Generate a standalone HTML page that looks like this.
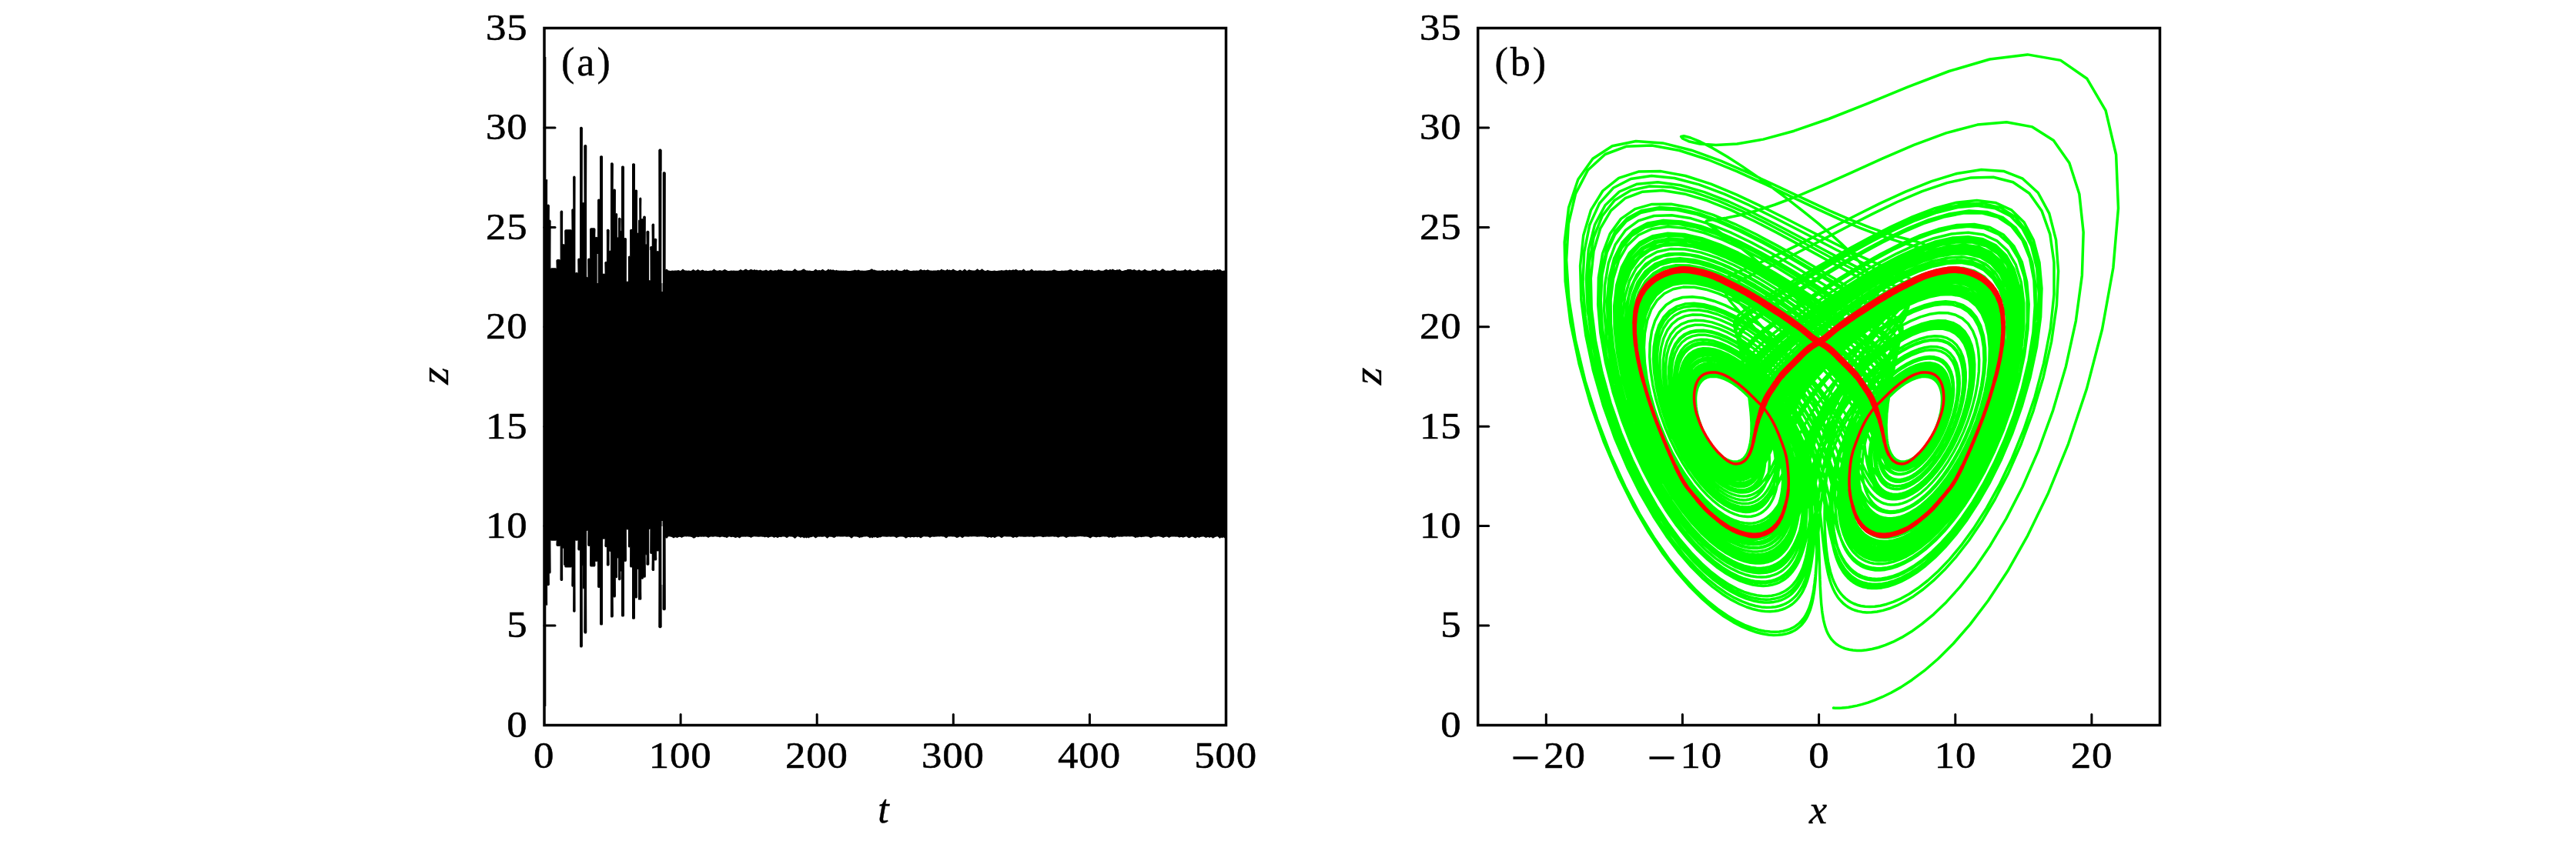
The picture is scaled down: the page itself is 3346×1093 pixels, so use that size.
<!DOCTYPE html>
<html><head><meta charset="utf-8"><title>Figure</title>
<style>html,body{margin:0;padding:0;background:#fff}svg{display:block}</style></head>
<body>
<svg width="3346" height="1093" viewBox="0 0 3346 1093">
<rect width="3346" height="1093" fill="#fff"/>
<g fill="#000">
<polygon points="706.5,372.0 706.5,330.0 709.2,234.1 711.1,234.1 710.6,266.9 713.7,266.9 713.2,286.9 715.4,286.9 714.9,349.7 723.1,349.7 722.6,338.3 727.9,338.3 727.7,274.9 731.1,274.9 730.6,318.3 732.5,318.3 732.0,318.3 733.9,318.3 733.4,299.7 743.0,299.7 742.5,272.6 744.8,272.6 744.3,229.8 747.3,229.8 746.8,355.4 751.0,355.4 750.5,336.8 753.6,336.8 753.1,166.2 756.7,166.2 756.2,264.1 757.6,264.1 757.1,264.1 759.0,264.1 758.5,189.3 762.2,189.3 761.7,361.1 763.9,361.1 763.4,336.8 766.7,336.8 766.2,297.7 773.3,297.7 772.8,309.2 776.1,309.2 776.2,259.8 779.6,259.8 779.1,203.6 783.0,203.6 782.5,356.8 786.1,356.8 785.6,341.1 788.4,341.1 787.9,299.2 791.5,299.2 791.0,326.8 793.5,326.8 793.0,212.7 796.7,212.7 796.2,247.0 799.8,247.0 799.3,278.3 802.1,278.3 801.6,309.7 803.5,309.7 803.0,284.1 806.4,284.1 805.9,301.2 807.5,301.2 807.0,217.0 810.9,217.0 810.4,310.3 813.8,310.3 813.3,366.8 816.4,366.8 815.9,334.0 818.7,334.0 818.2,299.2 821.5,299.2 821.0,213.6 824.9,213.6 824.4,247.8 828.1,247.8 827.6,304.0 829.5,304.0 829.0,286.9 830.9,286.9 830.4,257.8 833.2,257.8 832.7,285.5 835.8,285.5 835.3,281.8 838.6,281.8 838.1,318.3 840.1,318.3 839.6,301.2 843.2,301.2 842.7,365.4 844.9,365.4 844.4,321.1 847.2,321.1 846.7,292.0 850.0,292.0 849.5,311.2 853.2,311.2 852.7,327.4 856.0,327.4 855.5,195.0 859.5,195.0 859.1,373.4 861.0,373.4 860.7,224.7 864.6,224.7 864.1,351.1 867.4,351.1 866.0,372.0 866.0,680.0 867.4,698.0 864.1,698.0 864.6,791.8 860.7,791.8 861.0,678.6 859.1,678.6 859.5,814.9 855.5,814.9 856.0,715.1 852.7,715.1 853.2,727.1 849.5,727.1 850.0,740.8 846.7,740.8 847.2,718.5 844.4,718.5 844.9,686.6 842.7,686.6 843.2,733.4 839.6,733.4 840.1,719.9 838.1,719.9 838.6,749.3 835.3,749.3 835.8,751.3 832.7,751.3 833.2,778.4 830.4,778.4 830.9,778.4 829.0,778.4 829.5,738.5 827.6,738.5 828.1,776.1 824.4,776.1 824.9,803.3 821.0,803.3 821.5,736.2 818.2,736.2 818.7,710.0 815.9,710.0 816.4,687.1 813.3,687.1 813.8,728.5 810.4,728.5 810.9,800.1 807.0,800.1 807.5,741.3 805.9,741.3 806.4,752.8 803.0,752.8 803.5,724.2 801.6,724.2 802.1,749.9 799.3,749.9 799.8,775.0 796.2,775.0 796.7,801.3 793.0,801.3 793.5,715.7 791.0,715.7 791.5,734.2 787.9,734.2 788.4,710.0 785.6,710.0 786.1,699.4 782.5,699.4 783.0,811.2 779.1,811.2 779.6,762.7 776.2,762.7 776.1,728.5 772.8,728.5 773.3,735.1 766.2,735.1 766.7,708.5 763.4,708.5 763.9,688.6 761.7,688.6 762.2,822.1 758.5,822.1 759.0,764.2 757.1,764.2 757.6,734.2 756.2,734.2 756.7,840.1 753.1,840.1 753.6,714.2 750.5,714.2 751.0,701.4 746.8,701.4 747.3,794.4 744.3,794.4 744.8,761.3 742.5,761.3 743.0,736.2 733.4,736.2 733.9,733.4 732.0,733.4 732.5,711.4 730.6,711.4 731.1,753.6 727.7,753.6 727.9,708.5 722.6,708.5 723.1,701.4 714.9,701.4 715.4,744.2 713.2,744.2 713.7,759.9 710.6,759.9 711.1,785.6 709.2,785.6 706.5,700.0 706.5,680.0"/>
<rect x="706.5" y="368" width="160" height="316"/>
<rect x="709.2" y="232.7" width="1.9" height="554.2" rx="1.5"/>
<rect x="710.6" y="265.5" width="3.1" height="495.7" rx="1.5"/>
<rect x="713.2" y="285.5" width="2.2" height="460.1" rx="1.5"/>
<rect x="714.9" y="348.3" width="8.2" height="354.5" rx="1.5"/>
<rect x="722.6" y="336.9" width="5.4" height="373.1" rx="1.5"/>
<rect x="727.7" y="273.5" width="3.4" height="481.5" rx="1.5"/>
<rect x="730.6" y="316.9" width="1.9" height="395.9" rx="1.5"/>
<rect x="732.0" y="316.9" width="1.9" height="417.9" rx="1.5"/>
<rect x="733.4" y="298.3" width="9.6" height="439.3" rx="1.5"/>
<rect x="742.5" y="271.2" width="2.2" height="491.5" rx="1.5"/>
<rect x="744.3" y="228.4" width="3.1" height="567.4" rx="1.5"/>
<rect x="746.8" y="354.0" width="4.2" height="348.8" rx="1.5"/>
<rect x="750.5" y="335.4" width="3.1" height="380.2" rx="1.5"/>
<rect x="753.1" y="164.8" width="3.6" height="676.6" rx="1.5"/>
<rect x="756.2" y="262.7" width="1.4" height="472.9" rx="1.5"/>
<rect x="757.1" y="262.7" width="1.9" height="502.9" rx="1.5"/>
<rect x="758.5" y="187.9" width="3.6" height="635.5" rx="1.5"/>
<rect x="761.7" y="359.7" width="2.2" height="330.3" rx="1.5"/>
<rect x="763.4" y="335.4" width="3.4" height="374.5" rx="1.5"/>
<rect x="766.2" y="296.3" width="7.1" height="440.1" rx="1.5"/>
<rect x="772.8" y="307.8" width="3.4" height="422.1" rx="1.5"/>
<rect x="776.2" y="258.4" width="3.4" height="505.7" rx="1.5"/>
<rect x="779.1" y="202.2" width="3.9" height="610.4" rx="1.5"/>
<rect x="782.5" y="355.4" width="3.6" height="345.4" rx="1.5"/>
<rect x="785.6" y="339.7" width="2.8" height="371.6" rx="1.5"/>
<rect x="787.9" y="297.8" width="3.6" height="437.8" rx="1.5"/>
<rect x="791.0" y="325.4" width="2.5" height="391.6" rx="1.5"/>
<rect x="793.0" y="211.3" width="3.6" height="591.3" rx="1.5"/>
<rect x="796.2" y="245.6" width="3.6" height="530.8" rx="1.5"/>
<rect x="799.3" y="276.9" width="2.8" height="474.4" rx="1.5"/>
<rect x="801.6" y="308.3" width="1.9" height="417.3" rx="1.5"/>
<rect x="803.0" y="282.7" width="3.4" height="471.5" rx="1.5"/>
<rect x="805.9" y="299.8" width="1.6" height="443.0" rx="1.5"/>
<rect x="807.0" y="215.6" width="3.9" height="585.9" rx="1.5"/>
<rect x="810.4" y="308.9" width="3.4" height="421.0" rx="1.5"/>
<rect x="813.3" y="365.4" width="3.1" height="323.1" rx="1.5"/>
<rect x="815.9" y="332.6" width="2.8" height="378.8" rx="1.5"/>
<rect x="818.2" y="297.8" width="3.4" height="439.8" rx="1.5"/>
<rect x="821.0" y="212.2" width="3.9" height="592.5" rx="1.5"/>
<rect x="824.4" y="246.4" width="3.6" height="531.1" rx="1.5"/>
<rect x="827.6" y="302.6" width="1.9" height="437.3" rx="1.5"/>
<rect x="829.0" y="285.5" width="1.9" height="494.3" rx="1.5"/>
<rect x="830.4" y="256.4" width="2.8" height="523.4" rx="1.5"/>
<rect x="832.7" y="284.1" width="3.1" height="468.6" rx="1.5"/>
<rect x="835.3" y="280.4" width="3.4" height="470.4" rx="1.5"/>
<rect x="838.1" y="316.9" width="1.9" height="404.5" rx="1.5"/>
<rect x="839.6" y="299.8" width="3.6" height="435.0" rx="1.5"/>
<rect x="842.7" y="364.0" width="2.2" height="324.0" rx="1.5"/>
<rect x="844.4" y="319.7" width="2.8" height="400.2" rx="1.5"/>
<rect x="846.7" y="290.6" width="3.4" height="451.5" rx="1.5"/>
<rect x="849.5" y="309.8" width="3.6" height="418.7" rx="1.5"/>
<rect x="852.7" y="326.0" width="3.4" height="390.5" rx="1.5"/>
<rect x="855.5" y="193.6" width="3.9" height="622.7" rx="1.5"/>
<rect x="859.1" y="372.0" width="1.9" height="308.0" rx="1.5"/>
<rect x="860.7" y="223.3" width="3.9" height="569.9" rx="1.5"/>
<rect x="864.1" y="349.7" width="3.4" height="349.7" rx="1.5"/>
<polygon points="864.4,360.0 864.8,354.5 865.6,352.5 866.0,351.7 867.5,351.5 869.0,351.6 870.5,351.9 872.0,351.8 873.5,351.5 875.0,351.8 876.5,351.5 878.0,351.6 879.5,351.5 881.0,350.9 882.5,351.5 884.0,352.0 885.5,350.8 887.0,349.6 888.5,350.8 890.0,351.4 891.5,351.6 893.0,351.7 894.5,351.4 896.0,351.8 897.5,351.9 899.0,350.9 900.5,349.9 902.0,350.9 903.5,351.8 905.0,350.9 906.5,349.9 908.0,350.9 909.5,351.8 911.0,351.3 912.5,350.5 914.0,351.3 915.5,351.9 917.0,351.6 918.5,351.9 920.0,351.9 921.5,351.8 923.0,351.5 924.5,351.8 926.0,350.7 927.5,349.4 929.0,350.7 930.5,351.5 932.0,351.7 933.5,351.5 935.0,350.9 936.5,351.5 938.0,351.8 939.5,350.9 941.0,349.9 942.5,350.5 944.0,351.3 945.5,351.9 947.0,351.9 948.5,351.8 950.0,351.5 951.5,351.8 953.0,351.4 954.5,351.7 956.0,351.7 957.5,351.7 959.0,351.7 960.5,351.0 962.0,350.0 963.5,351.0 965.0,351.4 966.5,350.8 968.0,349.7 969.5,349.8 971.0,350.9 972.5,351.3 974.0,350.6 975.5,349.7 977.0,350.5 978.5,351.0 980.0,350.1 981.5,351.0 983.0,350.4 984.5,351.2 986.0,351.3 987.5,350.6 989.0,351.3 990.5,351.8 992.0,351.5 993.5,351.3 995.0,350.6 996.5,351.3 998.0,351.9 999.5,351.2 1001.0,350.4 1002.5,351.2 1004.0,351.8 1005.5,351.5 1007.0,351.0 1008.5,351.5 1010.0,351.0 1011.5,350.1 1013.0,350.9 1014.5,349.9 1016.0,350.9 1017.5,351.7 1019.0,351.9 1020.5,351.8 1022.0,351.5 1023.5,351.8 1025.0,351.7 1026.5,351.7 1028.0,351.9 1029.5,351.8 1031.0,350.6 1032.5,349.2 1034.0,350.6 1035.5,351.5 1037.0,351.8 1038.5,351.6 1040.0,351.6 1041.5,350.8 1043.0,349.7 1044.5,349.5 1046.0,350.7 1047.5,351.6 1049.0,351.6 1050.5,351.8 1052.0,351.6 1053.5,351.9 1055.0,352.0 1056.5,351.9 1058.0,350.8 1059.5,349.7 1061.0,350.8 1062.5,351.4 1064.0,350.8 1065.5,351.4 1067.0,350.8 1068.5,349.7 1070.0,350.8 1071.5,351.8 1073.0,351.8 1074.5,350.7 1076.0,349.5 1077.5,350.7 1079.0,350.1 1080.5,351.1 1082.0,350.3 1083.5,351.1 1085.0,351.4 1086.5,350.8 1088.0,351.4 1089.5,351.4 1091.0,351.8 1092.5,351.6 1094.0,351.7 1095.5,351.6 1097.0,351.7 1098.5,351.4 1100.0,351.8 1101.5,351.9 1103.0,352.0 1104.5,352.1 1106.0,351.8 1107.5,351.5 1109.0,351.3 1110.5,350.5 1112.0,351.3 1113.5,351.3 1115.0,350.5 1116.5,351.3 1118.0,351.8 1119.5,351.4 1121.0,351.8 1122.5,351.7 1124.0,351.7 1125.5,351.6 1127.0,351.2 1128.5,350.9 1130.0,350.7 1131.5,349.5 1133.0,349.4 1134.5,350.7 1136.0,350.5 1137.5,351.2 1139.0,351.5 1140.5,351.8 1142.0,351.5 1143.5,351.7 1145.0,351.4 1146.5,351.0 1148.0,351.5 1149.5,352.0 1151.0,351.4 1152.5,350.7 1154.0,351.4 1155.5,351.7 1157.0,351.3 1158.5,350.6 1160.0,351.3 1161.5,351.8 1163.0,351.0 1164.5,350.1 1166.0,351.0 1167.5,351.7 1169.0,351.7 1170.5,351.9 1172.0,351.7 1173.5,351.1 1175.0,350.1 1176.5,351.0 1178.0,350.1 1179.5,351.0 1181.0,351.6 1182.5,351.9 1184.0,351.9 1185.5,351.7 1187.0,351.6 1188.5,351.8 1190.0,351.5 1191.5,351.6 1193.0,351.8 1194.5,350.8 1196.0,349.7 1197.5,350.8 1199.0,351.2 1200.5,350.5 1202.0,351.2 1203.5,351.1 1205.0,350.3 1206.5,351.1 1208.0,351.5 1209.5,351.6 1211.0,351.8 1212.5,351.6 1214.0,351.5 1215.5,351.5 1217.0,351.4 1218.5,350.7 1220.0,351.4 1221.5,350.8 1223.0,349.6 1224.5,350.8 1226.0,350.7 1227.5,351.4 1229.0,350.9 1230.5,349.8 1232.0,350.9 1233.5,350.6 1235.0,351.3 1236.5,350.7 1238.0,349.4 1239.5,350.5 1241.0,351.3 1242.5,351.8 1244.0,352.0 1245.5,351.2 1247.0,350.4 1248.5,351.2 1250.0,351.9 1251.5,350.8 1253.0,349.6 1254.5,350.8 1256.0,351.9 1257.5,351.1 1259.0,350.3 1260.5,351.1 1262.0,351.2 1263.5,351.6 1265.0,351.5 1266.5,351.5 1268.0,350.6 1269.5,349.2 1271.0,350.6 1272.5,351.2 1274.0,350.6 1275.5,349.3 1277.0,350.6 1278.5,351.6 1280.0,351.9 1281.5,351.4 1283.0,350.8 1284.5,351.4 1286.0,351.7 1287.5,351.9 1289.0,352.0 1290.5,351.8 1292.0,351.6 1293.5,351.9 1295.0,352.0 1296.5,351.8 1298.0,351.6 1299.5,351.5 1301.0,351.1 1302.5,351.6 1304.0,351.6 1305.5,351.3 1307.0,350.5 1308.5,351.3 1310.0,351.3 1311.5,350.6 1313.0,351.3 1314.5,351.1 1316.0,350.2 1317.5,350.9 1319.0,349.9 1320.5,350.3 1322.0,351.2 1323.5,351.5 1325.0,350.9 1326.5,351.5 1328.0,350.7 1329.5,349.5 1331.0,350.7 1332.5,351.9 1334.0,351.8 1335.5,351.6 1337.0,351.8 1338.5,350.7 1340.0,349.5 1341.5,350.7 1343.0,351.9 1344.5,351.6 1346.0,351.4 1347.5,351.8 1349.0,351.6 1350.5,351.5 1352.0,351.5 1353.5,351.8 1355.0,351.8 1356.5,351.4 1358.0,351.8 1359.5,351.9 1361.0,351.7 1362.5,351.8 1364.0,351.6 1365.5,351.8 1367.0,351.2 1368.5,350.4 1370.0,350.6 1371.5,351.3 1373.0,351.8 1374.5,352.0 1376.0,351.9 1377.5,351.9 1379.0,351.6 1380.5,351.8 1382.0,351.8 1383.5,351.4 1385.0,351.5 1386.5,351.5 1388.0,351.1 1389.5,350.3 1391.0,350.3 1392.5,351.1 1394.0,352.0 1395.5,351.8 1397.0,351.3 1398.5,350.6 1400.0,351.3 1401.5,351.8 1403.0,351.9 1404.5,351.7 1406.0,351.9 1407.5,350.9 1409.0,349.9 1410.5,350.9 1412.0,350.3 1413.5,351.2 1415.0,350.3 1416.5,351.2 1418.0,350.5 1419.5,351.3 1421.0,352.1 1422.5,351.8 1424.0,351.4 1425.5,351.2 1427.0,350.4 1428.5,351.2 1430.0,351.8 1431.5,351.8 1433.0,351.8 1434.5,351.1 1436.0,350.2 1437.5,350.1 1439.0,351.0 1440.5,350.8 1442.0,349.7 1443.5,350.8 1445.0,349.6 1446.5,350.2 1448.0,351.1 1449.5,351.1 1451.0,350.2 1452.5,350.8 1454.0,349.7 1455.5,350.8 1457.0,351.9 1458.5,351.9 1460.0,351.5 1461.5,351.0 1463.0,351.0 1464.5,350.0 1466.0,350.1 1467.5,349.9 1469.0,350.0 1470.5,351.0 1472.0,350.6 1473.5,349.9 1475.0,351.0 1476.5,351.6 1478.0,351.2 1479.5,350.3 1481.0,351.2 1482.5,351.7 1484.0,351.4 1485.5,350.8 1487.0,349.7 1488.5,350.8 1490.0,351.5 1491.5,351.8 1493.0,351.7 1494.5,351.9 1496.0,351.2 1497.5,350.3 1499.0,350.9 1500.5,349.8 1502.0,350.8 1503.5,351.4 1505.0,351.8 1506.5,351.9 1508.0,350.8 1509.5,349.6 1511.0,349.4 1512.5,350.7 1514.0,351.7 1515.5,351.8 1517.0,351.5 1518.5,351.8 1520.0,351.8 1521.5,351.5 1523.0,350.9 1524.5,350.7 1526.0,349.4 1527.5,350.7 1529.0,351.8 1530.5,351.5 1532.0,351.8 1533.5,351.8 1535.0,351.6 1536.5,351.6 1538.0,350.9 1539.5,349.8 1541.0,350.9 1542.5,351.5 1544.0,351.1 1545.5,350.1 1547.0,351.1 1548.5,351.9 1550.0,351.8 1551.5,351.9 1553.0,351.6 1554.5,351.0 1556.0,350.2 1557.5,351.1 1559.0,351.8 1560.5,351.8 1562.0,351.5 1563.5,351.2 1565.0,350.4 1566.5,351.2 1568.0,350.5 1569.5,351.3 1571.0,350.9 1572.5,351.5 1574.0,351.5 1575.5,351.0 1577.0,350.1 1578.5,351.0 1580.0,350.8 1581.5,349.7 1583.0,350.8 1584.5,349.8 1586.0,350.9 1587.5,352.0 1589.0,351.8 1590.5,351.4 1592.0,351.8 1592.5,351.0 1592.5,698.0 1592.0,699.8 1590.5,699.2 1589.0,698.3 1587.5,699.3 1586.0,698.6 1584.5,699.9 1583.0,698.6 1581.5,697.3 1580.0,697.4 1578.5,698.0 1577.0,698.7 1575.5,699.7 1574.0,698.5 1572.5,698.1 1571.0,698.9 1569.5,698.1 1568.0,698.2 1566.5,699.1 1565.0,698.2 1563.5,697.4 1562.0,697.4 1560.5,697.7 1559.0,698.1 1557.5,699.1 1556.0,698.1 1554.5,698.4 1553.0,699.5 1551.5,698.9 1550.0,698.1 1548.5,697.4 1547.0,698.1 1545.5,699.0 1544.0,699.2 1542.5,698.2 1541.0,697.3 1539.5,697.7 1538.0,698.3 1536.5,698.7 1535.0,697.9 1533.5,697.9 1532.0,698.7 1530.5,697.9 1529.0,697.4 1527.5,697.8 1526.0,697.4 1524.5,697.4 1523.0,697.6 1521.5,697.5 1520.0,698.0 1518.5,698.9 1517.0,698.0 1515.5,697.6 1514.0,697.7 1512.5,698.2 1511.0,699.1 1509.5,698.2 1508.0,697.7 1506.5,697.4 1505.0,697.1 1503.5,697.2 1502.0,697.4 1500.5,697.7 1499.0,697.5 1497.5,698.0 1496.0,698.8 1494.5,699.2 1493.0,698.2 1491.5,697.6 1490.0,697.4 1488.5,697.3 1487.0,697.5 1485.5,697.8 1484.0,697.7 1482.5,698.3 1481.0,697.7 1479.5,697.8 1478.0,698.4 1476.5,698.2 1475.0,699.3 1473.5,698.2 1472.0,697.4 1470.5,697.2 1469.0,697.3 1467.5,697.6 1466.0,697.3 1464.5,697.2 1463.0,697.4 1461.5,697.3 1460.0,697.3 1458.5,697.6 1457.0,697.7 1455.5,697.6 1454.0,697.8 1452.5,697.4 1451.0,697.2 1449.5,698.0 1448.0,698.8 1446.5,698.2 1445.0,699.1 1443.5,698.2 1442.0,698.1 1440.5,699.0 1439.0,698.1 1437.5,697.4 1436.0,697.4 1434.5,697.6 1433.0,697.3 1431.5,697.6 1430.0,697.7 1428.5,698.3 1427.0,697.7 1425.5,697.9 1424.0,698.6 1422.5,697.9 1421.0,697.8 1419.5,697.4 1418.0,698.3 1416.5,699.4 1415.0,699.0 1413.5,698.1 1412.0,697.8 1410.5,697.4 1409.0,697.7 1407.5,697.4 1406.0,697.3 1404.5,697.2 1403.0,697.1 1401.5,697.2 1400.0,697.3 1398.5,697.5 1397.0,697.7 1395.5,697.8 1394.0,697.4 1392.5,697.8 1391.0,697.4 1389.5,697.4 1388.0,697.8 1386.5,698.3 1385.0,699.3 1383.5,698.3 1382.0,697.4 1380.5,697.3 1379.0,697.4 1377.5,697.6 1376.0,698.0 1374.5,698.8 1373.0,698.0 1371.5,697.4 1370.0,697.8 1368.5,697.4 1367.0,697.2 1365.5,697.4 1364.0,697.4 1362.5,697.8 1361.0,697.5 1359.5,697.5 1358.0,697.7 1356.5,697.7 1355.0,698.2 1353.5,697.7 1352.0,697.2 1350.5,697.3 1349.0,697.3 1347.5,697.4 1346.0,697.5 1344.5,697.8 1343.0,698.5 1341.5,697.8 1340.0,697.6 1338.5,697.6 1337.0,697.7 1335.5,697.4 1334.0,697.5 1332.5,697.7 1331.0,697.8 1329.5,697.7 1328.0,697.6 1326.5,697.4 1325.0,697.4 1323.5,697.2 1322.0,697.9 1320.5,698.7 1319.0,697.9 1317.5,698.2 1316.0,699.2 1314.5,698.2 1313.0,697.5 1311.5,697.4 1310.0,697.6 1308.5,697.4 1307.0,697.6 1305.5,697.3 1304.0,697.3 1302.5,698.2 1301.0,699.2 1299.5,698.2 1298.0,697.3 1296.5,697.3 1295.0,697.5 1293.5,698.3 1292.0,699.3 1290.5,698.3 1289.0,698.1 1287.5,699.1 1286.0,698.1 1284.5,698.1 1283.0,699.0 1281.5,698.1 1280.0,697.7 1278.5,697.4 1277.0,697.3 1275.5,697.5 1274.0,697.3 1272.5,697.6 1271.0,697.4 1269.5,697.8 1268.0,697.6 1266.5,697.3 1265.0,697.3 1263.5,697.2 1262.0,697.4 1260.5,697.3 1259.0,697.4 1257.5,697.7 1256.0,697.4 1254.5,697.5 1253.0,697.3 1251.5,698.3 1250.0,699.3 1248.5,698.3 1247.0,697.3 1245.5,698.0 1244.0,698.8 1242.5,699.1 1241.0,698.1 1239.5,697.5 1238.0,697.4 1236.5,697.5 1235.0,697.3 1233.5,697.5 1232.0,697.3 1230.5,698.4 1229.0,699.6 1227.5,698.4 1226.0,697.4 1224.5,697.4 1223.0,697.3 1221.5,697.3 1220.0,697.6 1218.5,697.3 1217.0,697.6 1215.5,697.4 1214.0,697.7 1212.5,697.7 1211.0,697.5 1209.5,698.1 1208.0,699.0 1206.5,698.1 1205.0,697.6 1203.5,697.4 1202.0,697.6 1200.5,697.3 1199.0,697.4 1197.5,698.4 1196.0,699.5 1194.5,698.4 1193.0,697.8 1191.5,698.5 1190.0,697.8 1188.5,697.9 1187.0,698.5 1185.5,697.9 1184.0,697.9 1182.5,698.7 1181.0,697.9 1179.5,698.1 1178.0,699.0 1176.5,699.8 1175.0,698.6 1173.5,697.7 1172.0,697.5 1170.5,697.6 1169.0,697.5 1167.5,697.8 1166.0,698.3 1164.5,699.3 1163.0,698.3 1161.5,697.4 1160.0,697.4 1158.5,697.4 1157.0,697.7 1155.5,697.5 1154.0,697.4 1152.5,697.7 1151.0,697.7 1149.5,697.4 1148.0,697.4 1146.5,697.2 1145.0,697.8 1143.5,698.5 1142.0,698.2 1140.5,699.1 1139.0,698.9 1137.5,698.1 1136.0,698.6 1134.5,698.3 1133.0,699.4 1131.5,698.3 1130.0,699.4 1128.5,698.3 1127.0,697.4 1125.5,697.3 1124.0,697.6 1122.5,697.4 1121.0,697.8 1119.5,698.4 1118.0,698.2 1116.5,699.2 1115.0,698.2 1113.5,697.7 1112.0,697.6 1110.5,697.4 1109.0,697.3 1107.5,698.6 1106.0,699.8 1104.5,698.6 1103.0,697.5 1101.5,697.4 1100.0,697.7 1098.5,697.4 1097.0,697.3 1095.5,697.5 1094.0,697.5 1092.5,697.6 1091.0,697.4 1089.5,697.2 1088.0,697.4 1086.5,697.2 1085.0,698.2 1083.5,699.1 1082.0,698.5 1080.5,697.8 1079.0,697.7 1077.5,697.4 1076.0,698.6 1074.5,699.8 1073.0,698.6 1071.5,697.3 1070.0,697.4 1068.5,697.7 1067.0,697.8 1065.5,697.4 1064.0,697.8 1062.5,697.4 1061.0,698.4 1059.5,699.5 1058.0,698.4 1056.5,697.3 1055.0,697.7 1053.5,698.3 1052.0,698.3 1050.5,699.5 1049.0,698.4 1047.5,699.6 1046.0,698.4 1044.5,699.6 1043.0,698.4 1041.5,698.1 1040.0,698.9 1038.5,698.1 1037.0,697.4 1035.5,697.2 1034.0,698.7 1032.5,700.0 1031.0,698.7 1029.5,697.7 1028.0,697.4 1026.5,697.6 1025.0,697.3 1023.5,698.2 1022.0,699.2 1020.5,698.2 1019.0,697.4 1017.5,697.4 1016.0,697.6 1014.5,698.2 1013.0,697.7 1011.5,698.2 1010.0,699.3 1008.5,698.2 1007.0,698.1 1005.5,699.1 1004.0,698.1 1002.5,697.6 1001.0,697.7 999.5,698.0 998.0,698.9 996.5,698.3 995.0,697.8 993.5,698.5 992.0,697.8 990.5,697.7 989.0,697.4 987.5,697.4 986.0,697.7 984.5,697.8 983.0,697.4 981.5,697.6 980.0,697.3 978.5,697.4 977.0,698.1 975.5,699.0 974.0,698.1 972.5,697.7 971.0,697.4 969.5,697.4 968.0,697.8 966.5,697.4 965.0,697.7 963.5,697.4 962.0,698.4 960.5,699.6 959.0,698.4 957.5,698.1 956.0,699.0 954.5,698.7 953.0,697.9 951.5,697.7 950.0,698.3 948.5,697.7 947.0,697.3 945.5,698.2 944.0,699.2 942.5,698.2 941.0,698.3 939.5,697.7 938.0,697.5 936.5,697.8 935.0,698.4 933.5,697.8 932.0,697.7 930.5,697.4 929.0,697.2 927.5,697.4 926.0,697.7 924.5,697.5 923.0,697.5 921.5,698.1 920.0,699.1 918.5,698.1 917.0,697.6 915.5,697.4 914.0,697.7 912.5,697.6 911.0,697.7 909.5,697.5 908.0,697.7 906.5,698.2 905.0,697.6 903.5,698.4 902.0,699.5 900.5,699.4 899.0,698.3 897.5,697.7 896.0,697.6 894.5,697.4 893.0,697.2 891.5,697.4 890.0,697.2 888.5,697.4 887.0,698.0 885.5,698.9 884.0,698.0 882.5,697.7 881.0,698.2 879.5,699.2 878.0,698.2 876.5,698.5 875.0,699.6 873.5,698.5 872.0,697.8 870.5,697.4 869.0,697.3 867.5,697.5 866.0,698.5 865.6,696.5 864.8,694.5 864.4,690.0"/>
<rect x="706.6" y="74.0" width="2.7" height="843.9"/>
</g>
<g stroke="#fff" stroke-width="0.9"><line x1="776.2" y1="330" x2="776.2" y2="368"/><line x1="860.1" y1="222" x2="860.1" y2="379"/><line x1="860.1" y1="677" x2="860.1" y2="760"/><line x1="843.8" y1="325" x2="843.8" y2="364"/><line x1="828.5" y1="290" x2="828.5" y2="302"/></g>
<path d="M2381.5 920.0l2.1 0.2 2.5 0 2.9 0 3.4 -0.1 4 -0.4 4.5 -0.5 5.2 -0.9 5.9 -1.2 6.7 -1.7 7.7 -2.3 8.8 -3.2 9.9 -4.2 11.3 -5.5 12.7 -7.1 14.3 -9.4 16.1 -12 17.9 -15.5 19.8 -19.7 21.7 -24.9 23.6 -31.1 25.2 -38.2 26.2 -46.5 26.7 -55.1 26 -63.9 23.9 -71.7 20.1 -77.4 14.3 -79.7 6.6 -77.3 -2.9 -69.7 -13.5 -57.3 -24.2 -41.4 -34.4 -23.9 -42.9 -7.5 -49.1 6.1 -52.8 15.5 -53.9 20.6 -52.7 21.7 -49.7 19.7 -45.2 15.7 -40 10.9 -33.9 5.9 -27.5 1.6 -20.9 -1.6 -14.4 -3.3 -8 -3.7 -1.9 -2.6 3.6 -0.6 8.6 2.2 12.7 5.2 16 8.2 18.4 10.9 20 12.8 20.8 14.3 20.7 15.1 20.3 15.3 19.1 15 17.7 14.4 16 13.7 14.2 12.7 12.2 11.7 10.3 11 8.5 10.1 6.6 9.5 4.9 9.1 3.4 8.6 2 8.5 0.7 8.3 -0.3 8.3 -1.3 8.3 -2 8.3 -2.7 8.5 -3.1 8.6 -3.5 8.7 -3.7 8.7 -3.9 8.9 -3.9 8.8 -3.9 8.9 -3.9 8.9 -3.7 8.9 -3.6 8.8 -3.3 8.8 -3.2 8.6 -2.9 8.6 -2.8 8.4 -2.4 8.3 -2.3 8.2 -2 8 -1.9 7.9 -1.6 7.8 -1.5 7.6 -1.2 7.4 -1.2 7.3 -0.9 7.2 -0.8 7 -0.7 6.9 -0.6 6.7 -0.5 6.6 -0.3 6.5 -0.3 6.3 -0.2 6.2 -0.1 6 -0.1 5.9 0 5.8 0.1 5.7 0.2 5.6 0.2 5.4 0.3 5.3 0.3 5.2 0.4 5.1 0.5 4.9 0.6 4.9 0.6 4.7 0.7 4.7 0.7 4.5 0.9 4.4 1 4.3 1 4.2 1.2 4 1.3 4 1.5 3.8 1.6 3.7 1.8 3.6 1.9 3.5 2.2 3.3 2.4 3.1 2.7 3 2.9 2.7 3.3 2.6 3.6 2.3 4 2 4.4 1.7 4.9 1.3 5.4 0.8 6 0.3 6.6 -0.3 7.3 -1.1 8.1 -2 8.9 -3 9.7 -4.4 10.6 -5.8 11.6 -7.7 12.6 -9.8 13.6 -12.3 14.5 -15.1 15.4 -18.4 16.1 -22.1 16.6 -26 16.7 -30.2 16.4 -34.4 15.6 -38.3 14.1 -41.7 11.7 -44.1 8.7 -45 4.6 -44.3 0 -41.5 -5.2 -36.8 -10.8 -30.4 -16.1 -22.7 -21.2 -14.5 -25.5 -6.5 -28.9 0.7 -31.2 6.7 -32.4 11 -32.5 13.9 -31.7 15.3 -30.2 15.4 -28.1 14.7 -25.6 13.4 -22.9 11.7 -20 10 -17.1 8.1 -14.3 6.7 -11.4 5.3 -8.9 4.4 -6.3 3.7 -4 3.5 -2 3.4 0 3.6 1.7 4.1 3.1 4.5 4.4 5.3 5.3 5.9 6.2 6.6 6.7 7.2 7.2 7.7 7.3 8.3 7.5 8.7 7.4 9 7.2 9.2 6.9 9.3 6.7 9.4 6.3 9.5 5.9 9.4 5.4 9.3 5.1 9.2 4.6 9.1 4.2 8.9 3.9 8.7 3.4 8.6 3.2 8.3 2.8 8.2 2.6 8 2.3 7.8 2.1 7.6 1.9 7.4 1.8 7.2 1.6 7.1 1.6 6.9 1.5 6.7 1.4 6.5 1.4 6.4 1.3 6.2 1.4 6 1.4 5.8 1.5 5.7 1.5 5.5 1.6 5.4 1.8 5.1 1.8 5 2 4.8 2.1 4.6 2.3 4.3 2.5 4.2 2.8 3.9 2.9 3.7 3.3 3.3 3.5 3.1 3.9 2.7 4.2 2.3 4.6 1.9 5 1.4 5.4 0.8 5.9 0.2 6.5 -0.6 7 -1.4 7.5 -2.4 8.1 -3.4 8.8 -4.8 9.3 -6.1 10 -7.8 10.5 -9.6 11.1 -11.7 11.5 -13.8 11.8 -16.1 11.9 -18.7 11.9 -21.1 11.5 -23.6 10.8 -25.9 9.7 -27.8 8.3 -29.1 6.3 -29.8 3.9 -29.5 1.1 -28.4 -2 -26.1 -5.3 -23 -8.6 -19 -11.9 -14.4 -15 -9.6 -17.6 -4.9 -19.6 -0.3 -21.3 3.6 -22.1 6.9 -22.6 9.4 -22.3 11.1 -21.7 12.2 -20.8 12.7 -19.4 12.7 -18 12.3 -16.4 11.7 -14.7 10.9 -13.1 10.1 -11.5 9.3 -10 8.5 -8.5 7.6 -7.2 7 -5.9 6.4 -4.9 6 -3.8 5.5 -2.9 5.1 -2.2 5 -1.4 4.7 -0.9 4.7 -0.3 4.6 0.1 4.5 0.4 4.5 0.8 4.5 0.9 4.6 1.2 4.6 1.2 4.7 1.3 4.6 1.4 4.8 1.3 4.7 1.3 4.8 1.2 4.7 1.2 4.8 1 4.7 0.9 4.7 0.7 4.6 0.6 4.6 0.4 4.5 0.2 4.4 0 4.3 -0.2 4.1 -0.4 4.1 -0.6 3.8 -0.8 3.7 -1 3.5 -1.3 3.3 -1.5 3 -1.7 2.8 -1.9 2.5 -2.2 2.2 -2.5 1.9 -2.7 1.6 -2.9 1.1 -3.2 0.7 -3.4 0.3 -3.7 -0.3 -3.9 -0.7 -4.1 -1.3 -4.4 -2 -4.6 -2.5 -4.7 -3.3 -5 -4 -5 -4.7 -5.1 -5.5 -5.2 -6.2 -5.1 -7.1 -5 -7.8 -4.9 -8.5 -4.7 -9.2 -4.2 -9.8 -3.9 -10.3 -3.3 -10.7 -2.7 -10.8 -1.9 -10.8 -1.1 -10.6 -0.2 -10.3 0.8 -9.6 1.8 -8.8 2.8 -7.8 3.9 -6.6 4.8 -5.4 5.7 -3.9 6.6 -2.5 7.4 -1.1 7.9 0.3 8.4 1.7 8.8 2.9 9 4 9 5 9 5.8 8.8 6.6 8.6 7.1 8.3 7.6 7.8 7.9 7.4 8.2 7 8.3 6.4 8.4 6 8.5 5.5 8.4 5 8.3 4.5 8.3 4.1 8.1 3.7 8.1 3.3 7.8 3 7.8 2.7 7.6 2.4 7.4 2.1 7.3 1.9 7.1 1.8 6.9 1.5 6.8 1.5 6.7 1.3 6.5 1.2 6.3 1.2 6.2 1.1 6.1 1.1 5.9 1.1 5.8 1 5.6 1.1 5.5 1.1 5.4 1.2 5.2 1.2 5.1 1.3 4.9 1.3 4.8 1.5 4.7 1.6 4.5 1.7 4.4 1.9 4.2 2 4.1 2.3 3.9 2.4 3.7 2.7 3.5 3 3.2 3.2 3.1 3.5 2.7 3.9 2.5 4.3 2.1 4.7 1.7 5.2 1.2 5.7 0.7 6.3 0.1 6.8 -0.6 7.5 -1.6 8.2 -2.5 8.9 -3.6 9.7 -5.1 10.5 -6.6 11.3 -8.5 12.1 -10.7 12.8 -13 13.6 -15.8 14 -18.8 14.5 -22 14.6 -25.3 14.3 -28.8 13.6 -31.9 12.4 -34.7 10.7 -36.8 8.2 -37.9 5.1 -37.7 1.5 -36.1 -2.7 -33 -7 -28.5 -11.6 -22.7 -15.8 -16.5 -19.8 -9.8 -23 -3.5 -25.5 2.2 -27.1 6.7 -27.9 10.3 -27.9 12.6 -27.2 13.8 -25.9 14.3 -24.2 13.9 -22.2 13.1 -20 11.9 -17.8 10.7 -15.4 9.3 -13.2 8.1 -11.1 7 -9 6 -7 5.3 -5.3 4.8 -3.7 4.4 -2.2 4.3 -0.8 4.2 0.3 4.3 1.3 4.6 2.2 4.8 2.9 5.2 3.5 5.5 3.9 5.9 4.3 6.2 4.5 6.5 4.7 6.8 4.6 7.1 4.7 7.2 4.5 7.4 4.4 7.6 4.2 7.6 4 7.7 3.8 7.7 3.4 7.8 3.2 7.6 3 7.7 2.6 7.5 2.4 7.5 2.1 7.4 1.9 7.2 1.6 7.2 1.3 7 1.2 7 0.9 6.7 0.7 6.7 0.6 6.5 0.3 6.4 0.2 6.3 0 6.1 -0.2 6 -0.4 5.8 -0.5 5.7 -0.6 5.5 -0.9 5.4 -1 5.2 -1.2 5.1 -1.3 4.9 -1.5 4.8 -1.8 4.6 -1.9 4.4 -2.2 4.1 -2.4 4 -2.6 3.8 -3 3.4 -3.2 3.2 -3.5 2.9 -4 2.6 -4.2 2.2 -4.7 1.7 -5.2 1.2 -5.6 0.6 -6.1 0 -6.6 -0.8 -7.3 -1.6 -7.8 -2.7 -8.5 -3.8 -9.2 -5.2 -9.8 -6.7 -10.4 -8.4 -11.1 -10.4 -11.6 -12.5 -12.1 -15 -12.5 -17.4 -12.5 -20.2 -12.5 -22.8 -12 -25.5 -11.2 -27.8 -10 -29.8 -8.4 -31.2 -6.1 -31.7 -3.5 -31.2 -0.4 -29.7 3 -26.9 6.6 -23.3 10.2 -18.7 13.6 -13.7 16.8 -8.4 19.4 -3.4 21.5 1.3 22.9 5.2 23.7 8.4 23.7 10.6 23.4 12.1 22.5 12.9 21.3 13.1 19.7 12.8 18.1 12.2 16.4 11.4 14.5 10.4 12.8 9.6 11.1 8.5 9.5 7.8 7.9 6.9 6.5 6.4 5.3 5.7 4 5.4 3.1 5 2 4.8 1.3 4.7 0.6 4.6 -0.1 4.5 -0.6 4.6 -1 4.7 -1.4 4.8 -1.7 4.8 -1.8 5 -2 5.1 -2.1 5.1 -2.1 5.3 -2.2 5.4 -2 5.4 -2 5.4 -1.9 5.5 -1.8 5.6 -1.6 5.5 -1.4 5.5 -1.3 5.4 -1.1 5.4 -0.8 5.3 -0.7 5.3 -0.4 5.1 -0.2 5.1 0 4.9 0.2 4.8 0.5 4.6 0.7 4.4 0.9 4.3 1.2 4.1 1.4 3.8 1.7 3.6 1.9 3.3 2.2 3 2.5 2.8 2.7 2.3 3.1 2 3.3 1.6 3.6 1.1 3.9 0.7 4.2 0.1 4.5 -0.5 4.9 -1.1 5.1 -1.9 5.4 -2.6 5.7 -3.4 5.9 -4.2 6.2 -5.3 6.3 -6.2 6.5 -7.2 6.5 -8.3 6.5 -9.3 6.4 -10.4 6.2 -11.4 5.8 -12.3 5.4 -13.2 4.7 -13.7 4 -14.2 3 -14.3 2 -14.2 0.8 -13.8 -0.5 -13.1 -1.9 -12 -3.3 -10.7 -4.7 -9 -6.1 -7.2 -7.4 -5.4 -8.6 -3.3 -9.5 -1.3 -10.4 0.5 -11 2.3 -11.4 4 -11.6 5.2 -11.7 6.5 -11.5 7.4 -11.2 8.1 -10.7 8.7 -10.3 9.1 -9.7 9.3 -9 9.5 -8.4 9.4 -7.8 9.4 -7 9.2 -6.5 9.1 -5.8 8.9 -5.3 8.7 -4.8 8.4 -4.3 8.2 -3.9 8 -3.5 7.7 -3.3 7.5 -2.9 7.2 -2.7 7.1 -2.6 6.7 -2.4 6.6 -2.3 6.3 -2.2 6.1 -2.2 5.9 -2.2 5.6 -2.2 5.5 -2.3 5.1 -2.4 5 -2.5 4.7 -2.6 4.4 -2.8 4.1 -3 3.8 -3.2 3.5 -3.4 3.2 -3.7 2.8 -4 2.3 -4.3 1.9 -4.6 1.4 -4.9 0.8 -5.4 0.2 -5.7 -0.5 -6.2 -1.3 -6.5 -2.1 -7 -3.2 -7.4 -4.2 -7.8 -5.4 -8.2 -6.7 -8.5 -8.1 -8.9 -9.6 -9 -11.3 -9.1 -12.9 -9.1 -14.6 -8.9 -16.2 -8.4 -17.8 -7.9 -19.2 -7 -20.4 -5.8 -21.1 -4.4 -21.4 -2.7 -21.2 -0.8 -20.4 1.2 -19.1 3.6 -17 5.8 -14.6 8 -11.8 10.2 -8.6 12.1 -5.4 13.7 -2.2 15 0.8 15.9 3.4 16.6 5.6 16.7 7.6 16.6 8.9 16.3 10 15.6 10.7 14.9 10.9 13.9 11.1 12.8 11 11.8 10.7 10.8 10.4 9.7 9.9 8.7 9.4 7.7 9 6.9 8.6 6 8 5.3 7.6 4.7 7.3 4.1 6.8 3.6 6.4 3.2 6.2 2.9 5.8 2.5 5.5 2.3 5.2 2.1 4.9 2 4.7 1.9 4.5 1.8 4.2 1.8 3.9 1.9 3.7 1.8 3.4 1.9 3.1 2 2.9 2.1 2.6 2.2 2.3 2.3 2 2.4 1.7 2.6 1.3 2.8 0.9 2.9 0.6 3.1 0.1 3.2 -0.3 3.4 -0.7 3.5 -1.2 3.6 -1.8 3.8 -2.2 3.9 -2.9 3.9 -3.3 4 -4 4.1 -4.5 4 -5.1 3.9 -5.6 3.8 -6.2 3.6 -6.6 3.4 -7.1 3.1 -7.4 2.7 -7.8 2.3 -7.9 1.7 -8 1.3 -7.9 0.6 -7.8 -0.1 -7.4 -0.7 -7 -1.5 -6.4 -2.2 -5.7 -2.9 -4.9 -3.6 -4 -4.2 -3 -4.9 -2 -5.4 -1 -5.9 0.1 -6.2 1 -6.5 1.9 -6.8 2.9 -6.8 3.6 -6.8 4.4 -6.8 5 -6.7 5.6 -6.4 6 -6.2 6.4 -6 6.7 -5.6 6.9 -5.2 7.1 -4.9 7.3 -4.5 7.3 -4.1 7.3 -3.7 7.4 -3.4 7.3 -3 7.3 -2.7 7.2 -2.4 7.2 -2 7 -1.8 6.9 -1.5 6.9 -1.2 6.7 -0.9 6.5 -0.8 6.5 -0.5 6.3 -0.3 6.2 -0.2 6.1 0.1 5.9 0.3 5.8 0.4 5.6 0.6 5.5 0.8 5.4 0.9 5.2 1.2 5 1.3 4.9 1.5 4.7 1.8 4.6 1.9 4.3 2.2 4.2 2.4 3.9 2.6 3.7 3 3.5 3.3 3.1 3.5 2.9 4 2.5 4.3 2.1 4.7 1.7 5.2 1.1 5.7 0.6 6.2 -0.1 6.7 -0.9 7.3 -1.8 8 -2.8 8.5 -3.9 9.3 -5.4 9.9 -6.9 10.5 -8.6 11.2 -10.7 11.7 -12.8 12.2 -15.2 12.5 -17.8 12.6 -20.6 12.5 -23.2 12 -25.8 11.2 -28.3 9.9 -30.1 8.1 -31.4 5.9 -31.9 3.2 -31.2 0 -29.6 -3.4 -26.7 -7 -22.9 -10.7 -18.3 -14.1 -13.1 -17.2 -7.8 -19.7 -2.8 -21.8 1.8 -23.2 5.7 -23.8 8.7 -23.8 10.9 -23.4 12.3 -22.5 13 -21.1 13.1 -19.7 12.7 -17.9 12.2 -16.2 11.2 -14.4 10.3 -12.6 9.4 -10.9 8.5 -9.2 7.5 -7.8 6.9 -6.3 6.2 -5.1 5.7 -3.9 5.3 -2.8 4.9 -2 4.8 -1.1 4.6 -0.4 4.6 0.2 4.6 0.7 4.6 1.2 4.7 1.4 4.8 1.8 4.9 1.9 5 2.1 5.1 2.2 5.3 2.2 5.3 2.2 5.4 2.1 5.5 2.1 5.5 1.9 5.6 1.8 5.6 1.6 5.5 1.5 5.6 1.3 5.5 1.1 5.5 0.8 5.4 0.7 5.3 0.5 5.2 0.2 5.1 0 5 -0.2 4.8 -0.5 4.7 -0.7 4.5 -0.9 4.3 -1.2 4.1 -1.4 3.9 -1.7 3.6 -1.9 3.4 -2.2 3.1 -2.5 2.8 -2.8 2.4 -3 2.1 -3.3 1.6 -3.6 1.2 -4 0.8 -4.2 0.1 -4.5 -0.4 -4.9 -1.1 -5.2 -1.7 -5.4 -2.5 -5.7 -3.4 -6 -4.2 -6.3 -5.2 -6.4 -6.2 -6.6 -7.2 -6.6 -8.3 -6.6 -9.4 -6.6 -10.5 -6.3 -11.5 -6 -12.5 -5.6 -13.3 -4.9 -13.9 -4.2 -14.5 -3.2 -14.6 -2.2 -14.6 -0.9 -14.2 0.4 -13.4 1.8 -12.4 3.2 -11.1 4.7 -9.4 6.1 -7.5 7.4 -5.6 8.7 -3.5 9.7 -1.6 10.5 0.5 11.2 2.2 11.6 3.9 11.9 5.3 11.9 6.5 11.7 7.5 11.4 8.3 11.1 8.7 10.4 9.2 9.9 9.4 9.3 9.5 8.5 9.6 7.9 9.4 7.2 9.3 6.6 9.2 5.9 8.9 5.4 8.7 4.9 8.4 4.4 8.3 3.9 7.9 3.6 7.7 3.3 7.5 3 7.2 2.8 7 2.5 6.7 2.5 6.5 2.3 6.3 2.3 6 2.3 5.8 2.2 5.6 2.3 5.3 2.3 5.1 2.5 4.8 2.5 4.6 2.7 4.3 2.9 4 3 3.7 3.3 3.3 3.5 3 3.8 2.6 4.1 2.1 4.3 1.7 4.7 1.1 5.1 0.6 5.4 -0.2 5.8 -0.8 6.2 -1.7 6.6 -2.5 7 -3.6 7.4 -4.6 7.8 -5.8 8.1 -7.2 8.4 -8.5 8.6 -10.1 8.8 -11.6 8.8 -13.2 8.6 -14.8 8.4 -16.3 7.9 -17.8 7.1 -18.9 6.2 -19.9 5 -20.4 3.5 -20.4 1.8 -20 -0.1 -19.1 -2.1 -17.4 -4.3 -15.4 -6.5 -12.9 -8.5 -10.1 -10.5 -7.1 -12.2 -4 -13.7 -1.1 -14.7 1.7 -15.6 4.1 -16 6.1 -16.1 7.8 -15.9 9 -15.4 10 -14.9 10.5 -14 10.8 -13.1 10.9 -12.1 10.8 -11.2 10.5 -10.1 10.2 -9.1 9.8 -8.2 9.4 -7.3 8.9 -6.5 8.5 -5.8 8 -5.1 7.7 -4.5 7.3 -4 6.9 -3.5 6.5 -3.2 6.2 -2.8 5.9 -2.6 5.6 -2.4 5.3 -2.2 5.1 -2.1 4.7 -2.1 4.5 -2 4.3 -2.1 3.9 -2 3.7 -2.1 3.4 -2.2 3.2 -2.3 2.8 -2.4 2.5 -2.5 2.2 -2.7 1.8 -2.9 1.4 -3 1.1 -3.1 0.6 -3.4 0.2 -3.5 -0.3 -3.7 -0.8 -3.9 -1.3 -4 -1.8 -4.2 -2.5 -4.3 -3 -4.3 -3.7 -4.5 -4.4 -4.5 -5 -4.4 -5.6 -4.4 -6.3 -4.3 -6.9 -4.1 -7.4 -3.8 -8 -3.5 -8.4 -3.1 -8.8 -2.6 -9 -2.1 -9 -1.4 -9.1 -0.7 -8.8 0.1 -8.4 0.9 -7.9 1.7 -7.3 2.5 -6.4 3.4 -5.4 4.2 -4.3 4.9 -3.3 5.6 -2 6.2 -0.9 6.8 0.3 7.1 1.4 7.4 2.4 7.6 3.4 7.7 4.3 7.7 5.1 7.6 5.7 7.4 6.2 7.1 6.7 6.8 7.1 6.5 7.3 6.1 7.6 5.7 7.7 5.2 7.7 4.9 7.8 4.4 7.8 4 7.8 3.6 7.7 3.3 7.7 2.9 7.5 2.6 7.4 2.2 7.4 2 7.2 1.7 7 1.5 7 1.3 6.8 1 6.6 0.9 6.6 0.7 6.4 0.5 6.3 0.4 6.1 0.3 6 0.1 5.9 0 5.8 0 5.6 -0.2 5.5 -0.3 5.4 -0.4 5.3 -0.5 5.2 -0.6 5 -0.7 4.9 -0.8 4.8 -0.9 4.7 -1 4.5 -1.1 4.4 -1.3 4.3 -1.4 4.2 -1.6 4 -1.8 3.9 -2 3.7 -2.1 3.6 -2.4 3.4 -2.6 3.3 -3 3 -3.2 2.8 -3.5 2.5 -4 2.2 -4.3 1.9 -4.8 1.5 -5.3 1.1 -5.8 0.5 -6.4 -0.1 -7.1 -0.8 -7.8 -1.8 -8.5 -2.7 -9.3 -4 -10.2 -5.4 -11 -7.1 -12 -9.1 -12.8 -11.4 -13.7 -14.1 -14.5 -17 -15.1 -20.3 -15.5 -24 -15.7 -27.7 -15.5 -31.5 -14.7 -35.1 -13.4 -38.3 -11.3 -40.5 -8.6 -41.6 -5.1 -41.2 -0.9 -39.1 3.7 -35.3 8.7 -29.8 13.8 -23.2 18.4 -15.9 22.6 -8.5 25.9 -1.6 28.5 4.3 29.8 8.9 30.4 12.1 30 14.1 28.9 14.9 27.3 14.7 25.1 13.8 22.8 12.6 20.2 11.1 17.7 9.6 15 8 12.5 6.7 10.1 5.7 7.9 4.8 5.7 4.2 3.7 3.9 1.9 3.9 0.4 3.9 -1.1 4.2 -2.3 4.6 -3.4 5.1 -4.2 5.5 -4.9 6.1 -5.4 6.6 -5.8 7 -6 7.5 -6.1 7.8 -6.1 8.1 -6.1 8.3 -5.8 8.5 -5.6 8.6 -5.3 8.6 -5.1 8.7 -4.6 8.7 -4.4 8.6 -4 8.5 -3.7 8.4 -3.3 8.3 -3 8.2 -2.8 8 -2.4 7.9 -2.2 7.8 -2 7.5 -1.7 7.5 -1.5 7.3 -1.4 7.1 -1.2 7 -1.1 6.8 -1 6.7 -0.9 6.6 -0.8 6.4 -0.7 6.3 -0.6 6.1 -0.6 6 -0.6 5.9 -0.5 5.7 -0.5 5.7 -0.5 5.5 -0.6 5.3 -0.5 5.3 -0.5 5.1 -0.5 5.1 -0.6 4.9 -0.6 4.8 -0.7 4.7 -0.7 4.6 -0.7 4.5 -0.8 4.4 -0.9 4.3 -1 4.1 -1.1 4.1 -1.1 3.9 -1.3 3.9 -1.4 3.7 -1.6 3.6 -1.7 3.5 -1.9 3.3 -2.2 3.3 -2.3 3 -2.6 2.9 -2.8 2.7 -3.2 2.6 -3.5 2.2 -3.9 2 -4.3 1.7 -4.8 1.4 -5.3 0.9 -5.8 0.4 -6.5 -0.2 -7.2 -0.9 -7.9 -1.8 -8.7 -2.8 -9.6 -4 -10.6 -5.6 -11.5 -7.2 -12.5 -9.3 -13.6 -11.8 -14.5 -14.6 -15.5 -17.9 -16.3 -21.5 -16.9 -25.6 -17.2 -29.8 -17 -34.3 -16.4 -38.4 -14.9 -42.2 -12.9 -45 -9.8 -46.5 -5.9 -46.1 -1.2 -43.8 4.1 -39.3 9.7 -32.9 15.5 -25.2 20.8 -16.7 25.5 -8.2 29.2 -0.5 31.8 5.9 33.2 10.7 33.5 13.9 32.8 15.5 31.4 15.7 29.2 15 26.7 13.6 23.8 11.9 20.9 10 17.8 8.1 14.8 6.4 11.8 5.1 9.1 4.2 6.4 3.4 4 3.2 1.8 3.3 -0.3 3.5 -2.1 4 -3.6 4.6 -4.9 5.4 -5.9 6.1 -6.8 6.9 -7.4 7.5 -7.8 8.2 -7.9 8.6 -8.1 9.1 -7.9 9.4 -7.7 9.6 -7.4 9.7 -7.1 9.8 -6.6 9.7 -6.2 9.7 -5.7 9.5 -5.3 9.4 -4.8 9.2 -4.4 9.1 -4 8.8 -3.6 8.7 -3.2 8.4 -2.9 8.2 -2.7 8 -2.4 7.8 -2.2 7.6 -2 7.4 -1.8 7.2 -1.8 7 -1.6 6.8 -1.6 6.6 -1.6 6.4 -1.5 6.3 -1.6 6 -1.6 5.9 -1.6 5.7 -1.8 5.5 -1.8 5.3 -1.9 5.1 -2.1 4.9 -2.2 4.6 -2.4 4.5 -2.6 4.2 -2.8 3.9 -3 3.6 -3.3 3.3 -3.6 3 -3.9 2.6 -4.3 2.2 -4.6 1.7 -5 1.2 -5.4 0.6 -5.9 -0.1 -6.4 -0.9 -6.8 -1.7 -7.4 -2.7 -7.9 -3.8 -8.4 -5 -8.9 -6.5 -9.5 -8 -9.8 -9.7 -10.3 -11.6 -10.6 -13.5 -10.7 -15.7 -10.6 -17.8 -10.5 -19.9 -9.9 -21.9 -9.2 -23.6 -8 -25 -6.5 -25.9 -4.7 -26.1 -2.4 -25.5 0 -24.2 2.8 -22.1 5.6 -19.1 8.5 -15.7 11.3 -11.8 13.8 -7.6 15.9 -3.6 17.7 0.2 18.9 3.6 19.7 6.3 20 8.6 19.9 10.2 19.3 11.3 18.5 11.8 17.5 12 16.2 11.9 14.9 11.5 13.5 11 12.2 10.4 10.7 9.7 9.6 9 8.3 8.4 7.1 7.7 6.2 7.2 5.2 6.7 4.4 6.3 3.6 5.9 3 5.5 2.5 5.2 1.9 5 1.5 4.8 1.2 4.6 0.9 4.5 0.7 4.3 0.5 4.2 0.4 4.1 0.3 3.9 0.2 3.9 0.2 3.8 0.2 3.7 0.2 3.5 0.3 3.5 0.3 3.3 0.5 3.3 0.5 3 0.7 3 0.8 2.7 0.9 2.6 1.1 2.4 1.2 2.3 1.4 1.9 1.5 1.8 1.7 1.5 1.9 1.2 2 1 2.2 0.6 2.4 0.3 2.5 0 2.7 -0.4 2.8 -0.8 2.9 -1.2 3 -1.6 3.2 -2 3.2 -2.5 3.3 -3 3.3 -3.4 3.3 -3.9 3.3 -4.3 3.2 -4.7 3.1 -5.2 2.9 -5.5 2.7 -5.9 2.5 -6.1 2.1 -6.3 1.8 -6.4 1.4 -6.5 1 -6.4 0.4 -6.3 0 -6 -0.6 -5.7 -1.2 -5.2 -1.8 -4.7 -2.3 -4 -2.9 -3.4 -3.4 -2.6 -3.9 -1.8 -4.3 -0.9 -4.7 -0.2 -5.1 0.6 -5.2 1.4 -5.5 2.2 -5.6 2.8 -5.7 3.5 -5.6 4.1 -5.5 4.5 -5.5 5 -5.2 5.4 -5.1 5.7 -4.8 6 -4.5 6.1 -4.2 6.4 -3.9 6.4 -3.6 6.6 -3.3 6.5 -2.9 6.6 -2.7 6.6 -2.3 6.6 -2 6.5 -1.7 6.4 -1.4 6.4 -1.1 6.2 -0.9 6.2 -0.5 6 -0.4 5.9 -0.1 5.8 0.2 5.6 0.4 5.5 0.7 5.3 0.9 5.1 1.1 4.9 1.4 4.8 1.6 4.5 1.9 4.4 2.1 4.1 2.5 3.8 2.7 3.5 3 3.2 3.3 2.9 3.7 2.5 4 2.1 4.3 1.6 4.8 1 5.2 0.5 5.6 -0.2 6.1 -0.9 6.5 -1.8 7 -2.7 7.4 -3.8 8 -5 8.3 -6.2 8.8 -7.8 9.2 -9.3 9.5 -10.9 9.7 -12.8 9.7 -14.6 9.7 -16.5 9.4 -18.2 8.8 -20 8.1 -21.4 7.1 -22.5 5.6 -23.1 3.9 -23.3 2 -22.7 -0.2 -21.5 -2.6 -19.6 -5.2 -17.2 -7.6 -14.1 -10 -10.7 -12.3 -7.2 -14.2 -3.6 -15.7 -0.3 -16.9 2.8 -17.7 5.4 -18 7.5 -18 9.1 -17.7 10.3 -17 11 -16.1 11.4 -15.1 11.4 -14 11.3 -12.8 11 -11.7 10.5 -10.4 10 -9.3 9.5 -8.3 8.9 -7.3 8.4 -6.3 7.9 -5.6 7.4 -4.8 7 -4.1 6.5 -3.6 6.2 -3.1 5.8 -2.6 5.5 -2.3 5.3 -2 4.9 -1.8 4.8 -1.6 4.5 -1.4 4.3 -1.4 4 -1.3 3.9 -1.2 3.7 -1.3 3.5 -1.3 3.2 -1.3 3.1 -1.4 2.9 -1.5 2.6 -1.5 2.4 -1.7 2.1 -1.8 1.9 -2 1.6 -2 1.3 -2.3 1 -2.3 0.7 -2.5 0.3 -2.6 0 -2.8 -0.4 -2.9 -0.8 -3 -1.2 -3.1 -1.7 -3.2 -2.1 -3.3 -2.5 -3.3 -3 -3.3 -3.5 -3.4 -3.9 -3.3 -4.3 -3.2 -4.8 -3.1 -5.2 -2.9 -5.6 -2.7 -5.9 -2.4 -6.2 -2.1 -6.3 -1.8 -6.5 -1.3 -6.5 -0.9 -6.4 -0.4 -6.2 0.1 -6 0.7 -5.7 1.3 -5.1 1.8 -4.6 2.4 -4 3 -3.2 3.4 -2.5 4 -1.7 4.4 -0.9 4.8 0 5 0.7 5.4 1.6 5.5 2.2 5.6 2.9 5.7 3.6 5.6 4.1 5.5 4.7 5.5 5 5.2 5.5 5 5.7 4.8 6 4.5 6.2 4.2 6.4 3.8 6.5 3.6 6.5 3.2 6.6 2.9 6.6 2.6 6.6 2.3 6.6 2 6.5 1.6 6.4 1.4 6.3 1.1 6.3 0.8 6.1 0.6 6.1 0.3 5.8 0 5.8 -0.2 5.6 -0.4 5.5 -0.7 5.3 -0.9 5.1 -1.2 4.9 -1.4 4.7 -1.6 4.6 -2 4.3 -2.1 4 -2.5 3.8 -2.7 3.5 -3.1 3.2 -3.3 2.9 -3.7 2.4 -4.1 2.1 -4.4 1.5 -4.8 1 -5.2 0.5 -5.7 -0.3 -6.1 -1 -6.5 -1.9 -7.1 -2.8 -7.5 -3.9 -8 -5.1 -8.4 -6.4 -8.9 -7.8 -9.2 -9.5 -9.5 -11.2 -9.7 -12.9 -9.8 -14.8 -9.7 -16.7 -9.4 -18.5 -8.8 -20.1 -8 -21.6 -6.9 -22.6 -5.6 -23.3 -3.8 -23.3 -1.8 -22.7 0.5 -21.4 2.8 -19.5 5.4 -16.9 7.9 -13.8 10.3 -10.5 12.5 -6.8 14.4 -3.3 15.9 0 17.1 3.1 17.7 5.6 18.1 7.7 18 9.2 17.7 10.4 16.9 11.1 16.1 11.4 15.1 11.5 13.9 11.3 12.7 10.9 11.5 10.5 10.4 10 9.2 9.4 8.2 8.8 7.2 8.4 6.2 7.8 5.5 7.3 4.7 6.9 4.1 6.5 3.5 6.1 3 5.8 2.6 5.5 2.3 5.2 2 4.9 1.7 4.7 1.5 4.5 1.5 4.3 1.3 4 1.2 3.9 1.3 3.7 1.2 3.4 1.3 3.3 1.3 3 1.4 2.8 1.4 2.7 1.6 2.3 1.6 2.2 1.8 1.8 2 1.6 2 1.3 2.2 1.1 2.3 0.6 2.5 0.4 2.6 0 2.8 -0.4 2.8 -0.8 3 -1.2 3.1 -1.6 3.2 -2.1 3.3 -2.5 3.3 -3 3.3 -3.4 3.3 -3.9 3.3 -4.3 3.2 -4.8 3.1 -5.2 2.9 -5.5 2.7 -5.9 2.4 -6.1 2.1 -6.3 1.8 -6.4 1.3 -6.5 0.9 -6.3 0.4 -6.3 -0.1 -5.9 -0.7 -5.6 -1.2 -5.2 -1.8 -4.6 -2.4 -3.9 -2.9 -3.3 -3.5 -2.5 -3.9 -1.7 -4.3 -0.9 -4.8 -0.1 -5 0.7 -5.3 1.5 -5.5 2.2 -5.6 2.9 -5.6 3.6 -5.6 4.1 -5.5 4.5 -5.4 5.1 -5.2 5.4 -5 5.7 -4.8 6 -4.5 6.1 -4.2 6.4 -3.8 6.4 -3.6 6.6 -3.2 6.5 -2.9 6.6 -2.6 6.6 -2.3 6.5 -1.9 6.5 -1.7 6.4 -1.4 6.3 -1.1 6.3 -0.8 6.1 -0.6 6 -0.2 5.9 -0.1 5.7 0.2 5.6 0.5 5.5 0.6 5.2 1 5.2 1.1 4.9 1.4 4.7 1.7 4.5 1.9 4.3 2.2 4 2.5 3.8 2.7 3.5 3.1 3.1 3.4 2.9 3.7 2.4 4 2 4.5 1.5 4.8 1 5.2 0.3 5.7 -0.3 6.1 -1.1 6.6 -1.9 7.1 -2.9 7.5 -4 8 -5.1 8.4 -6.5 8.9 -8 9.2 -9.5 9.4 -11.3 9.7 -13 9.7 -14.9 9.6 -16.7 9.3 -18.5 8.7 -20.1 7.9 -21.6 6.8 -22.5 5.3 -23.1 3.6 -23.1 1.7 -22.5 -0.7 -21.1 -3 -19.2 -5.5 -16.5 -8 -13.5 -10.4 -10.1 -12.6 -6.6 -14.4 -3 -15.9 0.2 -17 3.2 -17.6 5.7 -18 7.8 -17.9 9.3 -17.5 10.4 -16.8 11 -15.9 11.4 -14.9 11.4 -13.8 11.3 -12.6 10.9 -11.4 10.4 -10.2 10 -9.2 9.4 -8 8.8 -7.2 8.3 -6.2 7.9 -5.4 7.3 -4.7 6.9 -4 6.5 -3.5 6.2 -3.1 5.8 -2.6 5.5 -2.2 5.2 -2 4.9 -1.8 4.7 -1.6 4.5 -1.5 4.3 -1.3 4 -1.3 3.9 -1.3 3.6 -1.3 3.5 -1.3 3.2 -1.4 3 -1.5 2.8 -1.5 2.6 -1.6 2.3 -1.8 2.1 -1.9 1.8 -2 1.5 -2.1 1.2 -2.3 0.9 -2.4 0.6 -2.6 0.2 -2.7 -0.2 -2.8 -0.5 -2.9 -0.9 -3.1 -1.4 -3.2 -1.8 -3.2 -2.3 -3.4 -2.7 -3.3 -3.2 -3.4 -3.6 -3.3 -4.1 -3.3 -4.6 -3.2 -4.9 -3.1 -5.4 -2.9 -5.8 -2.6 -6 -2.4 -6.3 -2 -6.4 -1.6 -6.6 -1.2 -6.5 -0.8 -6.5 -0.2 -6.2 0.4 -5.9 0.9 -5.5 1.4 -5 2.1 -4.5 2.6 -3.7 3.2 -3 3.7 -2.2 4.1 -1.4 4.6 -0.6 4.9 0.2 5.3 1 5.4 1.8 5.6 2.6 5.7 3.2 5.7 3.8 5.7 4.3 5.5 4.9 5.4 5.2 5.2 5.6 5 5.9 4.7 6.1 4.4 6.3 4.1 6.5 3.8 6.5 3.5 6.6 3.1 6.7 2.8 6.6 2.5 6.6 2.2 6.6 1.9 6.5 1.5 6.4 1.3 6.3 1 6.3 0.8 6.1 0.5 6 0.2 5.9 0 5.7 -0.3 5.6 -0.5 5.4 -0.8 5.3 -0.9 5.1 -1.3 4.9 -1.4 4.7 -1.7 4.5 -2 4.2 -2.2 4.1 -2.6 3.7 -2.8 3.5 -3.1 3.1 -3.4 2.8 -3.8 2.4 -4.1 1.9 -4.5 1.5 -4.9 0.9 -5.3 0.3 -5.8 -0.3 -6.2 -1.2 -6.7 -2 -7.2 -3 -7.6 -4.1 -8.1 -5.4 -8.6 -6.6 -9 -8.2 -9.4 -9.8 -9.6 -11.6 -9.8 -13.4 -9.9 -15.2 -9.8 -17.2 -9.4 -19 -8.8 -20.6 -7.9 -22 -6.8 -23.1 -5.3 -23.6 -3.6 -23.5 -1.4 -22.8 0.9 -21.4 3.3 -19.3 5.9 -16.6 8.4 -13.4 10.9 -9.8 13 -6.3 14.9 -2.6 16.3 0.6 17.5 3.7 18 6.1 18.3 8.1 18.2 9.6 17.7 10.7 17 11.2 16 11.6 14.9 11.4 13.8 11.3 12.6 10.9 11.4 10.3 10.2 9.9 9 9.3 8 8.7 7 8.1 6.1 7.7 5.3 7.2 4.6 6.7 3.9 6.4 3.4 6 2.9 5.6 2.4 5.4 2.2 5.1 1.8 4.8 1.6 4.7 1.5 4.4 1.3 4.2 1.2 4 1.1 3.8 1.2 3.6 1.1 3.5 1.2 3.2 1.2 3.1 1.3 2.8 1.3 2.6 1.5 2.4 1.6 2.2 1.7 1.9 1.8 1.7 2 1.3 2.1 1.1 2.2 0.8 2.4 0.4 2.5 0.1 2.6 -0.2 2.8 -0.7 2.9 -1 3 -1.5 3.1 -1.9 3.2 -2.3 3.2 -2.8 3.3 -3.2 3.2 -3.7 3.3 -4.1 3.1 -4.5 3.1 -5 2.9 -5.3 2.7 -5.6 2.5 -5.9 2.2 -6.2 1.8 -6.2 1.5 -6.4 1 -6.2 0.6 -6.2 0.1 -6 -0.5 -5.6 -1 -5.2 -1.6 -4.7 -2.1 -4.1 -2.7 -3.4 -3.2 -2.7 -3.7 -2 -4.1 -1.2 -4.5 -0.4 -4.9 0.4 -5.1 1.2 -5.3 1.9 -5.4 2.6 -5.5 3.3 -5.5 3.8 -5.5 4.3 -5.3 4.8 -5.2 5.2 -5 5.5 -4.8 5.8 -4.5 6 -4.2 6.2 -4 6.4 -3.6 6.4 -3.3 6.5 -3 6.5 -2.6 6.5 -2.4 6.5 -2 6.4 -1.7 6.4 -1.5 6.3 -1.1 6.2 -0.9 6.1 -0.6 5.9 -0.4 5.9 -0.1 5.7 0.2 5.6 0.4 5.4 0.6 5.3 0.9 5.1 1.1 4.9 1.4 4.7 1.7 4.5 1.9 4.3 2.1 4 2.5 3.8 2.7 3.4 3 3.2 3.4 2.8 3.6 2.4 4.1 1.9 4.4 1.5 4.8 0.9 5.2 0.4 5.6 -0.4 6.1 -1.1 6.5 -1.9 6.9 -2.9 7.5 -4 7.8 -5.2 8.4 -6.5 8.7 -7.9 9 -9.4 9.3 -11.1 9.5 -12.9 9.5 -14.6 9.3 -16.4 9 -18.2 8.5 -19.7 7.6 -21 6.6 -21.9 5.1 -22.5 3.4 -22.5 1.5 -21.8 -0.7 -20.5 -3 -18.6 -5.4 -16.1 -7.9 -13.1 -10.1 -9.8 -12.2 -6.4 -14 -3 -15.5 0.1 -16.6 3.1 -17.2 5.5 -17.5 7.5 -17.5 9.1 -17.1 10.2 -16.4 10.9 -15.6 11.2 -14.6 11.3 -13.6 11.2 -12.4 10.8 -11.2 10.5 -10.2 10 -9 9.5 -8.1 8.9 -7.1 8.5 -6.2 7.9 -5.5 7.5 -4.7 7 -4.1 6.7 -3.6 6.3 -3.2 5.9 -2.7 5.6 -2.4 5.4 -2.1 5 -2 4.9 -1.7 4.5 -1.6 4.4 -1.6 4.1 -1.5 3.8 -1.5 3.7 -1.5 3.4 -1.5 3.2 -1.6 3 -1.7 2.7 -1.8 2.5 -1.9 2.2 -2 1.9 -2.1 1.6 -2.3 1.3 -2.4 1 -2.5 0.7 -2.7 0.2 -2.9 -0.1 -2.9 -0.5 -3.2 -1 -3.2 -1.4 -3.3 -1.8 -3.5 -2.4 -3.5 -2.8 -3.5 -3.3 -3.6 -3.8 -3.5 -4.3 -3.5 -4.8 -3.4 -5.3 -3.3 -5.7 -3 -6 -2.8 -6.4 -2.6 -6.7 -2.1 -6.9 -1.8 -6.9 -1.3 -7 -0.8 -6.8 -0.2 -6.7 0.3 -6.3 1 -5.9 1.5 -5.3 2.2 -4.7 2.8 -3.9 3.4 -3.2 4 -2.3 4.4 -1.5 4.9 -0.6 5.3 0.4 5.5 1.1 5.8 2 6 2.7 6 3.5 6 4 6 4.6 5.9 5.2 5.7 5.5 5.4 5.9 5.2 6.2 5 6.4 4.6 6.6 4.3 6.7 3.9 6.8 3.6 6.8 3.3 6.9 3 6.8 2.6 6.8 2.2 6.8 2 6.7 1.7 6.6 1.4 6.6 1.1 6.4 0.8 6.3 0.6 6.2 0.4 6 0.1 5.9 -0.2 5.8 -0.3 5.6 -0.6 5.5 -0.8 5.3 -1 5.2 -1.3 4.9 -1.5 4.8 -1.7 4.5 -2 4.4 -2.2 4.1 -2.5 3.9 -2.8 3.5 -3.1 3.3 -3.4 3 -3.7 2.5 -4.1 2.2 -4.5 1.7 -4.9 1.2 -5.3 0.5 -5.8 0 -6.2 -0.9 -6.8 -1.7 -7.2 -2.6 -7.8 -3.8 -8.4 -4.9 -8.8 -6.4 -9.3 -7.9 -9.8 -9.6 -10.1 -11.4 -10.5 -13.3 -10.6 -15.4 -10.5 -17.6 -10.4 -19.6 -9.9 -21.6 -9 -23.3 -8 -24.6 -6.6 -25.6 -4.7 -25.8 -2.5 -25.3 -0.1 -24 2.6 -21.9 5.4 -19.2 8.3 -15.7 10.9 -11.8 13.5 -7.9 15.7 -3.8 17.3 -0.1 18.7 3.3 19.4 6.1 19.8 8.3 19.7 10 19.2 11.2 18.4 11.7 17.4 11.9 16.1 11.9 14.9 11.5 13.6 11.1 12.1 10.4 10.9 9.8 9.5 9.1 8.4 8.5 7.3 7.8 6.2 7.4 5.3 6.8 4.5 6.3 3.8 6 3.1 5.6 2.5 5.3 2.1 5.1 1.6 4.8 1.3 4.7 1.1 4.4 0.8 4.3 0.6 4.2 0.5 4.1 0.4 4 0.3 3.8 0.3 3.7 0.4 3.6 0.3 3.5 0.4 3.4 0.5 3.3 0.6 3.1 0.6 3 0.8 2.8 0.9 2.6 1.1 2.5 1.1 2.2 1.4 2.1 1.4 1.8 1.7 1.6 1.8 1.3 1.9 1 2.1 0.8 2.3 0.4 2.4 0.1 2.6 -0.3 2.7 -0.7 2.9 -1 2.9 -1.4 3.1 -1.9 3.1 -2.3 3.2 -2.8 3.3 -3.2 3.2 -3.6 3.2 -4.1 3.2 -4.5 3 -4.9 3 -5.3 2.7 -5.6 2.5 -5.9 2.2 -6.1 1.9 -6.3 1.5 -6.3 1.1 -6.3 0.6 -6.2 0.1 -5.9 -0.4 -5.7 -1 -5.3 -1.5 -4.7 -2.1 -4.2 -2.6 -3.5 -3.1 -2.8 -3.7 -2.1 -4 -1.2 -4.5 -0.5 -4.8 0.4 -5.1 1.1 -5.3 1.8 -5.4 2.5 -5.5 3.2 -5.6 3.8 -5.4 4.2 -5.4 4.8 -5.2 5.1 -5 5.5 -4.8 5.8 -4.6 6 -4.2 6.2 -4 6.3 -3.6 6.4 -3.4 6.5 -3 6.5 -2.7 6.5 -2.3 6.5 -2.1 6.4 -1.8 6.4 -1.5 6.3 -1.2 6.2 -0.9 6.1 -0.6 6 -0.4 5.9 -0.1 5.8 0.1 5.6 0.4 5.4 0.6 5.3 0.9 5.1 1.1 4.9 1.3 4.8 1.6 4.5 1.9 4.3 2.1 4 2.5 3.8 2.7 3.5 3 3.2 3.3 2.8 3.6 2.5 4 2 4.4 1.5 4.7 1 5.2 0.4 5.6 -0.2 6 -1.1 6.4 -1.8 6.9 -2.8 7.4 -3.9 7.9 -5 8.2 -6.3 8.7 -7.8 9 -9.3 9.3 -10.9 9.4 -12.6 9.5 -14.5 9.4 -16.2 9.1 -18 8.5 -19.5 7.8 -20.9 6.6 -21.9 5.3 -22.5 3.7 -22.5 1.7 -21.9 -0.4 -20.7 -2.8 -18.8 -5.2 -16.4 -7.6 -13.5 -9.9 -10.2 -12 -6.7 -13.8 -3.4 -15.4 -0.2 -16.4 2.8 -17.2 5.3 -17.5 7.3 -17.5 8.9 -17.1 10.1 -16.6 10.8 -15.7 11.2 -14.7 11.3 -13.7 11.2 -12.5 10.9 -11.4 10.5 -10.3 10.1 -9.1 9.5 -8.2 9 -7.2 8.5 -6.3 8 -5.5 7.6 -4.9 7 -4.2 6.7 -3.6 6.4 -3.2 5.9 -2.7 5.7 -2.5 5.4 -2.1 5.1 -2 4.8 -1.8 4.6 -1.6 4.3 -1.6 4.2 -1.5 3.9 -1.5 3.7 -1.5 3.4 -1.5 3.2 -1.6 3 -1.6 2.8 -1.8 2.5 -1.9 2.2 -2 2 -2.1 1.6 -2.2 1.4 -2.4 1 -2.5 0.7 -2.7 0.3 -2.8 -0.1 -3 -0.5 -3.1 -0.9 -3.2 -1.3 -3.3 -1.8 -3.4 -2.3 -3.5 -2.8 -3.6 -3.2 -3.5 -3.8 -3.6 -4.2 -3.5 -4.7 -3.4 -5.2 -3.3 -5.7 -3 -6 -2.9 -6.3 -2.6 -6.7 -2.2 -6.8 -1.8 -7 -1.3 -6.9 -0.9 -6.9 -0.3 -6.7 0.3 -6.3 0.9 -5.9 1.5 -5.4 2.1 -4.8 2.7 -4 3.3 -3.3 3.9 -2.4 4.4 -1.6 4.8 -0.7 5.2 0.2 5.5 1.1 5.8 1.9 5.9 2.6 6.1 3.4 6 3.9 6 4.6 5.9 5.1 5.7 5.4 5.4 5.9 5.3 6.1 4.9 6.4 4.7 6.6 4.3 6.6 4 6.8 3.7 6.9 3.3 6.8 3 6.9 2.6 6.8 2.3 6.8 2 6.7 1.7 6.6 1.5 6.6 1.1 6.4 0.9 6.3 0.6 6.2 0.4 6.1 0.1 5.9 -0.1 5.8 -0.4 5.6 -0.5 5.5 -0.8 5.3 -1 5.2 -1.2 5 -1.5 4.8 -1.7 4.5 -1.9 4.4 -2.2 4.1 -2.5 3.9 -2.8 3.6 -3 3.3 -3.4 3 -3.7 2.6 -4 2.2 -4.5 1.8 -4.8 1.2 -5.3 0.6 -5.7 0 -6.2 -0.7 -6.7 -1.6 -7.2 -2.6 -7.8 -3.6 -8.2 -4.9 -8.8 -6.2 -9.3 -7.7 -9.7 -9.4 -10.1 -11.2 -10.4 -13.2 -10.6 -15.2 -10.6 -17.3 -10.3 -19.4 -9.9 -21.3 -9.2 -23.1 -8.1 -24.5 -6.7 -25.5 -4.9 -25.8 -2.7 -25.3 -0.4 -24.2 2.4 -22.1 5.1 -19.4 7.9 -16.1 10.7 -12.2 13.3 -8.3 15.4 -4.2 17.2 -0.4 18.5 2.9 19.4 5.9 19.7 8.1 19.7 9.9 19.2 11 18.5 11.7 17.5 11.9 16.3 11.9 15 11.5 13.6 11.1 12.3 10.5 11 9.9 9.7 9.2 8.5 8.5 7.3 8 6.4 7.3 5.4 6.9 4.6 6.4 3.8 6 3.2 5.7 2.6 5.3 2.1 5.1 1.7 4.9 1.3 4.6 1.1 4.5 0.8 4.4 0.7 4.2 0.5 4 0.4 4 0.4 3.9 0.3 3.7 0.3 3.6 0.4 3.5 0.4 3.4 0.5 3.2 0.6 3.2 0.6 2.9 0.8 2.8 0.9 2.7 1.1 2.4 1.1 2.3 1.4 2.1 1.5 1.8 1.6 1.6 1.8 1.3 1.9 1 2.1 0.8 2.3 0.4 2.4 0.1 2.6 -0.3 2.7 -0.6 2.8 -1.1 3 -1.4 3 -1.9 3.2 -2.3 3.2 -2.7 3.2 -3.2 3.2 -3.6 3.2 -4.1 3.2 -4.5 3.1 -4.9 2.9 -5.2 2.7 -5.6 2.5 -5.9 2.2 -6.1 1.9 -6.2 1.5 -6.3 1.1 -6.3 0.6 -6.2 0.1 -6 -0.4 -5.6 -0.9 -5.3 -1.5 -4.7 -2.1 -4.2 -2.6 -3.5 -3.1 -2.8 -3.7 -2.1 -4 -1.2 -4.5 -0.5 -4.8 0.3 -5 1.1 -5.3 1.8 -5.4 2.5 -5.5 3.2 -5.5 3.7 -5.5 4.3 -5.4 4.7 -5.2 5.1 -5 5.5 -4.8 5.8 -4.5 5.9 -4.3 6.2 -3.9 6.3 -3.7 6.4 -3.3 6.5 -3 6.5 -2.7 6.5 -2.4 6.5 -2 6.4 -1.8 6.4 -1.5 6.3 -1.2 6.2 -0.9 6.1 -0.6 6 -0.4 5.8 -0.1 5.8 0.1 5.6 0.4 5.4 0.6 5.3 0.9 5.1 1.1 4.9 1.3 4.7 1.6 4.6 1.9 4.3 2.1 4 2.4 3.8 2.8 3.5 3 3.1 3.3 2.8 3.6 2.5 4 2 4.4 1.5 4.7 1 5.2 0.4 5.6 -0.3 6 -1 6.5 -1.9 6.9 -2.9 7.4 -3.8 7.8 -5.1 8.3 -6.4 8.6 -7.7 9 -9.3 9.3 -11 9.4 -12.7 9.5 -14.4 9.3 -16.3 9.1 -17.9 8.5 -19.5 7.7 -20.9 6.6 -21.9 5.2 -22.4 3.6 -22.4 1.6 -21.8 -0.4 -20.6 -2.9 -18.7 -5.2 -16.3 -7.6 -13.3 -9.9 -10.1 -12 -6.7 -13.9 -3.3 -15.3 -0.1 -16.5 2.8 -17.1 5.3 -17.5 7.4 -17.4 8.9 -17.1 10.1 -16.4 10.8 -15.7 11.2 -14.7 11.3 -13.6 11.2 -12.5 10.9 -11.3 10.5 -10.2 10 -9.2 9.5 -8.1 9 -7.2 8.5 -6.3 8 -5.5 7.6 -4.8 7.1 -4.2 6.7 -3.6 6.3 -3.2 6 -2.8 5.7 -2.4 5.3 -2.2 5.1 -2 4.9 -1.7 4.6 -1.7 4.3 -1.6 4.2 -1.5 3.9 -1.5 3.6 -1.5 3.5 -1.6 3.2 -1.6 3 -1.7 2.7 -1.8 2.5 -1.9 2.2 -2 2 -2.2 1.6 -2.2 1.3 -2.5 1 -2.5 0.6 -2.7 0.3 -2.9 -0.1 -3 -0.5 -3.1 -1 -3.3 -1.4 -3.3 -1.9 -3.5 -2.3 -3.5 -2.8 -3.6 -3.4 -3.5 -3.8 -3.6 -4.3 -3.5 -4.9 -3.4 -5.2 -3.3 -5.8 -3.1 -6.1 -2.9 -6.4 -2.5 -6.7 -2.2 -6.9 -1.7 -7.1 -1.4 -7 -0.8 -6.9 -0.2 -6.7 0.4 -6.3 0.9 -5.9 1.6 -5.4 2.2 -4.7 2.8 -4 3.5 -3.2 3.9 -2.3 4.5 -1.5 4.9 -0.5 5.3 0.3 5.6 1.2 5.9 2 6 2.7 6 3.5 6.1 4.1 6 4.7 5.9 5.1 5.7 5.6 5.5 5.9 5.3 6.2 4.9 6.4 4.7 6.7 4.3 6.7 3.9 6.8 3.7 6.9 3.2 6.9 3 6.9 2.6 6.8 2.3 6.8 2 6.7 1.7 6.7 1.4 6.5 1.1 6.4 0.9 6.4 0.6 6.2 0.3 6 0.1 6 -0.1 5.8 -0.3 5.6 -0.6 5.5 -0.8 5.4 -1 5.1 -1.2 5 -1.5 4.8 -1.7 4.6 -1.9 4.4 -2.2 4.1 -2.5 3.9 -2.7 3.6 -3.1 3.4 -3.3 3 -3.7 2.6 -4.1 2.2 -4.4 1.8 -4.8 1.3 -5.3 0.7 -5.7 0 -6.2 -0.7 -6.7 -1.5 -7.2 -2.5 -7.7 -3.6 -8.3 -4.7 -8.8 -6.2 -9.3 -7.6 -9.7 -9.3 -10.2 -11.2 -10.5 -13.1 -10.6 -15.1 -10.7 -17.3 -10.5 -19.4 -10.1 -21.5 -9.3 -23.2 -8.3 -24.7 -6.9 -25.7 -5.1 -26 -2.9 -25.7 -0.6 -24.6 2.2 -22.5 5 -19.9 7.8 -16.4 10.7 -12.7 13.2 -8.5 15.4 -4.5 17.3 -0.6 18.7 2.8 19.5 5.8 20 8.1 19.9 9.8 19.4 11.1 18.7 11.7 17.7 12 16.5 12 15.2 11.6 13.8 11.1 12.4 10.5 11.1 9.8 9.8 9.2 8.6 8.6 7.4 7.9 6.4 7.3 5.4 6.8 4.6 6.4 3.8 6 3.1 5.6 2.6 5.3 2 5 1.7 4.9 1.3 4.6 0.9 4.5 0.8 4.4 0.5 4.2 0.4 4.1 0.4 4 0.2 3.9 0.2 3.7 0.2 3.7 0.3 3.6 0.3 3.5 0.3 3.3 0.5 3.3 0.5 3.1 0.7 2.9 0.8 2.8 0.9 2.6 1 2.4 1.2 2.3 1.4 2 1.5 1.8 1.7 1.5 1.9 1.3 2 0.9 2.1 0.7 2.4 0.3 2.5 0.1 2.6 -0.4 2.8 -0.8 2.9 -1.1 3 -1.6 3.1 -2 3.2 -2.4 3.3 -2.9 3.3 -3.3 3.3 -3.8 3.3 -4.3 3.2 -4.7 3 -5.1 3 -5.4 2.7 -5.8 2.5 -6.1 2.2 -6.3 1.8 -6.4 1.5 -6.4 1 -6.4 0.5 -6.3 0 -6 -0.6 -5.7 -1.1 -5.3 -1.7 -4.7 -2.2 -4.1 -2.9 -3.4 -3.3 -2.6 -3.8 -1.9 -4.3 -1.1 -4.6 -0.3 -5 0.6 -5.2 1.3 -5.5 2 -5.5 2.8 -5.7 3.4 -5.6 4 -5.5 4.4 -5.4 5 -5.3 5.3 -5.1 5.7 -4.8 5.9 -4.5 6.1 -4.2 6.3 -4 6.4 -3.6 6.5 -3.3 6.6 -3 6.6 -2.6 6.6 -2.4 6.5 -2 6.5 -1.7 6.4 -1.5 6.4 -1.1 6.2 -0.9 6.2 -0.6 6 -0.3 5.9 -0.1 5.8 0.1 5.6 0.4 5.5 0.6 5.3 0.9 5.1 1.1 5 1.4 4.7 1.6 4.6 1.9 4.3 2.1 4.1 2.4 3.8 2.7 3.6 3 3.2 3.3 2.9 3.6 2.5 4 2.1 4.4 1.6 4.7 1.1 5.2 0.5 5.6 -0.2 6 -0.9 6.5 -1.7 6.9 -2.7 7.4 -3.8 7.9 -4.9 8.4 -6.2 8.7 -7.7 9.2 -9.2 9.4 -10.9 9.6 -12.6 9.7 -14.5 9.7 -16.3 9.3 -18.2 8.9 -19.8 8 -21.2 7 -22.4 5.7 -23 4 -23.1 2 -22.6 -0.1 -21.5 -2.6 -19.6 -5 -17.1 -7.5 -14.1 -9.9 -10.8 -12.1 -7.3 -14.1 -3.7 -15.6 -0.5 -16.8 2.7 -17.5 5.2 -17.9 7.4 -18 9 -17.5 10.2 -17 11 -16.1 11.3 -15.1 11.4 -14 11.3 -12.8 11 -11.6 10.5 -10.5 10.1 -9.4 9.5 -8.3 9 -7.3 8.4 -6.4 7.9 -5.5 7.5 -4.9 7 -4.1 6.6 -3.7 6.2 -3.1 5.9 -2.7 5.5 -2.3 5.3 -2.1 5 -1.8 4.8 -1.6 4.5 -1.5 4.3 -1.4 4.1 -1.3 3.9 -1.3 3.7 -1.3 3.5 -1.3 3.2 -1.4 3.1 -1.5 2.8 -1.5 2.6 -1.6 2.4 -1.7 2.1 -1.9 1.9 -2 1.5 -2.1 1.3 -2.3 1 -2.4 0.6 -2.5 0.3 -2.7 -0.1 -2.8 -0.5 -2.9 -0.9 -3.1 -1.3 -3.2 -1.7 -3.2 -2.2 -3.3 -2.6 -3.4 -3.1 -3.4 -3.6 -3.3 -4.1 -3.3 -4.5 -3.3 -4.9 -3.1 -5.3 -2.9 -5.7 -2.7 -6 -2.4 -6.3 -2.1 -6.4 -1.7 -6.6 -1.2 -6.5 -0.9 -6.5 -0.3 -6.3 0.3 -6 0.8 -5.6 1.4 -5.1 2 -4.5 2.5 -3.9 3.1 -3.1 3.6 -2.4 4.1 -1.5 4.5 -0.7 4.9 0.1 5.2 0.9 5.4 1.7 5.6 2.4 5.7 3.1 5.7 3.7 5.7 4.3 5.6 4.8 5.4 5.2 5.3 5.5 5 5.9 4.7 6.1 4.5 6.3 4.2 6.4 3.8 6.5 3.5 6.6 3.2 6.7 2.9 6.6 2.6 6.7 2.2 6.5 1.9 6.6 1.6 6.4 1.4 6.4 1 6.2 0.8 6.2 0.5 6 0.3 5.9 0 5.8 -0.2 5.6 -0.4 5.4 -0.7 5.3 -1 5.2 -1.2 4.9 -1.4 4.8 -1.6 4.5 -2 4.3 -2.1 4.1 -2.5 3.8 -2.8 3.5 -3 3.2 -3.4 2.9 -3.7 2.4 -4 2.1 -4.5 1.6 -4.8 1 -5.2 0.5 -5.7 -0.3 -6.1 -0.9 -6.6 -1.9 -7.1 -2.8 -7.6 -3.9 -8 -5 -8.5 -6.5 -8.9 -7.8 -9.3 -9.5 -9.7 -11.2 -9.8 -13 -9.9 -14.9 -9.8 -16.9 -9.5 -18.6 -9 -20.4 -8.2 -21.8 -7.1 -23 -5.6 -23.6 -3.9 -23.6 -1.9 -23.1 0.3 -21.8 2.9 -19.8 5.4 -17.3 7.9 -14.1 10.4 -10.6 12.7 -7 14.5 -3.3 16.2 0 17.3 3.1 18 5.7 18.3 7.8 18.3 9.4 17.8 10.5 17.2 11.1 16.3 11.5 15.2 11.6 14 11.3 12.9 10.9 11.6 10.5 10.5 10 9.2 9.3 8.2 8.9 7.2 8.2 6.3 7.8 5.5 7.2 4.7 6.9 4 6.4 3.4 6 3 5.7 2.5 5.4 2.2 5.2 1.9 4.8 1.6 4.7 1.5 4.4 1.3 4.3 1.2 4 1.2 3.9 1.1 3.6 1.1 3.5 1.1 3.3 1.2 3.1 1.2 2.9 1.3 2.7 1.5 2.4 1.5 2.3 1.6 2 1.8 1.7 1.9 1.5 2 1.1 2.2 0.9 2.3 0.6 2.5 0.2 2.6 -0.2 2.7 -0.5 2.9 -0.9 2.9 -1.3 3.1 -1.8 3.1 -2.1 3.2 -2.7 3.3 -3 3.2 -3.5 3.3 -4 3.1 -4.4 3.1 -4.8 3 -5.1 2.7 -5.6 2.6 -5.8 2.3 -6 1.9 -6.2 1.6 -6.3 1.2 -6.3 0.7 -6.2 0.2 -6 -0.2 -5.7 -0.9 -5.3 -1.4 -4.9 -1.9 -4.2 -2.5 -3.7 -3 -3 -3.5 -2.2 -4 -1.4 -4.3 -0.7 -4.7 0.2 -5 0.9 -5.3 1.7 -5.3 2.3 -5.5 3 -5.5 3.7 -5.5 4.1 -5.4 4.6 -5.2 5.1 -5 5.4 -4.9 5.7 -4.6 5.9 -4.3 6.1 -4 6.3 -3.7 6.4 -3.4 6.4 -3.1 6.5 -2.7 6.5 -2.5 6.5 -2.1 6.4 -1.8 6.4 -1.6 6.3 -1.2 6.2 -1 6.1 -0.7 6 -0.4 5.9 -0.2 5.8 0.1 5.6 0.3 5.5 0.6 5.3 0.8 5.1 1.1 5 1.3 4.7 1.6 4.6 1.8 4.3 2.1 4.1 2.3 3.8 2.7 3.6 2.9 3.2 3.3 2.9 3.6 2.5 3.9 2 4.3 1.6 4.7 1.1 5.1 0.5 5.5 -0.1 5.9 -0.9 6.4 -1.8 6.8 -2.6 7.3 -3.7 7.7 -4.8 8.2 -6.2 8.6 -7.5 8.9 -9 9.2 -10.6 9.4 -12.4 9.4 -14.1 9.4 -15.9 9.1 -17.6 8.6 -19.2 7.8 -20.6 6.8 -21.7 5.5 -22.2 3.9 -22.4 2 -21.9 -0.1 -20.8 -2.4 -19.1 -4.8 -16.6 -7.2 -13.9 -9.5 -10.6 -11.6 -7.3 -13.5 -3.9 -15.1 -0.6 -16.2 2.3 -17 4.8 -17.4 7 -17.4 8.7 -17.1 9.9 -16.6 10.7 -15.8 11.1 -14.8 11.3 -13.8 11.2 -12.6 10.9 -11.6 10.6 -10.4 10.1 -9.3 9.6 -8.3 9.2 -7.3 8.6 -6.5 8.1 -5.6 7.6 -5 7.2 -4.3 6.8 -3.7 6.4 -3.3 6 -2.8 5.8 -2.5 5.4 -2.3 5.2 -2 4.9 -1.8 4.6 -1.7 4.4 -1.6 4.2 -1.6 4 -1.5 3.7 -1.5 3.5 -1.6 3.2 -1.6 3.1 -1.7 2.7 -1.8 2.6 -1.9 2.2 -2 2 -2.2 1.7 -2.3 1.3 -2.4 1 -2.6 0.7 -2.7 0.3 -2.8 -0.1 -3 -0.4 -3.2 -1 -3.2 -1.3 -3.4 -1.9 -3.5 -2.3 -3.5 -2.8 -3.6 -3.3 -3.6 -3.8 -3.6 -4.3 -3.5 -4.8 -3.5 -5.3 -3.3 -5.7 -3.1 -6.2 -2.9 -6.4 -2.6 -6.8 -2.3 -6.9 -1.8 -7.1 -1.3 -7 -0.9 -7 -0.3 -6.8 0.3 -6.4 0.9 -6 1.6 -5.5 2.1 -4.8 2.8 -4 3.4 -3.3 4 -2.4 4.5 -1.6 4.9 -0.6 5.3 0.3 5.6 1.1 5.9 1.9 6 2.7 6.1 3.5 6.1 4.1 6.1 4.6 6 5.2 5.7 5.5 5.6 6 5.3 6.2 5 6.4 4.7 6.7 4.3 6.7 4 6.9 3.7 6.9 3.3 6.9 3 6.9 2.7 6.9 2.3 6.8 2.1 6.7 1.7 6.7 1.4 6.6 1.2 6.5 0.9 6.3 0.6 6.2 0.4 6.2 0.1 5.9 0 5.9 -0.4 5.6 -0.5 5.6 -0.7 5.3 -1 5.2 -1.2 5.1 -1.4 4.8 -1.6 4.7 -1.9 4.4 -2.1 4.2 -2.4 4 -2.7 3.7 -3 3.4 -3.3 3.1 -3.6 2.7 -3.9 2.4 -4.4 1.9 -4.7 1.4 -5.1 0.9 -5.7 0.2 -6 -0.5 -6.6 -1.3 -7.1 -2.2 -7.6 -3.2 -8.2 -4.5 -8.7 -5.7 -9.2 -7.3 -9.7 -8.9 -10.2 -10.6 -10.4 -12.7 -10.7 -14.7 -10.8 -16.8 -10.7 -19 -10.3 -21 -9.7 -23 -8.7 -24.6 -7.4 -25.7 -5.7 -26.3 -3.6 -26.2 -1.3 -25.2 1.4 -23.4 4.3 -20.9 7.1 -17.6 10 -13.9 12.7 -9.7 15.1 -5.6 17 -1.6 18.5 2 19.6 5.1 20.1 7.7 20.1 9.5 19.8 10.9 19.1 11.7 18.1 12 16.9 12 15.6 11.8 14.3 11.2 12.9 10.7 11.5 10 10.1 9.3 8.9 8.7 7.7 8 6.6 7.4 5.7 6.9 4.7 6.4 4 6 3.2 5.6 2.7 5.4 2.1 5 1.7 4.9 1.2 4.7 1 4.5 0.7 4.3 0.5 4.3 0.3 4.1 0.2 4.1 0.2 3.9 0.1 3.9 0.1 3.8 0.1 3.7 0.2 3.5 0.2 3.5 0.3 3.4 0.4 3.2 0.5 3.1 0.7 3 0.7 2.8 0.9 2.6 1.1 2.4 1.2 2.3 1.4 2 1.5 1.8 1.8 1.5 1.8 1.3 2.1 1 2.2 0.6 2.4 0.3 2.5 0 2.7 -0.4 2.8 -0.8 3 -1.2 3.1 -1.6 3.2 -2 3.3 -2.6 3.3 -2.9 3.4 -3.5 3.4 -3.9 3.3 -4.4 3.3 -4.8 3.1 -5.3 3 -5.6 2.8 -5.9 2.5 -6.3 2.3 -6.4 1.8 -6.6 1.5 -6.6 0.9 -6.6 0.5 -6.4 0 -6.2 -0.6 -5.8 -1.2 -5.3 -1.8 -4.8 -2.4 -4.1 -2.9 -3.5 -3.5 -2.6 -3.9 -1.9 -4.4 -1 -4.9 -0.2 -5.1 0.7 -5.4 1.4 -5.6 2.2 -5.7 2.9 -5.7 3.6 -5.8 4.1 -5.7 4.6 -5.5 5.1 -5.3 5.5 -5.2 5.8 -4.9 6 -4.6 6.3 -4.2 6.4 -4 6.5 -3.7 6.7 -3.3 6.6 -3 6.7 -2.7 6.7 -2.4 6.6 -2 6.6 -1.7 6.5 -1.5 6.4 -1.2 6.3 -0.9 6.2 -0.6 6.1 -0.4 6 -0.1 5.8 0.1 5.7 0.4 5.6 0.6 5.3 0.8 5.3 1.1 5 1.3 4.8 1.6 4.7 1.8 4.4 2 4.2 2.3 4 2.7 3.6 2.9 3.4 3.2 3.1 3.5 2.7 3.9 2.2 4.2 1.9 4.7 1.3 5 0.8 5.5 0.1 5.9 -0.6 6.4 -1.3 6.9 -2.3 7.3 -3.3 7.8 -4.5 8.4 -5.7 8.7 -7.2 9.2 -8.6 9.6 -10.4 9.8 -12.1 9.9 -14.1 10 -15.9 9.8 -17.9 9.4 -19.7 8.7 -21.3 7.8 -22.7 6.5 -23.5 5 -24 3 -23.7 0.8 -22.9 -1.5 -21.1 -4.1 -18.9 -6.7 -15.9 -9.3 -12.5 -11.7 -9 -13.8 -5.2 -15.5 -1.7 -17 1.7 -17.9 4.5 -18.4 6.8 -18.5 8.8 -18.3 10.1 -17.7 10.9 -16.9 11.5 -15.9 11.6 -14.7 11.5 -13.6 11.2 -12.3 10.7 -11.1 10.2 -9.8 9.6 -8.8 9.1 -7.7 8.5 -6.7 7.9 -5.9 7.5 -5 7 -4.3 6.5 -3.7 6.2 -3.2 5.8 -2.7 5.5 -2.3 5.2 -1.9 5 -1.7 4.7 -1.5 4.5 -1.3 4.3 -1.1 4.2 -1.1 3.9 -1.1 3.8 -1 3.6 -1 3.4 -1.1 3.2 -1.1 3 -1.1 2.9 -1.3 2.6 -1.4 2.4 -1.4 2.2 -1.6 2 -1.7 1.7 -1.9 1.5 -2 1.1 -2.1 0.9 -2.3 0.5 -2.4 0.2 -2.6 -0.1 -2.7 -0.5 -2.8 -0.9 -2.9 -1.3 -3 -1.7 -3.1 -2.1 -3.1 -2.6 -3.2 -3 -3.3 -3.5 -3.1 -3.9 -3.2 -4.3 -3 -4.7 -2.9 -5.1 -2.8 -5.4 -2.5 -5.7 -2.3 -6 -1.9 -6.1 -1.6 -6.2 -1.2 -6.2 -0.7 -6.1 -0.2 -5.9 0.2 -5.7 0.8 -5.2 1.4 -4.9 1.9 -4.2 2.4 -3.6 2.9 -3 3.5 -2.2 3.8 -1.5 4.3 -0.7 4.6 0.1 5 0.9 5.1 1.6 5.3 2.3 5.4 2.9 5.4 3.5 5.4 4.1 5.3 4.6 5.2 4.9 5 5.3 4.8 5.6 4.5 5.9 4.3 6.1 4 6.2 3.7 6.3 3.4 6.4 3 6.4 2.8 6.4 2.4 6.5 2.1 6.3 1.8 6.4 1.6 6.2 1.2 6.2 1 6.1 0.6 6 0.5 5.8 0.1 5.8 -0.1 5.5 -0.3 5.5 -0.6 5.2 -0.8 5.1 -1.1 4.9 -1.3 4.7 -1.6 4.5 -1.9 4.3 -2.1 4 -2.4 3.8 -2.7 3.5 -3 3.1 -3.3 2.8 -3.6 2.4 -4 2 -4.3 1.5 -4.7 0.9 -5.2 0.4 -5.5 -0.3 -6 -1.1 -6.4 -1.9 -6.9 -2.8 -7.3 -3.9 -7.7 -5.1 -8.2 -6.3 -8.5 -7.7 -8.9 -9.3 -9.1 -10.9 -9.3 -12.5 -9.3 -14.3 -9.1 -16 -8.9 -17.7 -8.3 -19.2 -7.4 -20.4 -6.5 -21.5 -5 -21.9 -3.5 -21.9 -1.5 -21.3 0.5 -20.1 2.9 -18.3 5.1 -15.8 7.5 -13.1 9.8 -9.8 11.7 -6.6 13.6 -3.2 15 -0.1 16.1 2.7 16.8 5.2 17.1 7.2 17.1 8.7 16.8 9.9 16.2 10.7 15.4 11.1 14.4 11.2 13.4 11.1 12.4 10.8 11.2 10.5 10.1 10.1 9.1 9.5 8.1 9.1 7.1 8.6 6.3 8.1 5.5 7.6 4.9 7.2 4.2 6.8 3.7 6.5 3.3 6.1 2.8 5.7 2.5 5.5 2.3 5.2 2.1 4.9 1.9 4.7 1.8 4.4 1.7 4.2 1.6 4 1.7 3.7 1.7 3.5 1.7 3.2 1.8 2.9 1.8 2.7 2 2.5 2.1 2.1 2.2 1.9 2.3 1.5 2.5 1.2 2.6 0.8 2.8 0.4 2.9 0.1 3.1 -0.4 3.2 -0.8 3.4 -1.2 3.4 -1.7 3.6 -2.3 3.7 -2.7 3.7 -3.3 3.8 -3.8 3.8 -4.4 3.7 -4.8 3.7 -5.4 3.5 -5.8 3.3 -6.3 3.1 -6.7 2.9 -7 2.4 -7.2 2.1 -7.4 1.6 -7.4 1.1 -7.4 0.4 -7.2 -0.1 -6.9 -0.8 -6.4 -1.4 -6 -2.1 -5.2 -2.8 -4.5 -3.4 -3.6 -4 -2.8 -4.5 -1.8 -5.1 -0.9 -5.5 0 -5.8 1 -6.1 1.9 -6.3 2.6 -6.4 3.5 -6.4 4.1 -6.4 4.7 -6.2 5.3 -6.1 5.7 -5.8 6.1 -5.6 6.3 -5.3 6.7 -4.9 6.8 -4.6 6.9 -4.3 7 -3.9 7.1 -3.5 7.1 -3.2 7.1 -2.9 7.1 -2.5 7 -2.2 6.9 -1.9 6.8 -1.6 6.8 -1.3 6.6 -1.1 6.5 -0.8 6.4 -0.5 6.3 -0.3 6.1 -0.2 6 0.2 5.9 0.3 5.7 0.5 5.6 0.7 5.4 1 5.3 1.1 5.1 1.4 4.9 1.5 4.7 1.8 4.6 2 4.3 2.3 4.1 2.6 3.8 2.8 3.6 3.1 3.3 3.4 3 3.8 2.7 4.2 2.2 4.5 1.8 4.9 1.3 5.4 0.7 5.9 0 6.4 -0.7 6.9 -1.5 7.5 -2.6 8 -3.6 8.7 -4.9 9.2 -6.3 9.7 -7.9 10.3 -9.7 10.8 -11.7 11.2 -13.8 11.4 -16 11.4 -18.4 11.3 -20.8 10.9 -23 10.2 -25.1 9 -26.7 7.6 -27.9 5.6 -28.4 3.3 -28 0.6 -26.7 -2.4 -24.5 -5.5 -21.4 -8.7 -17.6 -11.7 -13.3 -14.6 -8.8 -17 -4.2 -18.9 -0.1 -20.4 3.7 -21.2 6.7 -21.6 9.1 -21.3 10.8 -20.8 11.9 -19.9 12.4 -18.6 12.4 -17.3 12.1 -15.8 11.7 -14.2 11 -12.8 10.2 -11.2 9.4 -9.8 8.7 -8.4 8 -7.2 7.3 -6 6.7 -5 6.2 -4.1 5.8 -3.2 5.4 -2.5 5.1 -1.9 4.9 -1.3 4.8 -0.8 4.6 -0.4 4.5 -0.1 4.4 0.1 4.4 0.4 4.4 0.6 4.4 0.6 4.3 0.7 4.3 0.7 4.3 0.8 4.3 0.7 4.2 0.6 4.3 0.6 4.1 0.5 4.2 0.3 4 0.2 4 0.1 3.9 -0.1 3.8 -0.2 3.6 -0.5 3.5 -0.6 3.4 -0.8 3.2 -1 3 -1.1 2.8 -1.4 2.6 -1.6 2.3 -1.8 2.1 -2.1 1.8 -2.2 1.4 -2.4 1.2 -2.7 0.7 -2.9 0.4 -3 0 -3.3 -0.5 -3.5 -1 -3.6 -1.4 -3.8 -2 -4 -2.6 -4.1 -3.1 -4.1 -3.7 -4.3 -4.4 -4.2 -4.9 -4.3 -5.6 -4.2 -6.2 -4 -6.7 -3.9 -7.3 -3.5 -7.7 -3.3 -8.1 -2.9 -8.5 -2.4 -8.6 -1.8 -8.7 -1.2 -8.6 -0.5 -8.4 0.2 -8 0.9 -7.4 1.8 -6.8 2.6 -6 3.3 -5 4.1 -4.1 4.8 -2.9 5.4 -1.9 6.1 -0.7 6.4 0.4 6.9 1.4 7.1 2.5 7.3 3.3 7.4 4.2 7.4 4.9 7.2 5.6 7.1 6.1 6.8 6.5 6.6 6.9 6.2 7.1 5.8 7.4 5.5 7.5 5 7.6 4.7 7.6 4.2 7.7 3.9 7.6 3.4 7.5 3.1 7.5 2.8 7.5 2.4 7.3 2.2 7.2 1.8 7.1 1.6 6.9 1.3 6.9 1.1 6.7 0.9 6.6 0.7 6.5 0.6 6.3 0.3 6.2 0.2 6 0 6 -0.1 5.8 -0.2 5.6 -0.4 5.6 -0.5 5.4 -0.6 5.2 -0.8 5.2 -0.9 5 -1.1 4.9 -1.2 4.7 -1.3 4.6 -1.5 4.4 -1.7 4.3 -1.9 4.1 -2.1 4 -2.4 3.7 -2.5 3.6 -2.9 3.3 -3.1 3.1 -3.5 2.9 -3.8 2.5 -4.2 2.2 -4.6 1.8 -5 1.3 -5.6 0.8 -6.1 0.2 -6.7 -0.5 -7.3 -1.3 -8 -2.3 -8.7 -3.5 -9.5 -4.7 -10.3 -6.4 -11 -8.1 -11.8 -10.1 -12.6 -12.5 -13.3 -15.2 -13.8 -18 -14.2 -21.1 -14.3 -24.4 -14.1 -27.7 -13.5 -30.9 -12.5 -33.6 -10.7 -35.8 -8.5 -37.1 -5.6 -37.1 -2.1 -35.7 1.8 -33 6.2 -28.8 10.5 -23.5 14.8 -17.4 18.6 -10.9 22 -4.7 24.6 1 26.4 5.7 27.3 9.4 27.4 12 26.9 13.5 25.8 14.1 24.2 13.9 22.4 13.3 20.2 12.2 18.1 11 15.8 9.8 13.6 8.5 11.5 7.4 9.5 6.5 7.6 5.6 5.8 5 4.2 4.7 2.7 4.3 1.4 4.3 0.2 4.4 -0.8 4.4 -1.6 4.7 -2.4 5 -3.1 5.3 -3.5 5.6 -3.8 5.9 -4.1 6.3 -4.3 6.5 -4.4 6.7 -4.4 7 -4.3 7.1 -4.1 7.3 -4.1 7.4 -3.8 7.4 -3.6 7.5 -3.4 7.5 -3.1 7.5 -2.8 7.4 -2.6 7.4 -2.3 7.3 -2.1 7.2 -1.7 7.1 -1.6 7.1 -1.3 6.9 -1.1 6.8 -0.8 6.6 -0.7 6.6 -0.4 6.4 -0.2 6.2 -0.1 6.2 0.2 6 0.3 5.8 0.6 5.7 0.7 5.5 0.9 5.4 1.1 5.2 1.2 5.1 1.5 4.8 1.7 4.7 1.9 4.5 2.1 4.3 2.4 4 2.6 3.8 3 3.5 3.2 3.3 3.5 2.9 3.9 2.5 4.3 2.2 4.6 1.6 5.1 1.2 5.5 0.6 6.1 -0.2 6.5 -0.8 7.1 -1.8 7.6 -2.8 8.3 -3.9 8.8 -5.2 9.4 -6.7 10 -8.4 10.6 -10.2 10.9 -12.3 11.4 -14.4 11.6 -16.8 11.6 -19.1 11.4 -21.6 10.9 -23.8 10.1 -25.9 8.9 -27.5 7.3 -28.5 5.2 -28.9 2.7 -28.2 0 -26.7 -3.1 -24.3 -6.4 -20.9 -9.6 -16.8 -12.6 -12.4 -15.5 -7.7 -17.8 -3.2 -19.6 1 -21 4.6 -21.7 7.5 -21.9 9.8 -21.5 11.3 -20.9 12.1 -19.8 12.6 -18.5 12.4 -17.1 12.1 -15.5 11.5 -14 10.7 -12.4 10 -10.9 9.2 -9.4 8.3 -8.1 7.7 -6.9 7 -5.7 6.5 -4.7 6 -3.7 5.6 -2.9 5.2 -2.2 5 -1.6 4.9 -1 4.6 -0.5 4.6 -0.2 4.5 0.2 4.4 0.4 4.5 0.6 4.4 0.8 4.4 0.8 4.4 1 4.5 0.9 4.4 0.9 4.4 0.9 4.4 0.8 4.4 0.8 4.4 0.6 4.3 0.5 4.2 0.3 4.2 0.2 4.1 0 4 -0.1 3.8 -0.3 3.8 -0.6 3.6 -0.7 3.4 -0.9 3.2 -1.1 3.1 -1.3 2.8 -1.6 2.6 -1.8 2.3 -1.9 2 -2.2 1.8 -2.5 1.4 -2.6 1 -2.9 0.7 -3.1 0.2 -3.3 -0.2 -3.6 -0.7 -3.7 -1.2 -3.9 -1.7 -4.1 -2.4 -4.2 -2.9 -4.4 -3.5 -4.4 -4.2 -4.6 -4.9 -4.5 -5.5 -4.5 -6.2 -4.4 -6.8 -4.3 -7.5 -4 -8 -3.7 -8.4 -3.3 -8.9 -2.9 -9.2 -2.3 -9.3 -1.7 -9.3 -1 -9.2 -0.3 -8.8 0.6 -8.4 1.4 -7.7 2.3 -6.9 3.2 -5.9 3.9 -4.9 4.8 -3.7 5.5 -2.6 6.2 -1.3 6.7 -0.2 7.2 1.1 7.5 2.1 7.8 3.2 7.8 4.1 7.9 4.9 7.8 5.6 7.6 6.2 7.4 6.7 7.1 7 6.8 7.4 6.3 7.6 5.9 7.8 5.6 7.8 5 7.9 4.7 7.9 4.2 7.9 3.9 7.8 3.4 7.7 3.1 7.7 2.8 7.5 2.4 7.4 2.1 7.3 1.9 7.2 1.6 7 1.4 6.9 1.2 6.7 1 6.7 0.9 6.5 0.6 6.3 0.6 6.2 0.4 6.1 0.3 6 0.2 5.8 0.2 5.8 0 5.5 -0.1 5.5 -0.1 5.4 -0.2 5.2 -0.3 5.1 -0.4 5.1 -0.4 4.9 -0.6 4.7 -0.6 4.7 -0.6 4.6 -0.8 4.4 -0.9 4.4 -1 4.2 -1.1 4.1 -1.2 4.1 -1.3 3.9 -1.5 3.7 -1.7 3.7 -1.8 3.5 -2 3.4 -2.2 3.2 -2.5 3.1 -2.8 2.8 -3 2.7 -3.4 2.5 -3.7 2.2 -4.2 1.9 -4.5 1.5 -5.1 1.2 -5.6 0.6 -6.2 0.1 -6.8 -0.5 -7.6 -1.4 -8.3 -2.3 -9.2 -3.5 -10 -4.8 -11 -6.4 -11.9 -8.4 -13 -10.6 -13.9 -13.2 -14.9 -16.2 -15.7 -19.7 -16.3 -23.4 -16.7 -27.5 -16.8 -31.7 -16.3 -35.8 -15.2 -39.7 -13.5 -42.9 -10.8 -44.7 -7.5 -45.2 -3.2 -43.8 1.8 -40.3 7 -35 12.7 -28 18 -20.1 22.8 -11.8 26.9 -3.9 29.9 2.9 31.9 8.4 32.7 12.2 32.4 14.6 31.4 15.5 29.7 15.3 27.4 14.3 24.8 12.9 21.9 11 19.1 9.3 16.1 7.6 13.3 6.1 10.5 4.9 7.9 4.1 5.5 3.5 3.2 3.4 1.2 3.4 -0.7 3.8 -2.3 4.2 -3.7 4.8 -4.8 5.5 -5.7 6.2 -6.5 6.9 -7 7.4 -7.4 8.1 -7.5 8.4 -7.5 8.9 -7.4 9.1 -7.2 9.3 -6.9 9.5 -6.6 9.5 -6.2 9.4 -5.8 9.5 -5.3 9.3 -4.9 9.2 -4.5 9 -4.1 8.9 -3.7 8.6 -3.4 8.5 -3 8.3 -2.8 8.2 -2.5 7.9 -2.2 7.7 -2.1 7.5 -1.9 7.4 -1.7 7.1 -1.6 7 -1.6 6.8 -1.4 6.7 -1.5 6.4 -1.4 6.3 -1.4 6.1 -1.4 5.9 -1.5 5.8 -1.5 5.6 -1.6 5.4 -1.7 5.3 -1.8 5 -2 4.9 -2.1 4.6 -2.3 4.5 -2.4 4.2 -2.7 4 -2.9 3.7 -3.2 3.5 -3.5 3.1 -3.7 2.8 -4.1 2.5 -4.5 1.9 -4.9 1.6 -5.3 0.9 -5.8 0.3 -6.3 -0.3 -6.8 -1.2 -7.4 -2.2 -7.9 -3.2 -8.5 -4.4 -9.2 -5.8 -9.7 -7.3 -10.3 -9.1 -10.8 -11 -11.2 -13.2 -11.6 -15.4 -11.8 -17.9 -11.7 -20.3 -11.4 -22.7 -10.8 -24.9 -9.8 -26.9 -8.4 -28.3 -6.6 -29.1 -4.4 -29.1 -1.8 -28.2 1.3 -26.2 4.4 -23.3 7.7 -19.7 10.9 -15.3 14 -10.6 16.7 -6 18.8 -1.4 20.5 2.6 21.6 5.9 22.1 8.7 22 10.5 21.6 11.9 20.7 12.4 19.5 12.6 18.1 12.4 16.6 11.9 15 11.2 13.4 10.4 11.9 9.5 10.3 8.8 8.9 8 7.6 7.3 6.3 6.7 5.2 6.2 4.2 5.7 3.3 5.4 2.5 5.1 1.8 4.9 1.2 4.7 0.7 4.6 0.2 4.5 -0.1 4.5 -0.4 4.5 -0.7 4.4 -0.9 4.5 -0.9 4.5 -1.1 4.6 -1.1 4.5 -1.1 4.5 -1 4.6 -1.1 4.5 -0.9 4.6 -0.8 4.4 -0.7 4.5 -0.6 4.4 -0.4 4.3 -0.3 4.2 -0.1 4.2 0.1 4 0.3 3.9 0.5 3.7 0.7 3.6 0.9 3.4 1.1 3.2 1.4 3 1.5 2.7 1.8 2.5 2 2.2 2.2 1.9 2.5 1.5 2.7 1.2 2.9 0.8 3.2 0.4 3.4 -0.1 3.6 -0.6 3.8 -1.1 4.1 -1.7 4.2 -2.2 4.4 -2.9 4.5 -3.5 4.7 -4.2 4.7 -4.9 4.8 -5.7 4.8 -6.3 4.6 -7 4.6 -7.7 4.3 -8.3 4 -8.8 3.7 -9.3 3.2 -9.7 2.6 -9.8 2 -9.9 1.2 -9.8 0.5 -9.5 -0.4 -9 -1.3 -8.4 -2.2 -7.5 -3.2 -6.5 -4.1 -5.4 -4.9 -4.2 -5.7 -2.9 -6.4 -1.6 -7.1 -0.3 -7.5 0.9 -7.9 2.2 -8.2 3.2 -8.3 4.1 -8.3 5.1 -8.2 5.8 -8.1 6.4 -7.8 6.9 -7.5 7.3 -7.1 7.6 -6.7 7.9 -6.3 8 -5.8 8.1 -5.4 8.1 -4.9 8.1 -4.5 8.1 -4 7.9 -3.7 7.9 -3.3 7.8 -2.9 7.7 -2.6 7.5 -2.3 7.4 -2.1 7.3 -1.8 7.1 -1.6 7 -1.4 6.8 -1.2 6.7 -1 6.6 -1 6.4 -0.8 6.3 -0.7 6.2 -0.6 6 -0.6 5.9 -0.5 5.8 -0.4 5.6 -0.4 5.5 -0.4 5.4 -0.4 5.3 -0.3 5.2 -0.3 5.1 -0.3 4.9 -0.3 4.9 -0.3 4.8 -0.3 4.6 -0.3 4.6 -0.3 4.4 -0.4 4.4 -0.3 4.2 -0.4 4.2 -0.5 4.1 -0.4 3.9 -0.6 3.9 -0.5 3.9 -0.6 3.7 -0.7 3.6 -0.8 3.6 -0.8 3.4 -0.9 3.4 -1.1 3.3 -1.1 3.2 -1.3 3.1 -1.4 3 -1.5 2.9 -1.7 2.9 -2 2.7 -2.1 2.5 -2.4 2.5 -2.6 2.3 -3 2.1 -3.3 2 -3.6 1.7 -4.1 1.4 -4.6 1.2 -5.1 0.8 -5.6 0.3 -6.3 -0.2 -7.1 -0.9 -7.8 -1.6 -8.6 -2.6 -9.6 -3.7 -10.7 -5.1 -11.7 -6.9 -12.8 -8.9 -14.1 -11.4 -15.2 -14.3 -16.5 -17.8 -17.5 -21.6 -18.4 -26.2 -19 -31.1 -19.1 -36.2 -18.9 -41.4 -17.6 -46.3 -15.7 -50.2 -12.6 -52.7 -8.5 -53.2 -3.3 -51.2 2.7 -46.7 9.3 -39.5 16 -30.6 22.4 -20.5 28 -10.3 32.6 -1.2 35.7 6.5 37.4 12 37.8 15.3 36.9 16.9 35.1 16.7 32.5 15.5 29.4 13.4 26 11 22.3 8.5 18.7 6.4 14.9 4.6 11.5 3.2 8 2.4 4.9 2 1.9 2.3 -0.8 2.7 -3.1 3.6 -5.2 4.6 -6.9 5.8 -8.3 6.8 -9.3 7.9 -10 8.9 -10.5 9.6 -10.6 10.2 -10.6 10.6 -10.3 10.9 -9.9 11 -9.4 11.1 -8.8 10.9 -8.2 10.8 -7.5 10.5 -6.8 10.2 -6.1 10 -5.6 9.6 -4.9 9.4 -4.4 9 -3.8 8.7 -3.4 8.5 -3.1 8.1 -2.6 7.9 -2.4 7.6 -2.1 7.4 -1.9 7.1 -1.8 6.9 -1.6 6.7 -1.6 6.5 -1.5 6.2 -1.5 6 -1.5 5.9 -1.5 5.5 -1.6 5.4 -1.7 5.2 -1.7 4.9 -1.9 4.7 -2.1 4.4 -2.2 4.1 -2.4 3.9 -2.6 3.6 -2.8 3.2 -3.1 2.9 -3.3 2.5 -3.6 2.1 -3.8 1.6 -4.1 1.1 -4.5 0.6 -4.8 0 -5 -0.6 -5.4 -1.4 -5.8 -2.2 -6 -3 -6.4 -3.9 -6.7 -4.9 -6.9 -6 -7.1 -7.2 -7.3 -8.3 -7.3 -9.6 -7.3 -10.8 -7.2 -12.1 -6.9 -13.2 -6.5 -14.3 -6 -15.2 -5.2 -15.9 -4.2 -16.4 -3.1 -16.4 -1.9 -16.3 -0.4 -15.6 1.2 -14.5 2.8 -13.1 4.5 -11.4 6.2 -9.4 7.7 -7.1 9.1 -4.8 10.5 -2.5 11.4 -0.2 12.3 2 12.8 3.8 13.2 5.4 13.2 6.8 13.1 7.9 12.7 8.7 12.3 9.4 11.6 9.7 11 9.9 10.3 10 9.5 9.9 8.7 9.8 7.9 9.6 7.2 9.3 6.5 9 5.9 8.8 5.2 8.5 4.8 8.1 4.2 7.9 3.9 7.5 3.5 7.3 3.2 7 3 6.7 2.7 6.5 2.6 6.1 2.5 5.9 2.4 5.7 2.4 5.4 2.4 5.1 2.4 4.9 2.5 4.5 2.6 4.3 2.8 4 2.8 3.6 3.1 3.3 3.2 3 3.5 2.5 3.6 2.1 4 1.7 4.2 1.1 4.4 0.7 4.8 0 5.1 -0.6 5.4 -1.4 5.7 -2.1 5.9 -3 6.3 -3.9 6.6 -4.8 6.8 -5.9 6.9 -7.1 7.1 -8.2 7.2 -9.3 7.1 -10.6 7 -11.8 6.8 -12.9 6.3 -13.9 5.7 -14.8 5 -15.4 4.1 -15.9 3 -15.9 1.8 -15.7 0.3 -15.1 -1.2 -14.1 -2.7 -12.7 -4.4 -11.1 -5.9 -9.1 -7.5 -6.9 -8.9 -4.7 -10.1 -2.5 -11.1 -0.2 -11.9 1.7 -12.4 3.7 -12.8 5.2 -12.8 6.6 -12.7 7.7 -12.5 8.5 -12 9.1 -11.4 9.5 -10.7 9.8 -10.1 9.8 -9.3 9.9 -8.6 9.7 -7.8 9.5 -7.1 9.3 -6.4 9.1 -5.8 8.8 -5.3 8.5 -4.7 8.2 -4.2 7.9 -3.9 7.7 -3.5 7.3 -3.1 7.1 -3 6.9 -2.7 6.5 -2.6 6.3 -2.5 6.1 -2.4 5.8 -2.4 5.5 -2.3 5.3 -2.5 5 -2.4 4.7 -2.6 4.5 -2.7 4.1 -2.8 3.9 -3 3.5 -3.2 3.2 -3.4 2.8 -3.7 2.4 -3.9 1.9 -4.2 1.5 -4.4 0.9 -4.8 0.3 -5.1 -0.3 -5.4 -1 -5.8 -1.8 -6.1 -2.6 -6.4 -3.5 -6.7 -4.6 -7 -5.6 -7.2 -6.7 -7.5 -8 -7.5 -9.3 -7.6 -10.5 -7.5 -11.8 -7.3 -13.1 -7 -14.3 -6.5 -15.4 -5.8 -16.1 -4.9 -16.9 -3.8 -17 -2.6 -17.1 -1.1 -16.5 0.5 -15.7 2.1 -14.3 3.9 -12.7 5.7 -10.6 7.3 -8.4 8.9 -6 10.3 -3.5 11.5 -1.1 12.4 1.2 13.1 3.2 13.6 5 13.6 6.6 13.6 7.7 13.4 8.7 12.8 9.3 12.3 9.8 11.6 10.1 10.8 10.1 10.1 10.1 9.2 9.9 8.4 9.8 7.6 9.4 6.9 9.2 6.2 8.9 5.6 8.5 5 8.2 4.5 7.9 4 7.6 3.7 7.2 3.3 7 3.1 6.7 2.8 6.4 2.6 6.1 2.6 5.9 2.4 5.6 2.4 5.3 2.4 5 2.4 4.8 2.5 4.5 2.6 4.2 2.7 3.8 2.8 3.6 2.9 3.2 3.2 2.8 3.3 2.5 3.6 2 3.8 1.6 4.1 1.1 4.3 0.5 4.6 0 4.8 -0.7 5.2 -1.3 5.4 -2.1 5.7 -2.9 5.9 -3.8 6.2 -4.7 6.4 -5.7 6.5 -6.7 6.6 -7.7 6.7 -8.9 6.6 -9.9 6.4 -11 6.2 -12 5.8 -12.8 5.2 -13.7 4.5 -14.2 3.7 -14.5 2.6 -14.6 1.5 -14.3 0.3 -13.8 -1.1 -12.8 -2.6 -11.7 -4 -10.1 -5.4 -8.4 -6.9 -6.5 -8 -4.4 -9.2 -2.5 -10.2 -0.4 -10.8 1.4 -11.5 3.2 -11.7 4.6 -11.8 6 -11.8 7 -11.6 7.9 -11.2 8.5 -10.7 9 -10.1 9.3 -9.5 9.5 -8.9 9.5 -8.1 9.5 -7.5 9.4 -6.9 9.2 -6.2 9 -5.6 8.8 -5.1 8.6 -4.6 8.3 -4.2 8.1 -3.7 7.8 -3.4 7.6 -3.1 7.3 -2.9 7.1 -2.6 6.9 -2.5 6.6 -2.4 6.4 -2.3 6.1 -2.3 6 -2.2 5.7 -2.3 5.4 -2.3 5.2 -2.3 5 -2.5 4.7 -2.6 4.5 -2.8 4.1 -3 3.9 -3.1 3.5 -3.4 3.2 -3.6 2.8 -3.9 2.4 -4.2 2 -4.6 1.4 -4.8 0.9 -5.3 0.2 -5.6 -0.4 -6 -1.2 -6.4 -2.1 -6.8 -3 -7.2 -4 -7.6 -5.2 -8 -6.4 -8.3 -7.8 -8.5 -9.3 -8.8 -10.8 -8.8 -12.4 -8.9 -14 -8.6 -15.6 -8.2 -17.1 -7.6 -18.4 -6.9 -19.6 -5.7 -20.3 -4.4 -20.6 -2.8 -20.5 -1 -19.8 1 -18.5 3.2 -16.8 5.3 -14.4 7.5 -11.7 9.5 -8.8 11.4 -5.7 13 -2.7 14.3 0.2 15.3 2.9 15.9 5.1 16.2 7 16.2 8.5 15.8 9.6 15.3 10.3 14.5 10.7 13.7 10.9 12.8 10.9 11.7 10.7 10.7 10.4 9.7 10 8.7 9.6 7.8 9.1 7 8.7 6.1 8.3 5.5 7.8 4.8 7.5 4.2 7 3.8 6.7 3.3 6.4 3 6 2.7 5.7 2.5 5.5 2.3 5.1 2.1 4.9 2.1 4.6 2 4.4 2 4 2 3.9 2 3.5 2.1 3.3 2.2 2.9 2.3 2.7 2.4 2.3 2.6 2 2.7 1.7 2.8 1.3 3 0.9 3.2 0.4 3.4 0 3.5 -0.4 3.7 -1 3.9 -1.5 4 -2.1 4.2 -2.6 4.2 -3.2 4.3 -3.9 4.4 -4.5 4.4 -5.1 4.4 -5.8 4.2 -6.4 4.2 -7 3.9 -7.5 3.6 -7.9 3.3 -8.4 2.8 -8.7 2.4 -8.8 1.7 -8.9 1.2 -8.7 0.4 -8.5 -0.4 -8.1 -1.1 -7.5 -2 -6.8 -2.8 -5.9 -3.6 -5 -4.3 -3.9 -5.1 -2.7 -5.7 -1.6 -6.3 -0.5 -6.7 0.6 -7.1 1.8 -7.3 2.7 -7.5 3.6 -7.5 4.5 -7.5 5.1 -7.4 5.8 -7.2 6.3 -6.9 6.8 -6.5 7 -6.3 7.3 -5.8 7.5 -5.5 7.7 -5 7.7 -4.6 7.7 -4.3 7.7 -3.8 7.7 -3.4 7.6 -3.1 7.6 -2.8 7.4 -2.4 7.4 -2.1 7.2 -1.8 7.1 -1.6 7 -1.3 6.8 -1.1 6.8 -1 6.6 -0.7 6.4 -0.6 6.4 -0.4 6.2 -0.2 6 -0.1 6 0 5.8 0.1 5.7 0.3 5.5 0.4 5.5 0.5 5.3 0.6 5.1 0.7 5.1 0.9 4.9 1 4.8 1.1 4.7 1.3 4.5 1.4 4.4 1.5 4.2 1.8 4.1 1.9 4 2.2 3.7 2.3 3.6 2.7 3.4 2.9 3.2 3.2 2.9 3.5 2.7 3.9 2.4 4.3 2 4.7 1.7 5.2 1.1 5.7 0.7 6.3 0 6.9 -0.7 7.6 -1.6 8.3 -2.6 9.1 -3.7 9.8 -5.2 10.7 -6.8 11.5 -8.7 12.3 -10.9 13.2 -13.4 13.8 -16.1 14.5 -19.3 14.8 -22.7 15 -26.1 14.7 -29.7 14 -33 12.7 -35.9 10.9 -38 8.4 -39.2 5.1 -38.9 1.4 -37.2 -3 -33.8 -7.6 -29 -12.2 -23 -16.7 -16.3 -20.7 -9.4 -24 -3 -26.5 2.9 -28.1 7.4 -28.7 10.9 -28.7 13.2 -27.8 14.2 -26.4 14.4 -24.5 14 -22.5 12.9 -20.1 11.7 -17.8 10.4 -15.3 8.9 -13 7.6 -10.8 6.6 -8.6 5.6 -6.7 4.9 -4.8 4.4 -3.1 4.2 -1.6 4.1 -0.2 4.2 1 4.4 2 4.6 2.8 5.1 3.6 5.4 4.1 5.8 4.6 6.3 4.9 6.6 5.1 7 5.2 7.2 5.1 7.5 5.1 7.7 4.9 7.8 4.8 8 4.5 8 4.3 8.1 4 8.1 3.7 8 3.4 8 3.1 7.9 2.8 7.8 2.5 7.7 2.3 7.6 1.9 7.5 1.8 7.4 1.5 7.2 1.3 7.1 1.1 7 0.9 6.8 0.7 6.7 0.6 6.6 0.4 6.4 0.3 6.3 0.1 6.1 0 6.1 -0.1 5.8 -0.3 5.8 -0.3 5.6 -0.5 5.5 -0.6 5.4 -0.7 5.2 -0.9 5.1 -0.9 5 -1.1 4.8 -1.3 4.7 -1.4 4.5 -1.6 4.4 -1.7 4.3 -1.9 4.1 -2.2 3.9 -2.3 3.7 -2.6 3.5 -2.9 3.3 -3.2 3.1 -3.4 2.8 -3.9 2.5 -4.2 2.1 -4.7 1.7 -5.1 1.3 -5.6 0.8 -6.2 0.1 -6.8 -0.6 -7.4 -1.4 -8.1 -2.4 -8.8 -3.6 -9.6 -4.9 -10.4 -6.5 -11.1 -8.3 -12 -10.5 -12.7 -12.8 -13.4 -15.4 -14 -18.4 -14.3 -21.6 -14.4 -24.9 -14.2 -28.3 -13.6 -31.4 -12.4 -34.2 -10.7 -36.3 -8.3 -37.5 -5.4 -37.4 -1.7 -35.9 2.2 -32.9 6.7 -28.6 11 -23.1 15.4 -16.9 19.2 -10.3 22.5 -4 25.1 1.6 26.8 6.2 27.6 9.9 27.6 12.3 27 13.7 25.9 14.2 24.2 13.9 22.2 13.2 20.1 12 17.9 10.9 15.7 9.5 13.4 8.3 11.2 7.2 9.2 6.3 7.4 5.4 5.5 4.9 3.9 4.5 2.5 4.3 1.1 4.3 -0.1 4.3 -1 4.5 -2 4.8 -2.6 5.1 -3.3 5.4 -3.7 5.7 -4.1 6.1 -4.3 6.3 -4.4 6.7 -4.6 6.9 -4.5 7.1 -4.4 7.3 -4.3 7.4 -4.1 7.5 -3.9 7.6 -3.7 7.6 -3.4 7.6 -3.1 7.6 -2.9 7.5 -2.6 7.5 -2.4 7.3 -2.1 7.3 -1.8 7.2 -1.6 7.1 -1.3 7 -1.1 6.9 -0.9 6.7 -0.7 6.6 -0.4 6.5 -0.3 6.3 -0.1 6.2 0.1 6 0.2 6 0.5 5.7 0.6 5.6 0.8 5.5 0.9 5.3 1.2 5.1 1.3 5 1.5 4.8 1.8 4.6 1.9 4.5 2.2 4.2 2.4 4 2.7 3.7 2.9 3.5 3.3 3.2 3.6 2.9 3.9 2.5 4.3 2.1 4.7 1.7 5.2 1.1 5.6 0.6 6.1 -0.2 6.7 -0.9 7.2 -1.8 7.8 -2.8 8.4 -4 9 -5.3 9.7 -6.8 10.3 -8.6 10.8 -10.5 11.4 -12.6 11.7 -14.8 12 -17.4 12.1 -19.8 11.8 -22.4 11.4 -24.9 10.6 -27 9.3 -28.7 7.6 -29.9 5.4 -30.2 2.9 -29.5 -0.1 -28 -3.4 -25.2 -6.8 -21.7 -10.2 -17.3 -13.4 -12.6 -16.3 -7.6 -18.8 -2.8 -20.6 1.4 -22 5.2 -22.6 8.2 -22.8 10.3 -22.4 11.8 -21.5 12.6 -20.4 12.8 -19 12.6 -17.5 12.1 -15.7 11.4 -14.2 10.5 -12.4 9.7 -10.9 8.8 -9.3 8.1 -7.9 7.2 -6.6 6.7 -5.4 6.1 -4.3 5.6 -3.4 5.3 -2.4 5 -1.8 4.8 -1 4.7 -0.5 4.6 0 4.5 0.5 4.6 0.7 4.5 1 4.6 1.2 4.7 1.4 4.7 1.4 4.8 1.5 4.8 1.5 4.8 1.5 4.9 1.4 4.9 1.4 4.9 1.2 4.9 1.1 4.9 0.9 4.8 0.8 4.8 0.6 4.7 0.5 4.7 0.2 4.5 0 4.5 -0.1 4.3 -0.4 4.1 -0.6 4 -0.8 3.8 -1.1 3.7 -1.2 3.4 -1.5 3.2 -1.8 2.9 -2 2.6 -2.2 2.4 -2.5 2 -2.7 1.6 -3 1.3 -3.3 0.8 -3.5 0.4 -3.8 -0.1 -4 -0.7 -4.3 -1.3 -4.5 -1.8 -4.7 -2.6 -5 -3.2 -5.1 -4 -5.2 -4.8 -5.4 -5.6 -5.4 -6.4 -5.4 -7.3 -5.4 -8.1 -5.1 -8.8 -5 -9.6 -4.6 -10.3 -4.2 -10.8 -3.6 -11.2 -2.9 -11.4 -2.2 -11.5 -1.3 -11.4 -0.4 -10.9 0.7 -10.3 1.8 -9.5 2.8 -8.4 4 -7.2 5 -5.8 6 -4.3 6.9 -2.7 7.7 -1.3 8.3 0.3 8.9 1.7 9.3 3 9.4 4.2 9.6 5.2 9.5 6.1 9.3 6.8 9 7.4 8.7 7.9 8.2 8.2 7.8 8.4 7.3 8.6 6.7 8.6 6.2 8.7 5.8 8.6 5.2 8.5 4.7 8.4 4.3 8.3 3.8 8.1 3.5 8 3.1 7.7 2.9 7.7 2.5 7.4 2.3 7.3 2.1 7.1 1.9 7 1.8 6.8 1.6 6.6 1.5 6.4 1.5 6.3 1.4 6.2 1.4 5.9 1.4 5.9 1.4 5.6 1.5 5.5 1.5 5.4 1.6 5.2 1.6 5 1.8 4.9 1.9 4.7 2 4.5 2.2 4.3 2.4 4.1 2.6 3.9 2.8 3.7 3.1 3.4 3.4 3.1 3.7 2.9 4.1 2.5 4.4 2 4.8 1.7 5.3 1.1 5.7 0.6 6.3 -0.1 6.9 -0.9 7.5 -1.8 8 -2.9 8.8 -4 9.5 -5.5 10.1 -7 10.8 -8.9 11.5 -10.8 12.1 -13.2 12.5 -15.7 12.9 -18.4 13.1 -21.2 12.9 -24 12.4 -26.9 11.7 -29.4 10.2 -31.4 8.5 -32.7 6.1 -33.2 3.3 -32.6 -0.1 -30.7 -3.7 -27.7 -7.5 -23.6 -11.3 -18.6 -14.9 -13.2 -18.1 -7.7 -20.8 -2.3 -22.8 2.4 -24.1 6.3 -24.8 9.3 -24.7 11.5 -24.1 12.8 -23.1 13.3 -21.7 13.3 -20 12.8 -18.3 12 -16.3 11.1 -14.4 10 -12.6 9 -10.8 8 -9 7.2 -7.5 6.4 -6 5.9 -4.6 5.3 -3.5 5 -2.3 4.7 -1.4 4.6 -0.6 4.5 0.2 4.6 0.9 4.6 1.3 4.8 1.8 4.9 2.1 5 2.4 5.3 2.6 5.3 2.6 5.6 2.8 5.7 2.7 5.8 2.7 5.9 2.7 5.9 2.5 6.1 2.4 6.1 2.2 6.1 2 6.1 1.8 6.1 1.7 6.1 1.4 6 1.2 5.9 0.9 5.9 0.8 5.7 0.5 5.7 0.2 5.5 0.1 5.4 -0.2 5.3 -0.5 5.1 -0.7 4.9 -0.9 4.7 -1.1 4.6 -1.4 4.3 -1.7 4.1 -1.9 3.9 -2.2 3.6 -2.5 3.2 -2.8 3 -3 2.6 -3.4 2.2 -3.6 1.8 -4 1.3 -4.4 0.8 -4.7 0.2 -5 -0.5 -5.4 -1.1 -5.8 -1.9 -6.1 -2.8 -6.5 -3.7 -6.8 -4.8 -7.1 -5.8 -7.4 -7 -7.5 -8.2 -7.7 -9.6 -7.8 -10.9 -7.7 -12.2 -7.4 -13.6 -7.2 -14.7 -6.6 -15.9 -5.8 -16.7 -5 -17.3 -3.8 -17.6 -2.5 -17.5 -1.1 -17 0.7 -16 2.4 -14.6 4.1 -12.8 6 -10.7 7.8 -8.3 9.3 -5.8 10.7 -3.3 12 -0.8 12.8 1.5 13.6 3.6 13.9 5.4 14 6.8 14 8.1 13.6 9 13.1 9.6 12.4 10 11.7 10.2 11 10.2 10.1 10.2 9.2 10 8.5 9.7 7.6 9.4 6.9 9.2 6.1 8.7 5.6 8.5 5 8.1 4.4 7.8 4 7.4 3.6 7.1 3.3 6.9 3 6.5 2.8 6.3 2.7 5.9 2.5 5.7 2.4 5.5 2.4 5.1 2.4 4.9 2.4 4.6 2.5 4.2 2.5 4 2.7 3.7 2.8 3.4 2.9 3 3.2 2.6 3.3 2.2 3.6 1.8 3.8 1.4 4 0.8 4.2 0.3 4.6 -0.3 4.8 -0.9 5 -1.6 5.3 -2.3 5.5 -3.2 5.8 -3.9 6 -4.9 6.1 -5.8 6.2 -6.8 6.3 -7.8 6.3 -8.8 6.2 -9.7 5.9 -10.8 5.7 -11.6 5.2 -12.4 4.6 -13 3.9 -13.4 3.1 -13.6 2 -13.6 1 -13.2 -0.3 -12.5 -1.5 -11.7 -2.9 -10.4 -4.2 -8.9 -5.6 -7.3 -6.7 -5.5 -7.9 -3.6 -8.9 -1.8 -9.7 0.1 -10.4 1.8 -10.8 3.3 -11 4.7 -11.1 5.9 -11.1 6.9 -10.8 7.7 -10.5 8.2 -10 8.8 -9.4 9 -8.9 9.2 -8.3 9.2 -7.7 9.3 -7 9.1 -6.4 9.1 -5.9 8.9 -5.2 8.6 -4.8 8.5 -4.4 8.3 -3.9 8.1 -3.5 7.8 -3.2 7.6 -2.9 7.4 -2.7 7.2 -2.5 6.9 -2.4 6.8 -2.2 6.5 -2.1 6.3 -2.1 6.1 -2.1 5.9 -2 5.7 -2.2 5.5 -2.1 5.2 -2.3 5 -2.4 4.8 -2.5 4.6 -2.7 4.2 -2.9 4 -3.1 3.7 -3.3 3.4 -3.6 3 -3.9 2.7 -4.1 2.2 -4.6 1.7 -4.9 1.2 -5.3 0.6 -5.7 -0.1 -6.1 -0.8 -6.6 -1.7 -7 -2.6 -7.5 -3.7 -8 -4.8 -8.5 -6.2 -8.9 -7.6 -9.3 -9.2 -9.5 -10.9 -9.8 -12.7 -9.9 -14.6 -9.9 -16.5 -9.6 -18.3 -9 -20.1 -8.4 -21.6 -7.2 -22.8 -5.9 -23.5 -4.2 -23.6 -2.3 -23.2 0 -22.1 2.5 -20.1 4.9 -17.7 7.6 -14.6 10 -11.2 12.3 -7.5 14.2 -4 15.9 -0.5 17.2 2.7 17.9 5.3 18.3 7.4 18.3 9.2 17.9 10.3 17.3 11.1 16.4 11.5 15.3 11.5 14.3 11.4 13 11 11.8 10.6 10.6 10 9.5 9.5 8.4 8.9 7.3 8.4 6.4 7.8 5.6 7.3 4.8 6.9 4.2 6.5 3.5 6.1 3 5.8 2.6 5.4 2.3 5.2 1.9 5 1.7 4.7 1.5 4.4 1.3 4.3 1.3 4.1 1.1 3.9 1.1 3.7 1.2 3.5 1.1 3.3 1.2 3.1 1.2 2.9 1.3 2.7 1.4 2.5 1.6 2.3 1.6 2 1.8 1.8 1.8 1.5 2.1 1.2 2.1 0.9 2.4 0.6 2.4 0.2 2.6 -0.1 2.7 -0.5 2.8 -0.8 3 -1.3 3 -1.7 3.2 -2.1 3.2 -2.6 3.2 -3 3.3 -3.5 3.2 -3.9 3.2 -4.3 3.1 -4.8 3 -5.1 2.8 -5.5 2.6 -5.8 2.3 -6 2 -6.2 1.6 -6.3 1.2 -6.3 0.8 -6.2 0.3 -6.1 -0.2 -5.7 -0.8 -5.4 -1.3 -4.9 -1.9 -4.4 -2.4 -3.7 -3 -3.1 -3.5 -2.3 -3.9 -1.5 -4.3 -0.7 -4.7 0 -5 0.9 -5.2 1.5 -5.4 2.3 -5.4 3 -5.6 3.6 -5.4 4.1 -5.4 4.5 -5.3 5.1 -5.1 5.3 -4.8 5.7 -4.7 5.9 -4.3 6.1 -4 6.3 -3.8 6.4 -3.4 6.4 -3.1 6.5 -2.8 6.5 -2.5 6.5 -2.2 6.4 -1.8 6.4 -1.6 6.3 -1.3 6.3 -1 6.1 -0.7 6 -0.5 6 -0.2 5.7 0.1 5.7 0.3 5.5 0.5 5.3 0.8 5.2 1 4.9 1.3 4.8 1.5 4.6 1.8 4.4 2.1 4.1 2.3 3.8 2.6 3.6 2.9 3.3 3.2 2.9 3.6 2.6 3.9 2.1 4.2 1.7 4.6 1.2 5.1 0.6 5.4 -0.1 5.9 -0.8 6.3 -1.6 6.8 -2.5 7.2 -3.6 7.7 -4.7 8.1 -5.9 8.6 -7.3 8.9 -8.8 9.1 -10.4 9.4 -12.2 9.5 -13.9 9.4 -15.6 9.2 -17.5 8.6 -19 8 -20.5 7 -21.5 5.7 -22.3 4.1 -22.5 2.3 -22 0.2 -21.1 -2.1 -19.3 -4.4 -17.1 -6.9 -14.3 -9.2 -11.1 -11.4 -7.8 -13.3 -4.3 -14.9 -1.1 -16.1 1.9 -17 4.6 -17.4 6.8 -17.4 8.5 -17.2 9.7 -16.7 10.6 -15.9 11.1 -15 11.3 -14 11.3 -12.8 11 -11.7 10.6 -10.6 10.2 -9.5 9.7 -8.4 9.1 -7.5 8.7 -6.5 8.1 -5.8 7.7 -5 7.3 -4.4 6.8 -3.8 6.4 -3.3 6.1 -2.9 5.8 -2.5 5.5 -2.3 5.2 -2 4.9 -1.8 4.7 -1.7 4.4 -1.6 4.2 -1.6 4 -1.5 3.7 -1.5 3.5 -1.6 3.3 -1.6 3.1 -1.7 2.8 -1.7 2.6 -1.9 2.3 -2 2 -2.1 1.7 -2.2 1.4 -2.4 1.1 -2.5 0.8 -2.7 0.3 -2.8 0 -3 -0.4 -3.1 -0.8 -3.2 -1.3 -3.3 -1.7 -3.4 -2.2 -3.5 -2.7 -3.6 -3.2 -3.6 -3.7 -3.6 -4.2 -3.5 -4.7 -3.5 -5.1 -3.3 -5.6 -3.2 -6 -2.9 -6.4 -2.6 -6.6 -2.3 -6.9 -1.9 -7 -1.5 -7 -0.9 -7 -0.4 -6.8 0.1 -6.5 0.8 -6 1.4 -5.6 2 -4.9 2.7 -4.2 3.3 -3.4 3.8 -2.6 4.3 -1.7 4.8 -0.8 5.2 0 5.6 1 5.7 1.7 6 2.6 6.1 3.2 6.1 4 6 4.5 6 5 5.7 5.4 5.6 5.9 5.3 6.1 5.1 6.4 4.7 6.6 4.4 6.7 4.1 6.8 3.7 6.9 3.4 6.9 3.1 6.8 2.7 6.9 2.4 6.8 2.1 6.8 1.7 6.6 1.5 6.6 1.2 6.5 0.9 6.4 0.7 6.2 0.5 6.1 0.1 6 0 5.9 -0.3 5.6 -0.5 5.6 -0.7 5.4 -0.9 5.2 -1.2 5 -1.4 4.9 -1.6 4.7 -1.9 4.4 -2.1 4.2 -2.3 4 -2.7 3.7 -2.9 3.5 -3.3 3.1 -3.6 2.7 -3.9 2.4 -4.3 2 -4.7 1.4 -5.1 0.9 -5.6 0.3 -6 -0.5 -6.5 -1.2 -7.1 -2.2 -7.5 -3.2 -8.1 -4.3 -8.7 -5.7 -9.1 -7.1 -9.6 -8.7 -10.1 -10.6 -10.4 -12.4 -10.6 -14.5 -10.7 -16.6 -10.6 -18.8 -10.3 -20.8 -9.6 -22.7 -8.7 -24.3 -7.4 -25.5 -5.8 -26 -3.7 -26 -1.4 -25.1 1.2 -23.3 4.1 -20.9 6.9 -17.7 9.8 -14 12.4 -9.9 14.8 -5.8 16.7 -1.9 18.3 1.7 19.4 4.9 19.9 7.4 20 9.4 19.7 10.7 19 11.6 18 12 17 12 15.6 11.7 14.3 11.3 12.9 10.7 11.5 10.1 10.3 9.4 8.9 8.7 7.8 8.1 6.7 7.5 5.8 7 4.8 6.5 4 6.1 3.4 5.7 2.7 5.4 2.2 5.1 1.8 4.9 1.3 4.7 1.1 4.5 0.8 4.4 0.6 4.3 0.4 4.1 0.3 4.1 0.3 3.9 0.2 3.8 0.2 3.8 0.2 3.6 0.2 3.5 0.3 3.4 0.4 3.3 0.5 3.2 0.6 3 0.7 2.9 0.9 2.7 0.9 2.5 1.2 2.3 1.3 2.1 1.4 1.9 1.6 1.7 1.8 1.4 1.9 1.1 2.1 0.8 2.3 0.5 2.4 0.2 2.6 -0.2 2.7 -0.5 2.9 -1 2.9 -1.4 3.1 -1.8 3.2 -2.2 3.3 -2.7 3.3 -3.1 3.3 -3.6 3.3 -4.1 3.2 -4.5 3.2 -4.9 3 -5.3 2.9 -5.7 2.6 -6 2.3 -6.2 2.1 -6.4 1.6 -6.4 1.2 -6.5 0.8 -6.4 0.2 -6.2 -0.3 -5.9 -0.8 -5.5 -1.5 -5 -2 -4.4 -2.5 -3.8 -3.1 -3 -3.6 -2.3 -4.1 -1.4 -4.5 -0.7 -4.9 0.2 -5.1 1 -5.4 1.7 -5.5 2.4 -5.7 3.2 -5.6 3.7 -5.6 4.3 -5.5 4.7 -5.4 5.2 -5.2 5.5 -4.9 5.8 -4.7 6.1 -4.4 6.2 -4.1 6.4 -3.8 6.5 -3.5 6.6 -3.1 6.6 -2.8 6.6 -2.5 6.6 -2.2 6.5 -1.9 6.5 -1.6 6.4 -1.2 6.3 -1.1 6.2 -0.7 6.1 -0.5 6 -0.2 5.8 0 5.7 0.3 5.6 0.5 5.4 0.7 5.3 1 5 1.3 4.9 1.4 4.7 1.8 4.4 2 4.3 2.2 3.9 2.6 3.8 2.8 3.4 3.1 3.1 3.5 2.7 3.8 2.3 4.1 1.9 4.6 1.4 4.9 0.9 5.3 0.2 5.8 -0.5 6.3 -1.3 6.7 -2.1 7.2 -3.1 7.6 -4.3 8.1 -5.5 8.6 -6.8 9 -8.3 9.3 -10 9.6 -11.7 9.7 -13.5 9.7 -15.3 9.6 -17.3 9.2 -18.9 8.6 -20.6 7.8 -21.9 6.5 -22.9 5 -23.3 3.2 -23.1 1.1 -22.4 -1.1 -20.8 -3.7 -18.7 -6.1 -16 -8.6 -12.8 -11 -9.4 -13.1 -5.7 -14.9 -2.3 -16.2 1 -17.3 3.9 -17.9 6.3 -18.1 8.2 -17.9 9.6 -17.4 10.7 -16.7 11.2 -15.8 11.4 -14.7 11.4 -13.5 11.2 -12.3 10.8 -11.2 10.4 -10 9.8 -8.9 9.2 -7.9 8.7 -6.9 8.2 -6 7.7 -5.2 7.2 -4.5 6.8 -3.9 6.3 -3.4 6.1 -2.9 5.7 -2.5 5.4 -2.2 5.1 -1.9 4.9 -1.6 4.6 -1.6 4.4 -1.4 4.2 -1.3 4 -1.2 3.8 -1.3 3.6 -1.2 3.4 -1.3 3.2 -1.4 3 -1.4 2.7 -1.5 2.6 -1.6 2.3 -1.7 2 -1.9 1.8 -1.9 1.5 -2.1 1.2 -2.3 0.9 -2.4 0.5 -2.5 0.2 -2.7 -0.1 -2.8 -0.5 -2.9 -1 -3.1 -1.3 -3.1 -1.8 -3.2 -2.3 -3.3 -2.7 -3.3 -3.1 -3.4 -3.6 -3.3 -4.1 -3.2 -4.5 -3.2 -4.9 -3 -5.4 -2.9 -5.6 -2.6 -6 -2.3 -6.2 -2 -6.4 -1.6 -6.5 -1.2 -6.4 -0.7 -6.4 -0.3 -6.2 0.4 -5.8 0.9 -5.5 1.4 -4.9 2 -4.4 2.6 -3.7 3.2 -3 3.6 -2.2 4.1 -1.4 4.5 -0.6 4.9 0.2 5.2 1 5.4 1.8 5.5 2.5 5.6 3.1 5.7 3.8 5.6 4.3 5.5 4.8 5.3 5.2 5.2 5.5 4.9 5.8 4.7 6.1 4.3 6.3 4.1 6.4 3.8 6.5 3.4 6.5 3.1 6.6 2.8 6.6 2.5 6.6 2.2 6.5 1.8 6.5 1.6 6.4 1.2 6.3 1 6.2 0.8 6.1 0.4 5.9 0.2 5.9 0 5.7 -0.3 5.5 -0.5 5.4 -0.8 5.2 -1 5.1 -1.3 4.8 -1.5 4.7 -1.7 4.4 -2 4.3 -2.3 3.9 -2.5 3.7 -2.9 3.4 -3.2 3 -3.4 2.7 -3.9 2.3 -4.1 1.9 -4.6 1.3 -5 0.8 -5.4 0.2 -5.8 -0.5 -6.3 -1.4 -6.7 -2.2 -7.2 -3.2 -7.7 -4.4 -8.2 -5.6 -8.6 -6.9 -8.9 -8.5 -9.4 -10.1 -9.6 -11.8 -9.7 -13.7 -9.7 -15.5 -9.6 -17.3 -9.1 -19.1 -8.6 -20.7 -7.6 -22 -6.4 -22.9 -4.8 -23.2 -3.1 -23.1 -0.9 -22.2 1.4 -20.7 3.8 -18.5 6.4 -15.7 8.8 -12.5 11.1 -9 13.3 -5.4 14.9 -2 16.4 1.3 17.3 4 17.9 6.5 18.1 8.3 17.8 9.8 17.4 10.7 16.6 11.2 15.6 11.4 14.6 11.4 13.4 11.2 12.3 10.8 11 10.2 9.9 9.8 8.9 9.2 7.7 8.7 6.8 8.1 6 7.7 5.2 7.2 4.4 6.7 3.9 6.4 3.3 6 2.9 5.6 2.4 5.4 2.2 5.1 1.9 4.9 1.7 4.6 1.5 4.4 1.4 4.2 1.3 4 1.3 3.8 1.2 3.5 1.3 3.4 1.3 3.2 1.4 3 1.4 2.7 1.5 2.5 1.6 2.3 1.8 2 1.9 1.7 2 1.5 2.1 1.1 2.3 0.9 2.4 0.5 2.6 0.2 2.7 -0.3 2.8 -0.5 2.9 -1 3.1 -1.5 3.2 -1.8 3.2 -2.3 3.3 -2.8 3.3 -3.2 3.4 -3.7 3.3 -4.2 3.3 -4.5 3.1 -5.1 3 -5.3 2.9 -5.8 2.5 -6 2.3 -6.3 2 -6.4 1.5 -6.5 1.2 -6.5 0.6 -6.3 0.1 -6.2 -0.4 -5.8 -0.9 -5.4 -1.6 -4.9 -2.1 -4.3 -2.7 -3.6 -3.2 -2.9 -3.7 -2.1 -4.2 -1.2 -4.6 -0.5 -4.9 0.3 -5.3 1.2 -5.4 1.9 -5.6 2.6 -5.6 3.2 -5.7 3.9 -5.6 4.4 -5.5 4.8 -5.3 5.3 -5.1 5.6 -4.9 5.9 -4.7 6.1 -4.3 6.3 -4 6.4 -3.8 6.5 -3.4 6.6 -3 6.6 -2.8 6.6 -2.4 6.6 -2.1 6.5 -1.9 6.5 -1.5 6.4 -1.2 6.3 -1 6.2 -0.7 6 -0.4 6 -0.2 5.8 0.1 5.7 0.3 5.5 0.6 5.4 0.8 5.2 1 5.1 1.3 4.8 1.5 4.6 1.8 4.5 2.1 4.1 2.3 4 2.5 3.6 2.9 3.4 3.2 3 3.5 2.7 3.9 2.3 4.2 1.8 4.6 1.3 5 0.7 5.5 0.1 5.9 -0.6 6.3 -1.4 6.8 -2.3 7.3 -3.4 7.7 -4.4 8.2 -5.7 8.7 -7.1 9 -8.7 9.4 -10.2 9.6 -12.1 9.8 -13.8 9.8 -15.7 9.5 -17.6 9.2 -19.3 8.4 -20.9 7.6 -22.2 6.3 -23 4.7 -23.4 2.9 -23.1 0.7 -22.2 -1.6 -20.5 -4.1 -18.3 -6.6 -15.5 -9.1 -12.2 -11.4 -8.7 -13.4 -5.1 -15.2 -1.7 -16.6 1.6 -17.4 4.3 -18 6.7 -18.1 8.5 -17.9 9.9 -17.4 10.8 -16.5 11.3 -15.6 11.5 -14.5 11.4 -13.4 11.1 -12.1 10.7 -11 10.2 -9.8 9.7 -8.7 9.2 -7.7 8.6 -6.7 8.1 -5.9 7.5 -5.1 7.2 -4.3 6.6 -3.8 6.4 -3.3 5.9 -2.8 5.6 -2.4 5.4 -2.1 5 -1.9 4.9 -1.6 4.5 -1.5 4.4 -1.3 4.2 -1.3 3.9 -1.3 3.8 -1.2 3.6 -1.2 3.3 -1.3 3.2 -1.3 2.9 -1.5 2.8 -1.5 2.5 -1.6 2.2 -1.7 2 -1.8 1.8 -2 1.4 -2.1 1.2 -2.3 0.9 -2.4 0.5 -2.5 0.2 -2.7 -0.2 -2.8 -0.6 -2.9 -1 -3 -1.3 -3.2 -1.9 -3.2 -2.2 -3.3 -2.8 -3.3 -3.1 -3.3 -3.7 -3.3 -4.1 -3.2 -4.5 -3.2 -5 -3 -5.3 -2.8 -5.7 -2.6 -5.9 -2.3 -6.2 -1.9 -6.4 -1.6 -6.5 -1.2 -6.4 -0.6 -6.3 -0.2 -6.1 0.4 -5.8 0.9 -5.4 1.5 -4.9 2.1 -4.3 2.6 -3.6 3.2 -3 3.6 -2.1 4.2 -1.3 4.5 -0.6 4.9 0.3 5.1 1.1 5.4 1.8 5.5 2.6 5.6 3.1 5.7 3.8 5.5 4.4 5.5 4.8 5.3 5.2 5.1 5.5 4.9 5.8 4.6 6.1 4.4 6.3 4 6.4 3.7 6.4 3.4 6.6 3.1 6.6 2.8 6.5 2.4 6.6 2.2 6.5 1.8 6.4 1.5 6.4 1.2 6.3 1 6.2 0.7 6.1 0.4 5.9 0.2 5.8 -0.1 5.7 -0.3 5.5 -0.5 5.4 -0.8 5.2 -1.1 5 -1.3 4.8 -1.5 4.6 -1.8 4.4 -2 4.2 -2.3 3.9 -2.6 3.6 -2.9 3.4 -3.2 3 -3.6 2.6 -3.8 2.2 -4.3 1.8 -4.6 1.3 -5 0.6 -5.5 0.1 -5.8 -0.7 -6.4 -1.4 -6.8 -2.4 -7.3 -3.4 -7.7 -4.6 -8.2 -5.8 -8.6 -7.1 -9 -8.7 -9.4 -10.4 -9.6 -12.1 -9.7 -13.9 -9.6 -15.7 -9.5 -17.6 -9 -19.3 -8.3 -20.8 -7.4 -22 -6.1 -22.8 -4.6 -23.2 -2.7 -22.8 -0.5 -21.9 1.7 -20.2 4.3 -18 6.7 -15.1 9.1 -11.9 11.5 -8.4 13.4 -4.9 15.2 -1.4 16.4 1.7 17.4 4.5 17.8 6.7 18 8.6 17.7 9.8 17.1 10.8 16.4 11.2 15.5 11.5 14.3 11.3 13.2 11.1 12 10.7 10.9 10.2 9.7 9.7 8.6 9.1 7.6 8.6 6.7 8.1 5.8 7.6 5.1 7.2 4.3 6.7 3.8 6.3 3.3 6 2.8 5.7 2.5 5.3 2.1 5.1 1.9 4.8 1.7 4.7 1.5 4.3 1.4 4.2 1.4 4 1.3 3.7 1.3 3.6 1.3 3.3 1.4 3.1 1.4 2.9 1.5 2.7 1.6 2.4 1.7 2.2 1.8 2 2 1.6 2 1.4 2.3 1 2.3 0.8 2.5 0.4 2.7 0 2.7 -0.4 2.9 -0.7 3.1 -1.2 3.1 -1.6 3.2 -2.1 3.3 -2.5 3.4 -2.9 3.4 -3.5 3.3 -3.9 3.4 -4.3 3.2 -4.8 3.2 -5.3 3 -5.6 2.7 -5.9 2.5 -6.2 2.2 -6.4 1.8 -6.5 1.4 -6.6 1 -6.5 0.5 -6.4 -0.1 -6.1 -0.7 -5.7 -1.2 -5.3 -1.8 -4.7 -2.3 -4.1 -3 -3.3 -3.5 -2.6 -3.9 -1.8 -4.4 -1 -4.8 -0.1 -5.1 0.7 -5.4 1.4 -5.6 2.3 -5.6 2.9 -5.7 3.5 -5.7 4.1 -5.7 4.7 -5.5 5 -5.3 5.5 -5.1 5.8 -4.8 6 -4.6 6.3 -4.2 6.4 -4 6.5 -3.6 6.6 -3.3 6.6 -3 6.7 -2.6 6.6 -2.3 6.6 -2 6.5 -1.8 6.5 -1.4 6.4 -1.1 6.3 -0.9 6.2 -0.6 6.1 -0.3 5.9 -0.1 5.8 0.1 5.7 0.4 5.5 0.6 5.3 0.9 5.2 1.1 5 1.3 4.8 1.6 4.6 1.9 4.4 2.1 4.2 2.3 3.8 2.7 3.7 2.9 3.3 3.3 2.9 3.6 2.7 4 2.1 4.3 1.8 4.7 1.2 5.1 0.6 5.5 0 6 -0.7 6.5 -1.6 6.9 -2.4 7.4 -3.6 7.9 -4.6 8.4 -6 8.8 -7.4 9.2 -9 9.5 -10.6 9.8 -12.5 9.9 -14.3 9.9 -16.2 9.6 -18.1 9.2 -19.9 8.5 -21.4 7.4 -22.7 6.2 -23.5 4.5 -23.7 2.6 -23.4 0.4 -22.3 -2.1 -20.6 -4.6 -18.1 -7.1 -15.1 -9.7 -11.8 -12 -8.1 -14 -4.6 -15.7 -1 -17 2.2 -17.8 4.9 -18.4 7.2 -18.3 9 -18 10.2 -17.5 11 -16.5 11.4 -15.6 11.6 -14.5 11.4 -13.2 11.1 -12 10.6 -10.8 10.1 -9.7 9.6 -8.5 9 -7.5 8.4 -6.6 7.9 -5.7 7.4 -4.9 7 -4.2 6.5 -3.7 6.1 -3.1 5.9 -2.6 5.4 -2.3 5.3 -1.9 4.9 -1.7 4.7 -1.5 4.5 -1.4 4.3 -1.2 4.1 -1.2 4 -1.1 3.7 -1.1 3.5 -1.1 3.4 -1.1 3.1 -1.2 3 -1.3 2.8 -1.4 2.5 -1.5 2.3 -1.6 2.1 -1.7 1.8 -1.8 1.6 -2 1.3 -2.1 1 -2.3 0.6 -2.4 0.4 -2.5 -0.1 -2.7 -0.3 -2.8 -0.8 -2.9 -1.2 -3 -1.5 -3.1 -2 -3.2 -2.5 -3.2 -2.9 -3.3 -3.3 -3.2 -3.8 -3.2 -4.2 -3.1 -4.6 -3 -5.1 -2.9 -5.3 -2.6 -5.7 -2.4 -6 -2.1 -6.1 -1.7 -6.3 -1.3 -6.3 -0.9 -6.2 -0.4 -6.1 0 -5.8 0.7 -5.5 1.1 -5 1.8 -4.5 2.2 -3.9 2.8 -3.2 3.4 -2.5 3.7 -1.7 4.3 -1 4.5 -0.1 4.9 0.6 5.2 1.4 5.3 2.1 5.4 2.7 5.5 3.4 5.5 4 5.4 4.4 5.3 4.9 5.1 5.2 4.9 5.6 4.7 5.9 4.4 6 4.1 6.2 3.8 6.4 3.5 6.4 3.2 6.4 2.9 6.5 2.6 6.5 2.2 6.4 1.9 6.4 1.7 6.4 1.3 6.2 1.1 6.2 0.8 6 0.5 6 0.3 5.8 0 5.6 -0.2 5.5 -0.5 5.4 -0.7 5.2 -1 5 -1.2 4.9 -1.5 4.6 -1.7 4.4 -2 4.1 -2.3 4 -2.5 3.6 -2.9 3.3 -3.1 3 -3.5 2.7 -3.8 2.2 -4.2 1.8 -4.5 1.2 -4.9 0.8 -5.4 0 -5.8 -0.6 -6.2 -1.4 -6.6 -2.4 -7.2 -3.3 -7.5 -4.4 -8 -5.7 -8.5 -7 -8.8 -8.4 -9.1 -10.1 -9.3 -11.7 -9.4 -13.5 -9.4 -15.3 -9.2 -17 -8.7 -18.6 -8.1 -20.1 -7.2 -21.3 -6 -22 -4.4 -22.4 -2.7 -22.1 -0.6 -21.2 1.6 -19.6 3.9 -17.6 6.3 -14.8 8.7 -11.8 10.9 -8.4 12.9 -5 14.5 -1.8 15.8 1.3 16.7 4 17.3 6.3 17.4 8.2 17.2 9.4 16.8 10.5 16 11 15.1 11.2 14.2 11.3 13 11 11.9 10.7 10.8 10.3 9.7 9.8 8.6 9.3 7.7 8.8 6.7 8.3 6 7.8 5.1 7.3 4.6 7 3.9 6.5 3.4 6.2 3 5.9 2.7 5.5 2.3 5.3 2.1 5 1.9 4.7 1.7 4.5 1.7 4.3 1.6 4 1.5 3.8 1.6 3.6 1.5 3.3 1.7 3.2 1.7 2.8 1.7 2.6 1.9 2.4 2 2 2.1 1.8 2.3 1.4 2.4 1.2 2.5 0.7 2.7 0.5 2.9 0 2.9 -0.4 3.2 -0.8 3.2 -1.2 3.4 -1.7 3.4 -2.2 3.6 -2.7 3.6 -3.2 3.6 -3.7 3.6 -4.2 3.6 -4.7 3.5 -5.2 3.4 -5.6 3.2 -6.1 3 -6.4 2.7 -6.7 2.3 -6.9 2 -7.1 1.5 -7.2 1 -7 0.4 -6.9 -0.1 -6.6 -0.8 -6.1 -1.3 -5.7 -2.1 -5 -2.6 -4.3 -3.3 -3.5 -3.8 -2.7 -4.4 -1.8 -4.8 -0.9 -5.3 0.1 -5.6 0.9 -5.8 1.7 -6 2.6 -6.2 3.2 -6.1 4 -6.1 4.5 -6.1 5.1 -5.8 5.4 -5.6 5.9 -5.4 6.2 -5.1 6.4 -4.8 6.6 -4.5 6.8 -4.1 6.9 -3.8 6.9 -3.5 6.9 -3.1 6.9 -2.7 6.9 -2.5 6.9 -2.1 6.8 -1.8 6.7 -1.5 6.6 -1.3 6.5 -0.9 6.5 -0.7 6.2 -0.5 6.2 -0.2 6 0 5.9 0.2 5.8 0.4 5.5 0.7 5.5 0.9 5.3 1.1 5.1 1.3 4.9 1.6 4.7 1.8 4.5 2 4.3 2.3 4.1 2.5 3.8 2.9 3.6 3.1 3.2 3.5 2.9 3.8 2.5 4.2 2.2 4.5 1.6 5 1.1 5.4 0.5 5.9 -0.1 6.4 -0.9 6.9 -1.8 7.4 -2.8 8 -3.9 8.5 -5.2 9 -6.6 9.6 -8.1 10 -10 10.4 -11.8 10.7 -13.8 10.9 -16 10.8 -18.2 10.6 -20.3 10.1 -22.3 9.2 -24.1 8.1 -25.5 6.6 -26.4 4.6 -26.6 2.4 -26 -0.2 -24.5 -3 -22.3 -5.9 -19.3 -8.9 -15.7 -11.6 -11.6 -14.2 -7.4 -16.4 -3.4 -18.1 0.6 -19.4 3.9 -20.1 6.7 -20.3 8.9 -20.1 10.5 -19.6 11.4 -18.7 12 -17.6 12.1 -16.3 11.9 -14.9 11.5 -13.6 11 -12.1 10.2 -10.7 9.6 -9.5 8.9 -8.2 8.2 -7.1 7.6 -6 7.1 -5.1 6.5 -4.2 6.1 -3.5 5.8 -2.8 5.4 -2.3 5.1 -1.8 4.9 -1.3 4.7 -1 4.6 -0.7 4.4 -0.5 4.3 -0.3 4.2 -0.2 4.1 -0.1 4.1 0 3.9 0 3.9 0 3.7 0 3.7 -0.1 3.6 -0.2 3.5 -0.3 3.4 -0.3 3.3 -0.5 3.1 -0.6 3 -0.8 2.8 -0.9 2.7 -1 2.5 -1.2 2.3 -1.4 2 -1.6 1.8 -1.7 1.6 -1.9 1.3 -2.1 0.9 -2.3 0.7 -2.4 0.4 -2.6 -0.1 -2.7 -0.4 -2.9 -0.7 -3 -1.3 -3.2 -1.6 -3.2 -2.1 -3.4 -2.6 -3.4 -3 -3.4 -3.5 -3.5 -4.1 -3.4 -4.4 -3.3 -5 -3.3 -5.3 -3.1 -5.8 -2.8 -6.1 -2.6 -6.4 -2.3 -6.6 -1.9 -6.7 -1.5 -6.8 -1 -6.8 -0.5 -6.6 0 -6.3 0.7 -6 1.2 -5.4 1.8 -4.9 2.5 -4.3 3 -3.5 3.5 -2.7 4.1 -1.8 4.6 -1.1 4.9 -0.1 5.3 0.7 5.5 1.5 5.8 2.2 5.8 3 5.9 3.7 5.9 4.2 5.8 4.8 5.6 5.2 5.5 5.6 5.2 5.9 5 6.2 4.7 6.4 4.4 6.5 4 6.6 3.8 6.8 3.3 6.7 3.1 6.8 2.7 6.7 2.4 6.8 2.1 6.6 1.8 6.6 1.5 6.5 1.2 6.4 0.9 6.3 0.7 6.2 0.4 6 0.2 5.9 -0.1 5.8 -0.3 5.6 -0.5 5.5 -0.8 5.3 -1 5.1 -1.2 5 -1.5 4.7 -1.7 4.6 -1.9 4.3 -2.3 4.1 -2.5 3.8 -2.7 3.6 -3.1 3.2 -3.4 2.9 -3.7 2.5 -4.1 2.1 -4.5 1.7 -4.9 1.1 -5.3 0.5 -5.7 -0.2 -6.2 -0.9 -6.7 -1.8 -7.2 -2.7 -7.7 -3.9 -8.2 -5 -8.7 -6.4 -9.2 -8 -9.6 -9.6 -9.9 -11.3 -10.2 -13.3 -10.3 -15.2 -10.2 -17.3 -10 -19.3 -9.4 -21.1 -8.7 -22.6 -7.5 -24 -6.1 -24.7 -4.3 -24.8 -2.2 -24.3 0.2 -23 2.8 -20.9 5.4 -18.2 8.2 -14.9 10.8 -11.2 13.2 -7.3 15.2 -3.5 16.9 0 18 3.3 18.9 6 19.1 8.1 19 9.8 18.6 10.8 17.8 11.6 16.9 11.7 15.7 11.7 14.5 11.5 13.2 10.9 11.9 10.5 10.6 9.8 9.4 9.3 8.3 8.6 7.2 8 6.3 7.5 5.3 7 4.6 6.6 3.9 6.1 3.2 5.8 2.8 5.5 2.2 5.2 1.9 5 1.6 4.7 1.3 4.5 1.1 4.4 1 4.2 0.8 4 0.7 3.9 0.7 3.7 0.7 3.6 0.7 3.4 0.8 3.3 0.7 3.2 0.9 2.9 1 2.8 1 2.6 1.2 2.4 1.3 2.2 1.4 2 1.6 1.8 1.7 1.5 1.8 1.2 2 1 2.1 0.6 2.3 0.4 2.5 0 2.5 -0.4 2.7 -0.7 2.8 -1.1 2.9 -1.6 3 -1.9 3.1 -2.3 3.1 -2.8 3.2 -3.2 3.1 -3.7 3.1 -4.1 3.1 -4.4 2.9 -4.9 2.8 -5.2 2.6 -5.5 2.3 -5.7 2 -6 1.8 -6 1.3 -6.1 0.9 -6.1 0.5 -5.9 -0.1 -5.7 -0.5 -5.4 -1.1 -4.9 -1.6 -4.4 -2.1 -3.9 -2.7 -3.2 -3.1 -2.6 -3.6 -1.8 -4.1 -1 -4.4 -0.3 -4.7 0.5 -4.9 1.2 -5.2 2 -5.2 2.6 -5.4 3.2 -5.3 3.7 -5.3 4.3 -5.2 4.7 -5 5.1 -4.8 5.4 -4.6 5.7 -4.3 5.9 -4.1 6 -3.8 6.2 -3.4 6.3 -3.2 6.3 -2.9 6.4 -2.5 6.4 -2.2 6.3 -2 6.3 -1.6 6.3 -1.4 6.1 -1 6.1 -0.8 6 -0.5 5.8 -0.3 5.8 0 5.6 0.3 5.4 0.5 5.3 0.8 5.1 1 4.9 1.2 4.8 1.5 4.5 1.8 4.3 2 4.1 2.4 3.7 2.6 3.6 2.9 3.1 3.2 2.9 3.5 2.5 3.9 2 4.3 1.6 4.6 1 5 0.5 5.4 -0.2 5.8 -1 6.3 -1.7 6.7 -2.7 7.2 -3.7 7.5 -4.8 8 -6 8.4 -7.4 8.6 -8.9 9 -10.4 9.1 -12.1 9.1 -13.8 9 -15.4 8.7 -17.1 8.2 -18.6 7.5 -19.8 6.5 -20.8 5.1 -21.4 3.7 -21.5 1.8 -20.9 -0.2 -19.9 -2.3 -18.2 -4.7 -16 -6.9 -13.3 -9.1 -10.3 -11.2 -7 -12.9 -3.9 -14.5 -0.7 -15.5 2.1 -16.3 4.6 -16.8 6.6 -16.7 8.3 -16.6 9.6 -16 10.3 -15.3 10.9 -14.4 11.1 -13.4 11 -12.4 10.9 -11.3 10.6 -10.3 10.1 -9.2 9.7 -8.2 9.2 -7.3 8.8 -6.4 8.3 -5.7 7.8 -5 7.4 -4.4 7 -3.9 6.6 -3.4 6.3 -3 6 -2.6 5.6 -2.4 5.4 -2.2 5 -2.1 4.8 -1.9 4.6 -1.8 4.3 -1.8 4.1 -1.8 3.8 -1.8 3.5 -1.9 3.3 -1.9 3 -2 2.8 -2.1 2.4 -2.3 2.2 -2.3 1.8 -2.5 1.5 -2.7 1.2 -2.8 0.7 -2.9 0.4 -3.2 0 -3.2 -0.5 -3.4 -1 -3.6 -1.4 -3.7 -2 -3.8 -2.5 -3.9 -3 -3.9 -3.6 -4 -4.2 -4 -4.7 -3.9 -5.3 -3.9 -5.8 -3.7 -6.3 -3.5 -6.8 -3.2 -7.2 -2.9 -7.5 -2.5 -7.8 -2.1 -7.9 -1.5 -7.9 -1 -7.8 -0.3 -7.6 0.4 -7.2 1 -6.7 1.8 -6.1 2.4 -5.3 3.2 -4.5 3.9 -3.5 4.5 -2.6 5 -1.5 5.6 -0.6 6 0.5 6.3 1.4 6.6 2.3 6.7 3.2 6.8 3.9 6.8 4.6 6.7 5.2 6.5 5.8 6.3 6.1 6.1 6.5 5.7 6.8 5.4 7 5.1 7.1 4.7 7.2 4.3 7.3 3.9 7.4 3.6 7.3 3.2 7.3 2.8 7.2 2.6 7.2 2.2 7 1.9 7 1.6 6.9 1.3 6.7 1.1 6.7 0.9 6.5 0.6 6.4 0.4 6.2 0.2 6.1 0.1 6 -0.2 5.9 -0.4 5.7 -0.5 5.5 -0.8 5.4 -0.9 5.3 -1 5.1 -1.3 4.9 -1.5 4.8 -1.7 4.6 -1.8 4.4 -2.1 4.2 -2.4 4 -2.6 3.8 -2.9 3.5 -3.2 3.3 -3.5 2.9 -3.8 2.6 -4.3 2.2 -4.6 1.8 -5.1 1.2 -5.5 0.7 -6.1 0.1 -6.6 -0.7 -7.1 -1.6 -7.8 -2.6 -8.4 -3.7 -9 -5 -9.7 -6.5 -10.4 -8.3 -10.9 -10.1 -11.6 -12.3 -11.9 -14.6 -12.3 -17.1 -12.5 -19.8 -12.4 -22.4 -11.9 -25.1 -11.3 -27.4 -10 -29.4 -8.4 -30.8 -6.3 -31.4 -3.7 -31 -0.7 -29.6 2.6 -27 6.2 -23.4 9.7 -19.1 13.2 -14.1 16.4 -8.9 19 -3.8 21.1 0.7 22.6 4.8 23.4 8 23.6 10.3 23.2 12 22.4 12.7 21.3 13.1 19.8 12.8 18.2 12.2 16.5 11.5 14.6 10.6 13 9.7 11.2 8.7 9.7 7.9 8.1 7.1 6.7 6.5 5.4 5.9 4.3 5.4 3.2 5.2 2.2 4.8 1.5 4.7 0.7 4.6 0.1 4.6 -0.4 4.6 -0.9 4.6 -1.2 4.7 -1.5 4.8 -1.7 4.9 -1.8 5 -2 5.1 -2 5.2 -2 5.2 -2 5.3 -1.9 5.4 -1.8 5.3 -1.6 5.4 -1.6 5.4 -1.3 5.4 -1.2 5.3 -1 5.3 -0.9 5.2 -0.6 5.1 -0.4 5.1 -0.1 4.9 0 4.8 0.3 4.6 0.5 4.5 0.7 4.4 1 4.1 1.2 3.9 1.5 3.7 1.7 3.5 2 3.1 2.2 2.9 2.5 2.6 2.8 2.2 3 1.8 3.3 1.4 3.7 1 3.9 0.4 4.2 -0.1 4.5 -0.7 4.8 -1.3 5.1 -2 5.3 -2.8 5.6 -3.6 5.8 -4.5 6.1 -5.4 6.1 -6.3 6.3 -7.4 6.3 -8.3 6.3 -9.4 6.1 -10.3 5.8 -11.3 5.5 -12.1 5 -12.8 4.3 -13.4 3.5 -13.7 2.7 -13.7 1.5 -13.6 0.4 -13 -0.9 -12.3 -2.2 -11.1 -3.6 -9.8 -4.9 -8.3 -6.2 -6.4 -7.4 -4.7 -8.5 -2.7 -9.4 -0.8 -10.1 0.9 -10.7 2.6 -11.1 4.1 -11.2 5.4 -11.2 6.5 -11 7.3 -10.7 8.1 -10.4 8.5 -9.8 9 -9.2 9.1 -8.7 9.3 -8 9.3 -7.3 9.2 -6.8 9.2 -6.2 8.9 -5.5 8.8 -5.1 8.6 -4.6 8.4 -4.1 8.2 -3.7 7.9 -3.4 7.7 -3.1 7.5 -2.8 7.3 -2.6 7 -2.4 6.8 -2.3 6.7 -2.2 6.4 -2.2 6.1 -2.1 6 -2 5.8 -2.2 5.5 -2.1 5.3 -2.3 5.1 -2.4 4.9 -2.4 4.6 -2.7 4.3 -2.8 4.1 -3 3.8 -3.3 3.5 -3.5 3.1 -3.8 2.7 -4.1 2.3 -4.4 1.8 -4.8 1.4 -5.2 0.7 -5.5 0.1 -6 -0.6 -6.5 -1.5 -6.8 -2.3 -7.4 -3.4 -7.8 -4.5 -8.3 -5.8 -8.6 -7.2 -9.1 -8.7 -9.4 -10.4 -9.7 -12.1 -9.7 -14 -9.7 -15.8 -9.5 -17.6 -9.1 -19.4 -8.4 -20.9 -7.4 -22.2 -6.2 -22.9 -4.5 -23.3 -2.7 -23 -0.6 -22 1.8 -20.3 4.2 -18 6.8 -15.2 9.3 -11.9 11.5 -8.4 13.5 -4.9 15.3 -1.4 16.5 1.8 17.5 4.5 17.9 6.8 18.1 8.6 17.7 10 17.3 10.8 16.4 11.3 15.5 11.4 14.4 11.4 13.2 11.1 12 10.7 10.9 10.2 9.7 9.6 8.6 9.2 7.6 8.5 6.7 8.1 5.8 7.6 5 7.1 4.4 6.6 3.8 6.3 3.2 6 2.8 5.6 2.4 5.3 2.1 5.1 1.9 4.8 1.6 4.6 1.5 4.4 1.4 4.1 1.3 4 1.3 3.7 1.2 3.6 1.3 3.3 1.3 3.1 1.4 3 1.4 2.7 1.6 2.4 1.6 2.2 1.8 2 1.9 1.7 2 1.4 2.2 1.1 2.3 0.8 2.4 0.5 2.6 0.1 2.8 -0.3 2.8 -0.7 3 -1.1 3.1 -1.5 3.1 -1.9 3.3 -2.4 3.3 -2.8 3.3 -3.3 3.4 -3.8 3.3 -4.2 3.2 -4.7 3.2 -5.1 3 -5.4 2.7 -5.8 2.6 -6.1 2.2 -6.3 1.9 -6.5 1.5 -6.4 1 -6.5 0.6 -6.3 0 -6.1 -0.5 -5.8 -1.1 -5.3 -1.6 -4.8 -2.2 -4.2 -2.8 -3.5 -3.3 -2.7 -3.8 -2 -4.3 -1.1 -4.7 -0.3 -4.9 0.4 -5.3 1.3 -5.5 2 -5.6 2.8 -5.6 3.3 -5.7 4 -5.6 4.5 -5.4 4.9 -5.3 5.3 -5.1 5.7 -4.9 5.9 -4.6 6.2 -4.3 6.3 -3.9 6.4 -3.7 6.6 -3.4 6.6 -3 6.6 -2.7 6.6 -2.3 6.5 -2.1 6.6 -1.8 6.4 -1.4 6.4 -1.2 6.3 -0.9 6.2 -0.7 6 -0.4 6 -0.1 5.8 0.1 5.6 0.4 5.5 0.6 5.4 0.8 5.2 1.1 5 1.3 4.8 1.6 4.6 1.8 4.4 2.1 4.1 2.4 3.9 2.6 3.6 2.9 3.3 3.3 3 3.6 2.6 3.9 2.2 4.3 1.7 4.6 1.2 5.1 0.6 5.5 0 6 -0.7 6.4 -1.6 6.9 -2.5 7.3 -3.5 7.9 -4.6 8.3 -6 8.7 -7.3 9.1 -8.9 9.4 -10.6 9.7 -12.3 9.8 -14.2 9.7 -16.1 9.5 -17.8 9.1 -19.7 8.3 -21.1 7.4 -22.3 6 -23.2 4.5 -23.4 2.5 -23 0.3 -21.9 -2 -20.3 -4.5 -17.9 -7 -14.9 -9.5 -11.6 -11.8 -8.1 -13.8 -4.6 -15.5 -1 -16.7 2 -17.6 4.8 -18 7.1 -18.1 8.8 -17.8 10 -17.3 10.9 -16.4 11.4 -15.4 11.5 -14.3 11.3 -13.2 11.1 -11.9 10.6 -10.8 10.2 -9.6 9.6 -8.5 9 -7.5 8.6 -6.6 7.9 -5.7 7.5 -5 7.1 -4.3 6.6 -3.7 6.2 -3.2 5.9 -2.7 5.6 -2.4 5.3 -2 5 -1.8 4.8 -1.6 4.5 -1.5 4.3 -1.3 4.2 -1.3 3.9 -1.2 3.7 -1.2 3.6 -1.3 3.3 -1.2 3.1 -1.4 2.9 -1.4 2.7 -1.5 2.5 -1.6 2.2 -1.8 2 -1.8 1.7 -2 1.4 -2.2 1.1 -2.2 0.8 -2.5 0.5 -2.5 0.1 -2.7 -0.2 -2.8 -0.6 -2.9 -1.1 -3.1 -1.4 -3.1 -1.9 -3.3 -2.3 -3.2 -2.8 -3.4 -3.3 -3.3 -3.7 -3.3 -4.1 -3.2 -4.6 -3.1 -5 -3 -5.4 -2.8 -5.7 -2.5 -6 -2.2 -6.3 -2 -6.3 -1.5 -6.5 -1 -6.4 -0.6 -6.3 -0.1 -6.1 0.4 -5.7 1 -5.3 1.6 -4.8 2.2 -4.2 2.7 -3.6 3.2 -2.8 3.7 -2 4.2 -1.2 4.6 -0.4 4.9 0.4 5.2 1.2 5.4 1.9 5.5 2.6 5.6 3.3 5.7 3.9 5.5 4.4 5.5 4.8 5.2 5.3 5.1 5.6 4.9 5.8 4.6 6.1 4.2 6.3 4 6.4 3.7 6.5 3.4 6.5 3 6.6 2.7 6.6 2.4 6.5 2.1 6.5 1.8 6.5 1.4 6.3 1.2 6.3 1 6.2 0.6 6 0.4 5.9 0.1 5.8 -0.1 5.7 -0.3 5.5 -0.6 5.3 -0.9 5.2 -1 4.9 -1.4 4.8 -1.5 4.6 -1.8 4.4 -2.1 4.1 -2.4 3.9 -2.6 3.6 -3 3.2 -3.2 3 -3.6 2.6 -4 2.1 -4.3 1.7 -4.6 1.2 -5.1 0.5 -5.5 0 -6 -0.8 -6.4 -1.6 -6.9 -2.6 -7.3 -3.6 -7.8 -4.7 -8.3 -6 -8.7 -7.4 -9.1 -9 -9.3 -10.6 -9.6 -12.4 -9.7 -14.1 -9.7 -16.1 -9.3 -17.8 -9 -19.6 -8.2 -21 -7.1 -22.1 -5.9 -22.9 -4.2 -23.1 -2.4 -22.7 -0.2 -21.7 2.2 -19.8 4.6 -17.5 7.1 -14.6 9.6 -11.3 11.7 -7.8 13.8 -4.3 15.4 -0.9 16.6 2.2 17.4 4.8 17.9 7.1 17.9 8.8 17.6 10 17 10.9 16.2 11.2 15.3 11.5 14.1 11.3 13 11 11.8 10.6 10.7 10.2 9.5 9.6 8.4 9 7.5 8.6 6.5 8 5.7 7.5 5 7.1 4.2 6.6 3.7 6.3 3.2 5.9 2.8 5.6 2.4 5.4 2.1 5 1.9 4.8 1.6 4.6 1.5 4.4 1.5 4.1 1.3 3.9 1.3 3.7 1.3 3.5 1.4 3.3 1.4 3.1 1.4 2.9 1.5 2.6 1.7 2.4 1.7 2.2 1.9 1.8 1.9 1.6 2.2 1.3 2.2 1 2.4 0.7 2.5 0.3 2.7 -0.1 2.8 -0.4 3 -0.8 3 -1.3 3.2 -1.7 3.3 -2.2 3.3 -2.6 3.3 -3 3.4 -3.6 3.4 -4 3.3 -4.5 3.3 -4.9 3.1 -5.3 2.9 -5.7 2.8 -6 2.4 -6.3 2.1 -6.4 1.8 -6.6 1.3 -6.6 0.8 -6.5 0.4 -6.3 -0.2 -6.1 -0.8 -5.6 -1.3 -5.2 -2 -4.6 -2.5 -3.9 -3 -3.2 -3.6 -2.4 -4.1 -1.7 -4.5 -0.7 -4.9 0 -5.2 0.9 -5.4 1.6 -5.6 2.4 -5.7 3 -5.8 3.7 -5.7 4.3 -5.6 4.7 -5.4 5.2 -5.3 5.6 -5.1 5.8 -4.8 6.1 -4.5 6.3 -4.2 6.4 -3.8 6.6 -3.6 6.6 -3.2 6.7 -2.9 6.6 -2.6 6.7 -2.3 6.6 -1.9 6.5 -1.7 6.5 -1.3 6.3 -1.1 6.3 -0.8 6.2 -0.6 6.1 -0.3 5.9 0 5.8 0.2 5.6 0.4 5.5 0.7 5.3 0.9 5.2 1.1 4.9 1.4 4.8 1.6 4.6 1.9 4.3 2.2 4.1 2.4 3.9 2.7 3.6 3 3.2 3.3 2.9 3.7 2.6 4 2.1 4.4 1.7 4.7 1.1 5.2 0.5 5.6 -0.1 6.1 -0.8 6.6 -1.7 7 -2.7 7.5 -3.7 8 -4.9 8.4 -6.2 8.9 -7.6 9.3 -9.3 9.6 -11 9.9 -12.7 9.9 -14.7 9.9 -16.6 9.6 -18.4 9.1 -20.2 8.4 -21.8 7.3 -22.9 6 -23.6 4.2 -23.9 2.2 -23.3 0 -22.2 -2.4 -20.2 -5 -17.8 -7.6 -14.7 -10.1 -11.2 -12.4 -7.5 -14.4 -4 -16 -0.4 -17.2 2.7 -18.1 5.3 -18.4 7.6 -18.4 9.2 -18 10.4 -17.3 11.1 -16.5 11.6 -15.4 11.5 -14.3 11.4 -13.1 11 -11.8 10.6 -10.7 10 -9.4 9.4 -8.4 8.9 -7.3 8.3 -6.4 7.8 -5.6 7.3 -4.8 6.9 -4.1 6.4 -3.5 6.1 -3 5.7 -2.6 5.5 -2.2 5.1 -1.9 4.9 -1.6 4.7 -1.5 4.4 -1.2 4.3 -1.2 4.1 -1.1 3.8 -1.1 3.7 -1.1 3.6 -1.1 3.3 -1.1 3.1 -1.2 3 -1.2 2.7 -1.4 2.5 -1.4 2.3 -1.6 2.1 -1.7 1.8 -1.8 1.6 -2 1.3 -2.1 1 -2.2 0.6 -2.4 0.4 -2.5 0 -2.7 -0.4 -2.8 -0.8 -2.9 -1.1 -3 -1.6 -3.1 -2 -3.1 -2.4 -3.2 -2.9 -3.3 -3.3 -3.2 -3.8 -3.2 -4.2 -3.1 -4.6 -3 -4.9 -2.8 -5.4 -2.6 -5.6 -2.4 -6 -2.1 -6.1 -1.7 -6.2 -1.3 -6.2 -0.9 -6.2 -0.5 -6.1 0.1 -5.8 0.6 -5.4 1.2 -5 1.7 -4.5 2.2 -3.9 2.8 -3.2 3.3 -2.5 3.8 -1.8 4.1 -0.9 4.6 -0.2 4.9 0.6 5.1 1.3 5.2 2.1 5.5 2.7 5.4 3.4 5.5 3.9 5.3 4.4 5.3 4.9 5.1 5.2 4.9 5.5 4.7 5.8 4.4 6.1 4.1 6.2 3.8 6.3 3.5 6.4 3.2 6.4 2.8 6.5 2.6 6.4 2.2 6.5 2 6.3 1.6 6.4 1.4 6.2 1 6.1 0.8 6.1 0.5 5.9 0.3 5.8 0 5.6 -0.2 5.5 -0.5 5.4 -0.7 5.2 -1 5 -1.3 4.8 -1.4 4.6 -1.8 4.4 -2 4.1 -2.2 3.9 -2.6 3.6 -2.8 3.3 -3.2 3 -3.5 2.6 -3.8 2.2 -4.2 1.7 -4.6 1.3 -4.9 0.6 -5.4 0 -5.8 -0.7 -6.2 -1.4 -6.7 -2.4 -7.1 -3.4 -7.6 -4.5 -8 -5.8 -8.4 -7 -8.8 -8.6 -9 -10.1 -9.3 -11.8 -9.4 -13.6 -9.3 -15.3 -9.1 -17 -8.7 -18.6 -8 -20.1 -7 -21.2 -5.8 -22 -4.3 -22.2 -2.5 -21.9 -0.5 -20.9 1.7 -19.4 4.1 -17.2 6.5 -14.5 8.8 -11.5 10.9 -8.2 12.9 -4.8 14.5 -1.5 15.8 1.4 16.7 4.2 17.1 6.3 17.3 8.2 17.1 9.5 16.6 10.4 15.9 11 15 11.2 14 11.2 12.9 11 11.8 10.7 10.7 10.3 9.6 9.8 8.6 9.2 7.5 8.8 6.7 8.3 5.9 7.8 5.2 7.4 4.4 6.9 4 6.6 3.4 6.2 3 5.9 2.6 5.5 2.4 5.3 2.1 5 1.9 4.8 1.8 4.5 1.7 4.2 1.6 4.1 1.6 3.8 1.6 3.6 1.6 3.3 1.7 3.1 1.8 2.8 1.8 2.6 2 2.3 2 2 2.2 1.7 2.3 1.4 2.5 1.1 2.6 0.7 2.8 0.3 2.9 -0.1 3.1 -0.5 3.2 -0.9 3.3 -1.4 3.4 -1.8 3.6 -2.4 3.6 -2.8 3.6 -3.4 3.7 -3.9 3.7 -4.4 3.6 -4.9 3.6 -5.4 3.4 -5.8 3.2 -6.3 2.9 -6.6 2.7 -6.9 2.3 -7.1 1.9 -7.2 1.4 -7.3 0.9 -7.1 0.3 -7 -0.3 -6.6 -1 -6.1 -1.6 -5.6 -2.2 -4.9 -2.9 -4.2 -3.4 -3.3 -4.1 -2.5 -4.6 -1.5 -5 -0.7 -5.5 0.3 -5.8 1.2 -6 2 -6.1 2.8 -6.3 3.5 -6.3 4.2 -6.2 4.8 -6 5.3 -5.9 5.6 -5.7 6.1 -5.4 6.3 -5.1 6.6 -4.7 6.7 -4.5 6.9 -4.1 7 -3.7 6.9 -3.4 7.1 -3 6.9 -2.7 7 -2.4 6.9 -2.1 6.8 -1.7 6.8 -1.5 6.6 -1.2 6.6 -0.9 6.4 -0.7 6.3 -0.5 6.1 -0.2 6.1 0 5.9 0.3 5.7 0.4 5.7 0.7 5.4 0.9 5.3 1.1 5.1 1.3 5 1.5 4.7 1.8 4.6 2 4.3 2.2 4.1 2.5 3.9 2.8 3.6 3.1 3.3 3.5 3 3.7 2.6 4.1 2.2 4.5 1.8 4.9 1.3 5.4 0.6 5.8 0.1 6.4 -0.8 6.8 -1.6 7.4 -2.5 7.9 -3.7 8.5 -4.8 9 -6.3 9.6 -7.9 10.1 -9.6 10.5 -11.5 10.9 -13.6 11 -15.7 11.1 -18 11 -20.3 10.5 -22.3 9.7 -24.4 8.7 -25.8 7.1 -26.9 5.3 -27.4 3.1 -26.9 0.4 -25.6 -2.4 -23.6 -5.4 -20.5 -8.4 -16.9 -11.3 -12.9 -14.1 -8.5 -16.4 -4.2 -18.2 -0.1 -19.7 3.4 -20.5 6.4 -20.8 8.7 -20.7 10.5 -20.1 11.5 -19.3 12.1 -18.2 12.3 -16.8 12 -15.5 11.6 -14 11.1 -12.6 10.3 -11.1 9.6 -9.7 8.9 -8.5 8.2 -7.2 7.6 -6.2 7 -5.2 6.4 -4.3 6.1 -3.4 5.6 -2.8 5.3 -2.2 5.1 -1.6 4.9 -1.2 4.6 -0.9 4.6 -0.5 4.4 -0.2 4.4 -0.1 4.2 0.1 4.2 0.2 4.2 0.3 4.1 0.3 4 0.3 4 0.3 3.9 0.2 3.9 0.1 3.7 0.1 3.7 -0.1 3.6 -0.1 3.5 -0.4 3.4 -0.4 3.2 -0.6 3.1 -0.8 2.9 -0.9 2.8 -1.1 2.5 -1.3 2.4 -1.5 2.1 -1.7 1.9 -1.8 1.6 -2.1 1.3 -2.2 0.9 -2.4 0.7 -2.6 0.3 -2.8 -0.1 -3 -0.5 -3.1 -0.9 -3.2 -1.4 -3.4 -1.8 -3.6 -2.4 -3.6 -2.8 -3.7 -3.4 -3.7 -3.9 -3.7 -4.4 -3.7 -4.9 -3.6 -5.4 -3.5 -5.9 -3.3 -6.4 -3.1 -6.7 -2.8 -7 -2.4 -7.3 -2 -7.4 -1.5 -7.4 -1 -7.4 -0.5 -7.2 0.2 -6.8 0.9 -6.4 1.5 -5.8 2.2 -5.2 2.8 -4.4 3.5 -3.6 4 -2.7 4.6 -1.7 5.1 -0.8 5.6 0.2 5.8 1 6.1 2 6.3 2.7 6.4 3.5 6.4 4.2 6.4 4.8 6.2 5.3 6.1 5.7 5.8 6.1 5.5 6.4 5.3 6.7 4.9 6.8 4.5 6.9 4.3 7.1 3.8 7 3.5 7.1 3.2 7.1 2.8 7.1 2.5 7 2.1 6.9 1.9 6.8 1.6 6.7 1.3 6.6 1 6.6 0.8 6.3 0.5 6.3 0.3 6.1 0.1 6 -0.2 5.9 -0.3 5.7 -0.5 5.5 -0.8 5.4 -1 5.3 -1.1 5 -1.4 4.9 -1.6 4.7 -1.8 4.5 -2.1 4.3 -2.3 4.1 -2.6 3.8 -2.8 3.6 -3.2 3.3 -3.4 2.9 -3.9 2.6 -4.1 2.2 -4.6 1.7 -5 1.2 -5.5 0.6 -5.9 0 -6.5 -0.8 -7 -1.7 -7.5 -2.6 -8.1 -3.8 -8.7 -5.1 -9.3 -6.5 -9.8 -8.1 -10.4 -9.9 -10.8 -11.9 -11.2 -14.1 -11.4 -16.3 -11.4 -18.7 -11.3 -21 -10.8 -23.3 -10 -25.3 -8.9 -26.9 -7.3 -27.9 -5.3 -28.4 -3 -27.8 -0.2 -26.5 2.7 -24.1 5.9 -21 9.1 -17 12.1 -12.8 14.8 -8.1 17.3 -3.7 19.1 0.4 20.5 4.1 21.3 7 21.5 9.4 21.3 10.9 20.7 12 19.7 12.4 18.5 12.4 17 12.1 15.6 11.5 14.1 10.9 12.5 10.2 11 9.3 9.6 8.6 8.3 7.9 7.1 7.2 5.9 6.7 4.8 6.1 4 5.8 3.2 5.4 2.4 5.1 1.8 4.9 1.2 4.7 0.8 4.6 0.4 4.5 0.1 4.4 -0.2 4.4 -0.4 4.4 -0.5 4.3 -0.7 4.3 -0.7 4.3 -0.7 4.3 -0.7 4.3 -0.7 4.2 -0.6 4.2 -0.6 4.2 -0.4 4.1 -0.3 4 -0.2 4 -0.1 3.8 0.2 3.8 0.2 3.6 0.5 3.5 0.6 3.3 0.9 3.1 1 3 1.2 2.8 1.5 2.5 1.6 2.3 1.8 2 2.1 1.7 2.2 1.4 2.5 1.1 2.7 0.7 2.9 0.3 3.1 -0.2 3.3 -0.5 3.5 -1.1 3.7 -1.5 3.8 -2.1 3.9 -2.7 4.1 -3.2 4.2 -3.8 4.2 -4.5 4.3 -5 4.2 -5.7 4.1 -6.2 4 -6.8 3.8 -7.4 3.5 -7.7 3.2 -8.2 2.7 -8.4 2.3 -8.6 1.7 -8.7 1.1 -8.5 0.4 -8.3 -0.3 -7.8 -1.1 -7.3 -1.9 -6.6 -2.7 -5.8 -3.5 -4.9 -4.2 -3.8 -4.9 -2.7 -5.5 -1.7 -6.1 -0.5 -6.5 0.6 -6.9 1.6 -7.1 2.6 -7.3 3.5 -7.4 4.3 -7.3 5 -7.2 5.6 -7 6.2 -6.7 6.5 -6.5 7 -6.1 7.1 -5.7 7.4 -5.4 7.5 -5 7.6 -4.5 7.6 -4.2 7.6 -3.8 7.6 -3.3 7.6 -3.1 7.4 -2.7 7.4 -2.3 7.3 -2.1 7.2 -1.8 7 -1.5 7 -1.3 6.8 -1 6.7 -0.9 6.5 -0.6 6.4 -0.5 6.3 -0.3 6.2 -0.2 6 0.1 5.9 0.1 5.8 0.3 5.6 0.4 5.5 0.6 5.4 0.7 5.2 0.9 5.1 0.9 5 1.2 4.8 1.3 4.7 1.4 4.5 1.6 4.4 1.8 4.2 2.1 4.1 2.2 3.8 2.5 3.7 2.7 3.5 3 3.2 3.3 3 3.7 2.6 4 2.4 4.4 1.9 4.9 1.6 5.3 1 5.9 0.5 6.4 -0.2 7.1 -1 7.7 -1.9 8.4 -2.9 9.1 -4.2 9.9 -5.7 10.6 -7.3 11.5 -9.2 12.2 -11.5 12.9 -13.9 13.5 -16.7 13.9 -19.7 14.2 -22.9 14.1 -26.2 13.7 -29.3 12.8 -32.2 11.3 -34.7 9.4 -36.2 6.8 -36.8 3.5 -36.1 -0.2 -33.9 -4.3 -30.3 -8.6 -25.5 -12.9 -19.8 -16.9 -13.5 -20.4 -7.3 -23.4 -1.3 -25.4 3.8 -26.7 7.8 -27.2 10.9 -27 12.9 -26 13.8 -24.7 14 -23 13.6 -21 12.7 -18.9 11.6 -16.7 10.4 -14.5 9.1 -12.4 8 -10.3 6.9 -8.5 6.1 -6.6 5.4 -5 4.8 -3.4 4.6 -2.1 4.3 -0.9 4.4 0.2 4.4 1.1 4.5 1.9 4.9 2.6 5 3.1 5.4 3.5 5.7 3.9 6 4 6.2 4.1 6.5 4.3 6.8 4.1 6.9 4.1 7.1 4 7.2 3.8 7.2 3.6 7.4 3.3 7.3 3.1 7.4 2.9 7.3 2.6 7.3 2.4 7.2 2.1 7.2 1.8 7 1.6 7 1.3 6.9 1.1 6.7 0.9 6.6 0.7 6.5 0.4 6.4 0.2 6.3 0.1 6 -0.2 6 -0.4 5.8 -0.5 5.6 -0.8 5.5 -0.9 5.4 -1.2 5.1 -1.4 5 -1.5 4.8 -1.8 4.6 -2 4.3 -2.3 4.2 -2.5 3.9 -2.8 3.6 -3.1 3.4 -3.4 3 -3.7 2.7 -4.1 2.2 -4.5 1.9 -4.9 1.3 -5.3 0.7 -5.8 0.1 -6.3 -0.6 -6.8 -1.5 -7.3 -2.5 -7.9 -3.5 -8.4 -4.7 -9 -6.2 -9.6 -7.7 -10 -9.4 -10.5 -11.3 -10.9 -13.4 -11 -15.5 -11.2 -17.8 -11 -20.1 -10.6 -22.2 -9.8 -24.2 -8.8 -25.8 -7.4 -26.9 -5.5 -27.4 -3.3 -27 -0.8 -25.9 2.1 -23.9 5.1 -20.9 8.2 -17.4 11 -13.3 13.9 -8.9 16.2 -4.7 18.1 -0.5 19.6 3.1 20.5 6.1 20.8 8.6 20.8 10.3 20.3 11.5 19.4 12 18.3 12.3 17.1 12.1 15.6 11.7 14.2 11.1 12.7 10.4 11.2 9.7 9.9 8.9 8.6 8.3 7.4 7.6 6.2 7 5.3 6.5 4.4 6 3.5 5.7 2.8 5.4 2.2 5 1.7 4.9 1.2 4.7 0.8 4.6 0.6 4.4 0.2 4.3 0 4.3 -0.1 4.2 -0.2 4.2 -0.3 4.1 -0.3 4.1 -0.3 4 -0.3 3.9 -0.3 3.9 -0.2 3.8 -0.1 3.8 0 3.6 0.2 3.5 0.2 3.4 0.5 3.3 0.5 3.2 0.8 3 0.9 2.8 1 2.6 1.3 2.4 1.4 2.2 1.7 1.9 1.8 1.7 2 1.4 2.2 1.1 2.4 0.7 2.5 0.4 2.8 0 2.9 -0.4 3.1 -0.8 3.2 -1.2 3.4 -1.8 3.6 -2.2 3.6 -2.7 3.7 -3.3 3.7 -3.8 3.8 -4.3 3.7 -4.8 3.7 -5.4 3.6 -5.8 3.4 -6.3 3.1 -6.7 2.9 -7 2.6 -7.3 2.1 -7.5 1.7 -7.5 1.1 -7.4 0.6 -7.3 0 -7 -0.7 -6.6 -1.4 -6.1 -2 -5.4 -2.7 -4.6 -3.3 -3.8 -4 -3 -4.5 -1.9 -5.1 -1.1 -5.5 -0.1 -5.8 0.9 -6.1 1.8 -6.3 2.5 -6.5 3.4 -6.4 4.1 -6.5 4.7 -6.3 5.2 -6.1 5.7 -6 6 -5.6 6.4 -5.4 6.6 -5 6.9 -4.7 6.9 -4.3 7.1 -4 7.1 -3.6 7.1 -3.3 7.2 -2.9 7 -2.6 7.1 -2.2 6.9 -2 6.9 -1.6 6.8 -1.4 6.7 -1.1 6.5 -0.9 6.5 -0.6 6.3 -0.4 6.2 -0.1 6 0 6 0.3 5.7 0.4 5.6 0.7 5.5 0.9 5.3 1 5.2 1.3 5 1.5 4.7 1.7 4.7 1.9 4.4 2.2 4.2 2.5 3.9 2.7 3.7 3 3.5 3.3 3.1 3.6 2.8 4 2.4 4.3 2 4.8 1.5 5.2 1 5.7 0.3 6.2 -0.3 6.7 -1.2 7.3 -2.1 7.8 -3.1 8.4 -4.3 9.1 -5.7 9.6 -7.3 10.1 -8.9 10.7 -10.8 11.1 -13 11.4 -15.1 11.6 -17.5 11.5 -19.9 11.3 -22.3 10.7 -24.5 9.7 -26.4 8.4 -27.9 6.6 -28.6 4.5 -28.7 1.8 -27.8 -1 -26 -4.2 -23.1 -7.4 -19.6 -10.5 -15.4 -13.6 -10.9 -16.2 -6.2 -18.4 -1.8 -20.1 2.2 -21.3 5.6 -21.7 8.3 -21.8 10.3 -21.3 11.6 -20.5 12.4 -19.4 12.5 -18.1 12.3 -16.5 11.9 -15.1 11.3 -13.4 10.5 -11.9 9.7 -10.4 8.9 -9 8.2 -7.7 7.5 -6.5 6.8 -5.3 6.4 -4.4 5.8 -3.5 5.5 -2.7 5.2 -2 4.9 -1.4 4.8 -0.8 4.6 -0.5 4.6 -0.1 4.5 0.3 4.4 0.4 4.4 0.7 4.4 0.7 4.4 0.9 4.5 0.9 4.4 0.9 4.4 0.9 4.4 0.8 4.4 0.8 4.3 0.7 4.3 0.5 4.3 0.4 4.2 0.3 4.1 0.1 4 0 3.9 -0.2 3.8 -0.4 3.7 -0.6 3.5 -0.8 3.3 -1 3.1 -1.2 3 -1.5 2.7 -1.6 2.4 -1.8 2.2 -2.1 1.9 -2.3 1.6 -2.5 1.2 -2.7 0.9 -3 0.5 -3.2 0 -3.4 -0.4 -3.5 -0.9 -3.8 -1.4 -4 -2 -4.1 -2.6 -4.3 -3.2 -4.4 -3.8 -4.4 -4.4 -4.5 -5.1 -4.5 -5.8 -4.4 -6.4 -4.3 -7.1 -4.1 -7.6 -3.9 -8.1 -3.5 -8.6 -3.1 -8.9 -2.7 -9.1 -2 -9.3 -1.4 -9.2 -0.7 -8.9 0.2 -8.6 0.9 -8 1.8 -7.3 2.6 -6.4 3.5 -5.5 4.3 -4.4 5 -3.2 5.8 -2 6.3 -0.8 6.9 0.4 7.2 1.5 7.6 2.5 7.7 3.6 7.8 4.4 7.8 5.1 7.7 5.8 7.4 6.4 7.3 6.8 6.8 7.2 6.6 7.4 6.1 7.6 5.7 7.8 5.3 7.8 4.9 7.9 4.4 7.8 4.1 7.9 3.6 7.7 3.3 7.7 2.9 7.6 2.6 7.4 2.3 7.4 2 7.2 1.7 7.1 1.5 6.9 1.3 6.8 1.1 6.7 0.9 6.6 0.7 6.4 0.6 6.3 0.5 6.2 0.3 6 0.2 5.9 0.1 5.8 0 5.6 -0.1 5.5 -0.1 5.5 -0.3 5.2 -0.3 5.2 -0.5 5.1 -0.5 4.9 -0.6 4.8 -0.7 4.8 -0.8 4.6 -0.9 4.4 -1 4.4 -1.1 4.3 -1.3 4.1 -1.4 4 -1.5 3.9 -1.7 3.7 -1.9 3.6 -2.1 3.5 -2.3 3.3 -2.6 3.1 -2.8 3 -3.2 2.7 -3.5 2.5 -3.8 2.2 -4.3 1.8 -4.7 1.6 -5.1 1 -5.8 0.6 -6.3 0 -7 -0.7 -7.7 -1.6 -8.5 -2.6 -9.3 -3.7 -10.1 -5.2 -11.1 -6.8 -12 -8.8 -13 -11.2 -13.9 -13.7 -14.8 -16.8 -15.5 -20.2 -16 -23.9 -16.3 -27.9 -16.2 -31.9 -15.6 -35.9 -14.3 -39.3 -12.4 -42 -9.7 -43.5 -6.1 -43.4 -1.9 -41.6 2.9 -37.9 8.2 -32.3 13.5 -25.4 18.5 -17.7 23 -9.8 26.8 -2.4 29.4 3.9 31.1 8.9 31.7 12.4 31.3 14.5 30.2 15.2 28.5 15 26.3 14.1 23.7 12.6 21 11 18.3 9.2 15.5 7.7 12.7 6.3 10.2 5.2 7.7 4.3 5.5 3.9 3.3 3.6 1.4 3.6 -0.4 3.8 -1.8 4.3 -3.1 4.7 -4.3 5.3 -5.1 6 -5.8 6.5 -6.4 7.1 -6.7 7.6 -6.8 8.1 -6.9 8.4 -6.9 8.7 -6.7 8.9 -6.4 9.1 -6.2 9.1 -5.8 9.2 -5.4 9.1 -5.1 9 -4.7 9 -4.3 8.8 -3.9 8.7 -3.5 8.6 -3.2 8.4 -3 8.2 -2.6 8 -2.3 7.9 -2.2 7.7 -1.9 7.5 -1.8 7.3 -1.6 7.2 -1.4 7 -1.4 6.9 -1.3 6.6 -1.2 6.6 -1.2 6.3 -1.1 6.3 -1.2 6 -1.1 5.9 -1.2 5.8 -1.2 5.6 -1.2 5.5 -1.4 5.3 -1.4 5.2 -1.5 5 -1.6 4.8 -1.8 4.7 -1.9 4.5 -2.1 4.3 -2.2 4.2 -2.5 3.9 -2.7 3.7 -2.9 3.5 -3.3 3.2 -3.5 3 -3.9 2.6 -4.2 2.2 -4.7 1.8 -5 1.4 -5.6 0.8 -6.1 0.2 -6.7 -0.6 -7.2 -1.4 -7.9 -2.4 -8.5 -3.5 -9.3 -4.8 -10 -6.4 -10.6 -8.1 -11.4 -10.1 -12.1 -12.3 -12.6 -14.7 -13 -17.5 -13.3 -20.3 -13.4 -23.4 -13 -26.2 -12.4 -29.1 -11.3 -31.4 -9.7 -33.2 -7.4 -34.1 -4.8 -34 -1.5 -32.7 2.1 -30 6 -26.3 10 -21.4 13.8 -15.9 17.4 -10.1 20.3 -4.5 22.7 0.6 24.4 5.1 25.3 8.5 25.4 11.1 25.1 12.6 24.2 13.4 22.7 13.5 21.2 13.2 19.3 12.3 17.3 11.4 15.4 10.3 13.4 9.2 11.5 8.2 9.7 7.2 8 6.5 6.4 5.8 5 5.2 3.6 4.9 2.5 4.7 1.4 4.5 0.4 4.5 -0.3 4.6 -1 4.6 -1.6 4.8 -2.1 5 -2.5 5.2 -2.7 5.4 -3 5.6 -3.1 5.8 -3.1 5.9 -3.2 6.1 -3.1 6.3 -3.1 6.3 -2.9 6.4 -2.7 6.4 -2.6 6.5 -2.4 6.5 -2.2 6.5 -2 6.5 -1.7 6.4 -1.5 6.3 -1.3 6.3 -1 6.1 -0.8 6.1 -0.5 6 -0.4 5.8 -0.1 5.7 0.2 5.6 0.4 5.4 0.6 5.2 0.8 5.1 1.1 4.8 1.3 4.7 1.6 4.5 1.8 4.2 2.1 3.9 2.3 3.7 2.7 3.4 2.9 3.1 3.2 2.7 3.6 2.3 3.9 1.9 4.2 1.4 4.6 0.9 5 0.3 5.3 -0.4 5.8 -1.2 6.2 -1.9 6.5 -2.9 7 -3.8 7.4 -5 7.7 -6.2 8.1 -7.5 8.3 -8.9 8.6 -10.4 8.6 -11.9 8.6 -13.5 8.4 -15 8.1 -16.5 7.5 -17.8 6.7 -18.9 5.7 -19.6 4.5 -20.1 2.9 -19.9 1.2 -19.4 -0.6 -18.2 -2.8 -16.6 -4.8 -14.4 -6.9 -11.9 -9 -9 -10.8 -6.1 -12.3 -3.2 -13.8 -0.3 -14.7 2.3 -15.4 4.5 -15.7 6.5 -15.7 8 -15.6 9.2 -15 10 -14.4 10.5 -13.6 10.7 -12.6 10.8 -11.8 10.7 -10.7 10.4 -9.7 10.1 -8.8 9.7 -7.9 9.2 -7.1 8.9 -6.2 8.5 -5.6 8 -4.9 7.6 -4.4 7.3 -3.9 6.9 -3.4 6.5 -3.2 6.2 -2.8 6 -2.6 5.6 -2.4 5.3 -2.2 5.1 -2.2 4.8 -2.1 4.5 -2.1 4.2 -2.2 4 -2.1 3.6 -2.3 3.4 -2.3 3.1 -2.4 2.8 -2.6 2.4 -2.7 2.1 -2.8 1.8 -3 1.3 -3.3 0.9 -3.3 0.5 -3.6 0 -3.8 -0.5 -3.9 -1.1 -4.1 -1.6 -4.3 -2.2 -4.4 -2.8 -4.5 -3.5 -4.7 -4.1 -4.7 -4.8 -4.7 -5.6 -4.7 -6.2 -4.6 -6.9 -4.4 -7.5 -4.3 -8.2 -3.9 -8.6 -3.5 -9.1 -3.1 -9.5 -2.5 -9.6 -1.9 -9.6 -1.2 -9.5 -0.3 -9.3 0.4 -8.7 1.4 -8.1 2.2 -7.2 3.1 -6.3 4 -5.2 4.9 -4 5.6 -2.8 6.3 -1.5 6.9 -0.3 7.4 1 7.7 2.1 8 3.2 8.1 4.1 8.2 5 8 5.7 7.9 6.3 7.6 6.8 7.3 7.2 7 7.5 6.6 7.7 6.1 7.9 5.7 8 5.3 8 4.8 8.1 4.4 8 3.9 7.9 3.6 7.8 3.2 7.7 2.9 7.6 2.5 7.5 2.3 7.4 1.9 7.2 1.8 7.1 1.5 7 1.3 6.8 1.1 6.6 1 6.6 0.8 6.4 0.7 6.2 0.6 6.2 0.5 6 0.5 5.9 0.3 5.7 0.3 5.7 0.2 5.5 0.1 5.4 0.1 5.3 0.1 5.1 0 5.1 0 5 -0.1 4.8 0 4.8 -0.1 4.6 -0.2 4.6 -0.2 4.4 -0.2 4.4 -0.2 4.2 -0.3 4.2 -0.3 4.1 -0.4 3.9 -0.4 3.9 -0.4 3.9 -0.5 3.7 -0.6 3.6 -0.6 3.6 -0.7 3.5 -0.7 3.4 -0.9 3.3 -0.9 3.2 -1 3.2 -1.2 3 -1.3 3 -1.4 2.9 -1.6 2.7 -1.8 2.7 -2 2.6 -2.2 2.4 -2.5 2.3 -2.7 2.2 -3.1 2 -3.4 1.8 -3.8 1.5 -4.3 1.3 -4.7 1 -5.3 0.5 -5.9 0.1 -6.6 -0.5 -7.3 -1.1 -8.2 -2 -9.1 -3.1 -10 -4.3 -11.1 -5.8 -12.3 -7.6 -13.4 -9.9 -14.6 -12.6 -15.9 -15.7 -17.1 -19.4 -18.1 -23.7 -18.9 -28.4 -19.5 -33.5 -19.4 -38.9 -18.8 -44.1 -17.3 -48.8 -14.9 -52.4 -11.4 -54.2 -6.7 -53.8 -1 -50.8 5.4 -44.9 12.2 -36.7 19.1 -27 25.3 -16.4 30.7 -6.3 34.7 2.4 37.2 9.3 38.5 14 38.1 16.5 36.9 17.2 34.6 16.3 31.6 14.6 28.3 12.3 24.6 9.7 20.9 7.3 17.1 5.2 13.3 3.5 9.8 2.5 6.4 2 3.2 1.9 0.2 2.3 -2.3 3.2 -4.6 4.1 -6.5 5.3 -8.1 6.5 -9.4 7.6 -10.1 8.7 -10.8 9.5 -11 10.2 -11 10.7 -10.8 11.1 -10.5 11.2 -9.9 11.2 -9.3 11.1 -8.7 11 -8 10.7 -7.2 10.5 -6.5 10.1 -5.9 9.8 -5.2 9.5 -4.6 9.1 -4.1 8.9 -3.6 8.5 -3.1 8.2 -2.8 8 -2.4 7.7 -2.1 7.4 -1.9 7.2 -1.8 6.9 -1.6 6.8 -1.4 6.5 -1.4 6.3 -1.4 6.1 -1.4 5.8 -1.4 5.7 -1.5 5.5 -1.5 5.2 -1.6 5 -1.7 4.7 -1.9 4.6 -2 4.2 -2.2 4 -2.4 3.7 -2.6 3.4 -2.8 3.1 -3.1 2.7 -3.2 2.3 -3.6 1.9 -3.8 1.4 -4.2 0.9 -4.4 0.4 -4.7 -0.2 -5.1 -0.9 -5.3 -1.6 -5.7 -2.4 -5.9 -3.2 -6.3 -4.1 -6.5 -5.2 -6.7 -6.1 -6.9 -7.3 -7 -8.5 -7 -9.6 -7 -10.7 -6.8 -11.9 -6.4 -13 -6.1 -13.9 -5.4 -14.7 -4.6 -15.3 -3.7 -15.6 -2.6 -15.6 -1.3 -15.2 0.1 -14.5 1.6 -13.4 3.2 -12 4.7 -10.3 6.3 -8.3 7.7 -6.2 9.1 -4 10.1 -1.9 11.1 0.3 11.9 2.3 12.3 4 12.5 5.5 12.6 6.7 12.4 7.8 12.1 8.6 11.7 9.1 11 9.5 10.4 9.7 9.7 9.7 9 9.8 8.3 9.6 7.5 9.4 6.9 9.3 6.2 9 5.6 8.7 5 8.4 4.6 8.2 4.1 7.9 3.7 7.6 3.4 7.4 3.1 7 2.8 6.9 2.7 6.5 2.5 6.3 2.5 6.1 2.3 5.8 2.4 5.6 2.3 5.3 2.4 5.1 2.5 4.7 2.6 4.5 2.7 4.3 2.8 3.9 3 3.6 3.3 3.2 3.4 2.8 3.7 2.5 3.9 2 4.2 1.5 4.6 1 4.8 0.4 5.2 -0.2 5.5 -1 5.9 -1.7 6.2 -2.6 6.5 -3.5 6.9 -4.5 7.2 -5.7 7.5 -6.8 7.7 -8.1 7.8 -9.4 7.9 -10.8 7.8 -12.2 7.7 -13.5 7.3 -14.7 6.9 -16 6.1 -16.8 5.3 -17.6 4.1 -17.9 2.8 -17.9 1.4 -17.4 -0.4 -16.5 -2.1 -15.2 -3.9 -13.4 -5.8 -11.2 -7.6 -8.9 -9.3 -6.3 -10.7 -3.7 -12 -1.2 -13 1.2 -13.7 3.4 -14.1 5.2 -14.3 6.8 -14.2 8.1 -13.8 9 -13.4 9.6 -12.8 10.1 -12 10.3 -11.2 10.3 -10.3 10.2 -9.5 10.1 -8.6 9.7 -7.9 9.5 -7 9.2 -6.3 8.8 -5.7 8.4 -5 8.2 -4.6 7.7 -4.1 7.5 -3.6 7.1 -3.4 6.8 -3 6.5 -2.8 6.2 -2.7 5.9 -2.5 5.7 -2.4 5.3 -2.4 5.1 -2.3 4.9 -2.4 4.5 -2.5 4.2 -2.5 4 -2.6 3.6 -2.8 3.3 -2.9 3 -3 2.5 -3.3 2.2 -3.5 1.8 -3.7 1.3 -3.9 0.8 -4.2 0.3 -4.4 -0.3 -4.6 -0.9 -4.9 -1.5 -5.2 -2.3 -5.3 -3.1 -5.6 -3.8 -5.8 -4.7 -5.9 -5.6 -6 -6.6 -6 -7.5 -6.1 -8.4 -5.9 -9.4 -5.7 -10.3 -5.4 -11.2 -4.9 -11.8 -4.5 -12.4 -3.7 -12.8 -2.9 -13 -2 -12.9 -0.9 -12.6 0.2 -12 1.5 -11.1 2.7 -10 3.9 -8.6 5.3 -7.1 6.4 -5.4 7.4 -3.6 8.4 -1.8 9.3 -0.1 9.8 1.5 10.3 3 10.6 4.4 10.6 5.6 10.6 6.5 10.4 7.4 10.1 7.9 9.7 8.4 9.2 8.8 8.6 9 8.1 9 7.5 9.1 6.9 9 6.3 9 5.7 8.8 5.2 8.7 4.7 8.4 4.3 8.3 3.8 8.1 3.5 7.9 3.2 7.6 2.8 7.5 2.6 7.3 2.5 7 2.2 6.9 2.1 6.6 2.1 6.5 1.9 6.2 1.9 6.1 2 5.9 1.9 5.7 2 5.4 2 5.3 2.1 5.1 2.3 4.8 2.4 4.6 2.6 4.4 2.7 4.1 3 3.9 3.2 3.5 3.4 3.2 3.8 2.9 4.1 2.5 4.4 2 4.7 1.5 5.2 1 5.6 0.3 6.1 -0.3 6.5 -1.2 7.1 -2 7.5 -3.1 8.1 -4.3 8.6 -5.5 9.1 -7 9.6 -8.6 10 -10.4 10.3 -12.2 10.6 -14.3 10.7 -16.4 10.6 -18.5 10.2 -20.6 9.7 -22.5 8.7 -24.1 7.5 -25.3 5.8 -25.9 3.9 -25.9 1.5 -25 -1 -23.4 -3.8 -21 -6.7 -17.8 -9.5 -14.2 -12.2 -10.2 -14.6 -6.1 -16.5 -2.2 -18.1 1.5 -19.2 4.6 -19.8 7.2 -19.9 9.2 -19.7 10.6 -19 11.5 -18 11.9 -17 12 -15.7 11.8 -14.3 11.3 -13 10.8 -11.7 10.1 -10.3 9.5 -9 8.8 -7.9 8.1 -6.8 7.6 -5.8 7.1 -4.9 6.5 -4.1 6.2 -3.5 5.7 -2.8 5.5 -2.2 5.1 -1.9 5 -1.4 4.7 -1.1 4.6 -0.9 4.4 -0.6 4.2 -0.5 4.2 -0.4 4 -0.3 3.9 -0.2 3.8 -0.3 3.8 -0.2 3.6 -0.3 3.5 -0.4 3.3 -0.4 3.3 -0.5 3.1 -0.7 3 -0.7 2.8 -0.9 2.7 -1 2.5 -1.2 2.2 -1.3 2.1 -1.5 1.8 -1.7 1.6 -1.8 1.3 -1.9 1.1 -2.1 0.7 -2.3 0.5 -2.5 0.1 -2.6 -0.3 -2.7 -0.7 -2.9 -1 -2.9 -1.5 -3.1 -1.8 -3.2 -2.4 -3.2 -2.7 -3.3 -3.2 -3.3 -3.7 -3.3 -4.1 -3.2 -4.6 -3.1 -5 -2.9 -5.3 -2.8 -5.7 -2.6 -6 -2.2 -6.2 -1.9 -6.3 -1.6 -6.4 -1.1 -6.4 -0.6 -6.3 -0.1 -6.1 0.4 -5.7 1 -5.4 1.5 -4.8 2.1 -4.2 2.7 -3.6 3.1 -2.8 3.7 -2.1 4.2 -1.3 4.5 -0.4 4.9 0.3 5.1 1.1 5.4 1.9 5.5 2.5 5.6 3.3 5.6 3.8 5.5 4.3 5.4 4.8 5.3 5.2 5.1 5.6 4.9 5.8 4.5 6.1 4.3 6.2 4 6.4 3.7 6.4 3.4 6.6 3 6.5 2.8 6.6 2.4 6.5 2.1 6.5 1.8 6.4 1.5 6.4 1.2 6.3 0.9 6.1 0.7 6.1 0.4 5.9 0.1 5.8 -0.1 5.6 -0.3 5.5 -0.6 5.3 -0.8 5.2 -1.1 5 -1.3 4.8 -1.6 4.6 -1.8 4.3 -2.1 4.1 -2.3 3.9 -2.7 3.6 -2.9 3.3 -3.2 2.9 -3.6 2.6 -4 2.1 -4.2 1.7 -4.7 1.2 -5.1 0.5 -5.5 0 -5.9 -0.8 -6.4 -1.6 -6.9 -2.6 -7.3 -3.6 -7.8 -4.7 -8.3 -6 -8.6 -7.4 -9.1 -8.9 -9.3 -10.6 -9.5 -12.4 -9.7 -14.1 -9.6 -16 -9.3 -17.7 -8.9 -19.5 -8.1 -20.9 -7.2 -22.1 -5.8 -22.7 -4.2 -23 -2.3 -22.6 -0.2 -21.5 2.1 -19.7 4.7 -17.4 7 -14.6 9.5 -11.2 11.7 -7.8 13.7 -4.3 15.3 -0.9 16.5 2.2 17.3 4.8 17.8 7 17.8 8.7 17.6 10 16.9 10.8 16.2 11.3 15.2 11.4 14.1 11.3 12.9 11 11.8 10.6 10.7 10.1 9.5 9.7 8.4 9 7.4 8.6 6.6 8 5.7 7.6 4.9 7.1 4.3 6.7 3.8 6.3 3.2 5.9 2.8 5.7 2.4 5.3 2.1 5.1 1.9 4.8 1.7 4.6 1.6 4.4 1.4 4.1 1.4 4 1.4 3.7 1.3 3.5 1.4 3.3 1.4 3.1 1.5 2.8 1.6 2.7 1.7 2.3 1.7 2.1 2 1.9 2 1.5 2.2 1.3 2.3 0.9 2.4 0.6 2.6 0.3 2.7 -0.1 2.9 -0.6 3 -0.9 3.1 -1.4 3.2 -1.8 3.3 -2.2 3.4 -2.7 3.4 -3.3 3.4 -3.6 3.4 -4.2 3.4 -4.6 3.2 -5 3.2 -5.5 2.9 -5.8 2.7 -6.1 2.4 -6.4 2.1 -6.6 1.7 -6.6 1.2 -6.7 0.8 -6.5 0.2 -6.4 -0.3 -6 -0.9 -5.7 -1.5 -5.1 -2 -4.5 -2.7 -3.8 -3.2 -3.1 -3.8 -2.3 -4.2 -1.4 -4.6 -0.6 -5 0.2 -5.3 1 -5.6 1.9 -5.7 2.5 -5.8 3.3 -5.7 3.8 -5.8 4.4 -5.6 4.9 -5.5 5.3 -5.3 5.7 -5 6 -4.8 6.2 -4.5 6.3 -4.2 6.6 -3.8 6.6 -3.5 6.6 -3.2 6.7 -2.9 6.7 -2.5 6.7 -2.2 6.6 -1.9 6.6 -1.7 6.5 -1.3 6.4 -1 6.3 -0.8 6.1 -0.5 6.1 -0.3 5.9 0 5.8 0.2 5.7 0.5 5.5 0.7 5.3 0.9 5.1 1.2 5 1.4 4.8 1.6 4.6 1.9 4.3 2.2 4.2 2.4 3.8 2.7 3.6 3 3.3 3.3 2.9 3.7 2.6 4 2.1 4.4 1.7 4.8 1.2 5.2 0.5 5.6 -0.1 6.1 -0.8 6.6 -1.7 7.1 -2.6 7.5 -3.7 8 -4.8 8.6 -6.2 8.9 -7.7 9.4 -9.3 9.7 -11 10 -12.8 10 -14.8 10.1 -16.7 9.7 -18.6 9.3 -20.4 8.6 -22 7.4 -23.3 6.1 -24 4.4 -24.2 2.4 -23.7 0.1 -22.6 -2.5 -20.7 -5 -18 -7.6 -15 -10.2 -11.5 -12.6 -7.7 -14.5 -4 -16.3 -0.5 -17.5 2.7 -18.2 5.5 -18.7 7.6 -18.6 9.4 -18.3 10.5 -17.6 11.2 -16.7 11.6 -15.6 11.6 -14.4 11.5 -13.2 11 -12 10.6 -10.7 10 -9.5 9.4 -8.4 8.8 -7.4 8.3 -6.4 7.7 -5.5 7.2 -4.8 6.8 -4 6.3 -3.5 6 -2.9 5.7 -2.5 5.3 -2.1 5.1 -1.8 4.9 -1.6 4.6 -1.3 4.4 -1.2 4.3 -1 4 -1 3.9 -1 3.7 -0.9 3.6 -0.9 3.3 -1 3.2 -1 3 -1.1 2.9 -1.2 2.6 -1.3 2.4 -1.5 2.2 -1.5 2 -1.7 1.7 -1.8 1.5 -1.9 1.2 -2.1 0.9 -2.2 0.5 -2.4 0.3 -2.5 -0.1 -2.6 -0.4 -2.8 -0.9 -2.9 -1.2 -2.9 -1.6 -3.1 -2.1 -3.1 -2.5 -3.2 -2.9 -3.2 -3.4 -3.1 -3.8 -3.2 -4.2 -3 -4.6 -2.9 -5 -2.7 -5.3 -2.6 -5.7 -2.3 -5.8 -1.9 -6 -1.6 -6.2 -1.3 -6.1 -0.8 -6.1 -0.3 -5.9 0.2 -5.6 0.7 -5.3 1.2 -4.9 1.8 -4.3 2.3 -3.7 2.9 -3 3.3 -2.4 3.8 -1.5 4.1 -0.8 4.6 -0.1 4.8 0.8 5.1 1.4 5.2 2.2 5.3 2.8 5.4 3.4 5.4 3.9 5.3 4.5 5.1 4.8 5 5.2 4.8 5.6 4.5 5.7 4.3 6 4 6.2 3.7 6.2 3.4 6.4 3.1 6.4 2.8 6.4 2.5 6.4 2.1 6.3 1.9 6.3 1.5 6.3 1.3 6.1 1 6.1 0.7 6 0.5 5.8 0.2 5.7 -0.1 5.6 -0.3 5.4 -0.6 5.3 -0.8 5.1 -1.1 4.9 -1.3 4.7 -1.6 4.5 -1.8 4.2 -2.1 4.1 -2.4 3.7 -2.6 3.5 -3 3.1 -3.3 2.8 -3.6 2.4 -4 2 -4.3 1.5 -4.7 0.9 -5.1 0.4 -5.5 -0.3 -5.9 -1.1 -6.4 -1.9 -6.8 -2.8 -7.3 -3.9 -7.7 -5 -8.1 -6.3 -8.4 -7.7 -8.8 -9.2 -9.1 -10.8 -9.2 -12.4 -9.2 -14.2 -9 -15.8 -8.8 -17.5 -8.1 -19 -7.4 -20.3 -6.4 -21.1 -5 -21.7 -3.4 -21.6 -1.5 -21.1 0.6 -19.8 2.7 -18.1 5.1 -15.7 7.4 -12.9 9.6 -9.7 11.6 -6.6 13.4 -3.3 14.8 -0.1 15.9 2.6 16.6 5 16.9 7.1 16.9 8.7 16.6 9.8 16.1 10.5 15.2 11 14.4 11.1 13.3 11.1 12.3 10.8 11.1 10.5 10.1 10.1 9.1 9.6 8 9.1 7.2 8.6 6.3 8.2 5.6 7.7 4.8 7.3 4.3 6.9 3.7 6.5 3.3 6.1 2.9 5.9 2.6 5.5 2.3 5.3 2.2 5 1.9 4.7 1.9 4.4 1.7 4.3 1.8 4 1.7 3.7 1.8 3.5 1.8 3.2 1.8 3 2 2.7 2 2.4 2.2 2.1 2.3 1.8 2.5 1.5 2.6 1.1 2.7 0.8 2.9 0.3 3 0 3.2 -0.5 3.4 -0.9 3.4 -1.4 3.6 -1.9 3.7 -2.4 3.8 -3 3.9 -3.5 3.9 -4.1 3.8 -4.6 3.9 -5.1 3.7 -5.7 3.6 -6.1 3.4 -6.6 3.2 -7 2.8 -7.3 2.5 -7.6 2 -7.6 1.5 -7.7 0.9 -7.6 0.4 -7.4 -0.3 -7 -1 -6.5 -1.7 -5.9 -2.4 -5.2 -3 -4.4 -3.8 -3.5 -4.3 -2.6 -4.9 -1.6 -5.4 -0.6 -5.8 0.4 -6.1 1.3 -6.4 2.2 -6.5 3 -6.6 3.8 -6.6 4.4 -6.5 5.1 -6.4 5.5 -6.2 6 -5.9 6.4 -5.6 6.6 -5.4 6.8 -4.9 7 -4.6 7.1 -4.3 7.2 -3.9 7.2 -3.5 7.3 -3.1 7.2 -2.9 7.1 -2.5 7.1 -2.1 7 -1.9 6.9 -1.6 6.8 -1.3 6.7 -1 6.5 -0.8 6.5 -0.6 6.3 -0.3 6.2 -0.2 6.1 0.1 5.9 0.3 5.8 0.4 5.6 0.7 5.5 0.8 5.3 1.1 5.2 1.2 5 1.5 4.8 1.6 4.6 1.9 4.5 2.1 4.2 2.3 4.1 2.6 3.7 2.9 3.6 3.2 3.2 3.5 2.9 3.9 2.6 4.2 2.2 4.7 1.7 5.1 1.2 5.5 0.6 6 0 6.6 -0.8 7.1 -1.7 7.7 -2.6 8.3 -3.8 8.9 -5.2 9.6 -6.6 10.1 -8.3 10.7 -10.1 11.2 -12.3 11.7 -14.5 11.8 -16.9 12 -19.4 11.9 -21.9 11.3 -24.3 10.6 -26.6 9.4 -28.3 7.8 -29.5 5.7 -29.9 3.2 -29.4 0.3 -28 -2.9 -25.4 -6.3 -22 -9.6 -17.9 -12.9 -13.1 -15.8 -8.3 -18.3 -3.5 -20.2 0.9 -21.7 4.6 -22.4 7.7 -22.6 10 -22.3 11.5 -21.5 12.4 -20.4 12.8 -19.1 12.6 -17.6 12.2 -15.9 11.5 -14.3 10.7 -12.7 9.8 -11.1 9 -9.5 8.2 -8.1 7.5 -6.9 6.8 -5.6 6.2 -4.5 5.8 -3.5 5.4 -2.7 5 -1.9 4.9 -1.2 4.7 -0.7 4.6 -0.1 4.6 0.2 4.5 0.6 4.5 0.9 4.6 1 4.6 1.3 4.7 1.3 4.6 1.4 4.8 1.4 4.7 1.3 4.8 1.4 4.8 1.2 4.8 1.1 4.8 1.1 4.8 0.8 4.7 0.8 4.7 0.5 4.6 0.4 4.5 0.2 4.4 0 4.4 -0.2 4.1 -0.4 4.1 -0.7 3.9 -0.8 3.7 -1.1 3.5 -1.3 3.2 -1.5 3.1 -1.8 2.8 -2 2.5 -2.2 2.2 -2.5 1.9 -2.7 1.5 -3 1.1 -3.3 0.7 -3.5 0.2 -3.7 -0.3 -4 -0.8 -4.2 -1.4 -4.5 -2 -4.6 -2.7 -4.9 -3.3 -5 -4.1 -5.1 -4.9 -5.2 -5.6 -5.2 -6.4 -5.2 -7.3 -5.1 -8 -5 -8.7 -4.7 -9.5 -4.3 -10 -3.8 -10.5 -3.3 -10.8 -2.7 -11.1 -1.9 -11 -1 -10.8 -0.1 -10.3 0.9 -9.8 1.9 -8.8 3 -7.8 4.1 -6.6 5 -5.3 6 -3.8 6.8 -2.4 7.5 -0.9 8.2 0.5 8.6 1.9 8.9 3.1 9.2 4.2 9.2 5.2 9.1 6 8.9 6.8 8.7 7.3 8.3 7.7 7.9 8.1 7.5 8.2 7 8.5 6.4 8.4 6 8.5 5.5 8.5 5 8.4 4.5 8.3 4.1 8.2 3.7 8 3.3 7.9 3 7.7 2.6 7.6 2.4 7.4 2.2 7.2 1.9 7.1 1.8 7 1.6 6.7 1.5 6.7 1.4 6.4 1.3 6.3 1.2 6.2 1.2 6 1.2 5.9 1.2 5.7 1.1 5.6 1.3 5.4 1.2 5.3 1.3 5.2 1.4 5 1.5 4.9 1.6 4.7 1.8 4.5 1.8 4.4 2 4.2 2.3 4.1 2.4 3.9 2.6 3.6 2.9 3.4 3.1 3.2 3.5 2.9 3.8 2.7 4.2 2.2 4.6 1.9 5 1.4 5.5 0.9 6 0.3 6.6 -0.4 7.3 -1.2 7.8 -2.2 8.6 -3.3 9.3 -4.6 10.1 -6 10.8 -7.9 11.6 -9.8 12.3 -12.1 13 -14.6 13.6 -17.5 13.9 -20.4 14 -23.7 13.9 -26.8 13.3 -29.9 12.3 -32.7 10.7 -34.8 8.6 -36.1 5.8 -36.3 2.4 -35.1 -1.3 -32.6 -5.5 -28.8 -9.7 -23.7 -13.9 -17.8 -17.8 -11.7 -21.1 -5.5 -23.7 0.2 -25.6 4.9 -26.6 8.7 -26.9 11.4 -26.5 13.1 -25.5 13.8 -24.1 13.9 -22.3 13.3 -20.3 12.5 -18.1 11.3 -16 10.1 -13.9 8.9 -11.8 7.8 -9.9 6.8 -7.9 6 -6.3 5.3 -4.6 4.9 -3.2 4.5 -1.9 4.4 -0.8 4.4 0.3 4.4 1.2 4.6 1.9 4.8 2.5 5.1 3 5.4 3.4 5.7 3.7 5.9 3.9 6.2 4 6.4 4 6.7 4 6.8 3.9 6.9 3.8 7.1 3.6 7.2 3.4 7.2 3.2 7.2 3 7.2 2.7 7.2 2.4 7.1 2.2 7.1 2 7 1.7 7 1.4 6.8 1.2 6.7 1 6.6 0.7 6.5 0.6 6.4 0.3 6.2 0.1 6.1 -0.2 5.9 -0.3 5.8 -0.5 5.7 -0.7 5.5 -1 5.3 -1.1 5.1 -1.4 5 -1.6 4.7 -1.8 4.6 -2 4.3 -2.3 4.1 -2.6 3.8 -2.8 3.6 -3.2 3.3 -3.4 2.9 -3.8 2.5 -4.2 2.1 -4.5 1.7 -5 1.1 -5.3 0.6 -5.9 -0.2 -6.3 -0.9 -6.8 -1.7 -7.4 -2.8 -7.8 -3.8 -8.4 -5.1 -8.9 -6.5 -9.5 -8.1 -9.8 -9.8 -10.3 -11.6 -10.5 -13.6 -10.6 -15.7 -10.7 -17.8 -10.4 -19.9 -9.8 -21.9 -9.1 -23.6 -8 -24.9 -6.4 -25.8 -4.6 -26 -2.3 -25.4 0.1 -24.1 2.9 -21.9 5.7 -18.9 8.6 -15.5 11.3 -11.6 13.8 -7.5 15.9 -3.5 17.7 0.3 18.9 3.7 19.6 6.4 19.9 8.6 19.8 10.2 19.3 11.2 18.4 11.9 17.3 12 16.2 11.8 14.8 11.5 13.4 11 12.1 10.3 10.8 9.7 9.4 9 8.3 8.4 7.1 7.8 6.2 7.2 5.2 6.7 4.4 6.3 3.6 5.9 3 5.5 2.5 5.3 1.9 5 1.6 4.8 1.2 4.6 0.9 4.4 0.7 4.3 0.6 4.2 0.4 4.1 0.3 3.9 0.2 3.9 0.3 3.8 0.2 3.6 0.3 3.5 0.3 3.5 0.4 3.3 0.5 3.1 0.6 3.1 0.7 2.9 0.9 2.7 0.9 2.5 1.2 2.4 1.2 2.1 1.5 1.9 1.5 1.7 1.8 1.4 1.9 1.2 2.1 0.8 2.2 0.6 2.4 0.2 2.5 -0.1 2.7 -0.6 2.8 -0.9 3 -1.3 3 -1.7 3.2 -2.1 3.2 -2.7 3.2 -3 3.3 -3.5 3.3 -4 3.2 -4.4 3.2 -4.8 3 -5.2 2.9 -5.6 2.6 -5.9 2.4 -6.1 2 -6.3 1.7 -6.4 1.2 -6.4 0.8 -6.4 0.4 -6.1 -0.3 -5.9 -0.7 -5.5 -1.4 -5 -1.9 -4.5 -2.4 -3.8 -3 -3.1 -3.5 -2.4 -4 -1.6 -4.4 -0.7 -4.8 0 -5 0.9 -5.3 1.6 -5.5 2.3 -5.6 3 -5.6 3.6 -5.5 4.2 -5.5 4.6 -5.4 5.1 -5.1 5.4 -5 5.8 -4.7 5.9 -4.4 6.2 -4.1 6.4 -3.8 6.4 -3.5 6.5 -3.1 6.6 -2.9 6.5 -2.5 6.6 -2.2 6.5 -1.9 6.5 -1.6 6.3 -1.3 6.3 -1.1 6.2 -0.7 6.1 -0.5 6 -0.3 5.8 0 5.7 0.3 5.6 0.5 5.4 0.7 5.2 1 5.1 1.2 4.8 1.5 4.7 1.7 4.4 2 4.2 2.3 4 2.5 3.7 2.8 3.4 3.2 3.1 3.4 2.7 3.8 2.3 4.2 1.8 4.5 1.4 4.9 0.8 5.4 0.2 5.8 -0.5 6.2 -1.3 6.7 -2.2 7.1 -3.2 7.7 -4.3 8 -5.5 8.6 -6.9 8.9 -8.3 9.2 -10 9.5 -11.7 9.6 -13.5 9.7 -15.3 9.4 -17.1 9.1 -18.9 8.5 -20.4 7.5 -21.7 6.4 -22.6 4.8 -22.9 3.1 -22.9 1 -22 -1.3 -20.5 -3.7 -18.3 -6.2 -15.7 -8.6 -12.5 -10.9 -9.1 -13 -5.5 -14.7 -2.2 -16.1 1.1 -17.1 3.9 -17.7 6.2 -17.9 8.2 -17.7 9.6 -17.2 10.5 -16.5 11.2 -15.5 11.4 -14.6 11.3 -13.4 11.2 -12.2 10.7 -11 10.4 -10 9.8 -8.8 9.3 -7.8 8.7 -6.9 8.2 -6 7.7 -5.2 7.3 -4.5 6.8 -3.9 6.5 -3.4 6.1 -3 5.7 -2.5 5.5 -2.2 5.1 -2 4.9 -1.8 4.7 -1.6 4.5 -1.4 4.2 -1.4 4 -1.4 3.8 -1.4 3.6 -1.3 3.4 -1.4 3.1 -1.5 3 -1.5 2.7 -1.6 2.4 -1.8 2.3 -1.8 1.9 -2 1.7 -2.1 1.4 -2.3 1 -2.3 0.8 -2.6 0.3 -2.6 0.1 -2.9 -0.4 -2.9 -0.8 -3.1 -1.1 -3.1 -1.7 -3.3 -2 -3.3 -2.6 -3.4 -3 -3.4 -3.4 -3.4 -4 -3.4 -4.4 -3.3 -4.9 -3.2 -5.3 -3 -5.6 -2.8 -6 -2.5 -6.3 -2.2 -6.5 -1.9 -6.6 -1.4 -6.6 -1 -6.6 -0.4 -6.5 0.1 -6.2 0.6 -5.8 1.3 -5.3 1.8 -4.7 2.4 -4.1 3 -3.4 3.5 -2.6 4.1 -1.8 4.4 -1 4.9 -0.1 5.2 0.7 5.4 1.6 5.6 2.2 5.8 3 5.8 3.6 5.7 4.2 5.7 4.7 5.6 5.1 5.3 5.5 5.2 5.9 4.8 6.1 4.6 6.3 4.3 6.4 4 6.6 3.6 6.6 3.4 6.7 2.9 6.7 2.7 6.7 2.3 6.6 2.1 6.6 1.7 6.5 1.4 6.5 1.2 6.3 0.9 6.2 0.6 6.1 0.4 6 0.1 5.8 -0.2 5.7 -0.3 5.6 -0.6 5.4 -0.9 5.2 -1 5 -1.3 4.9 -1.6 4.6 -1.8 4.5 -2.1 4.2 -2.3 3.9 -2.6 3.7 -2.9 3.4 -3.2 3.1 -3.5 2.7 -3.9 2.3 -4.3 1.8 -4.6 1.4 -5 0.8 -5.5 0.1 -5.9 -0.5 -6.4 -1.4 -6.9 -2.2 -7.3 -3.3 -7.9 -4.4 -8.3 -5.7 -8.8 -7.1 -9.2 -8.7 -9.6 -10.3 -9.9 -12.2 -10 -14 -10 -16 -9.9 -17.9 -9.5 -19.7 -8.8 -21.4 -7.9 -22.8 -6.6 -23.7 -5 -24.2 -3.1 -23.9 -1 -23 1.5 -21.4 4.1 -19 6.7 -16.2 9.2 -12.7 11.7 -9.1 13.8 -5.3 15.7 -1.8 17 1.6 18 4.5 18.5 6.9 18.7 8.7 18.4 10.1 17.8 11.1 17 11.4 16 11.7 14.8 11.5 13.7 11.2 12.3 10.7 11.2 10.2 9.9 9.7 8.8 9 7.8 8.5 6.7 7.9 5.9 7.4 5 7 4.3 6.5 3.7 6.1 3.1 5.8 2.7 5.5 2.3 5.2 1.9 4.9 1.6 4.8 1.4 4.5 1.3 4.3 1.1 4.1 1 3.9 1 3.8 1 3.6 0.9 3.4 1 3.3 1 3.1 1.2 2.8 1.1 2.7 1.3 2.5 1.4 2.3 1.6 2 1.6 1.8 1.8 1.5 1.9 1.3 2.1 1 2.2 0.6 2.3 0.4 2.5 -0.1 2.6 -0.3 2.7 -0.8 2.9 -1.1 3 -1.6 3 -1.9 3.1 -2.4 3.2 -2.9 3.2 -3.2 3.1 -3.7 3.2 -4.2 3 -4.5 3 -4.9 2.8 -5.3 2.6 -5.6 2.3 -5.8 2.1 -6 1.7 -6.1 1.3 -6.2 0.9 -6.1 0.4 -6 0 -5.7 -0.6 -5.4 -1.1 -4.9 -1.7 -4.5 -2.2 -3.8 -2.7 -3.2 -3.2 -2.5 -3.7 -1.8 -4.1 -1 -4.5 -0.2 -4.8 0.6 -5 1.3 -5.2 2 -5.3 2.7 -5.4 3.2 -5.4 3.9 -5.3 4.3 -5.2 4.8 -5.1 5.2 -4.8 5.4 -4.6 5.8 -4.4 5.9 -4.1 6.1 -3.7 6.3 -3.5 6.3 -3.2 6.4 -2.8 6.4 -2.6 6.4 -2.2 6.4 -1.9 6.3 -1.7 6.3 -1.3 6.2 -1.1 6.1 -0.7 6 -0.5 5.9 -0.3 5.7 0 5.6 0.3 5.5 0.5 5.3 0.7 5.1 1 5 1.3 4.8 1.5 4.5 1.8 4.3 2 4.1 2.3 3.9 2.6 3.5 2.9 3.2 3.2 2.9 3.5 2.5 3.9 2.1 4.2 1.6 4.6 1.1 5 0.6 5.4 -0.2 5.9 -0.8 6.2 -1.7 6.7 -2.6 7.2 -3.6 7.6 -4.7 8 -6 8.4 -7.3 8.7 -8.8 9 -10.3 9.2 -12.1 9.2 -13.7 9.2 -15.4 8.8 -17.1 8.4 -18.7 7.7 -20 6.6 -21 5.4 -21.6 3.9 -21.8 2 -21.3 0 -20.3 -2.1 -18.7 -4.5 -16.4 -6.8 -13.7 -9.1 -10.6 -11.2 -7.4 -12.9 -4.1 -14.6 -1 -15.6 1.9 -16.5 4.5 -16.9 6.6 -17 8.3 -16.8 9.6 -16.2 10.4 -15.5 10.9 -14.7 11.2 -13.6 11.1 -12.6 10.9 -11.4 10.6 -10.4 10.2 -9.3 9.7 -8.4 9.2 -7.4 8.8 -6.5 8.2 -5.7 7.8 -5 7.4 -4.5 7 -3.8 6.6 -3.4 6.2 -3 5.9 -2.7 5.6 -2.3 5.3 -2.2 5.1 -2 4.7 -1.8 4.6 -1.8 4.2 -1.7 4.1 -1.8 3.8 -1.7 3.5 -1.7 3.3 -1.9 3.1 -1.9 2.7 -2 2.5 -2.1 2.2 -2.2 1.9 -2.4 1.6 -2.6 1.2 -2.6 0.9 -2.8 0.5 -3 0.1 -3.2 -0.4 -3.2 -0.7 -3.4 -1.3 -3.6 -1.7 -3.6 -2.3 -3.8 -2.7 -3.8 -3.3 -3.8 -3.9 -3.9 -4.4 -3.8 -4.9 -3.8 -5.5 -3.6 -5.9 -3.4 -6.4 -3.2 -6.9 -3 -7.1 -2.5 -7.4 -2.2 -7.6 -1.6 -7.6 -1.1 -7.6 -0.6 -7.4 0.1 -7.1 0.8 -6.6 1.4 -6.1 2.1 -5.4 2.9 -4.6 3.4 -3.8 4.1 -2.9 4.7 -1.9 5.2 -0.9 5.6 0 6 1 6.2 1.9 6.5 2.7 6.5 3.5 6.6 4.3 6.5 4.8 6.4 5.3 6.2 5.8 5.9 6.2 5.7 6.5 5.4 6.8 5.1 6.9 4.7 7 4.3 7.2 4 7.1 3.6 7.2 3.3 7.2 2.9 7.1 2.6 7.1 2.2 7 2 6.9 1.6 6.8 1.4 6.7 1.1 6.6 0.9 6.5 0.6 6.4 0.4 6.2 0.2 6 0 6 -0.2 5.8 -0.5 5.6 -0.6 5.6 -0.8 5.3 -1 5.2 -1.2 5 -1.5 4.9 -1.6 4.6 -1.9 4.5 -2 4.3 -2.4 4 -2.6 3.8 -2.8 3.6 -3.2 3.2 -3.5 3 -3.8 2.6 -4.3 2.2 -4.6 1.7 -5 1.2 -5.5 0.7 -6 0 -6.5 -0.8 -7.1 -1.6 -7.6 -2.7 -8.3 -3.8 -8.8 -5 -9.5 -6.6 -10 -8.2 -10.6 -10 -11.1 -12.1 -11.5 -14.3 -11.8 -16.7 -11.9 -19.1 -11.7 -21.7 -11.2 -24 -10.5 -26.1 -9.3 -28 -7.7 -29 -5.7 -29.6 -3.2 -29.1 -0.4 -27.6 2.8 -25.2 6 -21.9 9.4 -17.8 12.6 -13.2 15.4 -8.4 18 -3.7 19.9 0.7 21.4 4.3 22.1 7.5 22.3 9.8 22.1 11.3 21.3 12.3 20.3 12.7 19 12.5 17.5 12.2 15.9 11.6 14.3 10.8 12.7 9.9 11.1 9.1 9.6 8.3 8.3 7.6 6.9 6.9 5.7 6.4 4.6 5.9 3.7 5.5 2.8 5.1 2.1 4.9 1.4 4.8 0.8 4.6 0.3 4.6 0 4.5 -0.5 4.5 -0.6 4.5 -0.9 4.5 -1.1 4.6 -1.1 4.6 -1.2 4.6 -1.3 4.6 -1.2 4.7 -1.2 4.7 -1.1 4.6 -1 4.6 -0.8 4.6 -0.8 4.6 -0.6 4.5 -0.4 4.4 -0.3 4.4 -0.1 4.2 0.1 4.1 0.3 4 0.5 3.9 0.7 3.6 1 3.5 1.1 3.3 1.4 3 1.6 2.9 1.8 2.5 2.1 2.3 2.3 1.9 2.5 1.6 2.8 1.2 3 0.9 3.3 0.4 3.5 -0.1 3.7 -0.6 3.9 -1.1 4.2 -1.7 4.4 -2.3 4.5 -2.9 4.8 -3.7 4.8 -4.3 4.9 -5.1 5 -5.8 5 -6.6 4.8 -7.3 4.8 -8 4.5 -8.6 4.3 -9.3 3.8 -9.7 3.4 -10.1 2.7 -10.3 2.1 -10.4 1.3 -10.3 0.5 -10 -0.4 -9.4 -1.4 -8.8 -2.3 -7.8 -3.4 -6.8 -4.3 -5.6 -5.1 -4.3 -6.1 -3 -6.7 -1.6 -7.5 -0.2 -7.9 1.1 -8.3 2.3 -8.5 3.4 -8.7 4.4 -8.7 5.4 -8.6 6 -8.4 6.7 -8.1 7.2 -7.7 7.6 -7.4 7.9 -6.9 8.1 -6.5 8.2 -6 8.2 -5.5 8.3 -5 8.3 -4.6 8.2 -4.2 8.1 -3.7 8 -3.4 7.8 -3 7.8 -2.7 7.6 -2.4 7.4 -2.1 7.3 -2 7.2 -1.7 7 -1.5 6.8 -1.3 6.7 -1.3 6.6 -1.1 6.4 -1 6.3 -0.9 6.2 -0.9 6 -0.8 5.8 -0.8 5.8 -0.8 5.6 -0.8 5.5 -0.7 5.4 -0.8 5.2 -0.8 5.1 -0.9 5 -0.9 4.9 -0.9 4.8 -1.1 4.6 -1.1 4.5 -1.2 4.4 -1.3 4.3 -1.4 4.2 -1.6 4 -1.7 3.9 -1.9 3.7 -2 3.6 -2.3 3.5 -2.5 3.2 -2.8 3.1 -3 2.9 -3.4 2.6 -3.7 2.4 -4.1 2 -4.5 1.7 -5 1.3 -5.6 0.8 -6 0.3 -6.8 -0.4 -7.3 -1.2 -8.2 -2.2 -8.9 -3.2 -9.7 -4.6 -10.6 -6.1 -11.6 -7.9 -12.4 -10.1 -13.4 -12.6 -14.3 -15.4 -15 -18.6 -15.6 -22.1 -16 -26 -16 -29.8 -15.5 -33.8 -14.6 -37.3 -13 -40.2 -10.6 -42.2 -7.4 -42.7 -3.6 -41.6 1 -38.7 5.9 -34 11.1 -27.8 16.2 -20.5 20.8 -12.8 24.8 -5.4 27.9 1.2 29.9 6.8 30.9 10.8 31 13.5 30.2 14.8 28.8 15.1 26.9 14.5 24.5 13.3 21.9 11.8 19.3 10.2 16.5 8.6 13.9 7.1 11.4 5.9 8.9 4.9 6.6 4.2 4.5 3.9 2.5 3.7 0.8 3.8 -0.8 4 -2.2 4.4 -3.3 5 -4.3 5.4 -5.1 6.1 -5.7 6.6 -6.1 7.1 -6.4 7.6 -6.5 8 -6.6 8.3 -6.4 8.5 -6.3 8.7 -6 8.9 -5.8 8.9 -5.4 8.9 -5.1 8.9 -4.7 8.9 -4.3 8.7 -4 8.7 -3.6 8.5 -3.3 8.4 -3 8.2 -2.7 8 -2.4 7.9 -2.2 7.8 -1.9 7.5 -1.8 7.5 -1.5 7.2 -1.5 7.1 -1.3 6.9 -1.2 6.8 -1.1 6.6 -1 6.5 -1 6.3 -0.9 6.2 -0.9 6.1 -0.9 5.9 -0.9 5.7 -1 5.7 -0.9 5.5 -1 5.3 -1 5.3 -1.2 5.1 -1.1 4.9 -1.3 4.8 -1.4 4.7 -1.5 4.6 -1.6 4.4 -1.8 4.2 -1.9 4.1 -2.2 3.9 -2.3 3.8 -2.5 3.5 -2.8 3.4 -3.1 3.1 -3.4 2.9 -3.8 2.5 -4.1 2.3 -4.5 1.8 -5 1.5 -5.4 0.9 -6 0.4 -6.6 -0.3 -7.2 -1.1 -7.9 -2.1 -8.6 -3.1 -9.4 -4.5 -10.2 -5.9 -11 -7.7 -11.8 -9.7 -12.6 -12 -13.4 -14.6 -14 -17.5 -14.4 -20.7 -14.7 -24.1 -14.6 -27.5 -14.2 -30.8 -13.2 -34 -11.6 -36.4 -9.5 -38 -6.7 -38.4 -3.2 -37.5 0.7 -35 5.2 -31 9.7 -25.6 14.2 -19.5 18.3 -12.8 22 -6.2 24.8 -0.1 26.9 5 28 9.1 28.3 11.9 27.8 13.5 26.8 14.3 25.2 14.2 23.2 13.5 21.2 12.4 18.8 11.2 16.5 9.8 14.2 8.5 12 7.3 9.8 6.3 7.8 5.4 5.9 4.9 4.2 4.4 2.6 4.3 1.2 4.2 0 4.2 -1.1 4.5 -2.1 4.7 -2.8 5.1 -3.5 5.5 -4 5.8 -4.4 6.2 -4.6 6.5 -4.8 6.9 -4.9 7.1 -4.8 7.4 -4.8 7.5 -4.6 7.6 -4.5 7.8 -4.2 7.8 -3.9 7.9 -3.7 7.8 -3.4 7.8 -3.2 7.8 -2.8 7.7 -2.6 7.6 -2.3 7.5 -2 7.4 -1.8 7.3 -1.5 7.2 -1.3 7.1 -1.1 6.9 -0.9 6.8 -0.7 6.7 -0.5 6.5 -0.3 6.4 -0.2 6.2 0 6.1 0.1 6 0.3 5.9 0.5 5.7 0.6 5.5 0.7 5.5 0.9 5.2 1 5.2 1.2 4.9 1.4 4.8 1.5 4.7 1.8 4.5 1.9 4.3 2.1 4.1 2.4 3.9 2.6 3.7 2.9 3.5 3.2 3.2 3.6 2.9 3.8 2.6 4.3 2.2 4.6 1.8 5.1 1.2 5.6 0.8 6.1 0.1 6.7 -0.6 7.2 -1.5 8 -2.5 8.5 -3.7 9.3 -5 10 -6.5 10.6 -8.2 11.4 -10.3 12 -12.4 12.5 -15 13 -17.6 13.1 -20.4 13.2 -23.4 12.8 -26.3 12.2 -28.9 10.9 -31.2 9.3 -32.9 7.1 -33.7 4.3 -33.4 1.2 -32 -2.5 -29.2 -6.3 -25.4 -10.3 -20.7 -13.9 -15.2 -17.4 -9.5 -20.3 -4 -22.6 1 -24.1 5.3 -25 8.7 -25.1 11 -24.7 12.6 -23.8 13.4 -22.4 13.4 -20.8 13 -19 12.3 -17 11.3 -15.1 10.3 -13.2 9.2 -11.4 8.3 -9.5 7.3 -7.9 6.5 -6.4 5.8 -5 5.4 -3.6 5 -2.6 4.7 -1.5 4.6 -0.6 4.5 0.2 4.5 0.9 4.7 1.4 4.7 1.9 4.9 2.3 5.2 2.5 5.2 2.8 5.5 2.8 5.7 3 5.8 2.9 5.9 3 6 2.8 6.2 2.8 6.2 2.5 6.3 2.5 6.3 2.2 6.3 2 6.3 1.9 6.3 1.6 6.2 1.3 6.1 1.2 6.1 0.9 6 0.7 5.9 0.4 5.7 0.2 5.7 0 5.5 -0.3 5.3 -0.5 5.2 -0.7 5.1 -1 4.8 -1.2 4.6 -1.5 4.5 -1.7 4.2 -2 3.9 -2.2 3.7 -2.5 3.4 -2.8 3 -3.2 2.7 -3.4 2.3 -3.7 1.9 -4.1 1.4 -4.5 0.9 -4.8 0.3 -5.1 -0.4 -5.6 -1 -5.9 -1.9 -6.3 -2.7 -6.7 -3.7 -7.1 -4.7 -7.4 -5.9 -7.7 -7.2 -7.9 -8.4 -8.1 -9.8 -8.2 -11.3 -8.1 -12.7 -8 -14.1 -7.6 -15.5 -7.2 -16.7 -6.3 -17.7 -5.5 -18.5 -4.2 -18.7 -2.9 -18.8 -1.3 -18.2 0.5 -17.2 2.3 -15.8 4.3 -13.8 6.3 -11.6 8.1 -8.9 9.9 -6.3 11.4 -3.5 12.7 -0.8 13.7 1.6 14.4 3.9 14.8 5.7 14.9 7.3 14.7 8.6 14.4 9.4 13.8 10 13.1 10.4 12.3 10.5 11.4 10.5 10.6 10.3 9.6 10.1 8.7 9.7 7.8 9.5 7.1 9 6.3 8.7 5.7 8.3 5 7.9 4.5 7.6 4 7.2 3.6 6.9 3.2 6.6 3 6.2 2.8 6 2.5 5.7 2.5 5.4 2.3 5.1 2.3 4.8 2.3 4.6 2.3 4.3 2.4 4 2.4 3.6 2.5 3.4 2.7 3 2.8 2.7 3 2.4 3.1 1.9 3.4 1.5 3.5 1.1 3.7 0.6 4 0 4.2 -0.4 4.4 -1.1 4.6 -1.7 4.8 -2.4 5 -3.1 5.2 -3.8 5.3 -4.7 5.4 -5.4 5.5 -6.3 5.4 -7.1 5.4 -7.9 5.2 -8.8 5.1 -9.5 4.6 -10.2 4.3 -10.7 3.7 -11.1 3 -11.5 2.4 -11.5 1.4 -11.3 0.5 -11 -0.5 -10.5 -1.6 -9.5 -2.7 -8.6 -3.8 -7.4 -4.9 -5.9 -5.9 -4.6 -6.8 -2.9 -7.6 -1.5 -8.3 0.1 -8.8 1.5 -9.2 2.8 -9.5 4.1 -9.5 5.1 -9.5 6 -9.4 6.7 -9 7.4 -8.8 7.8 -8.3 8.1 -7.8 8.4 -7.4 8.6 -6.8 8.6 -6.3 8.7 -5.8 8.6 -5.3 8.5 -4.8 8.4 -4.3 8.3 -3.9 8.2 -3.5 8 -3.2 7.8 -2.9 7.6 -2.6 7.5 -2.3 7.3 -2.1 7.2 -1.9 6.9 -1.8 6.8 -1.7 6.7 -1.5 6.5 -1.5 6.3 -1.4 6.1 -1.5 6 -1.4 5.9 -1.4 5.6 -1.4 5.6 -1.5 5.3 -1.6 5.2 -1.6 5.1 -1.8 4.9 -1.9 4.7 -2 4.5 -2.2 4.4 -2.4 4.1 -2.5 3.9 -2.9 3.7 -3 3.5 -3.4 3.1 -3.6 2.9 -4.1 2.5 -4.3 2.1 -4.8 1.7 -5.3 1.2 -5.7 0.6 -6.2 -0.1 -6.8 -0.8 -7.5 -1.7 -8 -2.8 -8.7 -3.9 -9.4 -5.3 -10 -6.9 -10.8 -8.7 -11.4 -10.7 -12 -12.9 -12.5 -15.5 -12.9 -18.1 -13 -20.9 -12.9 -23.9 -12.5 -26.5 -11.7 -29.2 -10.4 -31.2 -8.6 -32.6 -6.3 -33.1 -3.5 -32.6 -0.3 -30.9 3.4 -27.9 7.2 -24 10.9 -19 14.6 -13.7 17.8 -8.1 20.6 -2.8 22.6 2 24 6 24.7 9.1 24.7 11.4 24.2 12.6 23.2 13.3 21.7 13.3 20.2 12.8 18.4 12.1 16.4 11.2 14.6 10.1 12.7 9.1 11 8.2 9.2 7.2 7.6 6.5 6.1 5.9 4.8 5.4 3.6 5 2.4 4.8 1.5 4.6 0.6 4.5 -0.1 4.6 -0.7 4.6 -1.3 4.7 -1.7 4.9 -2.1 5 -2.3 5.2 -2.6 5.4 -2.6 5.5 -2.7 5.6 -2.8 5.8 -2.7 5.9 -2.6 5.9 -2.5 6.1 -2.4 6 -2.2 6.1 -2 6.1 -1.8 6.1 -1.7 6 -1.4 6 -1.2 5.9 -0.9 5.9 -0.8 5.7 -0.5 5.6 -0.3 5.6 0 5.4 0.2 5.2 0.4 5.1 0.7 4.9 0.9 4.8 1.2 4.5 1.4 4.3 1.6 4.1 1.9 3.9 2.2 3.5 2.5 3.3 2.7 2.9 3.1 2.6 3.3 2.2 3.7 1.8 4 1.3 4.3 0.8 4.7 0.2 5 -0.5 5.4 -1.1 5.7 -2 6.1 -2.7 6.5 -3.7 6.7 -4.7 7.1 -5.8 7.3 -7 7.6 -8.2 7.6 -9.6 7.7 -10.8 7.6 -12.2 7.5 -13.4 7 -14.7 6.6 -15.7 5.8 -16.6 4.9 -17.2 3.8 -17.5 2.5 -17.3 1 -16.9 -0.6 -15.9 -2.4 -14.5 -4.2 -12.7 -5.9 -10.6 -7.7 -8.3 -9.2 -5.8 -10.7 -3.2 -11.8 -0.8 -12.8 1.4 -13.4 3.6 -13.8 5.3 -14 6.8 -13.8 8 -13.5 9 -13 9.5 -12.4 10 -11.7 10.1 -10.9 10.2 -10 10.2 -9.3 9.9 -8.4 9.8 -7.6 9.4 -6.8 9.1 -6.2 8.8 -5.5 8.5 -5 8.1 -4.5 7.8 -4 7.5 -3.6 7.1 -3.3 6.9 -3 6.6 -2.8 6.3 -2.6 6 -2.5 5.7 -2.5 5.4 -2.4 5.2 -2.4 4.9 -2.4 4.7 -2.5 4.3 -2.5 4 -2.7 3.8 -2.8 3.4 -3 3 -3.1 2.7 -3.4 2.2 -3.5 1.9 -3.8 1.4 -4.1 0.9 -4.3 0.3 -4.5 -0.2 -4.8 -0.9 -5.1 -1.6 -5.4 -2.3 -5.6 -3.1 -5.8 -3.9 -6 -4.9 -6.2 -5.8 -6.3 -6.8 -6.4 -7.8 -6.4 -8.8 -6.3 -9.9 -6.1 -10.8 -5.7 -11.8 -5.4 -12.5 -4.7 -13.2 -4.1 -13.7 -3.2 -13.8 -2.2 -13.9 -1 -13.5 0.2 -12.8 1.4 -11.9 2.9 -10.7 4.2 -9.2 5.6 -7.5 6.8 -5.7 8 -3.8 9 -1.9 9.8 0 10.5 1.8 11 3.3 11.3 4.8 11.3 5.9 11.2 7 11 7.7 10.7 8.4 10.1 8.8 9.7 9.1 9 9.3 8.4 9.3 7.8 9.3 7.1 9.2 6.5 9.1 6 8.9 5.3 8.7 4.9 8.6 4.4 8.2 3.9 8.1 3.6 7.8 3.3 7.6 2.9 7.4 2.8 7.1 2.5 6.9 2.4 6.7 2.2 6.5 2.2 6.3 2.2 6.1 2.1 5.8 2.1 5.6 2.2 5.4 2.2 5.2 2.4 4.9 2.4 4.7 2.6 4.4 2.8 4.2 3 3.8 3.2 3.6 3.4 3.2 3.7 2.8 4 2.4 4.3 2 4.7 1.5 5 0.9 5.4 0.3 5.9 -0.5 6.2 -1.2 6.7 -2.1 7.2 -3.1 7.6 -4.1 8 -5.4 8.5 -6.8 8.9 -8.2 9.2 -9.8 9.4 -11.5 9.6 -13.3 9.6 -15.1 9.4 -16.9 9.1 -18.6 8.4 -20.2 7.5 -21.5 6.4 -22.3 4.9 -22.8 3.2 -22.7 1.1 -21.9 -1.1 -20.4 -3.6 -18.4 -5.9 -15.7 -8.4 -12.6 -10.7 -9.3 -12.8 -5.7 -14.5 -2.4 -15.9 0.8 -16.9 3.7 -17.5 6 -17.8 8 -17.6 9.4 -17.1 10.5 -16.4 11 -15.6 11.4 -14.5 11.3 -13.4 11.2 -12.3 10.8 -11.1 10.3 -9.9 9.9 -8.9 9.3 -7.9 8.8 -6.9 8.3 -6.1 7.8 -5.2 7.4 -4.6 6.9 -4 6.5 -3.5 6.1 -3 5.8 -2.6 5.5 -2.3 5.3 -2 4.9 -1.8 4.7 -1.7 4.5 -1.5 4.3 -1.5 4 -1.4 3.8 -1.4 3.7 -1.4 3.3 -1.5 3.2 -1.5 2.9 -1.6 2.7 -1.7 2.5 -1.8 2.2 -1.9 1.9 -2 1.7 -2.2 1.3 -2.3 1 -2.5 0.7 -2.6 0.3 -2.7 0 -2.9 -0.5 -3 -0.8 -3.2 -1.3 -3.2 -1.8 -3.3 -2.2 -3.4 -2.6 -3.5 -3.2 -3.5 -3.6 -3.4 -4.1 -3.4 -4.6 -3.4 -5.1 -3.2 -5.4 -3 -5.9 -2.8 -6.1 -2.5 -6.5 -2.2 -6.6 -1.8 -6.8 -1.3 -6.7 -0.9 -6.7 -0.3 -6.5 0.2 -6.2 0.8 -5.8 1.4 -5.3 2 -4.7 2.6 -4 3.2 -3.3 3.7 -2.4 4.2 -1.7 4.6 -0.7 5.1 0.1 5.3 0.9 5.6 1.7 5.8 2.5 5.8 3.2 5.9 3.8 5.9 4.4 5.7 4.9 5.6 5.3 5.4 5.7 5.1 6 4.9 6.2 4.6 6.4 4.3 6.6 3.9 6.7 3.6 6.7 3.3 6.7 3 6.8 2.6 6.7 2.3 6.7 2 6.6 1.7 6.6 1.4 6.5 1.1 6.3 0.8 6.3 0.6 6.1 0.4 6 0.1 5.9 -0.2 5.7 -0.4 5.5 -0.6 5.5 -0.8 5.2 -1.1 5.1 -1.3 4.8 -1.5 4.7 -1.8 4.5 -2.1 4.2 -2.3 4 -2.6 3.8 -2.9 3.4 -3.1 3.1 -3.5 2.8 -3.9 2.4 -4.2 1.9 -4.6 1.5 -5 0.9 -5.5 0.2 -5.9 -0.4 -6.4 -1.2 -6.8 -2.1 -7.4 -3.1 -7.9 -4.3 -8.4 -5.5 -8.8 -7 -9.3 -8.5 -9.7 -10.1 -10 -12.1 -10.2 -13.9 -10.3 -15.9 -10.1 -18 -9.8 -19.8 -9.1 -21.7 -8.3 -23.1 -7 -24.2 -5.5 -24.7 -3.5 -24.6 -1.4 -23.8 1.1 -22.2 3.8 -20 6.4 -17 9.1 -13.5 11.6 -9.8 13.9 -6 15.8 -2.2 17.3 1.3 18.3 4.2 18.9 6.8 19.1 8.8 18.8 10.2 18.3 11.1 17.5 11.6 16.4 11.7 15.2 11.7 14 11.2 12.7 10.8 11.5 10.3 10.2 9.6 8.9 9.1 7.9 8.4 6.9 7.9 5.9 7.3 5.1 6.9 4.3 6.4 3.7 6 3.1 5.7 2.6 5.4 2.1 5.1 1.8 4.9 1.5 4.7 1.3 4.5 1.1 4.3 0.9 4.1 0.8 4 0.8 3.8 0.7 3.7 0.7 3.5 0.8 3.4 0.8 3.2 0.8 3 0.9 2.9 1.1 2.7 1.1 2.5 1.3 2.3 1.3 2.1 1.5 1.8 1.7 1.6 1.8 1.4 1.9 1.1 2.1 0.8 2.2 0.4 2.4 0.2 2.5 -0.2 2.7 -0.6 2.7 -1 2.9 -1.3 3 -1.8 3 -2.1 3.1 -2.6 3.2 -3.1 3.1 -3.4 3.1 -3.9 3.1 -4.3 3 -4.7 2.8 -5.1 2.7 -5.4 2.4 -5.6 2.2 -5.9 1.9 -6 1.5 -6.1 1.1 -6.1 0.6 -6 0.2 -5.7 -0.3 -5.6 -0.9 -5.1 -1.4 -4.6 -1.9 -4.2 -2.4 -3.5 -3 -2.8 -3.4 -2.1 -3.9 -1.3 -4.2 -0.6 -4.6 0.2 -4.8 0.9 -5.1 1.6 -5.2 2.3 -5.3 3 -5.4 3.5 -5.3 4.1 -5.2 4.5 -5.1 4.9 -4.9 5.3 -4.7 5.6 -4.4 5.8 -4.2 6 -3.9 6.1 -3.6 6.3 -3.3 6.3 -3 6.4 -2.7 6.3 -2.3 6.4 -2.1 6.3 -1.7 6.3 -1.5 6.2 -1.2 6.1 -0.9 6 -0.6 5.9 -0.4 5.8 -0.1 5.6 0.2 5.5 0.4 5.4 0.6 5.2 1 5 1.1 4.8 1.4 4.6 1.7 4.4 1.9 4.2 2.2 3.9 2.5 3.6 2.8 3.3 3.1 3 3.4 2.6 3.7 2.2 4.1 1.8 4.5 1.3 4.8 0.7 5.3 0.1 5.6 -0.7 6.1 -1.4 6.5 -2.3 7 -3.2 7.4 -4.3 7.8 -5.6 8.2 -6.8 8.6 -8.3 8.8 -9.7 9 -11.4 9.1 -13.1 9.1 -14.8 8.9 -16.4 8.4 -17.9 7.8 -19.4 6.9 -20.5 5.8 -21.1 4.3 -21.5 2.6 -21.3 0.6 -20.3 -1.4 -19 -3.8 -16.9 -5.9 -14.4 -8.3 -11.6 -10.3 -8.3 -12.3 -5.2 -13.8 -2 -15.2 1 -16 3.6 -16.6 5.9 -16.8 7.7 -16.7 9 -16.2 10.1 -15.6 10.7 -14.8 11 -13.8 11.1 -12.8 11 -11.8 10.7 -10.6 10.3 -9.7 9.9 -8.6 9.4 -7.6 8.9 -6.8 8.5 -6 8 -5.3 7.6 -4.6 7.2 -4.1 6.8 -3.5 6.4 -3.2 6.1 -2.8 5.7 -2.5 5.5 -2.3 5.2 -2.1 4.9 -2 4.7 -1.8 4.4 -1.9 4.1 -1.8 3.9 -1.8 3.7 -1.8 3.4 -1.9 3.1 -2 2.9 -2 2.6 -2.2 2.2 -2.3 2 -2.5 1.7 -2.6 1.2 -2.7 1 -2.9 0.5 -3.1 0.1 -3.2 -0.3 -3.4 -0.8 -3.5 -1.2 -3.6 -1.8 -3.8 -2.2 -3.8 -2.9 -4 -3.3 -3.9 -4 -4 -4.5 -4 -5.1 -3.9 -5.6 -3.8 -6.1 -3.5 -6.7 -3.4 -7 -3 -7.4 -2.7 -7.7 -2.3 -7.9 -1.7 -7.9 -1.2 -7.9 -0.6 -7.7 0.1 -7.4 0.7 -6.9 1.5 -6.4 2.2 -5.6 2.9 -4.8 3.6 -4 4.3 -2.9 4.8 -2 5.4 -0.9 5.9 0 6.2 1.1 6.5 2 6.7 2.8 6.7 3.7 6.8 4.3 6.8 5 6.6 5.6 6.4 6 6.2 6.3 5.9 6.7 5.5 6.9 5.2 7.1 4.9 7.2 4.4 7.3 4.1 7.4 3.7 7.3 3.4 7.3 3 7.3 2.6 7.1 2.4 7.2 2 7 1.7 6.9 1.5 6.8 1.2 6.7 0.9 6.6 0.8 6.4 0.5 6.3 0.3 6.2 0 6 0 5.9 -0.3 5.8 -0.5 5.6 -0.6 5.5 -0.9 5.3 -1 5.2 -1.1 5 -1.4 4.9 -1.6 4.6 -1.8 4.5 -2 4.3 -2.2 4.1 -2.5 3.9 -2.8 3.6 -3 3.4 -3.4 3.1 -3.6 2.7 -4.1 2.4 -4.4 2 -4.9 1.5 -5.3 1 -5.8 0.4 -6.4 -0.4 -6.9 -1.1 -7.5 -2.1 -8.1 -3.1 -8.7 -4.4 -9.4 -5.8 -10.1 -7.4 -10.6 -9.2 -11.3 -11.3 -11.8 -13.5 -12.2 -15.9 -12.5 -18.5 -12.4 -21.2 -12.3 -23.9 -11.7 -26.4 -10.6 -28.6 -9.3 -30.3 -7.4 -31.4 -5 -31.4 -2.2 -30.5 1 -28.5 4.5 -25.3 8.1 -21.3 11.6 -16.5 14.9 -11.4 17.9 -6.2 20.3 -1.4 22 3 23.1 6.6 23.7 9.4 23.5 11.3 23 12.5 21.9 13 20.6 13 19 12.5 17.3 11.9 15.5 11 13.8 10.1 12 9.2 10.4 8.2 8.8 7.5 7.4 6.7 6 6.1 4.8 5.6 3.6 5.3 2.7 4.9 1.8 4.8 1 4.6 0.3 4.6 -0.2 4.6 -0.7 4.6 -1.1 4.7 -1.4 4.7 -1.7 4.9 -1.8 5 -2 5 -2 5.2 -2.1 5.2 -2 5.4 -2 5.3 -1.8 5.4 -1.8 5.5 -1.7 5.4 -1.4 5.4 -1.3 5.4 -1.2 5.4 -0.9 5.3 -0.7 5.2 -0.5 5.1 -0.4 5 0 4.9 0.1 4.8 0.4 4.6 0.6 4.5 0.8 4.2 1.1 4.1 1.3 3.9 1.6 3.6 1.8 3.4 2.1 3.1 2.4 2.7 2.6 2.5 2.9 2.1 3.2 1.7 3.4 1.2 3.8 0.8 4.1 0.2 4.3 -0.3 4.7 -0.9 4.9 -1.6 5.3 -2.3 5.5 -3.1 5.7 -4 6 -4.9 6.1 -5.8 6.3 -6.7 6.4 -7.9 6.4 -8.8 6.3 -9.9 6.1 -10.8 5.8 -11.8 5.3 -12.5 4.9 -13.3 4.1 -13.7 3.2 -13.9 2.3 -13.9 1.1 -13.6 -0.1 -13 -1.4 -12 -2.8 -10.8 -4.2 -9.4 -5.5 -7.6 -6.8 -5.8 -7.9 -3.9 -9 -2 -9.9 -0.1 -10.5 1.7 -11 3.2 -11.3 4.7 -11.4 6 -11.3 6.9 -11 7.8 -10.7 8.3 -10.3 8.8 -9.7 9.1 -9.1 9.3 -8.4 9.4 -7.8 9.3 -7.2 9.2 -6.6 9.1 -6 9 -5.4 8.7 -4.9 8.5 -4.4 8.3 -4 8.1 -3.6 7.8 -3.2 7.6 -3 7.4 -2.8 7.1 -2.5 6.9 -2.4 6.7 -2.3 6.5 -2.2 6.3 -2.2 6.1 -2.1 5.8 -2.1 5.6 -2.2 5.4 -2.3 5.1 -2.3 5 -2.5 4.6 -2.6 4.5 -2.8 4.1 -3 3.8 -3.2 3.6 -3.4 3.1 -3.8 2.8 -4 2.4 -4.3 2 -4.7 1.4 -5 0.8 -5.4 0.3 -5.9 -0.5 -6.2 -1.3 -6.8 -2.1 -7.1 -3.2 -7.6 -4.2 -8.1 -5.5 -8.4 -6.8 -8.9 -8.3 -9.1 -9.9 -9.4 -11.5 -9.5 -13.4 -9.5 -15.1 -9.4 -16.9 -8.9 -18.6 -8.3 -20.1 -7.4 -21.4 -6.2 -22.2 -4.8 -22.6 -3 -22.4 -0.9 -21.6 1.2 -20.2 3.7 -18 6.1 -15.4 8.4 -12.3 10.8 -9 12.7 -5.5 14.5 -2.2 15.9 1 16.8 3.7 17.4 6.2 17.6 8 17.4 9.4 17 10.4 16.3 11 15.4 11.3 14.3 11.3 13.3 11.1 12.1 10.8 11 10.3 9.9 9.9 8.8 9.3 7.8 8.8 6.9 8.3 6 7.8 5.2 7.4 4.6 6.9 4 6.6 3.4 6.1 3 5.9 2.7 5.5 2.3 5.3 2 4.9 1.9 4.8 1.7 4.5 1.6 4.2 1.5 4.1 1.5 3.8 1.4 3.6 1.5 3.4 1.6 3.1 1.6 2.9 1.6 2.7 1.8 2.4 1.9 2.1 2 1.9 2.1 1.5 2.3 1.3 2.4 0.9 2.6 0.6 2.7 0.2 2.8 -0.2 3 -0.6 3.1 -1 3.2 -1.5 3.4 -1.9 3.4 -2.4 3.5 -2.9 3.5 -3.3 3.5 -3.9 3.5 -4.4 3.5 -4.8 3.4 -5.3 3.2 -5.7 3 -6.1 2.7 -6.4 2.5 -6.6 2.1 -6.8 1.6 -7 1.3 -6.9 0.7 -6.7 0.1 -6.6 -0.4 -6.2 -1.1 -5.7 -1.6 -5.2 -2.3 -4.6 -2.9 -3.8 -3.4 -3 -4 -2.2 -4.5 -1.3 -4.9 -0.4 -5.2 0.4 -5.6 1.3 -5.8 2 -5.9 2.8 -6 3.5 -6 4.2 -5.9 4.6 -5.8 5.2 -5.6 5.5 -5.4 5.9 -5.2 6.2 -4.8 6.4 -4.5 6.6 -4.3 6.7 -3.8 6.7 -3.6 6.9 -3.2 6.8 -2.9 6.8 -2.5 6.8 -2.2 6.8 -1.9 6.6 -1.7 6.6 -1.3 6.5 -1 6.4 -0.8 6.2 -0.6 6.2 -0.3 6 0 5.9 0.2 5.7 0.4 5.6 0.6 5.4 0.9 5.2 1.1 5.1 1.3 4.9 1.6 4.7 1.8 4.5 2 4.3 2.3 4 2.6 3.8 2.9 3.4 3.1 3.2 3.6 2.8 3.8 2.5 4.2 2 4.6 1.5 5 1 5.5 0.3 5.9 -0.3 6.4 -1.1 6.9 -2 7.4 -3.1 7.9 -4.1 8.5 -5.4 8.9 -6.9 9.4 -8.4 9.9 -10.1 10.2 -12 10.4 -14 10.5 -16 10.4 -18.1 10.1 -20.1 9.5 -22 8.7 -23.6 7.4 -24.7 5.9 -25.4 3.9 -25.4 1.7 -24.7 -0.8 -23.1 -3.6 -20.9 -6.3 -17.8 -9.1 -14.3 -11.7 -10.4 -14.1 -6.4 -16.1 -2.6 -17.6 1.1 -18.8 4.2 -19.4 6.8 -19.6 8.9 -19.3 10.3 -18.8 11.3 -18 11.8 -16.8 11.9 -15.7 11.7 -14.3 11.4 -13 10.8 -11.7 10.2 -10.4 9.6 -9.1 9 -8 8.3 -6.9 7.8 -6 7.2 -5 6.7 -4.3 6.3 -3.6 5.9 -3 5.6 -2.4 5.3 -2 5 -1.6 4.8 -1.3 4.6 -1.1 4.4 -0.8 4.3 -0.7 4.2 -0.6 4 -0.4 3.9 -0.5 3.7 -0.4 3.7 -0.5 3.5 -0.5 3.4 -0.5 3.2 -0.6 3.1 -0.8 3 -0.8 2.8 -0.9 2.6 -1.1 2.5 -1.2 2.2 -1.3 2.1 -1.5 1.8 -1.7 1.5 -1.7 1.3 -2 1 -2.1 0.7 -2.3 0.5 -2.4 0 -2.5 -0.3 -2.7 -0.6 -2.8 -1 -2.9 -1.5 -3.1 -1.8 -3.1 -2.3 -3.1 -2.8 -3.2 -3.1 -3.2 -3.6 -3.2 -4.1 -3.1 -4.4 -3 -4.9 -2.9 -5.2 -2.6 -5.5 -2.5 -5.8 -2.1 -6 -1.9 -6.2 -1.4 -6.2 -1.1 -6.2 -0.6 -6 -0.1 -5.9 0.5 -5.6 0.9 -5.1 1.5 -4.7 2.1 -4.1 2.6 -3.4 3.1 -2.7 3.5 -2 4.1 -1.3 4.4 -0.4 4.7 0.3 5 1.1 5.2 1.8 5.3 2.5 5.5 3.1 5.4 3.7 5.4 4.3 5.3 4.7 5.1 5 4.9 5.5 4.8 5.7 4.4 5.9 4.2 6.1 3.9 6.2 3.6 6.4 3.3 6.4 3 6.4 2.6 6.5 2.4 6.4 2 6.4 1.7 6.3 1.5 6.3 1.1 6.1 0.9 6.1 0.6 5.9 0.4 5.8 0 5.7 -0.1 5.5 -0.4 5.4 -0.7 5.3 -0.9 5 -1.2 4.9 -1.4 4.6 -1.6 4.4 -2 4.3 -2.2 3.9 -2.4 3.7 -2.8 3.4 -3.1 3 -3.4 2.7 -3.7 2.3 -4.1 1.9 -4.4 1.3 -4.9 0.8 -5.2 0.2 -5.7 -0.5 -6.1 -1.3 -6.5 -2.2 -7 -3.1 -7.4 -4.2 -7.9 -5.4 -8.3 -6.7 -8.6 -8.1 -9 -9.7 -9.2 -11.4 -9.3 -13 -9.3 -14.8 -9.1 -16.5 -8.7 -18.2 -8.1 -19.6 -7.3 -20.8 -6.1 -21.6 -4.6 -22.1 -3 -21.8 -1 -21.1 1.2 -19.7 3.5 -17.7 5.8 -15.1 8.2 -12.2 10.3 -9 12.3 -5.6 14.1 -2.3 15.4 0.7 16.3 3.4 17 5.8 17.1 7.7 17.1 9.2 16.7 10.1 16 10.8 15.1 11.2 14.2 11.2 13.2 11 12 10.8 10.9 10.4 9.9 9.9 8.7 9.4 7.9 8.9 6.9 8.5 6.1 7.9 5.3 7.5 4.6 7.1 4.1 6.7 3.6 6.4 3.1 5.9 2.8 5.7 2.4 5.4 2.2 5.1 2 4.9 1.9 4.6 1.7 4.3 1.7 4.1 1.6 3.9 1.7 3.6 1.6 3.4 1.8 3.2 1.7 2.9 1.9 2.6 2 2.4 2.1 2 2.2 1.8 2.4 1.4 2.5 1.1 2.6 0.8 2.8 0.3 3 0 3.1 -0.4 3.2 -0.9 3.4 -1.4 3.5 -1.9 3.5 -2.3 3.7 -2.9 3.7 -3.3 3.8 -3.9 3.7 -4.5 3.7 -4.9 3.7 -5.5 3.4 -5.9 3.3 -6.4 3 -6.7 2.8 -7 2.4 -7.2 1.9 -7.4 1.5 -7.4 0.9 -7.3 0.3 -7.1 -0.2 -6.8 -0.9 -6.3 -1.6 -5.7 -2.3 -5 -2.9 -4.3 -3.5 -3.5 -4.1 -2.5 -4.7 -1.6 -5.1 -0.7 -5.5 0.3 -5.9 1.1 -6.1 2.1 -6.3 2.8 -6.4 3.6 -6.3 4.2 -6.3 4.8 -6.2 5.4 -6 5.7 -5.8 6.1 -5.5 6.5 -5.2 6.6 -4.8 6.8 -4.5 7 -4.2 7 -3.8 7.1 -3.4 7 -3.1 7.1 -2.8 7 -2.4 7 -2.2 6.9 -1.8 6.8 -1.5 6.7 -1.2 6.6 -1 6.5 -0.8 6.3 -0.5 6.2 -0.2 6.1 -0.1 6 0.2 5.8 0.4 5.7 0.6 5.5 0.8 5.4 1 5.2 1.2 5 1.4 4.9 1.7 4.6 1.8 4.5 2.2 4.2 2.3 4 2.7 3.8 2.9 3.5 3.2 3.2 3.6 2.8 3.9 2.5 4.3 2.1 4.7 1.6 5.1 1 5.6 0.5 6 -0.3 6.6 -1 7.1 -1.9 7.7 -2.9 8.2 -4.2 8.9 -5.4 9.3 -6.9 10 -8.6 10.4 -10.4 10.9 -12.4 11.2 -14.6 11.4 -16.9 11.3 -19.2 11.1 -21.6 10.6 -23.7 9.7 -25.6 8.4 -27 6.7 -28 4.7 -28.1 2.2 -27.3 -0.5 -25.8 -3.6 -23.1 -6.7 -19.9 -9.8 -15.8 -12.8 -11.4 -15.4 -7 -17.7 -2.6 -19.4 1.5 -20.6 4.8 -21.3 7.7 -21.3 9.8 -21.1 11.2 -20.3 12 -19.3 12.4 -18 12.4 -16.6 11.9 -15.2 11.4 -13.6 10.7 -12.1 10 -10.6 9.2 -9.3 8.4 -7.9 7.7 -6.8 7.2 -5.6 6.5 -4.7 6.1 -3.8 5.7 -2.9 5.4 -2.4 5.1 -1.7 4.8 -1.1 4.7 -0.8 4.6 -0.4 4.5 -0.1 4.4 0.2 4.4 0.3 4.3 0.5 4.3 0.6 4.3 0.6 4.2 0.7 4.3 0.6 4.2 0.6 4.1 0.5 4.1 0.4 4.1 0.4 4 0.2 3.9 0.1 3.8 -0.1 3.8 -0.2 3.6 -0.4 3.4 -0.6 3.4 -0.8 3.1 -0.9 3 -1.1 2.8 -1.4 2.6 -1.5 2.3 -1.7 2 -2 1.8 -2.1 1.5 -2.4 1.2 -2.5 0.8 -2.8 0.4 -3 0.1 -3.1 -0.4 -3.4 -0.9 -3.5 -1.4 -3.7 -1.8 -3.8 -2.4 -3.9 -3 -4.1 -3.5 -4.1 -4.1 -4.1 -4.7 -4.1 -5.4 -4.1 -5.8 -3.9 -6.5 -3.8 -6.9 -3.5 -7.4 -3.2 -7.8 -2.8 -8.1 -2.4 -8.3 -1.9 -8.4 -1.2 -8.3 -0.7 -8.1 0.1 -7.8 0.8 -7.3 1.5 -6.7 2.4 -5.9 3 -5.1 3.8 -4.1 4.5 -3.1 5.2 -2 5.7 -1 6.1 0.2 6.6 1.1 6.8 2.2 7 3 7.2 3.9 7.1 4.6 7.1 5.2 6.9 5.8 6.7 6.3 6.4 6.6 6.1 7 5.7 7.1 5.4 7.3 5 7.5 4.7 7.5 4.2 7.5 3.8 7.5 3.5 7.5 3.1 7.4 2.8 7.3 2.4 7.3 2.1 7.1 1.8 7 1.6 7 1.3 6.8 1.1 6.6 0.8 6.6 0.6 6.4 0.5 6.3 0.2 6.1 0.1 6.1 -0.1 5.8 -0.2 5.8 -0.4 5.6 -0.5 5.5 -0.7 5.3 -0.9 5.2 -1 5.1 -1.2 4.9 -1.4 4.7 -1.5 4.6 -1.7 4.4 -1.9 4.3 -2.2 4.1 -2.3 3.8 -2.7 3.7 -2.9 3.4 -3.2 3.1 -3.5 2.9 -3.9 2.5 -4.2 2.2 -4.7 1.8 -5.1 1.2 -5.7 0.7 -6.1 0.1 -6.7 -0.6 -7.4 -1.6 -7.9 -2.5 -8.7 -3.7 -9.4 -5 -10.1 -6.6 -10.8 -8.4 -11.6 -10.4 -12.1 -12.7 -12.8 -15.2 -13.2 -17.9 -13.4 -20.9 -13.5 -23.8 -13.1 -26.9 -12.4 -29.6 -11.2 -32 -9.5 -33.7 -7.2 -34.6 -4.4 -34.2 -1.1 -32.8 2.6 -29.9 6.6 -25.9 10.6 -20.9 14.5 -15.2 17.9 -9.4 21 -3.8 23.2 1.4 24.8 5.7 25.5 9.1 25.7 11.4 25.2 12.9 24.2 13.6 22.7 13.5 21 13 19.2 12.2 17.1 11.2 15.2 10.1 13.1 9 11.3 8 9.4 7 7.7 6.2 6.1 5.6 4.7 5.2 3.4 4.8 2.2 4.6 1.1 4.4 0.2 4.5 -0.6 4.6 -1.3 4.7 -1.8 4.9 -2.3 5.1 -2.7 5.3 -2.9 5.5 -3.2 5.7 -3.2 5.9 -3.3 6.1 -3.3 6.3 -3.3 6.3 -3.1 6.5 -3 6.5 -2.9 6.6 -2.6 6.7 -2.5 6.6 -2.2 6.6 -2.1 6.5 -1.7 6.6 -1.6 6.4 -1.3 6.4 -1 6.3 -0.9 6.1 -0.6 6.1 -0.3 5.9 -0.1 5.8 0.1 5.7 0.3 5.5 0.6 5.3 0.8 5.2 1 5 1.3 4.8 1.5 4.6 1.7 4.3 2 4.1 2.3 3.9 2.6 3.6 2.8 3.2 3.2 2.9 3.4 2.6 3.8 2.1 4.2 1.6 4.5 1.2 4.9 0.6 5.3 -0.1 5.7 -0.8 6.1 -1.5 6.5 -2.5 7 -3.5 7.4 -4.5 7.7 -5.7 8.2 -7.1 8.5 -8.4 8.7 -10 8.9 -11.5 8.9 -13.2 8.9 -14.8 8.6 -16.4 8.1 -17.9 7.5 -19.2 6.5 -20.2 5.3 -20.8 3.8 -20.9 2.2 -20.6 0.2 -19.6 -1.9 -18.2 -4 -16.1 -6.3 -13.5 -8.5 -10.7 -10.4 -7.7 -12.3 -4.4 -13.8 -1.5 -15 1.4 -15.8 3.9 -16.2 6.1 -16.5 7.7 -16.2 9.1 -15.8 10.1 -15.2 10.6 -14.4 10.9 -13.4 11 -12.5 10.8 -11.4 10.6 -10.3 10.3 -9.4 9.8 -8.3 9.4 -7.5 8.9 -6.6 8.5 -5.9 8 -5.1 7.6 -4.6 7.2 -4 6.9 -3.6 6.5 -3.1 6.1 -2.8 5.8 -2.6 5.6 -2.3 5.2 -2.2 5 -2 4.7 -2 4.5 -1.9 4.1 -2 4 -1.9 3.6 -2 3.4 -2.1 3.1 -2.1 2.9 -2.3 2.5 -2.3 2.2 -2.5 1.9 -2.7 1.5 -2.8 1.1 -3 0.8 -3.1 0.3 -3.4 -0.1 -3.4 -0.5 -3.7 -1.1 -3.7 -1.6 -4 -2.2 -4 -2.7 -4.1 -3.3 -4.2 -3.9 -4.3 -4.5 -4.2 -5.1 -4.2 -5.7 -4.1 -6.3 -3.9 -6.8 -3.7 -7.4 -3.4 -7.7 -3 -8.1 -2.7 -8.4 -2.1 -8.5 -1.5 -8.5 -1 -8.4 -0.2 -8 0.5 -7.7 1.3 -7 2.1 -6.4 2.8 -5.5 3.6 -4.5 4.3 -3.6 5 -2.4 5.6 -1.4 6.1 -0.3 6.5 0.8 6.9 1.8 7 2.8 7.3 3.7 7.2 4.4 7.2 5.1 7.1 5.7 6.9 6.1 6.6 6.6 6.3 7 6 7.1 5.6 7.4 5.2 7.4 4.8 7.6 4.5 7.6 4 7.5 3.7 7.6 3.2 7.5 3 7.4 2.5 7.3 2.3 7.2 2 7.2 1.7 7 1.4 6.9 1.2 6.7 1 6.6 0.8 6.5 0.5 6.4 0.4 6.2 0.2 6.2 0.1 5.9 -0.1 5.9 -0.3 5.7 -0.4 5.5 -0.5 5.5 -0.7 5.3 -0.8 5.1 -1 5.1 -1.1 4.9 -1.3 4.7 -1.5 4.6 -1.6 4.4 -1.9 4.3 -2 4 -2.3 3.9 -2.5 3.7 -2.7 3.5 -3.1 3.2 -3.4 3 -3.7 2.7 -4 2.3 -4.5 1.9 -4.9 1.5 -5.4 1 -6 0.4 -6.4 -0.3 -7.1 -1.1 -7.8 -2 -8.4 -3.1 -9.1 -4.4 -9.9 -5.8 -10.7 -7.5 -11.4 -9.5 -12.1 -11.7 -12.7 -14.1 -13.4 -16.9 -13.7 -19.8 -13.8 -23 -13.8 -26 -13.2 -29.2 -12.3 -31.8 -10.8 -34.1 -8.8 -35.4 -6.1 -35.8 -2.9 -34.9 0.7 -32.6 4.8 -28.9 8.9 -24.2 13.1 -18.6 17 -12.5 20.3 -6.4 23 -0.8 25 4.1 26.1 8 26.6 10.9 26.2 12.7 25.4 13.6 24.1 13.9 22.3 13.4 20.5 12.6 18.4 11.6 16.2 10.4 14.2 9.2 12.2 8.1 10.1 7.1 8.4 6.3 6.6 5.5 5 5.1 3.6 4.7 2.3 4.4 1.2 4.4 0.1 4.5 -0.8 4.5 -1.5 4.7 -2.2 5 -2.7 5.2 -3.1 5.5 -3.4 5.7 -3.6 6 -3.8 6.2 -3.8 6.5 -3.8 6.6 -3.7 6.7 -3.6 6.9 -3.5 6.9 -3.3 7 -3.1 7.1 -2.9 7 -2.6 7.1 -2.4 6.9 -2.1 7 -1.9 6.9 -1.7 6.7 -1.3 6.7 -1.2 6.6 -0.9 6.5 -0.7 6.4 -0.5 6.2 -0.2 6.1 0 6 0.2 5.8 0.4 5.7 0.6 5.5 0.9 5.3 1 5.2 1.3 5 1.5 4.7 1.8 4.6 1.9 4.4 2.3 4.1 2.5 3.8 2.8 3.6 3.1 3.2 3.4 2.9 3.7 2.5 4.1 2.1 4.4 1.7 4.9 1.1 5.2 0.5 5.8 -0.2 6.1 -0.9 6.7 -1.8 7.1 -2.8 7.6 -3.8 8.2 -5 8.6 -6.4 9 -7.8 9.5 -9.5 9.8 -11.3 10 -13.1 10.1 -15 10.1 -17.1 9.7 -18.9 9.3 -20.7 8.5 -22.3 7.3 -23.5 6 -24.1 4.2 -24.4 2.1 -23.7 -0.2 -22.5 -2.7 -20.5 -5.4 -17.9 -8 -14.6 -10.6 -11.1 -12.9 -7.3 -14.8 -3.5 -16.5 -0.1 -17.7 3.1 -18.5 5.8 -18.8 8 -18.7 9.5 -18.2 10.7 -17.6 11.4 -16.6 11.6 -15.6 11.6 -14.3 11.4 -13.1 11 -11.8 10.5 -10.6 9.9 -9.4 9.3 -8.2 8.8 -7.3 8.1 -6.3 7.6 -5.4 7.2 -4.6 6.7 -4 6.2 -3.4 5.9 -2.8 5.6 -2.4 5.3 -2.1 5.1 -1.7 4.8 -1.4 4.6 -1.3 4.3 -1.1 4.3 -1 4 -1 3.9 -0.9 3.7 -0.8 3.5 -0.9 3.4 -1 3.2 -0.9 3 -1.1 2.8 -1.2 2.6 -1.2 2.5 -1.4 2.2 -1.5 2 -1.6 1.8 -1.8 1.5 -1.9 1.2 -2 0.9 -2.2 0.7 -2.4 0.3 -2.4 -0.1 -2.6 -0.4 -2.8 -0.7 -2.8 -1.2 -3 -1.6 -3 -2 -3.1 -2.4 -3.1 -2.8 -3.2 -3.3 -3.2 -3.7 -3.1 -4.2 -3 -4.5 -3 -4.9 -2.7 -5.3 -2.6 -5.5 -2.3 -5.8 -2 -6 -1.7 -6.1 -1.3 -6.1 -0.8 -6.1 -0.4 -5.9 0.1 -5.7 0.6 -5.3 1.1 -4.9 1.7 -4.4 2.2 -3.8 2.8 -3.2 3.2 -2.4 3.7 -1.7 4.1 -0.9 4.4 -0.2 4.8 0.6 5 1.3 5.2 2.1 5.3 2.6 5.3 3.3 5.4 3.9 5.3 4.3 5.1 4.8 5.1 5.2 4.8 5.4 4.5 5.7 4.4 6 4 6.1 3.8 6.2 3.4 6.3 3.1 6.4 2.9 6.4 2.5 6.4 2.2 6.3 1.9 6.3 1.6 6.3 1.3 6.1 1 6.1 0.8 6 0.4 5.8 0.3 5.8 -0.1 5.5 -0.2 5.5 -0.6 5.3 -0.8 5.1 -1 4.9 -1.3 4.7 -1.5 4.5 -1.8 4.3 -2.1 4.1 -2.3 3.7 -2.6 3.5 -3 3.2 -3.2 2.8 -3.6 2.5 -3.9 2 -4.3 1.5 -4.6 1 -5.1 0.4 -5.4 -0.2 -5.9 -1 -6.3 -1.8 -6.8 -2.7 -7.2 -3.8 -7.6 -4.9 -8 -6.1 -8.4 -7.5 -8.8 -9 -8.9 -10.6 -9.2 -12.2 -9.1 -14 -9.1 -15.6 -8.7 -17.2 -8.2 -18.8 -7.5 -20 -6.4 -21 -5.1 -21.5 -3.6 -21.6 -1.7 -21 0.3 -19.9 2.5 -18.2 4.9 -15.9 7.1 -13.1 9.3 -10.1 11.3 -6.9 13.2 -3.6 14.6 -0.5 15.7 2.3 16.4 4.8 16.9 6.8 16.8 8.5 16.6 9.6 16 10.5 15.3 10.9 14.4 11.1 13.4 11 12.4 10.9 11.2 10.5 10.2 10.1 9.2 9.7 8.1 9.2 7.3 8.7 6.4 8.2 5.6 7.8 5 7.3 4.3 7 3.8 6.6 3.4 6.2 2.9 5.9 2.6 5.6 2.4 5.3 2.2 5 2 4.8 1.9 4.5 1.8 4.3 1.7 4 1.8 3.8 1.8 3.5 1.8 3.3 1.9 3 2 2.7 2.1 2.4 2.2 2.2 2.3 1.8 2.5 1.5 2.6 1.1 2.7 0.8 3 0.4 3 0 3.3 -0.5 3.3 -0.9 3.6 -1.5 3.6 -1.9 3.7 -2.4 3.9 -3 3.9 -3.6 3.9 -4 3.9 -4.7 3.9 -5.2 3.8 -5.7 3.7 -6.3 3.4 -6.6 3.2 -7.1 2.9 -7.4 2.5 -7.7 2 -7.7 1.5 -7.8 1 -7.7 0.3 -7.5 -0.3 -7.1 -1 -6.6 -1.7 -6 -2.4 -5.3 -3.1 -4.5 -3.8 -3.5 -4.4 -2.6 -4.9 -1.6 -5.5 -0.6 -5.9 0.4 -6.2 1.4 -6.4 2.2 -6.6 3.1 -6.7 3.8 -6.7 4.5 -6.6 5.1 -6.5 5.7 -6.2 6 -6 6.4 -5.7 6.7 -5.4 6.9 -5 7.1 -4.7 7.2 -4.2 7.2 -4 7.3 -3.5 7.2 -3.2 7.3 -2.8 7.2 -2.6 7.1 -2.2 7 -1.8 6.9 -1.6 6.9 -1.4 6.7 -1 6.6 -0.9 6.5 -0.6 6.4 -0.4 6.2 -0.1 6.1 0 5.9 0.2 5.8 0.4 5.7 0.6 5.5 0.8 5.4 1 5.2 1.1 5.1 1.4 4.8 1.6 4.8 1.7 4.5 2 4.3 2.3 4.1 2.4 3.9 2.8 3.7 3 3.4 3.4 3 3.7 2.8 4 2.4 4.5 1.9 4.8 1.5 5.4 1 5.8 0.3 6.3 -0.4 6.8 -1.2 7.5 -2.1 8 -3.2 8.7 -4.4 9.3 -5.8 10 -7.5 10.5 -9.2 11.1 -11.2 11.6 -13.5 12 -15.8 12.2 -18.3 12.2 -21 11.9 -23.4 11.3 -25.9 10.3 -28 8.9 -29.6 7 -30.5 4.7 -30.5 2 -29.5 -1.2 -27.6 -4.6 -24.4 -8 -20.6 -11.5 -15.9 -14.6 -11 -17.5 -5.9 -19.7 -1.3 -21.5 2.9 -22.6 6.5 -23 9.1 -23 11.1 -22.4 12.2 -21.4 12.8 -20.1 12.9 -18.6 12.5 -17 11.8 -15.3 11.1 -13.6 10.2 -11.9 9.3 -10.4 8.4 -8.8 7.7 -7.4 6.9 -6.1 6.4 -4.9 5.8 -3.9 5.4 -2.9 5.1 -2.1 4.9 -1.3 4.7 -0.6 4.6 -0.2 4.6 0.4 4.5 0.7 4.6 1 4.6 1.3 4.7 1.4 4.8 1.6 4.8 1.7 4.9 1.7 5 1.6 5 1.7 5 1.5 5.1 1.5 5.1 1.3 5 1.2 5.1 1 5 0.9 5 0.6 4.9 0.5 4.8 0.3 4.7 0.1 4.6 -0.1 4.4 -0.4 4.4 -0.6 4.1 -0.8 4 -1 3.8 -1.3 3.6 -1.5 3.4 -1.7 3 -2 2.9 -2.3 2.5 -2.5 2.2 -2.8 1.8 -3 1.4 -3.3 1 -3.6 0.6 -3.8 0 -4.2 -0.5 -4.3 -1.1 -4.7 -1.8 -4.9 -2.4 -5.1 -3.2 -5.3 -3.9 -5.5 -4.7 -5.6 -5.6 -5.7 -6.5 -5.7 -7.4 -5.7 -8.3 -5.5 -9.1 -5.3 -9.9 -5.1 -10.7 -4.5 -11.4 -4.1 -11.8 -3.3 -12.1 -2.6 -12.3 -1.7 -12.1 -0.6 -11.8 0.4 -11.2 1.5 -10.3 2.8 -9.3 3.9 -7.9 5.1 -6.5 6.2 -4.9 7.2 -3.2 8 -1.6 8.8 0 9.3 1.6 9.8 2.9 10 4.3 10.1 5.4 10.1 6.2 9.8 7.1 9.6 7.7 9.2 8.1 8.8 8.5 8.2 8.7 7.7 8.8 7.1 8.9 6.6 8.8 6 8.8 5.5 8.7 5 8.6 4.6 8.4 4 8.2 3.7 8 3.4 7.9 3 7.6 2.7 7.5 2.5 7.3 2.2 7.1 2.1 7 2 6.7 1.8 6.6 1.8 6.3 1.7 6.2 1.7 6.1 1.7 5.8 1.7 5.7 1.8 5.5 1.8 5.3 1.9 5.1 2 5 2.2 4.7 2.3 4.5 2.5 4.3 2.7 4.1 2.9 3.8 3.1 3.5 3.4 3.3 3.8 2.9 4 2.5 4.4 2.1 4.8 1.6 5.2 1.1 5.7 0.5 6.2 -0.2 6.7 -1 7.2 -1.9 7.8 -2.9 8.4 -4.1 8.9 -5.4 9.6 -7 10.2 -8.6 10.7 -10.6 11.1 -12.6 11.5 -14.9 11.7 -17.2 11.7 -19.7 11.5 -22.1 10.9 -24.3 10.1 -26.5 8.8 -27.9 7.1 -29 4.9 -29.1 2.4 -28.4 -0.5 -26.7 -3.6 -24.1 -6.9 -20.5 -10.2 -16.4 -13.3 -11.7 -16 -7.1 -18.3 -2.5 -20.1 1.7 -21.3 5.2 -22 8 -22.1 10.2 -21.7 11.5 -20.9 12.4 -19.7 12.6 -18.5 12.4 -16.9 12 -15.4 11.4 -13.8 10.6 -12.2 9.8 -10.7 9 -9.2 8.2 -7.9 7.4 -6.6 6.9 -5.5 6.3 -4.4 5.8 -3.6 5.5 -2.7 5.2 -2 4.9 -1.3 4.7 -0.8 4.7 -0.4 4.5 0 4.5 0.4 4.5 0.6 4.4 0.7 4.5 1 4.5 1 4.5 1 4.5 1.1 4.6 1.1 4.5 1 4.5 0.9 4.5 0.8 4.5 0.8 4.4 0.5 4.4 0.5 4.3 0.2 4.2 0.2 4.2 -0.1 4 -0.3 3.9 -0.4 3.7 -0.7 3.6 -0.9 3.4 -1 3.2 -1.3 3 -1.5 2.8 -1.8 2.5 -1.9 2.2 -2.2 1.9 -2.4 1.6 -2.7 1.2 -2.9 0.9 -3.1 0.4 -3.3 0 -3.6 -0.5 -3.8 -1.1 -4 -1.5 -4.1 -2.2 -4.4 -2.8 -4.5 -3.4 -4.6 -4.1 -4.7 -4.7 -4.7 -5.5 -4.7 -6.2 -4.7 -6.9 -4.5 -7.5 -4.3 -8.1 -4.1 -8.7 -3.6 -9.2 -3.3 -9.5 -2.6 -9.7 -2.1 -9.9 -1.3 -9.7 -0.6 -9.4 0.3 -9 1.1 -8.4 2.1 -7.6 3 -6.6 3.9 -5.5 4.7 -4.3 5.6 -3.1 6.3 -1.8 6.9 -0.5 7.3 0.7 7.8 1.9 8.1 3.1 8.2 4 8.3 4.8 8.2 5.7 8 6.2 7.8 6.8 7.5 7.3 7.1 7.5 6.7 7.8 6.3 7.9 5.9 8 5.4 8.1 4.9 8.1 4.5 8 4.1 8 3.7 7.9 3.3 7.8 3 7.6 2.6 7.6 2.4 7.4 2 7.3 1.8 7.1 1.6 7 1.4 6.9 1.2 6.7 1.1 6.5 0.9 6.5 0.8 6.3 0.7 6.2 0.6 6 0.5 5.9 0.5 5.8 0.3 5.7 0.4 5.5 0.3 5.4 0.2 5.4 0.2 5.2 0.2 5 0.2 5 0.2 4.9 0.1 4.8 0.2 4.6 0.1 4.6 0.2 4.5 0.1 4.4 0.1 4.2 0.2 4.2 0.1 4.1 0.2 4.1 0.1 3.9 0.2 3.8 0.2 3.8 0.2 3.7 0.2 3.6 0.3 3.5 0.2 3.5 0.3 3.3 0.4 3.3 0.3 3.3 0.4 3.1 0.5 3.1 0.5 3.1 0.5 2.9 0.7 2.9 0.7 2.8 0.7 2.8 0.9 2.6 0.9 2.6 1.1 2.6 1.2 2.4 1.3 2.4 1.5 2.4 1.7 2.2 1.9 2.1 2.1 2 2.3 2 2.6 1.7 3 1.7 3.2 1.4 3.7 1.3 4.2 1 4.6 0.7 5.2 0.4 5.8 0 6.5 -0.6 7.3 -1.3 8.2 -2 9.1 -3.1 10.1 -4.2 11.3 -5.8 12.5 -7.6 13.7 -9.9 15.2 -12.6 16.5 -15.9 17.8 -19.8 19.1 -24.2 20.1 -29.5 20.8 -35 21.1 -41.1 20.5 -47 19.1 -52.5 16.7 -56.9 13 -59.3 8 -59.2 1.8 -56 -5.3 -49.6 -13 -40.5 -20.5 -29.4 -27.6 -17.5 -33.4 -6.2 -37.9 3.4 -40.6 10.8 -41.8 15.5 -41.2 17.8 -39.6 18 -36.9 16.5 -33.4 14.1 -29.5 11.2 -25.4 8.3 -21.1 5.5 -16.7 3.4 -12.5 1.9 -8.5 1 -4.6 0.9 -1 1.4 2.2 2.3 5 3.6 7.5 5 9.4 6.6 10.9 8.1 12.1 9.3 12.7 10.3 13 11.2 13.1 11.7 12.7 12.1 12.2 12.1 11.6 12.1 10.7 11.8 9.9 11.6 8.9 11.1 8.1 10.8 7.1 10.3 6.3 9.9 5.4 9.6 4.7 9.1 4.1 8.7 3.3 8.4 2.9 8.1 2.4 7.9 1.9 7.5 1.6 7.4 1.3 7.1 1.1 6.9 0.9 6.7 0.7 6.5 0.7 6.4 0.6 6.2 0.6 6 0.5 5.8 0.6 5.7 0.7 5.5 0.8 5.4 0.8 5.1 1 5 1.1 4.8 1.2 4.5 1.5 4.4 1.6 4.1 1.7 3.8 2 3.6 2.2 3.3 2.5 3 2.6 2.7 2.9 2.3 3.2 1.9 3.4 1.5 3.7 1 4 0.5 4.3 0 4.5 -0.6 4.8 -1.3 5.1 -2 5.4 -2.7 5.6 -3.6 5.9 -4.4 6 -5.3 6.2 -6.3 6.3 -7.3 6.3 -8.3 6.2 -9.3 6.2 -10.3 5.8 -11.2 5.5 -12.1 5 -12.7 4.4 -13.4 3.6 -13.6 2.6 -13.8 1.6 -13.5 0.5 -13.1 -0.9 -12.3 -2.1 -11.2 -3.5 -9.9 -4.9 -8.3 -6.1 -6.5 -7.4 -4.7 -8.4 -2.8 -9.3 -1 -10.1 0.9 -10.7 2.5 -11 4 -11.2 5.3 -11.2 6.5 -11.1 7.3 -10.7 8 -10.3 8.5 -9.9 9 -9.3 9.1 -8.6 9.3 -8.1 9.3 -7.4 9.2 -6.8 9.1 -6.1 9 -5.6 8.8 -5.1 8.6 -4.6 8.4 -4.2 8.2 -3.7 8 -3.4 7.7 -3.1 7.5 -2.8 7.3 -2.6 7 -2.5 6.8 -2.3 6.7 -2.2 6.4 -2.1 6.2 -2.1 6 -2.1 5.7 -2.1 5.6 -2.2 5.3 -2.2 5.1 -2.4 4.9 -2.5 4.6 -2.6 4.4 -2.8 4.1 -3 3.8 -3.3 3.5 -3.5 3.1 -3.8 2.7 -4 2.4 -4.4 1.8 -4.8 1.4 -5.1 0.8 -5.6 0.1 -5.9 -0.6 -6.4 -1.3 -6.9 -2.3 -7.3 -3.4 -7.8 -4.4 -8.2 -5.7 -8.7 -7.1 -9.1 -8.7 -9.4 -10.2 -9.6 -12 -9.7 -13.9 -9.8 -15.7 -9.5 -17.5 -9.1 -19.3 -8.5 -20.9 -7.5 -22.1 -6.2 -23 -4.7 -23.2 -2.8 -23.1 -0.7 -22.1 1.6 -20.4 4.1 -18.2 6.7 -15.4 9.1 -12.1 11.4 -8.7 13.4 -5 15.2 -1.6 16.5 1.6 17.4 4.3 18 6.7 18 8.6 17.8 9.8 17.3 10.8 16.5 11.3 15.6 11.4 14.4 11.4 13.3 11.1 12.2 10.8 10.9 10.2 9.8 9.7 8.6 9.1 7.7 8.6 6.7 8.1 5.9 7.6 5.1 7.1 4.4 6.7 3.8 6.4 3.2 5.9 2.8 5.7 2.5 5.3 2.1 5.1 1.8 4.8 1.7 4.6 1.5 4.4 1.4 4.1 1.3 4 1.2 3.8 1.3 3.5 1.3 3.4 1.3 3.1 1.3 3 1.5 2.7 1.5 2.5 1.6 2.2 1.8 2 1.9 1.7 2 1.4 2.1 1.2 2.3 0.8 2.4 0.5 2.6 0.1 2.7 -0.2 2.8 -0.7 3 -1 3.1 -1.5 3.1 -1.8 3.3 -2.4 3.3 -2.8 3.3 -3.3 3.3 -3.7 3.4 -4.2 3.2 -4.6 3.1 -5 3 -5.4 2.8 -5.8 2.6 -6 2.3 -6.3 1.9 -6.4 1.5 -6.5 1.1 -6.5 0.6 -6.3 0.1 -6.1 -0.5 -5.8 -1 -5.3 -1.6 -4.9 -2.1 -4.2 -2.8 -3.6 -3.2 -2.8 -3.8 -2 -4.2 -1.2 -4.6 -0.4 -5 0.4 -5.2 1.2 -5.4 1.9 -5.6 2.7 -5.6 3.3 -5.7 3.9 -5.6 4.4 -5.5 4.9 -5.3 5.3 -5.1 5.6 -4.9 5.9 -4.6 6.1 -4.3 6.3 -4 6.4 -3.7 6.6 -3.3 6.5 -3.1 6.6 -2.7 6.6 -2.4 6.6 -2.1 6.5 -1.8 6.5 -1.5 6.4 -1.2 6.2 -0.9 6.2 -0.7 6.1 -0.4 5.9 -0.2 5.8 0.1 5.7 0.4 5.5 0.6 5.4 0.8 5.2 1 5 1.3 4.8 1.6 4.6 1.8 4.4 2.1 4.2 2.3 3.9 2.6 3.6 2.9 3.3 3.2 3 3.6 2.7 3.9 2.2 4.3 1.7 4.6 1.3 5.1 0.6 5.4 0.1 5.9 -0.7 6.4 -1.5 6.9 -2.4 7.3 -3.5 7.8 -4.6 8.2 -5.8 8.7 -7.3 9.1 -8.8 9.4 -10.4 9.6 -12.2 9.8 -14 9.7 -15.9 9.5 -17.8 9.1 -19.4 8.4 -21 7.4 -22.3 6.1 -23 4.5 -23.4 2.7 -23 0.5 -22 -1.9 -20.3 -4.3 -18 -6.9 -15.1 -9.3 -11.9 -11.6 -8.3 -13.6 -4.7 -15.4 -1.3 -16.6 1.8 -17.5 4.7 -18 6.8 -18.1 8.7 -17.8 10 -17.2 10.8 -16.5 11.4 -15.4 11.4 -14.4 11.4 -13.2 11.1 -12 10.7 -10.9 10.2 -9.6 9.6 -8.6 9.1 -7.6 8.5 -6.6 8.1 -5.8 7.5 -5 7.1 -4.4 6.6 -3.7 6.3 -3.2 5.9 -2.8 5.6 -2.4 5.4 -2.1 5 -1.8 4.8 -1.6 4.6 -1.5 4.3 -1.4 4.2 -1.3 3.9 -1.2 3.8 -1.3 3.5 -1.2 3.3 -1.3 3.2 -1.4 2.9 -1.4 2.7 -1.5 2.5 -1.7 2.2 -1.7 2 -1.9 1.7 -2 1.4 -2.1 1.1 -2.3 0.8 -2.5 0.5 -2.5 0.1 -2.7 -0.3 -2.9 -0.6 -2.9 -1 -3.1 -1.5 -3.1 -1.9 -3.3 -2.4 -3.3 -2.8 -3.3 -3.3 -3.3 -3.7 -3.3 -4.2 -3.3 -4.6 -3.1 -5 -3 -5.4 -2.8 -5.8 -2.5 -6 -2.2 -6.3 -1.9 -6.4 -1.6 -6.5 -1 -6.4 -0.6 -6.3 -0.1 -6.1 0.5 -5.8 1 -5.3 1.6 -4.8 2.2 -4.2 2.7 -3.5 3.3 -2.8 3.8 -2 4.2 -1.2 4.6 -0.4 4.9 0.5 5.3 1.2 5.4 1.9 5.6 2.7 5.6 3.3 5.6 3.9 5.6 4.4 5.4 4.9 5.3 5.3 5.1 5.6 4.9 5.9 4.6 6.2 4.3 6.2 4 6.5 3.6 6.5 3.4 6.5 3 6.6 2.7 6.6 2.4 6.6 2.1 6.5 1.8 6.4 1.5 6.4 1.2 6.3 0.9 6.2 0.6 6 0.4 5.9 0.2 5.8 -0.2 5.7 -0.3 5.5 -0.6 5.3 -0.8 5.2 -1.1 5 -1.3 4.8 -1.6 4.6 -1.8 4.4 -2.1 4.1 -2.3 3.9 -2.7 3.6 -2.9 3.3 -3.3 3 -3.5 2.6 -4 2.1 -4.2 1.8 -4.7 1.1 -5.1 0.7 -5.5 -0.1 -6 -0.7 -6.4 -1.6 -6.8 -2.5 -7.4 -3.5 -7.8 -4.7 -8.3 -6 -8.7 -7.3 -9 -8.9 -9.4 -10.6 -9.7 -12.3 -9.7 -14.2 -9.7 -16 -9.5 -17.8 -8.9 -19.6 -8.3 -21 -7.3 -22.3 -6 -23 -4.3 -23.2 -2.5 -22.9 -0.3 -21.8 2 -20.1 4.6 -17.7 7 -14.8 9.5 -11.5 11.7 -8 13.8 -4.5 15.4 -1 16.6 2.1 17.5 4.7 18 7.1 18 8.7 17.7 10.1 17.1 10.8 16.4 11.4 15.3 11.4 14.3 11.3 13 11.1 11.9 10.6 10.8 10.2 9.6 9.6 8.5 9.1 7.5 8.5 6.5 8 5.7 7.5 5 7.1 4.3 6.6 3.7 6.3 3.2 5.9 2.7 5.6 2.4 5.3 2.1 5.1 1.9 4.7 1.6 4.6 1.5 4.4 1.4 4.1 1.3 3.9 1.2 3.7 1.3 3.6 1.3 3.3 1.3 3.1 1.4 2.9 1.5 2.6 1.6 2.5 1.6 2.2 1.8 1.9 2 1.6 2 1.4 2.2 1.1 2.4 0.7 2.4 0.4 2.6 0 2.8 -0.3 2.9 -0.7 3 -1.2 3.1 -1.5 3.2 -2.1 3.2 -2.4 3.4 -3 3.3 -3.4 3.4 -3.8 3.3 -4.3 3.2 -4.8 3.1 -5.1 3 -5.5 2.7 -5.9 2.5 -6.1 2.2 -6.4 1.9 -6.5 1.4 -6.5 1 -6.4 0.4 -6.4 0 -6 -0.6 -5.7 -1.2 -5.3 -1.7 -4.7 -2.4 -4.1 -2.9 -3.3 -3.4 -2.7 -3.9 -1.8 -4.3 -1 -4.7 -0.2 -5.1 0.7 -5.3 1.4 -5.5 2.1 -5.6 2.8 -5.7 3.5 -5.7 4.1 -5.5 4.6 -5.5 5 -5.3 5.4 -5.1 5.7 -4.8 6 -4.5 6.2 -4.3 6.3 -3.9 6.5 -3.6 6.6 -3.3 6.6 -3 6.6 -2.6 6.6 -2.4 6.6 -2 6.5 -1.7 6.4 -1.4 6.4 -1.2 6.3 -0.8 6.1 -0.6 6.1 -0.4 5.9 -0.1 5.8 0.2 5.6 0.4 5.5 0.6 5.4 0.9 5.1 1.1 5 1.3 4.8 1.6 4.6 1.9 4.3 2.1 4.1 2.4 3.9 2.7 3.6 3 3.2 3.2 3 3.7 2.5 3.9 2.2 4.4 1.6 4.7 1.2 5.1 0.6 5.6 -0.1 6 -0.9 6.5 -1.6 6.9 -2.6 7.5 -3.7 7.9 -4.8 8.3 -6.1 8.8 -7.5 9.2 -9.1 9.5 -10.8 9.7 -12.6 9.8 -14.4 9.8 -16.3 9.5 -18.2 9 -19.8 8.3 -21.4 7.2 -22.5 5.9 -23.3 4.2 -23.5 2.3 -23 0.1 -21.8 -2.3 -20.1 -4.8 -17.6 -7.4 -14.7 -9.8 -11.2 -12.1 -7.7 -14 -4.1 -15.7 -0.7 -16.9 2.5 -17.7 5.1 -18.2 7.3 -18.1 9 -17.8 10.2 -17.2 11 -16.4 11.4 -15.3 11.5 -14.2 11.3 -13 11.1 -11.9 10.6 -10.6 10 -9.5 9.6 -8.4 8.9 -7.4 8.5 -6.5 7.9 -5.6 7.4 -4.8 6.9 -4.2 6.6 -3.7 6.2 -3.1 5.8 -2.6 5.5 -2.3 5.3 -2 4.9 -1.8 4.8 -1.5 4.5 -1.5 4.3 -1.3 4.1 -1.2 3.9 -1.2 3.7 -1.2 3.5 -1.2 3.3 -1.3 3.1 -1.3 2.9 -1.4 2.7 -1.5 2.4 -1.6 2.3 -1.7 1.9 -1.8 1.7 -2 1.4 -2.1 1.2 -2.3 0.8 -2.4 0.5 -2.5 0.1 -2.7 -0.2 -2.8 -0.7 -2.9 -1 -3 -1.4 -3.2 -1.9 -3.2 -2.3 -3.2 -2.8 -3.3 -3.2 -3.3 -3.6 -3.3 -4.2 -3.2 -4.5 -3.1 -5 -3 -5.3 -2.7 -5.7 -2.6 -6 -2.2 -6.2 -1.9 -6.3 -1.5 -6.4 -1.1 -6.4 -0.6 -6.2 -0.1 -6.1 0.4 -5.7 1 -5.3 1.6 -4.8 2.1 -4.2 2.7 -3.5 3.1 -2.8 3.7 -2 4.2 -1.3 4.5 -0.4 4.9 0.3 5.2 1.2 5.3 1.9 5.5 2.6 5.6 3.2 5.6 3.8 5.5 4.4 5.4 4.8 5.3 5.2 5 5.6 4.9 5.8 4.5 6.1 4.3 6.2 4 6.4 3.7 6.4 3.3 6.6 3.1 6.5 2.7 6.6 2.3 6.5 2.1 6.5 1.8 6.4 1.5 6.3 1.2 6.3 0.9 6.1 0.7 6.1 0.4 5.9 0.1 5.7 -0.1 5.7 -0.4 5.5 -0.6 5.3 -0.8 5.1 -1.1 5 -1.3 4.8 -1.6 4.5 -1.9 4.4 -2.1 4.1 -2.3 3.8 -2.7 3.6 -3 3.2 -3.2 2.9 -3.6 2.6 -4 2.1 -4.3 1.6 -4.7 1.1 -5.1 0.6 -5.5 -0.2 -6 -0.8 -6.4 -1.7 -6.9 -2.7 -7.4 -3.6 -7.8 -4.8 -8.3 -6.1 -8.6 -7.6 -9.1 -9 -9.3 -10.7 -9.6 -12.5 -9.6 -14.3 -9.6 -16 -9.2 -17.9 -8.8 -19.5 -8.1 -21 -7 -22.1 -5.7 -22.7 -4 -23 -2.2 -22.4 0 -21.3 2.4 -19.5 4.8 -17.2 7.2 -14.2 9.7 -11 11.8 -7.4 13.8 -4 15.3 -0.7 16.6 2.4 17.3 4.9 17.8 7.2 17.8 8.8 17.4 10.1 16.9 10.8 16 11.3 15.1 11.3 14 11.3 12.8 11 11.7 10.6 10.5 10.1 9.4 9.6 8.4 9 7.4 8.5 6.4 8.1 5.7 7.5 4.9 7.1 4.2 6.7 3.7 6.2 3.2 6 2.8 5.6 2.4 5.4 2.1 5 1.9 4.9 1.7 4.5 1.6 4.4 1.4 4.1 1.5 3.9 1.3 3.7 1.4 3.5 1.4 3.3 1.5 3.1 1.5 2.8 1.6 2.6 1.7 2.3 1.8 2.1 2 1.8 2 1.5 2.2 1.2 2.4 0.9 2.5 0.6 2.6 0.1 2.8 -0.2 2.9 -0.6 3 -1 3.2 -1.4 3.2 -1.9 3.4 -2.4 3.4 -2.8 3.4 -3.3 3.4 -3.8 3.4 -4.2 3.4 -4.7 3.3 -5.2 3.1 -5.5 2.9 -5.9 2.7 -6.3 2.3 -6.4 2 -6.7 1.7 -6.7 1.1 -6.6 0.7 -6.6 0.1 -6.4 -0.4 -6 -1 -5.5 -1.6 -5.1 -2.2 -4.4 -2.8 -3.7 -3.3 -3 -3.9 -2.1 -4.3 -1.3 -4.8 -0.5 -5.1 0.4 -5.3 1.2 -5.7 2 -5.7 2.7 -5.8 3.4 -5.8 4 -5.8 4.5 -5.7 5 -5.4 5.5 -5.3 5.7 -5 6.1 -4.8 6.2 -4.4 6.4 -4.1 6.6 -3.8 6.7 -3.5 6.7 -3.1 6.7 -2.9 6.7 -2.4 6.7 -2.2 6.6 -1.9 6.6 -1.5 6.5 -1.3 6.4 -1 6.3 -0.8 6.1 -0.5 6.1 -0.2 5.9 0 5.8 0.3 5.6 0.5 5.5 0.7 5.3 0.9 5.2 1.2 5 1.5 4.7 1.6 4.6 1.9 4.3 2.2 4.1 2.5 3.9 2.7 3.6 3.1 3.2 3.3 2.9 3.7 2.6 4.1 2.1 4.4 1.7 4.8 1.1 5.2 0.5 5.7 -0.1 6.2 -0.9 6.6 -1.7 7.1 -2.7 7.6 -3.7 8.1 -5 8.6 -6.3 9 -7.7 9.5 -9.4 9.8 -11.2 10 -13 10.1 -14.9 10.1 -16.9 9.8 -18.9 9.4 -20.7 8.5 -22.2 7.5 -23.5 6.1 -24.2 4.3 -24.4 2.3 -23.9 0 -22.7 -2.6 -20.7 -5.2 -18.1 -7.9 -14.9 -10.4 -11.3 -12.8 -7.6 -14.8 -3.8 -16.5 -0.3 -17.7 3 -18.4 5.6 -18.8 7.9 -18.8 9.5 -18.4 10.6 -17.6 11.4 -16.8 11.6 -15.6 11.7 -14.4 11.4 -13.2 11 -11.9 10.5 -10.7 10 -9.5 9.3 -8.3 8.8 -7.3 8.2 -6.3 7.6 -5.5 7.1 -4.7 6.7 -4 6.3 -3.4 5.9 -2.9 5.6 -2.4 5.3 -2 5.1 -1.7 4.8 -1.5 4.6 -1.2 4.4 -1.1 4.2 -1 4 -0.9 3.9 -0.9 3.7 -0.8 3.6 -0.9 3.3 -0.9 3.3 -1 3 -1 2.9 -1.1 2.7 -1.2 2.4 -1.4 2.3 -1.4 2 -1.6 1.9 -1.7 1.5 -1.9 1.3 -2 1 -2.2 0.7 -2.3 0.4 -2.4 0 -2.6 -0.3 -2.7 -0.7 -2.8 -1.1 -2.9 -1.4 -3 -1.9 -3.1 -2.3 -3.1 -2.8 -3.2 -3.2 -3.1 -3.6 -3.2 -4 -3 -4.4 -3 -4.9 -2.8 -5.1 -2.6 -5.5 -2.3 -5.8 -2.1 -5.9 -1.8 -6.1 -1.4 -6.1 -0.9 -6.1 -0.5 -5.9 -0.1 -5.7 0.5 -5.4 1.1 -5 1.5 -4.6 2.1 -3.9 2.6 -3.3 3.1 -2.6 3.6 -1.9 4 -1.1 4.4 -0.3 4.7 0.4 4.9 1.2 5.2 1.8 5.2 2.6 5.4 3.1 5.3 3.7 5.3 4.3 5.2 4.6 5.1 5.1 4.8 5.4 4.6 5.6 4.4 5.9 4.1 6.1 3.8 6.2 3.5 6.3 3.2 6.3 2.9 6.4 2.6 6.4 2.3 6.3 1.9 6.4 1.7 6.2 1.4 6.2 1.1 6.1 0.8 6 0.5 5.8 0.3 5.8 0.1 5.6 -0.3 5.5 -0.5 5.3 -0.7 5.1 -1 5 -1.2 4.7 -1.5 4.6 -1.7 4.3 -2 4.1 -2.3 3.9 -2.6 3.5 -2.8 3.2 -3.2 2.9 -3.5 2.6 -3.8 2.1 -4.2 1.6 -4.6 1.1 -5 0.6 -5.3 -0.1 -5.8 -0.9 -6.2 -1.6 -6.7 -2.5 -7.1 -3.6 -7.5 -4.6 -8 -5.9 -8.3 -7.2 -8.6 -8.7 -9 -10.2 -9.1 -11.9 -9.1 -13.5 -9.1 -15.3 -8.8 -16.9 -8.3 -18.4 -7.6 -19.8 -6.7 -20.7 -5.4 -21.4 -3.8 -21.6 -2.1 -21.1 -0.2 -20.2 2.1 -18.5 4.3 -16.4 6.7 -13.7 8.8 -10.7 11 -7.5 12.7 -4.3 14.3 -1.1 15.5 1.7 16.3 4.3 16.7 6.4 16.9 8.2 16.6 9.4 16.2 10.3 15.4 10.8 14.6 11.1 13.6 11.1 12.5 10.9 11.5 10.6 10.4 10.2 9.3 9.7 8.4 9.3 7.4 8.8 6.6 8.4 5.8 7.9 5 7.4 4.5 7 3.9 6.7 3.5 6.3 3 6 2.7 5.6 2.4 5.4 2.3 5.1 2 4.9 1.9 4.5 1.8 4.4 1.8 4 1.8 3.9 1.8 3.5 1.8 3.4 1.9 3 2 2.8 2.1 2.5 2.1 2.2 2.4 1.9 2.4 1.5 2.6 1.3 2.8 0.8 2.9 0.4 3 0.1 3.3 -0.4 3.3 -0.9 3.5 -1.3 3.7 -1.9 3.7 -2.3 3.9 -2.9 3.9 -3.5 3.9 -4 4 -4.6 3.9 -5.1 3.8 -5.7 3.7 -6.2 3.5 -6.7 3.3 -7 2.9 -7.4 2.6 -7.7 2.1 -7.8 1.7 -7.8 1 -7.8 0.5 -7.6 -0.2 -7.2 -0.9 -6.7 -1.6 -6.2 -2.3 -5.4 -3 -4.6 -3.7 -3.7 -4.4 -2.8 -4.9 -1.8 -5.4 -0.7 -5.8 0.2 -6.2 1.2 -6.5 2.2 -6.6 2.9 -6.8 3.8 -6.7 4.4 -6.7 5.1 -6.5 5.6 -6.3 6 -6.1 6.4 -5.7 6.7 -5.5 6.9 -5.1 7 -4.7 7.2 -4.4 7.3 -4 7.3 -3.6 7.2 -3.2 7.3 -3 7.2 -2.5 7.2 -2.3 7 -1.9 7 -1.7 6.9 -1.4 6.7 -1.1 6.7 -0.9 6.5 -0.6 6.4 -0.5 6.2 -0.2 6.2 0 6 0.2 5.8 0.3 5.7 0.6 5.6 0.7 5.4 0.9 5.3 1.1 5.1 1.3 4.9 1.5 4.8 1.7 4.6 1.9 4.4 2.1 4.2 2.4 3.9 2.7 3.8 2.9 3.5 3.2 3.2 3.6 2.8 3.9 2.6 4.3 2.1 4.7 1.7 5.1 1.2 5.6 0.6 6.1 -0.1 6.7 -0.9 7.2 -1.7 7.9 -2.7 8.4 -4 9.1 -5.2 9.8 -6.8 10.3 -8.5 11 -10.4 11.5 -12.6 11.9 -14.9 12.2 -17.4 12.3 -20 12.2 -22.7 11.7 -25.1 10.8 -27.5 9.7 -29.2 7.9 -30.6 5.8 -30.9 3.2 -30.4 0.1 -28.7 -3.2 -26.1 -6.7 -22.4 -10.2 -18 -13.5 -13.1 -16.6 -8 -19.1 -3.1 -21.1 1.4 -22.4 5.2 -23.1 8.3 -23.3 10.5 -22.9 11.9 -22 12.8 -20.8 12.9 -19.4 12.7 -17.7 12.1 -16.1 11.4 -14.3 10.5 -12.6 9.6 -11 8.7 -9.4 7.9 -7.9 7.1 -6.6 6.5 -5.3 6 -4.2 5.5 -3.2 5.1 -2.3 4.9 -1.5 4.7 -0.8 4.7 -0.2 4.5 0.3 4.6 0.7 4.6 1.1 4.7 1.3 4.7 1.5 4.8 1.7 4.9 1.8 4.9 1.8 5.1 1.8 5.1 1.8 5.1 1.7 5.2 1.6 5.2 1.5 5.2 1.3 5.2 1.2 5.1 1.1 5.1 0.8 5.1 0.7 5 0.4 4.9 0.2 4.8 0.1 4.7 -0.2 4.5 -0.4 4.4 -0.7 4.2 -0.8 4.1 -1.2 3.8 -1.3 3.7 -1.6 3.3 -1.8 3.2 -2.1 2.8 -2.4 2.5 -2.6 2.2 -2.9 1.8 -3.2 1.5 -3.4 0.9 -3.7 0.5 -4 0 -4.3 -0.6 -4.5 -1.2 -4.9 -1.9 -5 -2.6 -5.3 -3.3 -5.6 -4.2 -5.7 -5 -5.8 -5.9 -5.9 -6.8 -6 -7.8 -5.9 -8.7 -5.7 -9.7 -5.6 -10.4 -5.2 -11.3 -4.7 -11.9 -4.1 -12.4 -3.4 -12.8 -2.6 -12.8 -1.6 -12.7 -0.6 -12.3 0.7 -11.6 1.8 -10.7 3.1 -9.4 4.3 -8 5.6 -6.5 6.6 -4.8 7.7 -3 8.6 -1.3 9.3 0.4 9.9 2 10.3 3.5 10.5 4.7 10.5 5.8 10.5 6.8 10.2 7.4 9.9 8.1 9.4 8.5 9 8.7 8.4 9 7.8 9 7.2 9 6.7 9 6 8.9 5.6 8.7 5 8.6 4.5 8.4 4.1 8.2 3.7 8.1 3.4 7.8 3 7.6 2.8 7.4 2.5 7.2 2.3 7 2.2 6.8 2.1 6.6 1.9 6.5 1.9 6.2 1.9 6.1 1.9 5.8 1.9 5.7 1.9 5.4 2 5.3 2.1 5.1 2.3 4.8 2.3 4.6 2.6 4.4 2.7 4.1 2.9 3.9 3.2 3.6 3.4 3.2 3.7 2.9 4.1 2.5 4.4 2.1 4.7 1.6 5.2 1 5.6 0.5 6 -0.3 6.6 -1.1 7 -1.9 7.6 -3 8.1 -4.1 8.6 -5.4 9.2 -6.9 9.6 -8.5 10.1 -10.3 10.5 -12.2 10.8 -14.2 10.9 -16.4 10.8 -18.6 10.5 -20.8 10 -22.7 9.1 -24.4 7.8 -25.8 6.2 -26.5 4.3 -26.5 1.9 -25.8 -0.8 -24.2 -3.5 -21.8 -6.6 -18.6 -9.4 -15 -12.2 -10.8 -14.6 -6.6 -16.8 -2.5 -18.4 1.2 -19.6 4.5 -20.2 7.2 -20.3 9.3 -20.1 10.7 -19.4 11.6 -18.5 12.1 -17.4 12.1 -16 11.8 -14.7 11.4 -13.3 10.8 -11.8 10.2 -10.5 9.4 -9.2 8.7 -8 8.1 -6.8 7.5 -5.9 6.9 -4.9 6.5 -4.1 6 -3.3 5.7 -2.7 5.3 -2.2 5.1 -1.6 4.9 -1.3 4.7 -0.9 4.5 -0.7 4.4 -0.4 4.3 -0.3 4.2 -0.1 4.1 -0.1 4 0 3.9 0 3.9 0 3.7 0 3.7 -0.1 3.6 -0.2 3.5 -0.2 3.4 -0.4 3.2 -0.5 3.1 -0.7 3 -0.7 2.8 -0.9 2.7 -1.1 2.4 -1.3 2.3 -1.4 2 -1.6 1.8 -1.7 1.5 -2 1.2 -2.1 1 -2.2 0.6 -2.5 0.3 -2.6 -0.1 -2.8 -0.4 -2.9 -0.9 -3 -1.2 -3.2 -1.8 -3.3 -2.1 -3.3 -2.7 -3.5 -3.1 -3.4 -3.6 -3.5 -4.1 -3.4 -4.5 -3.4 -5 -3.2 -5.4 -3 -5.9 -2.9 -6.1 -2.5 -6.5 -2.3 -6.6 -1.8 -6.8 -1.5 -6.8 -0.9 -6.8 -0.4 -6.6 0.1 -6.3 0.7 -5.9 1.3 -5.4 1.9 -4.8 2.6 -4.2 3.1 -3.4 3.6 -2.6 4.2 -1.7 4.6 -0.9 5 -0.1 5.3 0.8 5.6 1.7 5.8 2.4 5.9 3 5.9 3.8 5.9 4.3 5.8 4.9 5.6 5.2 5.5 5.7 5.2 6 4.9 6.2 4.7 6.4 4.3 6.6 4 6.6 3.7 6.8 3.4 6.8 3 6.7 2.7 6.8 2.3 6.7 2.1 6.7 1.7 6.5 1.5 6.5 1.1 6.4 0.9 6.3 0.7 6.2 0.4 6 0.1 5.9 -0.1 5.8 -0.3 5.6 -0.6 5.4 -0.8 5.3 -1 5.2 -1.2 4.9 -1.5 4.7 -1.7 4.6 -2 4.3 -2.3 4 -2.5 3.9 -2.8 3.5 -3.1 3.2 -3.4 2.9 -3.8 2.5 -4.1 2.1 -4.5 1.6 -4.9 1 -5.3 0.5 -5.8 -0.2 -6.3 -1 -6.7 -1.9 -7.3 -2.8 -7.7 -3.9 -8.3 -5.2 -8.8 -6.5 -9.2 -8 -9.6 -9.8 -10 -11.5 -10.2 -13.4 -10.3 -15.5 -10.3 -17.5 -10 -19.4 -9.4 -21.3 -8.7 -22.9 -7.4 -24.1 -6 -24.8 -4.2 -24.9 -2.1 -24.3 0.4 -23 3 -20.8 5.7 -18.1 8.4 -14.6 11 -11 13.4 -7.1 15.4 -3.2 17.1 0.3 18.2 3.5 18.9 6.2 19.3 8.3 19 10 18.6 10.9 17.8 11.6 16.9 11.8 15.6 11.7 14.5 11.4 13.1 10.9 11.8 10.4 10.6 9.8 9.3 9.2 8.2 8.6 7.1 7.9 6.2 7.5 5.3 6.9 4.5 6.5 3.8 6.1 3.2 5.8 2.7 5.4 2.2 5.2 1.8 4.9 1.5 4.7 1.3 4.5 1.1 4.3 0.8 4.2 0.8 4 0.7 3.9 0.7 3.7 0.6 3.6 0.7 3.4 0.7 3.3 0.7 3.2 0.9 3 0.9 2.8 1 2.6 1.1 2.5 1.3 2.2 1.4 2 1.5 1.8 1.7 1.5 1.8 1.3 2 1 2.1 0.7 2.2 0.4 2.5 0 2.5 -0.3 2.7 -0.6 2.8 -1.1 2.9 -1.4 2.9 -1.9 3.1 -2.3 3.1 -2.7 3.2 -3.1 3.1 -3.6 3.2 -4 3 -4.4 3 -4.8 2.8 -5.2 2.6 -5.5 2.4 -5.7 2.1 -5.9 1.7 -6.1 1.4 -6.1 1 -6 0.6 -6 0 -5.7 -0.4 -5.5 -1 -5 -1.5 -4.5 -2.1 -4 -2.6 -3.3 -3 -2.7 -3.6 -1.9 -4 -1.1 -4.3 -0.4 -4.7 0.3 -4.9 1.1 -5.1 1.8 -5.3 2.5 -5.3 3.1 -5.4 3.7 -5.3 4.2 -5.1 4.7 -5.1 5 -4.9 5.3 -4.6 5.7 -4.4 5.9 -4.1 6 -3.8 6.2 -3.6 6.3 -3.2 6.3 -2.9 6.4 -2.6 6.4 -2.3 6.3 -2 6.3 -1.6 6.3 -1.4 6.2 -1.1 6.1 -0.9 6 -0.5 5.8 -0.3 5.8 -0.1 5.6 0.2 5.5 0.5 5.3 0.7 5.1 1 5 1.2 4.8 1.5 4.5 1.7 4.4 2 4.1 2.3 3.8 2.5 3.6 2.9 3.2 3.1 3 3.5 2.5 3.8 2.1 4.2 1.7 4.5 1.1 5 0.6 5.3 -0.1 5.8 -0.8 6.2 -1.6 6.6 -2.5 7.1 -3.4 7.5 -4.6 7.9 -5.9 8.3 -7.1 8.6 -8.6 8.9 -10.2 9.1 -11.7 9.2 -13.5 9 -15.2 8.8 -16.8 8.4 -18.3 7.6 -19.7 6.7 -20.7 5.4 -21.3 4 -21.5 2.2 -21.2 0.2 -20.1 -2 -18.6 -4.2 -16.5 -6.5 -13.8 -8.8 -10.9 -10.8 -7.6 -12.7 -4.4 -14.2 -1.3 -15.4 1.6 -16.2 4.2 -16.7 6.3 -16.9 8 -16.6 9.4 -16.1 10.2 -15.5 10.9 -14.6 11 -13.6 11.1 -12.6 10.9 -11.5 10.6 -10.4 10.3 -9.4 9.7 -8.4 9.4 -7.5 8.8 -6.6 8.3 -5.8 8 -5.1 7.4 -4.5 7.1 -4 6.7 -3.4 6.3 -3.1 6 -2.7 5.7 -2.5 5.4 -2.2 5.1 -2.1 4.9 -1.9 4.6 -1.8 4.3 -1.8 4.1 -1.8 3.8 -1.8 3.6 -1.8 3.4 -1.9 3 -2 2.8 -2.1 2.5 -2.2 2.3 -2.3 1.9 -2.5 1.5 -2.6 1.2 -2.7 0.9 -3 0.5 -3 0 -3.3 -0.4 -3.3 -0.8 -3.6 -1.4 -3.6 -1.8 -3.8 -2.4 -3.8 -2.9 -3.9 -3.5 -4 -4 -4 -4.6 -3.9 -5.1 -3.9 -5.7 -3.7 -6.2 -3.5 -6.7 -3.3 -7.1 -2.9 -7.4 -2.6 -7.7 -2.2 -7.8 -1.6 -7.9 -1.1 -7.8 -0.5 -7.6 0.2 -7.3 0.9 -6.8 1.6 -6.2 2.3 -5.4 3 -4.7 3.7 -3.7 4.4 -2.8 4.9 -1.8 5.4 -0.7 5.9 0.2 6.2 1.2 6.5 2.1 6.7 3 6.8 3.8 6.7 4.4 6.7 5.1 6.6 5.6 6.3 6 6.1 6.4 5.8 6.7 5.4 7 5.2 7 4.7 7.2 4.4 7.3 4 7.3 3.6 7.3 3.3 7.3 2.9 7.2 2.6 7.2 2.3 7.1 1.9 7 1.7 6.8 1.4 6.8 1.2 6.7 0.8 6.5 0.7 6.4 0.5 6.3 0.2 6.1 0 6 -0.1 5.9 -0.4 5.7 -0.5 5.6 -0.7 5.4 -0.9 5.3 -1 5.1 -1.3 5 -1.5 4.8 -1.6 4.6 -1.9 4.4 -2.1 4.2 -2.3 4 -2.6 3.8 -2.9 3.6 -3.2 3.2 -3.5 3 -3.8 2.6 -4.2 2.2 -4.6 1.8 -5.1 1.2 -5.5 0.7 -6 0.1 -6.6 -0.7 -7.1 -1.5 -7.8 -2.6 -8.3 -3.6 -9 -5 -9.7 -6.5 -10.3 -8.2 -10.9 -10 -11.4 -12.2 -11.9 -14.5 -12.2 -17 -12.4 -19.6 -12.3 -22.2 -11.9 -24.8 -11.2 -27.2 -10 -29.2 -8.4 -30.5 -6.3 -31.2 -3.7 -30.8 -0.8 -29.4 2.5 -26.9 6.1 -23.3 9.6 -19.1 13 -14.1 16.1 -9.1 18.8 -4 20.9 0.6 22.4 4.6 23.2 7.8 23.4 10.3 23.1 11.8 22.4 12.7 21.2 12.9 19.7 12.8 18.2 12.3 16.4 11.5 14.7 10.7 13 9.7 11.3 8.9 9.7 7.9 8.2 7.2 6.7 6.6 5.6 5.9 4.3 5.6 3.3 5.1 2.4 4.9 1.5 4.8 0.9 4.6 0.2 4.6 -0.3 4.5 -0.7 4.7 -1.1 4.6 -1.4 4.8 -1.6 4.8 -1.8 4.9 -1.8 5.1 -1.9 5 -1.9 5.2 -1.9 5.2 -1.8 5.3 -1.7 5.3 -1.6 5.3 -1.5 5.3 -1.3 5.2 -1.1 5.3 -1 5.1 -0.7 5.1 -0.6 5.1 -0.3 4.9 -0.1 4.8 0.1 4.7 0.3 4.5 0.5 4.4 0.8 4.2 1 4 1.3 3.8 1.5 3.6 1.7 3.3 2 3.1 2.3 2.7 2.5 2.4 2.8 2.1 3.1 1.6 3.3 1.3 3.7 0.8 3.9 0.2 4.2 -0.2 4.5 -0.9 4.8 -1.6 5.1 -2.2 5.3 -3 5.5 -3.8 5.8 -4.6 5.9 -5.6 6 -6.5 6.1 -7.4 6.2 -8.5 6 -9.4 5.8 -10.3 5.6 -11.2 5.2 -12 4.6 -12.6 3.9 -13 3.2 -13.3 2.2 -13.2 1.2 -13 0 -12.4 -1.3 -11.6 -2.5 -10.4 -3.8 -9.1 -5.2 -7.5 -6.3 -5.8 -7.4 -3.9 -8.5 -2.2 -9.3 -0.4 -9.9 1.3 -10.5 2.9 -10.7 4.3 -10.9 5.5 -10.9 6.5 -10.6 7.3 -10.3 8 -10 8.5 -9.4 8.8 -8.9 9.1 -8.3 9.1 -7.6 9.2 -7.1 9.1 -6.5 9 -5.9 8.9 -5.3 8.7 -4.9 8.5 -4.4 8.4 -3.9 8.1 -3.6 7.9 -3.2 7.7 -3 7.4 -2.7 7.3 -2.5 7 -2.3 6.9 -2.2 6.6 -2.1 6.5 -2 6.2 -2 6 -2 5.9 -2 5.6 -2 5.4 -2.2 5.2 -2.2 5 -2.4 4.8 -2.5 4.5 -2.7 4.2 -2.8 4 -3.1 3.7 -3.4 3.4 -3.6 3 -3.9 2.6 -4.2 2.3 -4.6 1.7 -4.9 1.2 -5.4 0.6 -5.8 0 -6.2 -0.8 -6.7 -1.7 -7.2 -2.6 -7.7 -3.7 -8.2 -4.9 -8.7 -6.2 -9.1 -7.8 -9.6 -9.4 -9.9 -11.1 -10.2 -13.1 -10.3 -15.1 -10.3 -17 -10 -19.1 -9.5 -20.9 -8.8 -22.6 -7.7 -23.8 -6.3 -24.7 -4.5 -24.9 -2.4 -24.4 -0.1 -23.2 2.5 -21.2 5.2 -18.5 7.9 -15.3 10.6 -11.6 12.9 -7.8 15.1 -3.9 16.7 -0.3 18 3 18.8 5.7 19.1 8 19.1 9.6 18.7 10.8 17.9 11.5 17 11.7 15.8 11.8 14.7 11.4 13.3 11.1 12.1 10.5 10.7 9.9 9.6 9.3 8.4 8.7 7.3 8.1 6.3 7.5 5.5 7 4.6 6.6 4 6.2 3.3 5.8 2.7 5.5 2.4 5.3 1.9 4.9 1.6 4.8 1.3 4.5 1.1 4.4 1 4.2 0.8 4 0.7 3.9 0.7 3.8 0.7 3.6 0.7 3.5 0.7 3.3 0.7 3.1 0.9 3 0.9 2.8 1 2.7 1.2 2.4 1.2 2.3 1.4 2 1.6 1.8 1.6 1.6 1.8 1.2 2 1 2.1 0.8 2.3 0.3 2.4 0.1 2.5 -0.3 2.7 -0.6 2.8 -1.1 2.9 -1.4 3 -1.9 3 -2.2 3.1 -2.8 3.2 -3.1 3.1 -3.6 3.2 -3.9 3 -4.4 3 -4.8 2.8 -5.2 2.6 -5.4 2.4 -5.7 2.1 -5.9 1.8 -6.1 1.4 -6.1 1 -6.1 0.5 -5.9 0.1 -5.8 -0.4 -5.4 -1 -5 -1.5 -4.6 -2.1 -4 -2.5 -3.3 -3.1 -2.7 -3.5 -1.9 -4 -1.2 -4.3 -0.4 -4.7 0.3 -4.9 1.1 -5.1 1.8 -5.2 2.5 -5.4 3.1 -5.3 3.7 -5.3 4.1 -5.2 4.7 -5 5 -4.9 5.3 -4.7 5.7 -4.3 5.8 -4.2 6.1 -3.8 6.1 -3.5 6.3 -3.3 6.3 -2.9 6.4 -2.6 6.4 -2.3 6.3 -2 6.4 -1.6 6.2 -1.4 6.2 -1.2 6.1 -0.8 6 -0.6 5.9 -0.3 5.7 0 5.6 0.2 5.5 0.5 5.3 0.7 5.2 0.9 4.9 1.2 4.8 1.5 4.6 1.7 4.3 2 4.1 2.3 3.9 2.5 3.5 2.9 3.3 3.1 2.9 3.5 2.6 3.8 2.1 4.2 1.6 4.5 1.2 5 0.6 5.3 -0.1 5.7 -0.8 6.2 -1.6 6.7 -2.4 7 -3.5 7.5 -4.6 7.9 -5.8 8.3 -7.1 8.6 -8.6 8.9 -10.1 9.1 -11.8 9.1 -13.4 9.1 -15.1 8.8 -16.8 8.3 -18.3 7.6 -19.6 6.7 -20.7 5.5 -21.3 4 -21.5 2.2 -21.1 0.2 -20.2 -1.9 -18.6 -4.2 -16.5 -6.5 -13.8 -8.7 -10.9 -10.8 -7.7 -12.6 -4.4 -14.2 -1.4 -15.4 1.6 -16.2 4.1 -16.7 6.3 -16.8 8 -16.6 9.4 -16.1 10.2 -15.5 10.8 -14.6 11.1 -13.6 11 -12.6 11 -11.5 10.6 -10.5 10.2 -9.4 9.8 -8.4 9.3 -7.5 8.9 -6.6 8.3 -5.8 8 -5.2 7.4 -4.5 7.1 -3.9 6.7 -3.5 6.4 -3.1 6 -2.7 5.7 -2.4 5.4 -2.3 5.1 -2 4.8 -2 4.6 -1.8 4.4 -1.8 4.1 -1.8 3.8 -1.8 3.6 -1.9 3.4 -1.9 3.1 -1.9 2.8 -2.1 2.5 -2.2 2.2 -2.4 1.9 -2.4 1.6 -2.6 1.2 -2.8 0.8 -2.9 0.5 -3.1 0 -3.3 -0.4 -3.3 -0.8 -3.6 -1.4 -3.6 -1.8 -3.8 -2.4 -3.9 -2.9 -3.9 -3.5 -4 -4 -3.9 -4.6 -4 -5.2 -3.8 -5.7 -3.8 -6.2 -3.5 -6.7 -3.3 -7.1 -3 -7.5 -2.6 -7.7 -2.1 -7.8 -1.7 -7.9 -1 -7.9 -0.5 -7.6 0.2 -7.3 0.9 -6.8 1.6 -6.2 2.3 -5.5 3.1 -4.6 3.7 -3.7 4.3 -2.8 5 -1.8 5.4 -0.7 5.9 0.2 6.3 1.2 6.5 2.2 6.7 3 6.8 3.7 6.7 4.5 6.7 5.1 6.6 5.6 6.4 6.1 6.1 6.4 5.8 6.7 5.4 6.9 5.2 7.1 4.7 7.3 4.4 7.2 4 7.4 3.7 7.3 3.2 7.3 3 7.2 2.6 7.2 2.2 7.1 2 7 1.7 6.8 1.4 6.8 1.1 6.7 0.9 6.5 0.7 6.4 0.4 6.3 0.3 6.1 0 6 -0.1 5.9 -0.4 5.7 -0.5 5.6 -0.7 5.5 -0.8 5.3 -1.1 5.1 -1.2 5 -1.5 4.8 -1.6 4.6 -1.9 4.4 -2 4.3 -2.4 4 -2.5 3.8 -2.9 3.6 -3.1 3.2 -3.5 3 -3.8 2.7 -4.1 2.2 -4.6 1.9 -5 1.3 -5.5 0.8 -6 0.1 -6.5 -0.6 -7.1 -1.4 -7.6 -2.4 -8.3 -3.6 -9 -4.8 -9.6 -6.3 -10.2 -8 -10.9 -9.8 -11.4 -12 -11.9 -14.2 -12.2 -16.7 -12.5 -19.4 -12.3 -22 -12 -24.6 -11.4 -27.1 -10.2 -29.1 -8.6 -30.5 -6.6 -31.3 -4.1 -31.1 -1.2 -29.7 2.2 -27.4 5.6 -24 9.3 -19.6 12.7 -14.8 15.8 -9.6 18.6 -4.6 20.8 0.1 22.4 4.3 23.2 7.5 23.6 10.1 23.3 11.7 22.5 12.6 21.4 13.1 20 12.8 18.4 12.4 16.7 11.6 14.9 10.7 13.2 9.8 11.5 8.9 9.8 8 8.4 7.3 6.9 6.5 5.6 6 4.4 5.6 3.4 5.1 2.4 4.9 1.6 4.8 0.9 4.6 0.2 4.6 -0.3 4.5 -0.8 4.7 -1.1 4.7 -1.4 4.7 -1.7 4.9 -1.8 4.9 -1.9 5.1 -2 5.1 -1.9 5.2 -2 5.3 -1.9 5.3 -1.8 5.3 -1.6 5.4 -1.5 5.4 -1.4 5.3 -1.2 5.3 -1 5.3 -0.8 5.1 -0.6 5.2 -0.5 5 -0.1 4.9 0 4.7 0.3 4.7 0.4 4.4 0.8 4.4 0.9 4.1 1.2 3.9 1.5 3.7 1.6 3.4 2 3.2 2.2 2.8 2.5 2.6 2.7 2.2 3 1.8 3.3 1.4 3.6 1 3.9 0.4 4.2 0 4.4 -0.7 4.8 -1.3 5 -2 5.3 -2.8 5.6 -3.5 5.8 -4.5 5.9 -5.3 6.2 -6.3 6.2 -7.2 6.2 -8.3 6.2 -9.2 6 -10.2 5.8 -11.2 5.5 -11.9 4.9 -12.7 4.3 -13.2 3.5 -13.5 2.6 -13.6 1.6 -13.4 0.4 -12.9 -0.9 -12.2 -2.1 -11 -3.5 -9.8 -4.8 -8.2 -6.1 -6.4 -7.3 -4.7 -8.3 -2.7 -9.3 -1 -10 0.9 -10.5 2.5 -10.9 4 -11.1 5.2 -11.1 6.4 -11 7.2 -10.6 8 -10.2 8.5 -9.8 8.8 -9.2 9.1 -8.6 9.2 -7.9 9.3 -7.4 9.2 -6.7 9.1 -6.2 9 -5.6 8.8 -5 8.6 -4.6 8.4 -4.1 8.1 -3.7 8 -3.4 7.7 -3.1 7.5 -2.8 7.3 -2.6 7.1 -2.4 6.9 -2.3 6.6 -2.1 6.4 -2.1 6.3 -2.1 6 -2.1 5.8 -2 5.6 -2.2 5.4 -2.2 5.2 -2.3 4.9 -2.4 4.7 -2.6 4.4 -2.7 4.2 -3 3.9 -3.2 3.6 -3.4 3.2 -3.7 2.9 -4 2.5 -4.3 2 -4.7 1.5 -5 1 -5.5 0.4 -5.8 -0.3 -6.3 -1.2 -6.8 -2 -7.3 -3 -7.7 -4.1 -8.2 -5.3 -8.6 -6.7 -9.1 -8.2 -9.4 -9.8 -9.7 -11.6 -9.9 -13.5 -10 -15.3 -9.8 -17.3 -9.5 -19.1 -8.8 -20.8 -8.1 -22.2 -6.8 -23.2 -5.4 -23.8 -3.5 -23.7 -1.5 -22.9 0.9 -21.6 3.4 -19.4 6 -16.7 8.5 -13.4 11 -9.9 13.1 -6.2 15 -2.6 16.5 0.7 17.6 3.7 18.2 6.2 18.4 8.2 18.3 9.8 17.8 10.7 17 11.3 16.1 11.5 15 11.6 13.9 11.2 12.6 10.9 11.4 10.3 10.2 9.9 9 9.2 8 8.7 7 8.1 6.1 7.6 5.3 7.2 4.5 6.7 3.9 6.3 3.3 5.9 2.8 5.6 2.5 5.4 2 5 1.8 4.8 1.6 4.6 1.4 4.4 1.2 4.2 1.2 4 1.1 3.8 1.1 3.6 1 3.5 1.1 3.3 1.2 3 1.2 2.9 1.3 2.6 1.4 2.5 1.5 2.2 1.6 2 1.8 1.7 1.9 1.5 2 1.1 2.1 0.9 2.3 0.5 2.5 0.2 2.6 -0.1 2.7 -0.5 2.8 -0.9 2.9 -1.4 3.1 -1.7 3.1 -2.2 3.2 -2.6 3.2 -3 3.2 -3.5 3.3 -3.9 3.1 -4.4 3.1 -4.8 2.9 -5.1 2.8 -5.5 2.5 -5.7 2.3 -6 1.9 -6.2 1.6 -6.3 1.2 -6.2 0.7 -6.2 0.2 -5.9 -0.3 -5.7 -0.8 -5.3 -1.4 -4.8 -1.9 -4.3 -2.5 -3.6 -2.9 -3 -3.5 -2.2 -4 -1.4 -4.3 -0.7 -4.7 0.2 -4.9 0.9 -5.2 1.6 -5.4 2.3 -5.4 3 -5.5 3.6 -5.4 4.1 -5.4 4.6 -5.2 5.1 -5 5.3 -4.8 5.7 -4.6 5.9 -4.2 6.1 -4 6.2 -3.7 6.4 -3.4 6.4 -3.1 6.5 -2.7 6.4 -2.5 6.5 -2.1 6.4 -1.8 6.3 -1.5 6.3 -1.3 6.2 -0.9 6.1 -0.7 6 -0.4 5.9 -0.2 5.7 0.1 5.6 0.3 5.5 0.6 5.3 0.8 5.1 1.1 4.9 1.3 4.8 1.6 4.5 1.8 4.3 2.1 4 2.4 3.8 2.7 3.5 3 3.2 3.2 2.9 3.7 2.4 3.9 2 4.3 1.6 4.7 1 5.2 0.4 5.5 -0.2 5.9 -1 6.4 -1.8 6.9 -2.8 7.3 -3.8 7.7 -4.9 8.2 -6.3 8.6 -7.6 8.9 -9.1 9.2 -10.8 9.3 -12.5 9.4 -14.2 9.3 -16 8.9 -17.6 8.5 -19.3 7.6 -20.5 6.6 -21.6 5.3 -22.1 3.7 -22.2 1.7 -21.6 -0.3 -20.5 -2.6 -18.6 -5 -16.3 -7.4 -13.4 -9.6 -10.3 -11.8 -6.9 -13.5 -3.5 -15.1 -0.4 -16.1 2.5 -17 5.1 -17.2 7.1 -17.3 8.8 -17 9.9 -16.3 10.6 -15.6 11.1 -14.7 11.3 -13.6 11.1 -12.5 10.9 -11.3 10.6 -10.3 10.1 -9.2 9.5 -8.2 9.1 -7.2 8.6 -6.4 8.1 -5.6 7.6 -4.9 7.2 -4.2 6.8 -3.7 6.4 -3.3 6.1 -2.8 5.8 -2.6 5.4 -2.2 5.2 -2 4.9 -1.9 4.6 -1.7 4.5 -1.7 4.1 -1.6 4 -1.6 3.7 -1.6 3.5 -1.6 3.2 -1.7 3 -1.8 2.7 -1.9 2.5 -1.9 2.2 -2.1 1.9 -2.3 1.6 -2.3 1.3 -2.6 0.9 -2.6 0.6 -2.8 0.2 -3 -0.2 -3.1 -0.7 -3.2 -1 -3.4 -1.6 -3.4 -2 -3.6 -2.5 -3.6 -3 -3.7 -3.6 -3.7 -4 -3.6 -4.6 -3.6 -5.1 -3.5 -5.5 -3.3 -6 -3.2 -6.3 -2.8 -6.8 -2.5 -6.9 -2.2 -7.2 -1.7 -7.2 -1.2 -7.2 -0.7 -7.1 -0.1 -6.8 0.5 -6.4 1.2 -6 1.8 -5.3 2.4 -4.7 3.1 -3.9 3.7 -3 4.2 -2.1 4.8 -1.3 5.1 -0.3 5.6 0.6 5.8 1.5 6.1 2.3 6.2 3 6.2 3.8 6.3 4.4 6.1 4.9 6 5.4 5.8 5.8 5.6 6.2 5.2 6.4 5 6.6 4.7 6.8 4.3 6.8 3.9 7 3.6 7 3.3 7 2.9 7 2.6 6.9 2.3 6.9 1.9 6.7 1.7 6.7 1.3 6.6 1.1 6.5 0.9 6.4 0.6 6.3 0.3 6.1 0.1 6 -0.1 5.8 -0.3 5.7 -0.5 5.5 -0.8 5.4 -0.9 5.3 -1.2 5 -1.4 4.9 -1.6 4.6 -1.9 4.5 -2.1 4.3 -2.4 4 -2.6 3.7 -2.9 3.5 -3.2 3.2 -3.6 2.8 -3.9 2.5 -4.3 2 -4.7 1.6 -5.1 1 -5.5 0.4 -6 -0.3 -6.6 -1.1 -7 -2 -7.6 -3 -8.2 -4.2 -8.7 -5.4 -9.2 -7 -9.8 -8.6 -10.3 -10.4 -10.6 -12.3 -10.9 -14.5 -11.1 -16.6 -11 -18.9 -10.8 -21.1 -10.1 -23.2 -9.3 -24.9 -8 -26.3 -6.4 -27.1 -4.3 -27.1 -2 -26.4 0.8 -24.7 3.6 -22.2 6.7 -19 9.7 -15.2 12.5 -10.9 15 -6.6 17.2 -2.4 18.8 1.4 20 4.7 20.6 7.4 20.7 9.6 20.5 10.9 19.7 11.8 18.8 12.2 17.6 12.2 16.2 11.9 14.8 11.3 13.4 10.8 11.9 10 10.5 9.4 9.1 8.6 8 7.9 6.8 7.4 5.7 6.7 4.8 6.3 4 5.9 3.2 5.6 2.5 5.2 2 5 1.5 4.8 1 4.6 0.7 4.5 0.5 4.4 0.2 4.3 0 4.2 -0.1 4.2 -0.2 4.1 -0.2 4 -0.2 4 -0.3 3.9 -0.2 3.9 -0.1 3.8 -0.1 3.7 0.1 3.6 0.1 3.5 0.3 3.3 0.4 3.3 0.6 3.1 0.7 3 0.9 2.8 1 2.5 1.3 2.4 1.4 2.2 1.6 1.9 1.7 1.7 2 1.4 2.1 1 2.4 0.8 2.5 0.4 2.7 0 2.9 -0.3 3 -0.8 3.2 -1.2 3.3 -1.7 3.4 -2.2 3.6 -2.6 3.6 -3.2 3.6 -3.7 3.7 -4.1 3.7 -4.8 3.6 -5.2 3.5 -5.6 3.3 -6.1 3.1 -6.5 2.8 -6.9 2.5 -7.1 2.1 -7.2 1.7 -7.3 1.1 -7.3 0.6 -7.1 0 -6.9 -0.6 -6.4 -1.2 -6 -2 -5.3 -2.5 -4.6 -3.3 -3.8 -3.8 -2.9 -4.3 -2 -4.9 -1.1 -5.3 -0.2 -5.7 0.8 -5.9 1.6 -6.2 2.4 -6.3 3.2 -6.3 3.9 -6.2 4.5 -6.2 5.1 -6.1 5.5 -5.8 5.9 -5.5 6.3 -5.3 6.5 -5 6.7 -4.6 6.8 -4.3 7 -3.9 7 -3.6 7 -3.3 7 -2.8 7 -2.6 7 -2.2 6.9 -2 6.8 -1.6 6.7 -1.3 6.6 -1.1 6.5 -0.9 6.4 -0.5 6.3 -0.4 6.1 -0.1 6 0.1 5.9 0.3 5.7 0.6 5.5 0.7 5.4 1 5.2 1.1 5.1 1.4 4.9 1.6 4.7 1.9 4.5 2 4.3 2.4 4 2.6 3.8 2.9 3.5 3.1 3.3 3.6 2.9 3.8 2.5 4.2 2.1 4.7 1.6 5 1.1 5.5 0.5 6 -0.1 6.5 -1 7 -1.8 7.5 -2.8 8.2 -4 8.6 -5.2 9.3 -6.8 9.8 -8.3 10.3 -10.1 10.7 -12.2 11 -14.2 11.2 -16.4 11.2 -18.8 11 -21 10.4 -23.1 9.6 -25.1 8.4 -26.5 6.8 -27.4 4.9 -27.6 2.4 -27 -0.3 -25.5 -3.2 -23.1 -6.2 -19.9 -9.4 -16 -12.2 -11.8 -14.9 -7.4 -17.2 -3.1 -18.9 0.9 -20.1 4.4 -20.9 7.2 -21 9.4 -20.8 10.9 -20.2 11.9 -19.2 12.2 -17.9 12.3 -16.7 12 -15.1 11.5 -13.7 10.8 -12.2 10.1 -10.8 9.4 -9.4 8.6 -8.1 7.9 -6.9 7.3 -5.8 6.8 -4.9 6.2 -4 5.9 -3.2 5.5 -2.5 5.2 -1.9 4.9 -1.4 4.8 -1 4.6 -0.6 4.5 -0.3 4.4 -0.1 4.4 0.1 4.2 0.3 4.3 0.4 4.2 0.4 4.1 0.4 4.1 0.5 4.1 0.4 4 0.3 3.9 0.3 3.9 0.1 3.8 0.1 3.7 -0.1 3.6 -0.3 3.5 -0.3 3.4 -0.6 3.2 -0.7 3.1 -0.9 2.9 -1 2.7 -1.3 2.5 -1.4 2.3 -1.6 2 -1.9 1.8 -2 1.4 -2.2 1.2 -2.4 0.8 -2.6 0.5 -2.8 0.1 -3 -0.3 -3.1 -0.8 -3.3 -1.2 -3.5 -1.7 -3.6 -2.2 -3.7 -2.7 -3.8 -3.3 -3.9 -3.8 -3.9 -4.3 -3.8 -5 -3.8 -5.4 -3.8 -5.9 -3.5 -6.5 -3.3 -6.8 -3.1 -7.3 -2.7 -7.5 -2.3 -7.7 -1.8 -7.8 -1.3 -7.7 -0.7 -7.6 0 -7.4 0.6 -6.9 1.3 -6.3 2 -5.7 2.7 -5 3.4 -4 4 -3.2 4.6 -2.1 5.2 -1.2 5.6 -0.2 6.1 0.8 6.3 1.7 6.5 2.6 6.7 3.4 6.6 4.2 6.7 4.7 6.5 5.4 6.4 5.8 6.1 6.2 5.9 6.5 5.5 6.8 5.2 6.9 4.9 7.2 4.5 7.2 4.1 7.2 3.8 7.3 3.4 7.2 3 7.2 2.7 7.2 2.4 7.1 2 7 1.8 6.8 1.5 6.8 1.2 6.7 0.9 6.5 0.8 6.5 0.5 6.3 0.3 6.1 0 6.1 -0.1 5.8 -0.3 5.8 -0.5 5.6 -0.7 5.4 -0.8 5.3 -1.1 5.2 -1.3 4.9 -1.4 4.9 -1.7 4.6 -1.9 4.4 -2.1 4.2 -2.3 4.1 -2.7 3.7 -2.9 3.5 -3.1 3.3 -3.6 2.9 -3.8 2.6 -4.3 2.2 -4.6 1.7 -5.1 1.2 -5.6 0.6 -6 0 -6.6 -0.7 -7.2 -1.7 -7.7 -2.7 -8.4 -3.8 -9 -5.1 -9.6 -6.6 -10.2 -8.3 -10.8 -10.2 -11.4 -12.3 -11.7 -14.6 -12.1 -17.1 -12.2 -19.6 -12 -22.2 -11.6 -24.7 -10.8 -26.9 -9.7 -28.8 -7.9 -30 -5.9 -30.5 -3.3 -30.1 -0.4 -28.5 2.9 -26 6.3 -22.5 9.7 -18.2 13.1 -13.4 16.1 -8.4 18.6 -3.5 20.7 0.9 22 4.8 22.8 7.9 23 10.2 22.6 11.7 21.9 12.6 20.8 12.8 19.3 12.7 17.8 12.2 16.1 11.5 14.4 10.6 12.7 9.8 11.1 8.9 9.6 8 8.1 7.3 6.7 6.7 5.5 6.1 4.4 5.6 3.4 5.3 2.5 5 1.7 4.8 1 4.6 0.5 4.6 -0.1 4.6 -0.5 4.5 -0.9 4.6 -1.1 4.7 -1.3 4.7 -1.5 4.8 -1.5 4.8 -1.7 4.9 -1.6 4.9 -1.6 5 -1.6 5 -1.4 5.1 -1.4 5 -1.2 5 -1.1 5 -0.9 4.9 -0.7 4.9 -0.6 4.8 -0.3 4.7 -0.2 4.6 0.1 4.5 0.3 4.3 0.4 4.2 0.8 4.1 0.9 3.8 1.2 3.6 1.4 3.4 1.6 3.2 1.9 2.9 2.2 2.6 2.4 2.2 2.6 2 3 1.5 3.2 1.1 3.4 0.7 3.7 0.2 4 -0.3 4.3 -0.9 4.5 -1.5 4.7 -2.2 5 -2.9 5.2 -3.6 5.3 -4.5 5.5 -5.2 5.6 -6.1 5.7 -7 5.6 -7.9 5.5 -8.7 5.4 -9.6 5 -10.3 4.7 -10.9 4.1 -11.5 3.6 -11.9 2.8 -12 1.9 -12 1 -11.8 0 -11.2 -1.2 -10.5 -2.3 -9.5 -3.5 -8.2 -4.6 -6.9 -5.7 -5.4 -6.7 -3.8 -7.7 -2.1 -8.4 -0.6 -9 1 -9.5 2.5 -9.8 3.7 -9.9 4.9 -9.9 5.9 -9.9 6.7 -9.5 7.4 -9.2 7.9 -8.8 8.3 -8.4 8.5 -7.8 8.8 -7.2 8.8 -6.7 8.8 -6.2 8.7 -5.6 8.7 -5.2 8.6 -4.6 8.4 -4.2 8.3 -3.8 8.1 -3.4 7.9 -3.1 7.7 -2.8 7.6 -2.5 7.3 -2.3 7.2 -2.1 7 -2 6.9 -1.8 6.6 -1.8 6.5 -1.6 6.3 -1.7 6.1 -1.6 6 -1.6 5.8 -1.7 5.6 -1.7 5.4 -1.7 5.3 -1.9 5.1 -2 4.9 -2.1 4.7 -2.3 4.5 -2.4 4.2 -2.7 4.1 -2.8 3.8 -3.2 3.5 -3.3 3.3 -3.7 2.9 -4.1 2.5 -4.3 2.2 -4.8 1.6 -5.2 1.2 -5.7 0.6 -6.2 -0.2 -6.6 -0.9 -7.3 -1.7 -7.8 -2.9 -8.5 -4 -9 -5.3 -9.7 -6.8 -10.3 -8.6 -10.8 -10.5 -11.3 -12.6 -11.8 -14.9 -11.9 -17.3 -12.1 -19.8 -11.8 -22.4 -11.4 -24.8 -10.5 -27 -9.3 -28.7 -7.5 -29.8 -5.5 -30.1 -2.8 -29.5 0.2 -27.9 3.4 -25.1 6.8 -21.6 10.1 -17.3 13.4 -12.5 16.4 -7.5 18.7 -2.9 20.6 1.5 22 5.2 22.6 8.2 22.7 10.3 22.3 11.8 21.5 12.6 20.4 12.8 18.9 12.5 17.4 12.1 15.8 11.4 14.1 10.6 12.4 9.7 10.9 8.8 9.3 8 7.9 7.3 6.6 6.7 5.4 6.1 4.3 5.6 3.4 5.3 2.5 5 1.7 4.8 1.1 4.7 0.4 4.6 0.1 4.6 -0.4 4.5 -0.8 4.6 -1 4.6 -1.1 4.6 -1.4 4.7 -1.4 4.7 -1.5 4.8 -1.4 4.9 -1.5 4.8 -1.4 4.9 -1.3 4.9 -1.2 4.9 -1.1 4.8 -0.9 4.8 -0.7 4.8 -0.6 4.7 -0.5 4.6 -0.2 4.5 0 4.4 0.2 4.3 0.4 4.1 0.6 4 0.8 3.7 1.1 3.6 1.3 3.4 1.5 3.1 1.8 2.9 2 2.6 2.2 2.3 2.5 2 2.8 1.6 3 1.2 3.2 0.8 3.6 0.3 3.7 -0.2 4.1 -0.7 4.2 -1.4 4.5 -1.9 4.8 -2.6 4.9 -3.3 5.1 -4.1 5.2 -4.8 5.3 -5.6 5.4 -6.5 5.4 -7.3 5.3 -8.1 5.1 -8.8 4.8 -9.6 4.6 -10.3 4 -10.7 3.5 -11.1 2.9 -11.4 2.1 -11.4 1.2 -11.2 0.2 -10.7 -0.8 -10.2 -1.8 -9.3 -2.9 -8.2 -4 -6.9 -5.1 -5.6 -6 -4.2 -7 -2.6 -7.7 -1.1 -8.3 0.4 -8.8 1.8 -9.2 3.1 -9.4 4.2 -9.5 5.3 -9.4 6.1 -9.2 6.8 -8.9 7.4 -8.6 7.9 -8.1 8.2 -7.7 8.4 -7.2 8.5 -6.6 8.6 -6.2 8.6 -5.6 8.6 -5.1 8.5 -4.7 8.3 -4.2 8.3 -3.8 8.1 -3.4 7.9 -3.1 7.8 -2.8 7.6 -2.5 7.4 -2.3 7.3 -2 7.1 -1.9 6.9 -1.7 6.8 -1.6 6.6 -1.5 6.5 -1.4 6.3 -1.4 6.1 -1.3 6 -1.4 5.8 -1.3 5.7 -1.4 5.5 -1.5 5.4 -1.5 5.2 -1.5 5.1 -1.7 4.8 -1.8 4.8 -2 4.5 -2.1 4.4 -2.3 4.2 -2.4 4 -2.7 3.7 -3 3.6 -3.2 3.2 -3.5 3 -3.9 2.6 -4.2 2.3 -4.6 1.9 -5.1 1.4 -5.5 0.9 -6 0.2 -6.6 -0.5 -7.2 -1.3 -7.8 -2.3 -8.5 -3.4 -9.1 -4.7 -9.9 -6.2 -10.5 -7.9 -11.3 -9.9 -11.9 -12 -12.5 -14.5 -12.9 -17.1 -13.3 -20 -13.2 -22.9 -13 -25.8 -12.4 -28.6 -11.3 -31 -9.7 -32.8 -7.6 -33.8 -4.9 -33.7 -1.8 -32.5 1.8 -30.1 5.6 -26.4 9.5 -21.7 13.3 -16.3 16.9 -10.6 19.9 -5 22.3 0.1 24.1 4.6 25 8.2 25.3 10.7 24.9 12.4 24.1 13.3 22.7 13.5 21.2 13.2 19.4 12.4 17.5 11.5 15.5 10.5 13.6 9.3 11.6 8.4 9.9 7.4 8.2 6.6 6.6 5.9 5.2 5.4 3.8 5 2.7 4.7 1.6 4.6 0.7 4.5 -0.1 4.6 -0.9 4.6 -1.4 4.8 -1.9 4.9 -2.3 5.1 -2.5 5.3 -2.8 5.5 -3 5.6 -3 5.9 -3 6 -3 6.1 -3 6.2 -2.8 6.2 -2.7 6.4 -2.5 6.3 -2.3 6.4 -2.1 6.4 -2 6.3 -1.6 6.3 -1.5 6.3 -1.2 6.1 -1 6.1 -0.8 6 -0.5 5.8 -0.3 5.8 0 5.6 0.1 5.4 0.5 5.3 0.6 5.2 0.9 4.9 1.1 4.8 1.4 4.5 1.6 4.4 1.9 4.1 2.1 3.8 2.5 3.5 2.7 3.3 3 2.9 3.3 2.5 3.6 2.1 3.9 1.7 4.4 1.1 4.6 0.6 5.1 0 5.4 -0.7 5.8 -1.4 6.2 -2.3 6.6 -3.3 7 -4.2 7.4 -5.4 7.6 -6.6 8 -7.9 8.2 -9.3 8.3 -10.7 8.3 -12.2 8.3 -13.7 8 -15.2 7.6 -16.4 6.9 -17.6 6.1 -18.6 5 -19.1 3.7 -19.3 2.1 -19 0.4 -18.2 -1.4 -16.9 -3.4 -15.2 -5.5 -12.9 -7.4 -10.5 -9.3 -7.7 -11 -4.8 -12.4 -2.1 -13.6 0.6 -14.5 2.9 -15 5.1 -15.2 6.8 -15.1 8.2 -14.9 9.2 -14.4 9.9 -13.7 10.4 -12.9 10.6 -12 10.6 -11.1 10.5 -10.1 10.2 -9.3 10 -8.3 9.6 -7.5 9.2 -6.7 8.8 -6 8.4 -5.3 8 -4.7 7.6 -4.2 7.3 -3.8 7 -3.4 6.6 -3 6.3 -2.8 6 -2.6 5.7 -2.5 5.4 -2.3 5.1 -2.3 4.9 -2.2 4.5 -2.2 4.3 -2.3 4.1 -2.3 3.7 -2.5 3.4 -2.5 3.1 -2.6 2.7 -2.8 2.5 -3 2 -3.1 1.6 -3.3 1.3 -3.6 0.7 -3.7 0.3 -3.9 -0.2 -4.1 -0.8 -4.4 -1.4 -4.5 -2 -4.7 -2.7 -4.9 -3.3 -5 -4.1 -5.1 -4.9 -5.1 -5.6 -5.2 -6.4 -5.1 -7.2 -5 -7.9 -4.8 -8.7 -4.6 -9.3 -4.2 -9.9 -3.7 -10.3 -3.1 -10.6 -2.5 -10.8 -1.7 -10.7 -0.9 -10.5 0.1 -10 1 -9.4 2 -8.5 3.1 -7.5 4.1 -6.3 5 -4.9 5.9 -3.6 6.8 -2.1 7.4 -0.8 8.1 0.7 8.4 2 8.8 3.1 9 4.3 9 5.2 8.9 6 8.7 6.7 8.5 7.2 8.1 7.7 7.7 7.9 7.3 8.2 6.8 8.3 6.3 8.4 5.8 8.4 5.3 8.4 4.9 8.3 4.4 8.3 4 8.1 3.6 8 3.2 7.8 2.9 7.7 2.6 7.5 2.3 7.4 2 7.2 1.9 7.1 1.7 6.9 1.5 6.8 1.4 6.6 1.3 6.5 1.2 6.3 1.1 6.1 1.1 6.1 1 5.9 1 5.7 1.1 5.6 1 5.5 1.1 5.3 1.1 5.2 1.2 5.1 1.2 5 1.3 4.8 1.5 4.6 1.5 4.5 1.7 4.4 1.8 4.3 2 4 2.1 3.9 2.4 3.7 2.6 3.6 2.8 3.3 3.2 3.1 3.4 2.8 3.8 2.5 4.2 2.2 4.5 1.8 5.1 1.4 5.5 0.8 6.1 0.3 6.7 -0.4 7.3 -1.2 8 -2.2 8.7 -3.3 9.5 -4.6 10.3 -6.2 11.1 -7.9 11.9 -10 12.8 -12.3 13.4 -15 14.1 -18 14.5 -21.2 14.8 -24.5 14.6 -28 14.1 -31.4 13 -34.3 11.4 -36.8 9.2 -38.2 6.3 -38.5 2.7 -37.3 -1.3 -34.6 -5.8 -30.4 -10.3 -24.9 -14.8 -18.6 -19 -11.9 -22.4 -5.4 -25.2 0.7 -27.1 5.6 -28.1 9.6 -28.4 12.2 -27.7 13.7 -26.7 14.3 -25 14.1 -23 13.4 -20.8 12.3 -18.6 11 -16.2 9.6 -13.9 8.3 -11.6 7.1 -9.5 6.1 -7.6 5.4 -5.6 4.8 -4 4.3 -2.4 4.2 -1 4.2 0.2 4.3 1.3 4.5 2.3 4.8 2.9 5.2 3.6 5.5 4.1 5.9 4.5 6.3 4.7 6.6 4.9 6.9 4.9 7.2 4.8 7.4 4.8 7.5 4.6 7.7 4.4 7.8 4.2 7.9 4 7.9 3.7 7.8 3.4 7.9 3.1 7.7 2.8 7.7 2.5 7.7 2.3 7.5 2 7.4 1.7 7.3 1.5 7.2 1.3 7 1.1 6.9 0.9 6.8 0.7 6.7 0.5 6.5 0.3 6.4 0.2 6.2 0 6.1 -0.2 6 -0.3 5.9 -0.4 5.7 -0.6 5.5 -0.7 5.4 -0.9 5.3 -1 5.1 -1.2 5 -1.3 4.8 -1.5 4.7 -1.7 4.5 -1.9 4.3 -2.1 4.2 -2.4 3.9 -2.5 3.7 -2.9 3.5 -3.1 3.3 -3.5 2.9 -3.8 2.6 -4.1 2.3 -4.6 1.9 -5 1.3 -5.5 0.9 -6 0.2 -6.6 -0.5 -7.2 -1.3 -7.8 -2.3 -8.5 -3.4 -9.1 -4.7 -9.9 -6.2 -10.6 -7.9 -11.3 -9.9 -12 -12.1 -12.5 -14.5 -13 -17.2 -13.2 -20 -13.3 -23 -13.1 -26 -12.4 -28.7 -11.4 -31.1 -9.7 -32.9 -7.7 -34 -5 -33.9 -1.8 -32.7 1.8 -30.2 5.6 -26.5 9.6 -21.8 13.5 -16.4 16.9 -10.7 20 -5 22.5 0.2 24.1 4.7 25.2 8.2 25.4 10.8 25 12.5 24.2 13.3 22.8 13.6 21.3 13.1 19.4 12.4 17.5 11.5 15.5 10.5 13.6 9.3 11.7 8.3 9.9 7.4 8.1 6.5 6.6 5.9 5.1 5.3 3.8 5 2.6 4.7 1.6 4.5 0.6 4.5 -0.2 4.6 -1 4.6 -1.5 4.8 -1.9 5 -2.4 5.1 -2.7 5.3 -2.8 5.6 -3.1 5.7 -3.1 5.9 -3.1 6 -3 6.2 -3 6.3 -2.9 6.3 -2.8 6.4 -2.5 6.5 -2.4 6.4 -2.2 6.4 -1.9 6.4 -1.7 6.4 -1.5 6.3 -1.3 6.2 -1 6.1 -0.8 6.1 -0.6 5.9 -0.3 5.8 -0.1 5.7 0.2 5.5 0.3 5.4 0.7 5.2 0.8 5 1.1 4.8 1.3 4.6 1.6 4.5 1.8 4.1 2.1 4 2.4 3.6 2.7 3.4 2.9 3 3.2 2.6 3.6 2.3 3.9 1.8 4.3 1.3 4.6 0.8 5 0.2 5.3 -0.5 5.8 -1.3 6.2 -2 6.6 -3 6.9 -4 7.4 -5.1 7.7 -6.3 8 -7.6 8.2 -9 8.5 -10.5 8.5 -12 8.4 -13.5 8.3 -15 7.9 -16.4 7.3 -17.7 6.5 -18.7 5.4 -19.4 4.2 -19.7 2.7 -19.6 0.9 -18.9 -0.9 -17.7 -3 -16 -5 -13.9 -7 -11.4 -9 -8.6 -10.8 -5.7 -12.4 -2.8 -13.6 0 -14.6 2.4 -15.1 4.7 -15.6 6.6 -15.5 8 -15.2 9.2 -14.8 9.9 -14.1 10.4 -13.3 10.7 -12.5 10.7 -11.4 10.6 -10.6 10.4 -9.5 10 -8.7 9.7 -7.7 9.2 -6.9 8.9 -6.2 8.4 -5.5 8.1 -4.9 7.6 -4.3 7.3 -3.8 6.9 -3.5 6.6 -3.1 6.3 -2.8 6 -2.6 5.6 -2.5 5.4 -2.3 5.1 -2.2 4.9 -2.2 4.5 -2.1 4.3 -2.2 4 -2.3 3.7 -2.3 3.4 -2.4 3.1 -2.5 2.8 -2.7 2.4 -2.8 2.1 -2.9 1.7 -3.2 1.3 -3.3 0.9 -3.5 0.4 -3.8 -0.1 -3.9 -0.6 -4.1 -1.2 -4.3 -1.7 -4.4 -2.4 -4.6 -3.1 -4.8 -3.7 -4.8 -4.4 -4.9 -5.2 -4.9 -5.8 -4.9 -6.7 -4.8 -7.3 -4.6 -8 -4.3 -8.6 -4.1 -9.2 -3.6 -9.6 -3.1 -9.9 -2.6 -10.1 -1.8 -10.1 -1.1 -9.9 -0.2 -9.6 0.7 -9.1 1.6 -8.3 2.5 -7.4 3.5 -6.3 4.5 -5.1 5.3 -3.9 6 -2.6 6.8 -1.2 7.4 0.1 7.8 1.4 8.2 2.5 8.4 3.6 8.5 4.6 8.5 5.4 8.3 6.1 8.2 6.7 7.8 7.1 7.5 7.6 7.2 7.8 6.6 8 6.3 8.1 5.7 8.2 5.3 8.2 4.9 8.2 4.4 8.1 4 8 3.6 7.9 3.2 7.8 2.9 7.7 2.5 7.5 2.3 7.4 2 7.2 1.8 7.1 1.6 7 1.4 6.8 1.3 6.7 1.1 6.5 0.9 6.4 0.9 6.2 0.8 6.1 0.8 6 0.6 5.9 0.7 5.7 0.5 5.6 0.6 5.5 0.6 5.3 0.5 5.3 0.6 5.1 0.6 5 0.5 4.9 0.7 4.8 0.6 4.7 0.7 4.6 0.8 4.5 0.8 4.3 0.9 4.3 0.9 4.2 1.1 4 1.1 3.9 1.3 3.9 1.4 3.7 1.5 3.6 1.7 3.5 1.9 3.3 2 3.3 2.3 3 2.6 2.9 2.8 2.8 3.1 2.5 3.4 2.3 3.8 2.1 4.2 1.7 4.7 1.4 5.2 1 5.8 0.5 6.3 -0.1 7.1 -0.8 7.7 -1.6 8.6 -2.6 9.5 -3.8 10.3 -5.2 11.4 -6.9 12.3 -8.9 13.4 -11.3 14.5 -14.1 15.4 -17.3 16.2 -20.8 16.9 -24.9 17.2 -29.1 17.2 -33.6 16.6 -37.9 15.4 -41.8 13.4 -44.8 10.6 -46.6 6.7 -46.7 2.2 -44.7 -3 -40.5 -8.8 -34.5 -14.5 -26.9 -20 -18.3 -24.8 -9.8 -28.8 -1.8 -31.6 4.9 -33.2 10.1 -33.7 13.5 -33.3 15.3 -31.8 15.9 -29.8 15.2 -27.3 13.9 -24.4 12.2 -21.5 10.2 -18.4 8.4 -15.3 6.6 -12.4 5.2 -9.5 4.2 -6.8 3.5 -4.3 3.2 -2 3.1 0 3.5 1.9 3.9 3.5 4.6 4.8 5.3 6 6 6.8 6.8 7.4 7.6 7.9 8.1 8.1 8.7 8.1 9.1 8.1 9.4 7.8 9.6 7.6 9.8 7.2 9.8 6.8 9.8 6.3 9.8 5.8 9.6 5.4 9.4 4.9 9.3 4.5 9.1 4 8.9 3.7 8.7 3.3 8.4 3 8.3 2.7 8 2.4 7.8 2.3 7.6 2 7.5 1.9 7.2 1.8 7 1.6 6.8 1.7 6.6 1.6 6.5 1.5 6.2 1.6 6.1 1.6 5.8 1.7 5.7 1.7 5.5 1.9 5.3 1.9 5.1 2.1 4.8 2.3 4.7 2.4 4.4 2.7 4.1 2.8 3.9 3.1 3.6 3.4 3.2 3.6 2.9 4 2.5 4.3 2.1 4.7 1.6 5 1.1 5.5 0.4 5.9 -0.3 6.5 -1 6.8 -1.9 7.4 -2.9 7.9 -4.1 8.5 -5.3 8.9 -6.7 9.4 -8.3 9.8 -10 10.2 -11.8 10.4 -13.8 10.5 -15.9 10.4 -17.9 10.1 -19.9 9.6 -21.8 8.7 -23.5 7.5 -24.6 5.9 -25.4 4.1 -25.3 1.9 -24.7 -0.7 -23.3 -3.3 -20.9 -6.1 -18.1 -8.9 -14.5 -11.5 -10.7 -13.9 -6.7 -15.9 -2.8 -17.5 0.8 -18.7 4 -19.4 6.6 -19.5 8.7 -19.4 10.3 -18.8 11.2 -17.9 11.7 -17 11.9 -15.7 11.8 -14.4 11.3 -13.1 10.9 -11.8 10.3 -10.4 9.7 -9.3 9 -8 8.4 -7 7.8 -6 7.2 -5.2 6.8 -4.3 6.3 -3.6 6 -3.1 5.6 -2.5 5.3 -2 5 -1.7 4.9 -1.3 4.6 -1.1 4.4 -0.8 4.3 -0.8 4.2 -0.5 4 -0.6 3.9 -0.4 3.8 -0.5 3.6 -0.5 3.5 -0.5 3.4 -0.5 3.3 -0.7 3.1 -0.7 2.9 -0.8 2.8 -1 2.6 -1 2.5 -1.2 2.2 -1.4 2 -1.5 1.8 -1.6 1.6 -1.8 1.3 -2 1 -2.1 0.7 -2.3 0.4 -2.4 0 -2.5 -0.3 -2.7 -0.6 -2.8 -1.1 -2.9 -1.4 -3.1 -1.9 -3.1 -2.3 -3.1 -2.7 -3.2 -3.2 -3.2 -3.6 -3.2 -4.1 -3.1 -4.4 -3 -4.9 -2.8 -5.2 -2.7 -5.5 -2.4 -5.8 -2.2 -6 -1.8 -6.2 -1.4 -6.2 -1 -6.2 -0.6 -6 -0.1 -5.9 0.5 -5.5 0.9 -5.1 1.6 -4.6 2 -4.1 2.6 -3.4 3.2 -2.7 3.5 -2 4.1 -1.2 4.4 -0.4 4.7 0.4 5 1.1 5.2 1.8 5.3 2.5 5.4 3.2 5.5 3.7 5.3 4.2 5.3 4.7 5.1 5.1 4.9 5.4 4.8 5.7 4.4 6 4.2 6.1 3.9 6.2 3.5 6.4 3.3 6.4 3 6.4 2.6 6.4 2.3 6.4 2 6.4 1.7 6.3 1.5 6.3 1.1 6.1 0.9 6 0.6 6 0.3 5.8 0.1 5.6 -0.2 5.6 -0.4 5.3 -0.7 5.3 -0.9 5 -1.2 4.8 -1.4 4.7 -1.7 4.4 -1.9 4.2 -2.3 3.9 -2.4 3.7 -2.8 3.3 -3.1 3 -3.4 2.7 -3.8 2.3 -4.1 1.8 -4.5 1.3 -4.8 0.7 -5.3 0.2 -5.7 -0.6 -6.1 -1.4 -6.6 -2.2 -7 -3.2 -7.5 -4.3 -7.9 -5.5 -8.2 -6.8 -8.7 -8.2 -9 -9.8 -9.1 -11.5 -9.3 -13.1 -9.3 -14.9 -9.1 -16.6 -8.6 -18.2 -8.1 -19.7 -7.1 -20.8 -6 -21.7 -4.5 -21.9 -2.8 -21.8 -0.8 -20.9 1.3 -19.5 3.7 -17.5 6 -14.9 8.3 -11.9 10.5 -8.7 12.4 -5.3 14.1 -2.2 15.4 1 16.4 3.6 16.9 5.9 17.1 7.8 17 9.2 16.6 10.2 15.9 10.9 15.1 11.1 14.1 11.2 13 11 11.9 10.7 10.9 10.4 9.7 9.9 8.7 9.4 7.8 8.9 6.8 8.4 6 7.9 5.3 7.5 4.6 7.1 4.1 6.7 3.5 6.3 3.1 6 2.7 5.6 2.5 5.4 2.2 5.1 2 4.9 1.8 4.5 1.8 4.4 1.7 4.1 1.7 3.9 1.6 3.6 1.7 3.4 1.8 3.1 1.8 2.9 1.9 2.6 2 2.3 2.1 2 2.3 1.8 2.4 1.4 2.5 1 2.7 0.7 2.8 0.3 3 -0.1 3.2 -0.5 3.2 -1 3.5 -1.4 3.5 -1.9 3.6 -2.5 3.7 -2.9 3.8 -3.5 3.7 -4 3.8 -4.5 3.7 -5.1 3.6 -5.6 3.5 -6 3.3 -6.5 3 -6.8 2.7 -7.1 2.4 -7.3 1.8 -7.5 1.5 -7.4 0.8 -7.3 0.3 -7.1 -0.4 -6.8 -1 -6.3 -1.7 -5.7 -2.4 -4.9 -3 -4.2 -3.6 -3.4 -4.3 -2.4 -4.8 -1.5 -5.2 -0.5 -5.6 0.4 -6 1.3 -6.2 2.2 -6.3 3 -6.5 3.7 -6.4 4.4 -6.3 4.9 -6.2 5.5 -6 5.8 -5.8 6.2 -5.5 6.5 -5.1 6.8 -4.9 6.8 -4.4 7 -4.2 7.1 -3.7 7.1 -3.4 7.1 -3.1 7.1 -2.7 7 -2.4 7 -2.1 6.9 -1.8 6.8 -1.5 6.7 -1.2 6.6 -1 6.5 -0.7 6.4 -0.5 6.2 -0.2 6.1 -0.1 6 0.2 5.8 0.4 5.6 0.6 5.6 0.8 5.3 1 5.2 1.2 5.1 1.4 4.8 1.7 4.7 1.8 4.5 2.1 4.2 2.4 4.1 2.6 3.7 2.9 3.6 3.2 3.2 3.6 2.9 3.9 2.5 4.2 2.1 4.7 1.6 5.1 1.1 5.5 0.6 6 -0.2 6.6 -0.9 7.1 -1.9 7.6 -2.8 8.3 -4 8.8 -5.3 9.4 -6.8 9.9 -8.4 10.5 -10.3 10.9 -12.3 11.3 -14.5 11.5 -16.8 11.4 -19.1 11.3 -21.5 10.8 -23.8 9.9 -25.7 8.7 -27.2 7 -28.2 5 -28.5 2.5 -27.8 -0.2 -26.3 -3.3 -23.8 -6.5 -20.4 -9.6 -16.4 -12.7 -12 -15.4 -7.4 -17.7 -2.9 -19.5 1.1 -20.8 4.7 -21.4 7.5 -21.7 9.8 -21.3 11.2 -20.6 12.1 -19.5 12.4 -18.3 12.4 -16.9 12.1 -15.4 11.4 -13.8 10.8 -12.3 9.9 -10.8 9.2 -9.3 8.4 -8.1 7.8 -6.8 7.1 -5.7 6.5 -4.7 6 -3.8 5.7 -2.9 5.3 -2.3 5 -1.6 4.9 -1.1 4.7 -0.7 4.5 -0.3 4.5 0.1 4.5 0.2 4.4 0.5 4.3 0.6 4.4 0.7 4.3 0.8 4.4 0.8 4.3 0.8 4.3 0.7 4.3 0.7 4.3 0.6 4.2 0.4 4.1 0.4 4.1 0.2 4 0.1 3.9 -0.1 3.8 -0.3 3.7 -0.4 3.5 -0.7 3.4 -0.8 3.2 -1 3 -1.2 2.8" fill="none" stroke="#00ff00" stroke-width="3.5" stroke-linejoin="round" stroke-linecap="round"/>
<g fill="none" stroke="#ff0000" stroke-linecap="round" stroke-linejoin="round">
<polyline points="2350.5,452.1 2347.7,454.4 2344.9,456.8 2342.3,459.3 2339.7,461.8 2337.1,464.4 2334.6,467.0 2332.0,469.6 2329.4,472.2 2326.8,474.7 2324.2,477.3 2321.6,479.9 2319.1,482.5 2316.6,485.2 2314.2,487.9" stroke-width="8.5"/>
<polyline points="2314.2,487.9 2311.9,490.7 2309.7,493.6 2307.7,496.6 2305.6,499.6 2303.6,502.7 2301.6,505.7 2299.5,508.7 2297.5,511.8 2295.7,514.9 2294.0,518.1 2292.5,521.4 2291.2,524.8" stroke-width="8.0"/>
<polyline points="2291.2,524.8 2289.9,528.3 2288.6,531.7" stroke-width="7.5"/>
<polyline points="2288.6,531.7 2287.4,535.0" stroke-width="7.0"/>
<polyline points="2287.4,535.0 2286.2,538.4" stroke-width="6.5"/>
<polyline points="2286.2,538.4 2285.0,541.9" stroke-width="6.0"/>
<polyline points="2285.0,541.9 2283.9,545.3 2283.0,548.8" stroke-width="5.5"/>
<polyline points="2283.0,548.8 2282.1,552.4 2281.2,555.9 2280.4,559.5" stroke-width="5.0"/>
<polyline points="2280.4,559.5 2279.7,563.0 2278.9,566.6 2278.2,570.1 2277.5,573.7" stroke-width="4.5"/>
<polyline points="2277.5,573.7 2276.7,577.3 2275.8,580.8 2274.7,584.3 2273.5,587.7 2271.9,591.0" stroke-width="4.0"/>
<polyline points="2271.9,591.0 2270.1,594.2 2267.9,597.1 2265.2,599.6 2262.0,601.5 2258.5,602.6 2254.9,602.9 2251.2,602.4 2247.8,601.1 2244.6,599.3 2241.7,597.1 2238.9,594.8 2236.2,592.3 2233.6,589.8 2231.0,587.2 2228.6,584.4 2226.3,581.6 2224.1,578.7 2222.0,575.7 2219.9,572.7 2218.0,569.7 2216.1,566.6 2214.3,563.4 2212.6,560.2 2211.0,556.9 2209.5,553.6 2208.1,550.2 2206.8,546.8 2205.6,543.4 2204.4,539.9 2203.3,536.4 2202.4,532.9 2201.7,529.3 2201.1,525.7 2200.7,522.1 2200.5,518.5 2200.5,514.8 2200.7,511.2 2201.1,507.5 2201.8,504.0 2202.7,500.4 2204.0,497.0 2205.7,493.8 2207.9,490.8 2210.6,488.3 2213.6,486.3 2217.1,485.0 2220.7,484.2 2224.3,483.9 2227.9,484.0 2231.5,484.6 2235.1,485.6 2238.5,486.9 2241.8,488.4 2245.0,490.1 2248.1,492.0 2251.2,494.0 2254.2,496.1 2257.1,498.2 2260.0,500.5 2262.8,502.8 2265.6,505.2 2268.2,507.6 2270.9,510.1 2273.5,512.7 2276.1,515.2 2278.7,517.8 2281.3,520.4 2283.9,522.9 2286.5,525.5 2289.0,528.1 2291.4,530.8 2293.6,533.7 2295.7,536.7 2297.8,539.7 2299.7,542.8 2301.6,545.9 2303.3,549.1 2305.0,552.4 2306.5,555.6 2308.0,559.0 2309.4,562.3 2310.8,565.7 2312.1,569.1 2313.4,572.5 2314.7,575.9 2315.9,579.3 2317.1,582.8 2318.3,586.3 2319.2,589.8 2320.1,593.3 2320.8,596.9 2321.3,600.5 2321.8,604.1 2322.2,607.7 2322.5,611.3 2322.8,615.0 2323.0,618.6 2323.2,622.3 2323.2,625.9 2323.2,629.5 2323.0,633.2 2322.8,636.8" stroke-width="3.5"/>
<polyline points="2322.8,636.8 2322.4,640.4 2321.9,644.0 2321.2,647.6 2320.4,651.2 2319.5,654.7 2318.6,658.2" stroke-width="4.0"/>
<polyline points="2318.6,658.2 2317.6,661.7 2316.5,665.2 2315.2,668.6 2313.8,672.0" stroke-width="4.5"/>
<polyline points="2313.8,672.0 2312.1,675.2 2310.2,678.3" stroke-width="5.0"/>
<polyline points="2310.2,678.3 2308.1,681.3 2305.7,684.1" stroke-width="5.5"/>
<polyline points="2305.7,684.1 2303.1,686.6 2300.3,688.9" stroke-width="6.0"/>
<polyline points="2300.3,688.9 2297.2,690.9 2294.0,692.6 2290.6,694.0 2287.1,695.0 2283.5,695.7" stroke-width="6.5"/>
<polyline points="2283.5,695.7 2279.8,696.0 2276.2,695.9 2272.5,695.5" stroke-width="7.0"/>
<polyline points="2272.5,695.5 2269.0,694.8 2265.4,693.9 2261.9,692.9 2258.5,691.7 2255.1,690.4 2251.7,688.9" stroke-width="6.5"/>
<polyline points="2251.7,688.9 2248.5,687.3 2245.3,685.5 2242.2,683.6 2239.2,681.6 2236.2,679.4" stroke-width="6.0"/>
<polyline points="2236.2,679.4 2233.3,677.2 2230.5,675.0 2227.7,672.6 2224.9,670.3 2222.1,667.9 2219.4,665.4 2216.8,662.9 2214.2,660.4 2211.7,657.7 2209.3,655.0 2206.9,652.2 2204.6,649.4" stroke-width="5.5"/>
<polyline points="2204.6,649.4 2202.3,646.6 2199.9,643.8 2197.6,641.0 2195.3,638.2 2193.0,635.4 2190.8,632.5 2188.8,629.5 2186.8,626.4 2184.9,623.3 2183.2,620.1 2181.5,616.9 2179.8,613.6 2178.2,610.3 2176.6,607.1" stroke-width="5.0"/>
<polyline points="2176.6,607.1 2175.0,603.8 2173.5,600.5 2172.0,597.1 2170.5,593.8 2169.0,590.5 2167.6,587.2 2166.1,583.8 2164.7,580.5 2163.3,577.1 2161.9,573.8 2160.5,570.4 2159.1,567.0 2157.7,563.7 2156.4,560.3 2155.0,556.9 2153.7,553.5 2152.4,550.1 2151.1,546.7 2149.8,543.3 2148.6,539.9 2147.4,536.4 2146.1,533.0 2145.0,529.5 2143.8,526.1 2142.7,522.6 2141.5,519.2 2140.4,515.7 2139.4,512.2 2138.3,508.7 2137.3,505.2 2136.3,501.7 2135.3,498.2 2134.3,494.7" stroke-width="4.5"/>
<polyline points="2134.3,494.7 2133.4,491.2 2132.4,487.7 2131.5,484.2 2130.7,480.6 2129.9,477.1 2129.1,473.5 2128.3,469.9 2127.6,466.4 2126.9,462.8 2126.3,459.2 2125.7,455.6 2125.2,452.0 2124.7,448.4" stroke-width="5.0"/>
<polyline points="2124.7,448.4 2124.3,444.8 2124.0,441.1 2123.7,437.5 2123.4,433.9 2123.3,430.2 2123.2,426.6 2123.2,423.0 2123.3,419.3" stroke-width="5.5"/>
<polyline points="2123.3,419.3 2123.5,415.7 2123.7,412.0 2124.1,408.4 2124.6,404.8" stroke-width="6.0"/>
<polyline points="2124.6,404.8 2125.2,401.2 2126.0,397.6 2127.0,394.1 2128.1,390.7" stroke-width="6.5"/>
<polyline points="2128.1,390.7 2129.5,387.3 2131.0,383.9 2132.8,380.7" stroke-width="7.0"/>
<polyline points="2132.8,380.7 2134.7,377.6 2136.9,374.7 2139.2,371.9" stroke-width="7.5"/>
<polyline points="2139.2,371.9 2141.7,369.2 2144.4,366.8 2147.3,364.4 2150.2,362.3 2153.3,360.3" stroke-width="8.0"/>
<polyline points="2153.3,360.3 2156.5,358.6 2159.7,356.9 2163.1,355.5 2166.5,354.2 2170.0,353.1 2173.6,352.2 2177.2,351.5 2180.8,350.9" stroke-width="8.5"/>
<polyline points="2180.8,350.9 2184.4,350.6 2188.0,350.6 2191.7,350.8 2195.3,351.1 2198.9,351.7 2202.5,352.3 2206.1,353.1 2209.7,353.9 2213.2,354.9 2216.7,355.8 2220.2,356.9 2223.6,358.1 2227.0,359.4 2230.4,360.8 2233.7,362.3 2237.0,363.9 2240.2,365.5 2243.5,367.2 2246.7,368.8 2250.0,370.5 2253.2,372.1 2256.5,373.7 2259.7,375.4 2262.9,377.2 2266.1,378.9 2269.3,380.7 2272.4,382.6 2275.6,384.4 2278.7,386.3 2281.8,388.1 2284.9,390.0 2288.0,392.0 2291.1,393.9 2294.1,395.9 2297.2,397.9 2300.2,399.9 2303.3,401.9 2306.3,403.9 2309.4,405.8 2312.4,407.8 2315.5,409.8 2318.5,411.9 2321.5,413.9 2324.5,416.0 2327.4,418.1 2330.4,420.3 2333.4,422.4" stroke-width="9.0"/>
<polyline points="2333.4,422.4 2336.3,424.5 2339.2,426.7 2342.1,428.9 2344.9,431.2 2347.7,433.6 2350.5,435.9 2353.3,438.2 2356.3,440.4 2359.3,442.4 2362.4,444.3 2365.5,446.2 2368.7,448.1 2371.7,450.0 2374.7,452.1 2377.5,454.4 2380.3,456.8 2382.9,459.3 2385.5,461.8 2388.1,464.4 2390.6,467.0 2393.2,469.6 2395.8,472.2 2398.4,474.7 2401.0,477.3 2403.6,479.9 2406.1,482.5 2408.6,485.2 2411.0,487.9" stroke-width="8.5"/>
<polyline points="2411.0,487.9 2413.3,490.7 2415.5,493.6 2417.5,496.6 2419.6,499.6 2421.6,502.7 2423.6,505.7 2425.7,508.7 2427.7,511.8 2429.5,514.9 2431.2,518.1 2432.7,521.4 2434.0,524.8" stroke-width="8.0"/>
<polyline points="2434.0,524.8 2435.3,528.3 2436.6,531.7" stroke-width="7.5"/>
<polyline points="2436.6,531.7 2437.8,535.0" stroke-width="7.0"/>
<polyline points="2437.8,535.0 2439.0,538.4" stroke-width="6.5"/>
<polyline points="2439.0,538.4 2440.2,541.9" stroke-width="6.0"/>
<polyline points="2440.2,541.9 2441.3,545.3 2442.2,548.8" stroke-width="5.5"/>
<polyline points="2442.2,548.8 2443.1,552.4 2444.0,555.9 2444.8,559.5" stroke-width="5.0"/>
<polyline points="2444.8,559.5 2445.5,563.0 2446.3,566.6 2447.0,570.1 2447.7,573.7" stroke-width="4.5"/>
<polyline points="2447.7,573.7 2448.5,577.3 2449.4,580.8 2450.5,584.3 2451.7,587.7 2453.3,591.0" stroke-width="4.0"/>
<polyline points="2453.3,591.0 2455.1,594.2 2457.3,597.1 2460.0,599.6 2463.2,601.5 2466.7,602.6 2470.3,602.9 2474.0,602.4 2477.4,601.1 2480.6,599.3 2483.5,597.1 2486.3,594.8 2489.0,592.3 2491.6,589.8 2494.2,587.2 2496.6,584.4 2498.9,581.6 2501.1,578.7 2503.2,575.7 2505.3,572.7 2507.2,569.7 2509.1,566.6 2510.9,563.4 2512.6,560.2 2514.2,556.9 2515.7,553.6 2517.1,550.2 2518.4,546.8 2519.6,543.4 2520.8,539.9 2521.9,536.4 2522.8,532.9 2523.5,529.3 2524.1,525.7 2524.5,522.1 2524.7,518.5 2524.7,514.8 2524.5,511.2 2524.1,507.5 2523.4,504.0 2522.5,500.4 2521.2,497.0 2519.5,493.8 2517.3,490.8 2514.6,488.3 2511.6,486.3 2508.1,485.0 2504.5,484.2 2500.9,483.9 2497.3,484.0 2493.7,484.6 2490.1,485.6 2486.7,486.9 2483.4,488.4 2480.2,490.1 2477.1,492.0 2474.0,494.0 2471.0,496.1 2468.1,498.2 2465.2,500.5 2462.4,502.8 2459.6,505.2 2457.0,507.6 2454.3,510.1 2451.7,512.7 2449.1,515.2 2446.5,517.8 2443.9,520.4 2441.3,522.9 2438.7,525.5 2436.2,528.1 2433.8,530.8 2431.6,533.7 2429.5,536.7 2427.4,539.7 2425.5,542.8 2423.6,545.9 2421.9,549.1 2420.2,552.4 2418.7,555.6 2417.2,559.0 2415.8,562.3 2414.4,565.7 2413.1,569.1 2411.8,572.5 2410.5,575.9 2409.3,579.3 2408.1,582.8 2406.9,586.3 2406.0,589.8 2405.1,593.3 2404.4,596.9 2403.9,600.5 2403.4,604.1 2403.0,607.7 2402.7,611.3 2402.4,615.0 2402.2,618.6 2402.0,622.3 2402.0,625.9 2402.0,629.5 2402.2,633.2 2402.4,636.8" stroke-width="3.5"/>
<polyline points="2402.4,636.8 2402.8,640.4 2403.3,644.0 2404.0,647.6 2404.8,651.2 2405.7,654.7 2406.6,658.2" stroke-width="4.0"/>
<polyline points="2406.6,658.2 2407.6,661.7 2408.7,665.2 2410.0,668.6 2411.4,672.0" stroke-width="4.5"/>
<polyline points="2411.4,672.0 2413.1,675.2 2415.0,678.3" stroke-width="5.0"/>
<polyline points="2415.0,678.3 2417.1,681.3 2419.5,684.1" stroke-width="5.5"/>
<polyline points="2419.5,684.1 2422.1,686.6 2424.9,688.9" stroke-width="6.0"/>
<polyline points="2424.9,688.9 2428.0,690.9 2431.2,692.6 2434.6,694.0 2438.1,695.0 2441.7,695.7" stroke-width="6.5"/>
<polyline points="2441.7,695.7 2445.4,696.0 2449.0,695.9 2452.7,695.5" stroke-width="7.0"/>
<polyline points="2452.7,695.5 2456.2,694.8 2459.8,693.9 2463.3,692.9 2466.7,691.7 2470.1,690.4 2473.5,688.9" stroke-width="6.5"/>
<polyline points="2473.5,688.9 2476.7,687.3 2479.9,685.5 2483.0,683.6 2486.0,681.6 2489.0,679.4" stroke-width="6.0"/>
<polyline points="2489.0,679.4 2491.9,677.2 2494.7,675.0 2497.5,672.6 2500.3,670.3 2503.1,667.9 2505.8,665.4 2508.4,662.9 2511.0,660.4 2513.5,657.7 2515.9,655.0 2518.3,652.2 2520.6,649.4" stroke-width="5.5"/>
<polyline points="2520.6,649.4 2522.9,646.6 2525.3,643.8 2527.6,641.0 2529.9,638.2 2532.2,635.4 2534.4,632.5 2536.4,629.5 2538.4,626.4 2540.3,623.3 2542.0,620.1 2543.7,616.9 2545.4,613.6 2547.0,610.3 2548.6,607.1" stroke-width="5.0"/>
<polyline points="2548.6,607.1 2550.2,603.8 2551.7,600.5 2553.2,597.1 2554.7,593.8 2556.2,590.5 2557.6,587.2 2559.1,583.8 2560.5,580.5 2561.9,577.1 2563.3,573.8 2564.7,570.4 2566.1,567.0 2567.5,563.7 2568.8,560.3 2570.2,556.9 2571.5,553.5 2572.8,550.1 2574.1,546.7 2575.4,543.3 2576.6,539.9 2577.8,536.4 2579.1,533.0 2580.2,529.5 2581.4,526.1 2582.5,522.6 2583.7,519.2 2584.8,515.7 2585.8,512.2 2586.9,508.7 2587.9,505.2 2588.9,501.7 2589.9,498.2 2590.9,494.7" stroke-width="4.5"/>
<polyline points="2590.9,494.7 2591.8,491.2 2592.8,487.7 2593.7,484.2 2594.5,480.6 2595.3,477.1 2596.1,473.5 2596.9,469.9 2597.6,466.4 2598.3,462.8 2598.9,459.2 2599.5,455.6 2600.0,452.0 2600.5,448.4" stroke-width="5.0"/>
<polyline points="2600.5,448.4 2600.9,444.8 2601.2,441.1 2601.5,437.5 2601.8,433.9 2601.9,430.2 2602.0,426.6 2602.0,423.0 2601.9,419.3" stroke-width="5.5"/>
<polyline points="2601.9,419.3 2601.7,415.7 2601.5,412.0 2601.1,408.4 2600.6,404.8" stroke-width="6.0"/>
<polyline points="2600.6,404.8 2600.0,401.2 2599.2,397.6 2598.2,394.1 2597.1,390.7" stroke-width="6.5"/>
<polyline points="2597.1,390.7 2595.7,387.3 2594.2,383.9 2592.4,380.7" stroke-width="7.0"/>
<polyline points="2592.4,380.7 2590.5,377.6 2588.3,374.7 2586.0,371.9" stroke-width="7.5"/>
<polyline points="2586.0,371.9 2583.5,369.2 2580.8,366.8 2577.9,364.4 2575.0,362.3 2571.9,360.3" stroke-width="8.0"/>
<polyline points="2571.9,360.3 2568.7,358.6 2565.5,356.9 2562.1,355.5 2558.7,354.2 2555.2,353.1 2551.6,352.2 2548.0,351.5 2544.4,350.9" stroke-width="8.5"/>
<polyline points="2544.4,350.9 2540.8,350.6 2537.2,350.6 2533.5,350.8 2529.9,351.1 2526.3,351.7 2522.7,352.3 2519.1,353.1 2515.5,353.9 2512.0,354.9 2508.5,355.8 2505.0,356.9 2501.6,358.1 2498.2,359.4 2494.8,360.8 2491.5,362.3 2488.2,363.9 2485.0,365.5 2481.7,367.2 2478.5,368.8 2475.2,370.5 2472.0,372.1 2468.7,373.7 2465.5,375.4 2462.3,377.2 2459.1,378.9 2455.9,380.7 2452.8,382.6 2449.6,384.4 2446.5,386.3 2443.4,388.1 2440.3,390.0 2437.2,392.0 2434.1,393.9 2431.1,395.9 2428.0,397.9 2425.0,399.9 2421.9,401.9 2418.9,403.9 2415.8,405.8 2412.8,407.8 2409.7,409.8 2406.7,411.9 2403.7,413.9 2400.7,416.0 2397.8,418.1 2394.8,420.3 2391.8,422.4" stroke-width="9.0"/>
<polyline points="2391.8,422.4 2388.9,424.5 2386.0,426.7 2383.1,428.9 2380.3,431.2 2377.5,433.6 2374.7,435.9 2371.9,438.2 2368.9,440.4 2365.9,442.4 2362.8,444.3 2359.7,446.2 2356.5,448.1 2353.5,450.0 2350.5,452.1" stroke-width="8.5"/>
</g>
<g fill="none" stroke="#000" stroke-width="3.5" stroke-linejoin="miter">
<rect x="707.0" y="36.5" width="885.5" height="906.0"/>
<rect x="1919.7" y="36.5" width="885.8" height="906.0"/>
</g>
<g stroke="#000" stroke-width="3" stroke-linecap="round">
<line x1="707.0" y1="813.1" x2="721.0" y2="813.1"/>
<line x1="1919.7" y1="813.1" x2="1933.7" y2="813.1"/>
<line x1="707.0" y1="683.6" x2="721.0" y2="683.6"/>
<line x1="1919.7" y1="683.6" x2="1933.7" y2="683.6"/>
<line x1="707.0" y1="554.2" x2="721.0" y2="554.2"/>
<line x1="1919.7" y1="554.2" x2="1933.7" y2="554.2"/>
<line x1="707.0" y1="424.8" x2="721.0" y2="424.8"/>
<line x1="1919.7" y1="424.8" x2="1933.7" y2="424.8"/>
<line x1="707.0" y1="295.4" x2="721.0" y2="295.4"/>
<line x1="1919.7" y1="295.4" x2="1933.7" y2="295.4"/>
<line x1="707.0" y1="165.9" x2="721.0" y2="165.9"/>
<line x1="1919.7" y1="165.9" x2="1933.7" y2="165.9"/>
<line x1="884.1" y1="942.5" x2="884.1" y2="928.5"/>
<line x1="1061.2" y1="942.5" x2="1061.2" y2="928.5"/>
<line x1="1238.3" y1="942.5" x2="1238.3" y2="928.5"/>
<line x1="1415.4" y1="942.5" x2="1415.4" y2="928.5"/>
<line x1="2008.3" y1="942.5" x2="2008.3" y2="928.5"/>
<line x1="2185.4" y1="942.5" x2="2185.4" y2="928.5"/>
<line x1="2362.6" y1="942.5" x2="2362.6" y2="928.5"/>
<line x1="2539.8" y1="942.5" x2="2539.8" y2="928.5"/>
<line x1="2716.9" y1="942.5" x2="2716.9" y2="928.5"/>
</g>
<g font-family="'Liberation Serif', serif" font-size="48" fill="#000" stroke="#000" stroke-width="0.55" letter-spacing="0.8">
<text transform="translate(685.6,957.8) scale(1.1,1)" text-anchor="end">0</text>
<text transform="translate(1898.5,957.8) scale(1.1,1)" text-anchor="end">0</text>
<text transform="translate(685.6,828.4) scale(1.1,1)" text-anchor="end">5</text>
<text transform="translate(1898.5,828.4) scale(1.1,1)" text-anchor="end">5</text>
<text transform="translate(685.6,698.9) scale(1.1,1)" text-anchor="end">10</text>
<text transform="translate(1898.5,698.9) scale(1.1,1)" text-anchor="end">10</text>
<text transform="translate(685.6,569.5) scale(1.1,1)" text-anchor="end">15</text>
<text transform="translate(1898.5,569.5) scale(1.1,1)" text-anchor="end">15</text>
<text transform="translate(685.6,440.1) scale(1.1,1)" text-anchor="end">20</text>
<text transform="translate(1898.5,440.1) scale(1.1,1)" text-anchor="end">20</text>
<text transform="translate(685.6,310.7) scale(1.1,1)" text-anchor="end">25</text>
<text transform="translate(1898.5,310.7) scale(1.1,1)" text-anchor="end">25</text>
<text transform="translate(685.6,181.2) scale(1.1,1)" text-anchor="end">30</text>
<text transform="translate(1898.5,181.2) scale(1.1,1)" text-anchor="end">30</text>
<text transform="translate(685.6,51.8) scale(1.1,1)" text-anchor="end">35</text>
<text transform="translate(1898.5,51.8) scale(1.1,1)" text-anchor="end">35</text>
<text transform="translate(706.6,997.6) scale(1.1,1)" text-anchor="middle">0</text>
<text transform="translate(883.7,997.6) scale(1.1,1)" text-anchor="middle">100</text>
<text transform="translate(1060.8,997.6) scale(1.1,1)" text-anchor="middle">200</text>
<text transform="translate(1237.9,997.6) scale(1.1,1)" text-anchor="middle">300</text>
<text transform="translate(1415.0,997.6) scale(1.1,1)" text-anchor="middle">400</text>
<text transform="translate(1592.1,997.6) scale(1.1,1)" text-anchor="middle">500</text>
<text transform="translate(2362.8,997.6) scale(1.1,1)" text-anchor="middle">0</text>
<text transform="translate(2540.0,997.6) scale(1.1,1)" text-anchor="middle">10</text>
<text transform="translate(2717.1,997.6) scale(1.1,1)" text-anchor="middle">20</text>
<text transform="translate(1962.8,1001.2) scale(1.36,1)" stroke-width="1.2" letter-spacing="0">−</text>
<text transform="translate(2005.2,997.6) scale(1.1,1)" text-anchor="start">20</text>
<text transform="translate(2139.8,1001.2) scale(1.36,1)" stroke-width="1.2" letter-spacing="0">−</text>
<text transform="translate(2182.6,997.6) scale(1.1,1)" text-anchor="start">10</text>
</g>
<g font-family="'Liberation Serif', serif" font-size="52" fill="#000" stroke="#000" stroke-width="0.4" letter-spacing="3">
<text x="729" y="97.5">(a)</text>
<text x="1941.5" y="97.5">(b)</text>
</g>
<g font-family="'Liberation Serif', serif" font-size="52" font-style="italic" fill="#000" stroke="#000" stroke-width="0.4">
<text x="1147.5" y="1069" text-anchor="middle">t</text>
<text x="2361.5" y="1070" text-anchor="middle">x</text>
<text transform="translate(581.6,488.5) rotate(-90) scale(1.12,1)" text-anchor="middle">z</text>
<text transform="translate(1794.1,489) rotate(-90) scale(1.12,1)" text-anchor="middle">z</text>
</g>
</svg>
</body></html>
